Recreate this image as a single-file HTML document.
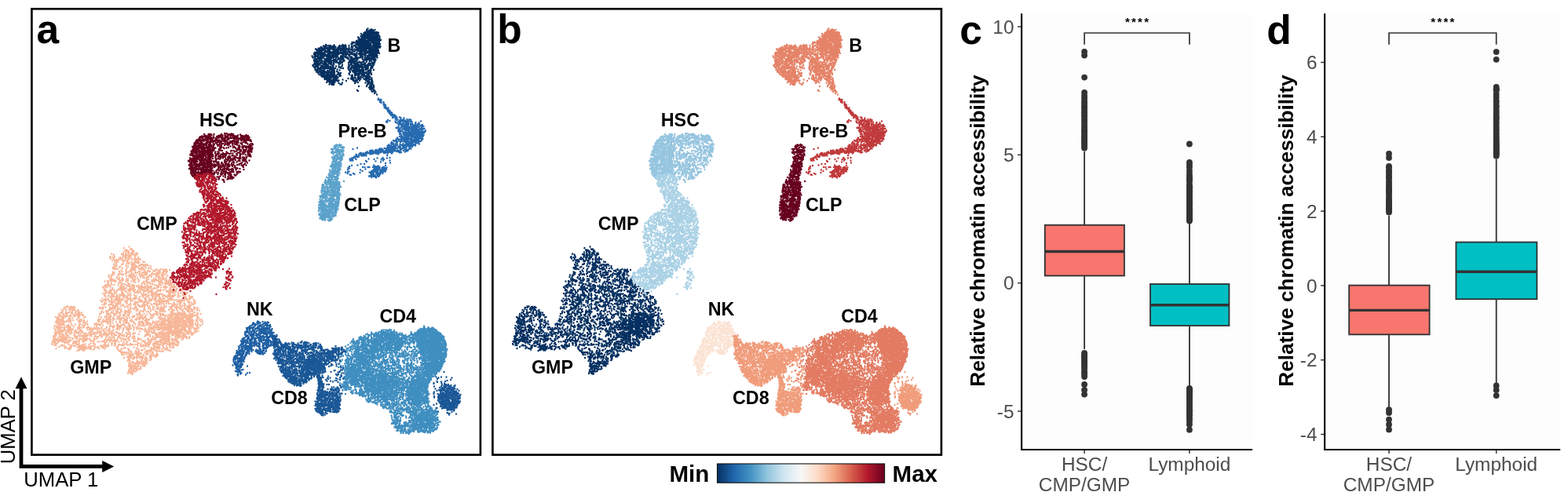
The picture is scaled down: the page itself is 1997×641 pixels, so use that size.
<!DOCTYPE html>
<html lang="en"><head><meta charset="utf-8"><title>Figure</title>
<style>html,body{margin:0;padding:0;background:#fff}figure{margin:0;width:1997px;height:641px;overflow:hidden}svg{display:block}text{font-family:"Liberation Sans",Arial,Helvetica,sans-serif}.lab{font-weight:700;font-size:23.3px;fill:#000}.pl{font-weight:700;font-size:51.5px;fill:#000}.tk{font-size:24.4px;fill:#4d4d4d}.um{font-size:25.7px;fill:#000}.yt{font-weight:700;font-size:26.2px;fill:#000}.mm{font-weight:700;font-size:29.5px;fill:#000}.st{font-size:15px;fill:#000;letter-spacing:2.2px;font-weight:700}</style></head>
<body>
<figure>
<svg width="1997" height="641" viewBox="0 0 1997 641">
<rect width="1997" height="641" fill="#fff"/>
<!-- panel a -->
<g transform="scale(.5)" fill="none" stroke-linecap="round" stroke-width="4.8">
<path stroke="#f7b799" d="M329 629h0m7 6h0m-4 0h0m-17-3h0m3 5h0m2 3h0m1-3h0m0 2h0m4-1h0m0 2h0m1 0h0m8-4h0m4 4h0m1-2h0m2 3h0m8 4h0m-3 1h0m-5-4h0m-3 4h0m-1-1h0m0 1h0m-2-2h0m-6-2h0m-1 4h0m-2-3h0m-5 3h0m0 1h0m-1-5h0m0 4h0m-6-3h0m-30 4h0m5 2h0m1 2h0m20-3h0m2 1h0m2-1h0m0 2h0m0 3h0m5-2h0m3 2h0m1-2h0m4-3h0m0 2h0m2 1h0m4-3h0m0 5h0m2-2h0m5-3h0m1 1h0m2 2h0m2 2h0m2-4h0m3-1h0m2 8h0m-7 3h0m-2-3h0m-11 0h0m-4-1h0m-1 4h0m-1-2h0m0 2h0m-5-2h0m-2-3h0m-1 3h0m-5-2h0m-3 4h0m-4-3h0m-14-1h0m-3 3h0m-2-2h0m-5 3h0m-1-5h0m-1 2h0m6 8h0m4-3h0m3 3h0m3-2h0m1 2h0m3 0h0m2-4h0m2 0h0m3 1h0m5 1h0m1 3h0m2 0h0m4-3h0m4 2h0m2 1h0m2-4h0m2-1h0m7 0h0m0 2h0m6-1h0m2 4h0m2 0h0m2-4h0m3-1h0m1 5h0m2-5h0m4 1h0m10 7h0m-4-1h0m-10 3h0m-1-3h0m-2 3h0m-2 0h0m-1-2h0m-2 0h0m-3-1h0m-1 4h0m-3 0h0m-4-3h0m-6 1h0m-5-1h0m-8-2h0m-3 0h0m-12 1h0m-2 0h0m-2 0h0m-5 2h0m-2 5h0m4 3h0m2-5h0m2 5h0m12-3h0m3-1h0m1-1h0m8 1h0m5-1h0m2 0h0m6 3h0m1-2h0m1 4h0m3-3h0m3-1h0m2 4h0m9 0h0m3-2h0m1 2h0m3-3h0m3 0h0m1 2h0m3 1h0m1-2h0m3-1h0m3 0h0m2 3h0m6 1h0m0 4h0m-12-4h0m0 5h0m-1-4h0m-6 2h0m-1 1h0m-3 0h0m-8 0h0m-4-4h0m-1 3h0m-1-2h0m-2 2h0m0 2h0m-2 0h0m-1-5h0m-3 4h0m-2-1h0m-1 1h0m-9-3h0m-5-1h0m-14 2h0m-3 1h0m-11 0h0m-1-3h0m-2 4h0m-3 0h0m1 2h0m1 1h0m4 1h0m3-1h0m4 1h0m9 3h0m3-5h0m9 4h0m2-4h0m9 5h0m2-4h0m1 2h0m3-2h0m1 4h0m1-2h0m1-3h0m2 3h0m2 2h0m9-4h0m3 0h0m3 0h0m1 3h0m4-2h0m2 1h0m11-3h0m7 1h0m10 4h0m4-3h0m1 2h0m6 1h0m1-1h0m4-2h0m5 3h0m1-2h0m3 1h0m4-1h0m8 1h0m-6 4h0m-3-2h0m0 5h0m-3-4h0m-4 2h0m-8 0h0m-1 2h0m-2 0h0m-1-4h0m-2 4h0m-1 0h0m-6-3h0m-3-2h0m-2 0h0m-8 2h0m-2-1h0m-4-1h0m-1 5h0m-2 0h0m-2-1h0m-2-3h0m-3 3h0m-4 1h0m-6-3h0m-2 0h0m-4 3h0m-6-1h0m-8 1h0m-2-3h0m-5 1h0m-3 0h0m-5-1h0m-10 0h0m-7 0h0m-13 3h0m-4-2h0m-9 8h0m9-3h0m1-1h0m2 2h0m11 1h0m3-2h0m1-2h0m1 0h0m3 4h0m4-2h0m1 2h0m6-2h0m2-2h0m8 4h0m3 0h0m2-2h0m5 1h0m1 1h0m5-4h0m9 3h0m1-2h0m5 2h0m0 2h0m1 0h0m5-5h0m2 5h0m1-2h0m1 1h0m3 0h0m8 1h0m4-2h0m2-3h0m4 2h0m3 1h0m3-2h0m1 2h0m0 2h0m3-1h0m2-1h0m3-3h0m5 3h0m2-3h0m1 3h0m2-2h0m0 4h0m6-1h0m13 7h0m-9-4h0m-11 4h0m-2-3h0m0 3h0m-3-5h0m-4 5h0m-2-3h0m-2 2h0m-4-3h0m-1 2h0m-1 1h0m-10-4h0m-2 4h0m-5-3h0m-2 3h0m-3 0h0m-10-4h0m-1 5h0m-5-3h0m-1 2h0m-1-4h0m-10 1h0m-3 2h0m-4-2h0m-2 0h0m0 2h0m-2 2h0m-2-4h0m-1 2h0m0 2h0m-4-2h0m-1-1h0m-6 0h0m-20-2h0m-4 4h0m-12-4h0m-2 0h0m-1 4h0m-6 0h0m3 5h0m3 2h0m1-3h0m3 2h0m10-4h0m4 3h0m3-3h0m1 5h0m6-5h0m0 4h0m2-1h0m1 2h0m8-2h0m4 0h0m10-2h0m1 1h0m2 2h0m4-4h0m0 1h0m2 4h0m5-4h0m3 4h0m13-5h0m3 0h0m4 5h0m1-5h0m4 4h0m14-2h0m3 3h0m3-1h0m6 1h0m1-2h0m4-2h0m4 4h0m1-1h0m3-3h0m2 3h0m4-4h0m1 5h0m9-2h0m0 2h0m2 2h0m0 3h0m-2 1h0m-2-4h0m-3 3h0m-4-3h0m0 4h0m-3-4h0m-8 4h0m-2 0h0m-1-5h0m0 3h0m-4 1h0m-2-4h0m-2 1h0m-3 0h0m-6 1h0m0 2h0m-3-3h0m-3-1h0m0 5h0m-12 0h0m-1-5h0m-1 3h0m-2 1h0m-5 0h0m-12-4h0m-1 4h0m-11-3h0m-1 2h0m-1-1h0m0 2h0m-5-1h0m-9-2h0m-3 1h0m-2 1h0m-10-1h0m-4-1h0m-2 1h0m-10-1h0m0 2h0m-3 1h0m-1-4h0m-2 1h0m-4 1h0m-4-1h0m-4 3h0m-3-2h0m-7 1h0m7 4h0m2 4h0m7-4h0m1 2h0m1 2h0m17-4h0m3 0h0m2 0h0m2 0h0m3 3h0m5 0h0m2 1h0m7-4h0m1 4h0m4-2h0m14-3h0m16 5h0m2-4h0m5 2h0m1 1h0m7-2h0m1-1h0m1-1h0m2 0h0m2 3h0m1 1h0m6 0h0m16-4h0m0 4h0m3-3h0m6 0h0m5 2h0m2-2h0m1 3h0m1-4h0m0 2h0m3 1h0m2 2h0m1-5h0m2 2h0m3 1h0m1-3h0m2 3h0m0 2h0m7 0h0m9 5h0m-6 1h0m-4-1h0m-2-1h0m-5-1h0m-5-1h0m-9 3h0m-3 1h0m-2-1h0m-6-4h0m-2 0h0m-5 2h0m-3 2h0m-3-3h0m-4-1h0m-8 4h0m-1 0h0m-6 0h0m-1 1h0m-3-1h0m-1-3h0m-5 3h0m-7-1h0m-4 1h0m-5-3h0m-1 4h0m-4-2h0m-6-1h0m-1 1h0m-2-3h0m-1 1h0m-1-1h0m-1 2h0m-5 1h0m0 1h0m-2-1h0m-2 0h0m-1-2h0m-3 1h0m-8 2h0m-1 1h0m-4-5h0m0 5h0m-3-2h0m-6-2h0m-10-1h0m-10 5h0m-1-4h0m-4 2h0m-4-3h0m-1 5h0m-1-5h0m-1 5h0m-1-1h0m-2-1h0m-4 3h0m3 3h0m7-2h0m14 1h0m16 3h0m3 0h0m1-5h0m2 3h0m2 2h0m3-4h0m0 3h0m3-1h0m1 2h0m1-2h0m4-1h0m8 1h0m3 0h0m0 1h0m4-4h0m0 4h0m2 0h0m2 0h0m1-4h0m12 4h0m1-4h0m3 3h0m2-2h0m0 4h0m2 0h0m1-5h0m3 0h0m2 3h0m2-2h0m4 2h0m3-2h0m0 3h0m1 1h0m4-5h0m1 2h0m1-2h0m0 3h0m5 2h0m3-3h0m3 1h0m5-1h0m4-2h0m6 1h0m7 0h0m2-1h0m2 5h0m2-5h0m2 0h0m8 1h0m0 1h0m1 2h0m4-4h0m2 0h0m2 5h0m2-4h0m6 3h0m7 0h0m8 3h0m-1 4h0m-7-3h0m-8-2h0m-1 5h0m-2-4h0m0 2h0m-1-2h0m0 4h0m-4-1h0m-1-3h0m-2 0h0m-3 3h0m-2 0h0m-1-4h0m-2 4h0m-2 1h0m-1 0h0m-2-2h0m-1 2h0m-8-3h0m-6 0h0m-1-1h0m-1 3h0m-1-2h0m-4 0h0m-1 2h0m-1-1h0m-13 2h0m-2-3h0m-1 3h0m-4-1h0m-4-1h0m-1-2h0m-1 2h0m-2-1h0m-3 2h0m-3-4h0m0 4h0m-2-2h0m-7 0h0m-2 3h0m-3 0h0m-2-3h0m-1 3h0m-6-4h0m-2 2h0m-1 2h0m-1-1h0m-5-3h0m-2 2h0m-2-2h0m-2-1h0m0 5h0m-3-4h0m-6 3h0m-2-2h0m-2-1h0m-4-1h0m-1 1h0m-1 4h0m-1-4h0m-3-1h0m-2 0h0m-6 2h0m0 2h0m-6 1h0m-2-4h0m-2-1h0m-4 2h0m0 1h0m-3-3h0m0 5h0m-2-2h0m-9-1h0m-3-2h0m-1 2h0m-4 8h0m5 0h0m2-3h0m0 3h0m4-3h0m4 2h0m1-3h0m1 3h0m2-2h0m0 2h0m2-1h0m3 2h0m6-3h0m3 1h0m15 1h0m1 2h0m2-4h0m1 3h0m8-4h0m4 4h0m6 0h0m12-2h0m4-1h0m3-1h0m1 3h0m7 0h0m7-2h0m11 2h0m5-3h0m3 2h0m1 1h0m1-2h0m1 3h0m2 1h0m3-3h0m0 2h0m3 1h0m2-5h0m1 5h0m6 0h0m4 0h0m4 0h0m16-5h0m1 2h0m2 3h0m2-3h0m4-2h0m1 3h0m2-1h0m2 0h0m11 0h0m6 1h0m9-1h0m5 0h0m4 0h0m4 8h0m-8-4h0m-2 0h0m-4 2h0m-3-1h0m-7 4h0m-4-3h0m-1-2h0m-7 1h0m0 1h0m-3 3h0m-1-2h0m-2 0h0m-4 2h0m-1-2h0m-2 0h0m-1 1h0m-1 0h0m-2-3h0m-1 2h0m-6 2h0m-1-1h0m-2 0h0m-1-2h0m-2 1h0m-2 2h0m-8-2h0m-3 1h0m0 1h0m-1-5h0m-2 2h0m-1-1h0m-2 2h0m-1 2h0m-5-3h0m0 3h0m-4-2h0m-1-1h0m-7 0h0m0 2h0m-3 1h0m-4-5h0m0 5h0m-2-3h0m-2-1h0m-2-1h0m-2 4h0m-2-3h0m0 3h0m-15 0h0m-5-2h0m-9 0h0m-1 3h0m-1-3h0m-5 0h0m-7 1h0m-3-1h0m0 2h0m-1-2h0m-3 2h0m-1-2h0m-2 0h0m-4-1h0m0 4h0m-6-1h0m-1-3h0m-7-1h0m-3 3h0m-4-1h0m-7 1h0m-2 2h0m-6 0h0m-3-3h0m0 2h0m-5 7h0m8 0h0m12-4h0m3 3h0m1-3h0m2-1h0m4 0h0m5 0h0m0 1h0m0 3h0m2-3h0m1 1h0m1 3h0m2-2h0m1 2h0m2-3h0m10 1h0m1-3h0m5 3h0m2-3h0m2 1h0m0 2h0m8 1h0m7 1h0m3-2h0m1-2h0m3 2h0m0 2h0m8 0h0m1-4h0m9 0h0m4 3h0m3 1h0m8-1h0m1 1h0m7-5h0m1 5h0m6-1h0m2-4h0m1 4h0m8-1h0m1-1h0m0 3h0m3 0h0m6-1h0m3 1h0m6-4h0m4 0h0m5 0h0m1 4h0m2-4h0m1 4h0m2-5h0m13 1h0m14 0h0m4 0h0m2 3h0m1-3h0m8 4h0m1-3h0m1 2h0m3-4h0m2 1h0m0 3h0m1-3h0m4 7h0m-11-1h0m-6 1h0m-1-2h0m-2 0h0m-2 1h0m-3 4h0m-4-2h0m-2-1h0m-2 2h0m-3 0h0m-1-2h0m-3 3h0m-5-3h0m-5 1h0m-5-1h0m-4 1h0m-4-3h0m-2 5h0m-1-4h0m-2 4h0m-3-1h0m-7 1h0m-1-3h0m-2 2h0m-2 0h0m-2 1h0m-4-2h0m-2 0h0m0 2h0m-6-2h0m-2-2h0m0 4h0m-2-3h0m-7-1h0m0 3h0m-1-1h0m-3 1h0m-3 0h0m-7-1h0m-3-2h0m-7 3h0m-3 1h0m-1-2h0m-3 1h0m-2-4h0m-10 1h0m-6 3h0m-4-2h0m-2-2h0m-3 0h0m-3 0h0m0 2h0m-2 3h0m-4-1h0m-6-4h0m-2 4h0m-1-2h0m-3-1h0m-3 2h0m-3 2h0m-2-4h0m-1 2h0m-2-3h0m0 3h0m-3 1h0m-2-3h0m-6-1h0m-1 4h0m-6 0h0m-2-3h0m-2-1h0m-4 4h0m-4-2h0m-2 2h0m-6 1h0m-1-1h0m3 3h0m6 4h0m2-2h0m2 2h0m8-5h0m5 2h0m0 1h0m2 2h0m1-5h0m0 3h0m3-2h0m4 3h0m5 1h0m2-1h0m1-2h0m2-1h0m0 2h0m3-3h0m1 3h0m12-1h0m5 0h0m9-2h0m10 4h0m1-2h0m4 0h0m1 2h0m2-2h0m5-1h0m4-1h0m4 3h0m4-1h0m2-2h0m2 1h0m2 2h0m4-1h0m19 3h0m3-4h0m6-1h0m0 3h0m2-2h0m0 3h0m4 0h0m1-1h0m1-3h0m1 0h0m1 3h0m4-3h0m4 1h0m5 2h0m13 1h0m2 0h0m8-4h0m1 1h0m2-1h0m2 2h0m3 2h0m2-2h0m1-2h0m6 5h0m9-5h0m3 3h0m1 1h0m1-3h0m5 3h0m6-3h0m3-1h0m0 5h0m-4 2h0m-1 1h0m-1-1h0m-4 3h0m-4-1h0m-11 1h0m-1-2h0m-1-2h0m-5 5h0m-6-4h0m0 2h0m-2-2h0m-6 0h0m0 4h0m-5-2h0m-1 1h0m-2-2h0m-4 1h0m-4-3h0m-5 0h0m-6 0h0m-6 1h0m0 4h0m-7-2h0m-5-3h0m0 1h0m-2 1h0m-2 0h0m-2-1h0m0 2h0m-1-1h0m-3-1h0m-1-1h0m-3 0h0m-5 3h0m-4-3h0m-6 0h0m-3 2h0m-4 2h0m-2-3h0m-3 1h0m-3 3h0m-9-2h0m-2 1h0m-6-3h0m-4 1h0m-8 0h0m-1-2h0m-4 3h0m-5-3h0m-8 4h0m-2 1h0m-1-2h0m-5-2h0m-5 0h0m-2-1h0m-2 4h0m-2 1h0m-1-3h0m-1 3h0m-6-1h0m-2-4h0m-1 3h0m-1-1h0m-3 0h0m-4 1h0m-7-3h0m-4 2h0m-5 0h0m-98 9h0m1-1h0m5-3h0m0 3h0m3-3h0m1 0h0m4 4h0m3-3h0m2 0h0m0 3h0m4-2h0m2-1h0m0 3h0m3-1h0m64-1h0m7 2h0m1-3h0m6 1h0m11 0h0m3 2h0m5-2h0m1-1h0m1-2h0m2 2h0m0 1h0m2 0h0m6-1h0m7-1h0m11 2h0m5-3h0m3 3h0m6-2h0m0 4h0m12-1h0m1-4h0m2 4h0m7-4h0m3 1h0m4 1h0m2-2h0m3 0h0m2 1h0m0 4h0m8-5h0m5 1h0m0 1h0m9 0h0m2 0h0m7-2h0m4 3h0m6 0h0m3 1h0m4 0h0m2 0h0m2-3h0m3 0h0m10 1h0m4 0h0m1 3h0m3-5h0m5 3h0m2 2h0m2-4h0m1 1h0m5 2h0m2-3h0m5 2h0m7-3h0m2 5h0m5-2h0m1-3h0m2 4h0m1-3h0m2-1h0m1 1h0m0 3h0m10-1h0m1 1h0m3 1h0m6-1h0m4 7h0m-5-4h0m-1 4h0m-7-4h0m-4 3h0m-2 0h0m-1-2h0m-3-1h0m-4 0h0m0 2h0m-4 1h0m0 1h0m-2-2h0m-1-2h0m-5 0h0m-4 3h0m-3-1h0m-2-1h0m-1-1h0m-8-1h0m-1 2h0m-6 3h0m-4-1h0m-2 1h0m-1-5h0m-3 1h0m-4 3h0m-12 1h0m-1-5h0m-2 0h0m0 4h0m-2-4h0m-2 2h0m-2-1h0m-1 4h0m-1-2h0m-4-2h0m-4-1h0m0 1h0m-8 2h0m-2-2h0m-6 0h0m-5-1h0m-9 4h0m-2-3h0m0 3h0m-16-1h0m-2 0h0m0 2h0m-1-5h0m-6 2h0m-3-2h0m-6 0h0m0 2h0m-4 3h0m-2-2h0m-8 2h0m-10-3h0m-1 2h0m-4-3h0m-1 1h0m-4-1h0m-6 0h0m-2 0h0m-5 0h0m-3 0h0m-2 2h0m-1-3h0m-2 4h0m-2 1h0m-13-4h0m-4-1h0m-5 0h0m-55 4h0m-9 0h0m-3-1h0m-2 2h0m-2-4h0m-4 1h0m-2 0h0m-1 0h0m-8 2h0m-5-2h0m-6 2h0m-2 7h0m3-1h0m2-3h0m8 2h0m4 2h0m4-1h0m3-4h0m5 3h0m8 2h0m1-4h0m0 4h0m5-5h0m1 2h0m0 3h0m2 0h0m2-1h0m5 1h0m50-2h0m1-2h0m5 3h0m6-3h0m2 1h0m2-1h0m0 3h0m1-2h0m9 1h0m0 2h0m3 0h0m2-5h0m7 1h0m1 3h0m2-4h0m2 4h0m4 1h0m3-2h0m2-1h0m8 1h0m1 2h0m2 0h0m1-3h0m2 0h0m3-2h0m0 3h0m0 2h0m4-3h0m2 1h0m14-3h0m8 3h0m3-3h0m5 1h0m2 1h0m8 1h0m5-1h0m6-2h0m12 1h0m4 2h0m1 2h0m6-4h0m0 4h0m4-5h0m3 2h0m6 0h0m15 1h0m4-2h0m1 2h0m0 2h0m12-5h0m4 4h0m9-3h0m4 2h0m9-2h0m1 1h0m2-2h0m2 3h0m0 2h0m4-4h0m4 0h0m5 3h0m15 4h0m-7-1h0m-1-1h0m0 3h0m-3 2h0m-8-4h0m-4 1h0m-2 1h0m-2 2h0m-3-1h0m-5 1h0m-3-3h0m-2-1h0m0 2h0m-1 2h0m-1-5h0m-1 2h0m-3 0h0m-1-2h0m-4 2h0m0 2h0m-1-4h0m-2 1h0m-1 3h0m-1 0h0m-2-2h0m-1-2h0m-1 2h0m0 3h0m-1-3h0m-1 2h0m-1 0h0m-1-1h0m-1-2h0m-1 3h0m-3-3h0m-2 3h0m-1-2h0m-2-1h0m0 4h0m-2-4h0m0 2h0m-6 1h0m-13-2h0m-2 3h0m-3-3h0m0 2h0m-3-2h0m0 3h0m-7-4h0m0 4h0m-1-1h0m-1-3h0m-1 1h0m-4 0h0m-1 1h0m-3 2h0m-1-1h0m-6-1h0m-2-3h0m-7 4h0m-7-2h0m-10-1h0m-1 2h0m-2-1h0m-1 1h0m-5-1h0m-18-1h0m-2 4h0m-3-1h0m-7-3h0m-1 3h0m-3 0h0m0 1h0m-7 0h0m-2-3h0m-8 1h0m-1-2h0m-4 2h0m0 2h0m-1-4h0m-1 2h0m-9-1h0m-5 0h0m0 2h0m-3-1h0m-1-3h0m-14 0h0m-4 2h0m-42 3h0m-3-1h0m-5 1h0m-1-5h0m-2 3h0m-1-3h0m-2 4h0m-1-2h0m-5 2h0m-7-2h0m-1-2h0m-3 0h0m-11 2h0m-3-1h0m-5 2h0m-2-1h0m-6 3h0m-4-3h0m-8 8h0m7-3h0m0 3h0m5-2h0m1-2h0m2 4h0m4 0h0m1-2h0m1-2h0m3 3h0m2-2h0m0 2h0m4-2h0m5 1h0m2-2h0m2 1h0m7-1h0m2 2h0m1-2h0m2 0h0m6 2h0m0 2h0m1-3h0m2 1h0m0 2h0m9-4h0m3 5h0m3-1h0m36-2h0m5 3h0m9-1h0m3-1h0m1-2h0m5 3h0m4-2h0m1-1h0m0 3h0m1 0h0m1-2h0m8-2h0m1 1h0m7 2h0m2 1h0m1-1h0m3-2h0m6 4h0m6-3h0m5 1h0m1 1h0m5-3h0m9 2h0m2 0h0m0 2h0m3-4h0m1 1h0m7-1h0m6 2h0m2 2h0m1-5h0m3 5h0m1-5h0m5 5h0m2-3h0m1 3h0m13-1h0m2-4h0m4 3h0m14 2h0m4-2h0m9-3h0m4 0h0m1 1h0m5 0h0m1 4h0m5-5h0m0 5h0m1-3h0m2-1h0m1 2h0m2-1h0m4 2h0m3 0h0m2-3h0m0 2h0m2-2h0m0 4h0m2-2h0m2-3h0m0 4h0m5-4h0m2 0h0m0 5h0m2-5h0m2 1h0m2 0h0m2 1h0m2 2h0m1-3h0m1 2h0m1 1h0m2-2h0m0 2h0m3 0h0m1 1h0m1-4h0m0 2h0m3 2h0m1-1h0m2 1h0m1-4h0m2 3h0m2-4h0m3 0h0m2 0h0m5 5h0m2-3h0m9 8h0m-6-3h0m-5 2h0m-11 2h0m-4-4h0m-2 1h0m-1 3h0m-1-1h0m-1-2h0m-3 0h0m0 2h0m-2-1h0m-2 1h0m-1-4h0m0 5h0m-6-5h0m-1 5h0m-1-5h0m-1 2h0m-1-1h0m0 3h0m-2 1h0m-1-4h0m-2 1h0m-2-2h0m0 2h0m-2-1h0m0 2h0m0 2h0m-3-1h0m-1-2h0m-1 0h0m-1 2h0m-3-4h0m-1 0h0m0 2h0m-2-2h0m0 2h0m-1 3h0m-4-1h0m-1-3h0m-2-1h0m-3 2h0m0 3h0m-1-3h0m-3 0h0m-5 3h0m-3-5h0m-1 2h0m-2 3h0m-2-2h0m-3-2h0m-1-1h0m-3 5h0m-1-3h0m-20-1h0m-3-1h0m-4 4h0m-1 1h0m-4-1h0m-3-1h0m0 2h0m-6-4h0m-2 3h0m-1-4h0m-2 0h0m-3 1h0m-3 1h0m-1 2h0m-1-3h0m-4 0h0m-1 4h0m-3-1h0m-11 1h0m-4-5h0m-6 2h0m-3 2h0m-4 1h0m-1-3h0m-4-2h0m-3 5h0m-2-4h0m-2 1h0m-2 1h0m-1-3h0m-4 3h0m-7 0h0m-3-3h0m0 4h0m-6 0h0m-3-1h0m-1-2h0m-3 3h0m-2 0h0m-2-4h0m0 4h0m-8 1h0m-8-1h0m-4-1h0m-44 1h0m-4 1h0m-3-5h0m-4 4h0m-11-4h0m-6 1h0m-3 0h0m-1 3h0m-13-2h0m-2-2h0m-2 3h0m-3 2h0m-4-1h0m-1-2h0m-2 0h0m-2-1h0m-2-1h0m-2 11h0m1-1h0m2-4h0m1 0h0m0 2h0m1-1h0m2 0h0m0 4h0m3 0h0m2-5h0m0 4h0m0 1h0m3-5h0m2 0h0m0 4h0m1-3h0m0 4h0m2-3h0m2 3h0m4-1h0m1-1h0m2-2h0m4 3h0m2-4h0m3 0h0m0 2h0m0 1h0m6-3h0m14 2h0m1 2h0m4-1h0m2-1h0m6-1h0m1-1h0m2 5h0m6-2h0m27-1h0m3-1h0m1 3h0m8-1h0m2 1h0m2 0h0m3-3h0m1 2h0m2-2h0m2 4h0m2-1h0m3-1h0m2-2h0m2 2h0m6-3h0m8 4h0m9-1h0m1-2h0m8 2h0m4-2h0m2 0h0m0 4h0m2-1h0m2-3h0m8 1h0m2 1h0m1-2h0m2-1h0m2 5h0m2 0h0m13-1h0m2 1h0m3 0h0m2-2h0m3 2h0m5-3h0m1-2h0m0 1h0m0 2h0m3-1h0m4-2h0m13 3h0m7 1h0m4 1h0m2-3h0m4 3h0m5 0h0m1-5h0m0 1h0m0 2h0m3 0h0m0 2h0m3-1h0m2-3h0m0 2h0m0 2h0m2-4h0m1 0h0m3 0h0m2 3h0m1-4h0m0 2h0m0 2h0m2-1h0m1-2h0m3 2h0m3 1h0m2 0h0m1 1h0m2-1h0m1-3h0m1 3h0m1-4h0m1 4h0m1-2h0m2-2h0m0 2h0m2-1h0m0 2h0m1-2h0m0 3h0m3-4h0m1 4h0m1-4h0m1 4h0m4-1h0m2-3h0m0 3h0m1 2h0m1-5h0m1 2h0m1-1h0m2 4h0m1-2h0m5-2h0m0 4h0m2-1h0m1-3h0m3 3h0m2 0h0m1-2h0m1-2h0m3 4h0m1-2h0m8-2h0m0 2h0m2-1h0m1 4h0m6-5h0m4 4h0m3-1h0m0 7h0m-12 0h0m-7-2h0m-6 0h0m-1-2h0m-2 0h0m0 2h0m-1 1h0m-1-3h0m0 2h0m-3-1h0m-1-1h0m0 4h0m-1-3h0m0 4h0m-6-3h0m-2 2h0m-2-3h0m-1 4h0m-1-5h0m-3 2h0m0 2h0m-2-2h0m-1-2h0m-4 0h0m0 5h0m-1-4h0m-2 0h0m0 2h0m0 2h0m-2-4h0m-1-1h0m-1 5h0m-1-5h0m0 2h0m-2-1h0m0 3h0m-1-4h0m-1 1h0m-2 4h0m-2-4h0m0 2h0m-5-2h0m0 4h0m-1-2h0m-1-3h0m-2 1h0m0 3h0m-2 1h0m-2-5h0m0 4h0m-2-4h0m0 3h0m-4 2h0m-3-1h0m-3-3h0m-1 1h0m-2 1h0m0 2h0m-4-2h0m-1 2h0m-2-2h0m-1 2h0m-7-4h0m-1 2h0m-2 2h0m-1-1h0m-3-3h0m-1-1h0m-3 1h0m-4 4h0m-3-2h0m-1-2h0m-1 1h0m-1 0h0m-2-2h0m-1 3h0m-3-3h0m-1 4h0m-6-2h0m-1 2h0m-2-1h0m-2-3h0m-4 5h0m-3-3h0m-1 1h0m-8 2h0m-2-3h0m-13 3h0m-2-3h0m-4-2h0m-2 2h0m-3-1h0m-5 2h0m-7-3h0m-2 0h0m-5 4h0m-13-3h0m-6 0h0m-5 2h0m-3-2h0m-14 0h0m-2 4h0m-5-1h0m-3 0h0m-4-2h0m-4 2h0m-18 1h0m-2-2h0m-4-1h0m-5-2h0m-7 4h0m-3-1h0m-10 2h0m-11-3h0m-18 3h0m-1 0h0m-2-4h0m-1 3h0m-1 0h0m-3-2h0m-3 2h0m-2-3h0m0 3h0m-3-4h0m-2 3h0m-6 5h0m4 3h0m4-3h0m0 2h0m4 1h0m2-4h0m3-1h0m2 0h0m5 1h0m6 4h0m2-3h0m2 0h0m1-2h0m2 2h0m0 3h0m2-1h0m5-3h0m5 3h0m14-2h0m8-1h0m4 1h0m0 3h0m2-5h0m25 0h0m5 0h0m0 4h0m7-3h0m9 0h0m10 4h0m8 0h0m1-5h0m1 2h0m4 2h0m4-2h0m1 3h0m6-4h0m2 4h0m2-4h0m1 3h0m3-1h0m2-1h0m1-1h0m3 0h0m5-1h0m3 4h0m8-2h0m2 2h0m2 1h0m1-2h0m6-2h0m1 2h0m12 2h0m3-3h0m1-2h0m6 2h0m4 0h0m3 0h0m6-2h0m2 0h0m6 0h0m0 3h0m5-3h0m5 3h0m4 0h0m3-3h0m3 3h0m1-3h0m1 3h0m1-3h0m5 3h0m1-2h0m1 2h0m0 2h0m2-4h0m3-1h0m3 5h0m1-4h0m4 4h0m2-4h0m1 3h0m1-4h0m0 1h0m2 2h0m1-2h0m0 3h0m2-2h0m0 2h0m1-3h0m1 0h0m2 2h0m1 2h0m3-3h0m1-1h0m2 4h0m1-5h0m1 4h0m1-2h0m1-2h0m0 4h0m2 0h0m2 0h0m3-3h0m0 4h0m2-4h0m2 1h0m0 2h0m2-2h0m1 2h0m1-4h0m0 5h0m1-2h0m1-1h0m1 0h0m2 1h0m1 2h0m3-2h0m1-2h0m0 4h0m2-5h0m2 4h0m4 0h0m2-2h0m1-2h0m2 0h0m1 2h0m3-2h0m0 3h0m8-3h0m3 3h0m1-2h0m6 0h0m2 1h0m-5 5h0m-2 2h0m-2-1h0m-3 1h0m-4 2h0m-1-3h0m-5-1h0m-4 1h0m-1 3h0m-1-4h0m-2 0h0m0 2h0m-9-2h0m-3 0h0m0 1h0m-2 0h0m0 2h0m-1-3h0m-1 4h0m-1-2h0m-2 1h0m-1 1h0m-5 0h0m-2-4h0m-1 3h0m-1-4h0m-1 4h0m-1 1h0m-1-3h0m-1-2h0m-2 4h0m-1-2h0m-2-1h0m-5-1h0m-1 5h0m-1-2h0m-2-2h0m0 2h0m-2-1h0m-2 0h0m-2 2h0m-1-3h0m-1 2h0m-2-3h0m0 4h0m-2-1h0m-1-3h0m-1 4h0m-2-1h0m-1-2h0m-2-1h0m0 2h0m0 2h0m-3 1h0m-2-5h0m-1 2h0m-1 2h0m-2 1h0m-1-5h0m0 3h0m-2-3h0m-4 1h0m-3 0h0m-4 0h0m-2 4h0m-1-4h0m0 2h0m-3 2h0m-1-1h0m-1-4h0m-1 4h0m-4-3h0m-1 4h0m-8-2h0m-8 1h0m-2 1h0m-3-3h0m-3 2h0m-5 1h0m-2-4h0m-6-1h0m0 2h0m-7 1h0m-5-2h0m-2 4h0m-3-2h0m-1-2h0m-1 0h0m0 2h0m-7-1h0m-1 3h0m-6-4h0m-4-1h0m0 5h0m-4 0h0m-1-3h0m-2 3h0m-9-4h0m-8 4h0m-2 0h0m-7-2h0m-5 2h0m-7-5h0m0 4h0m-6-1h0m0 2h0m-3-3h0m-5 1h0m-1 0h0m-3 1h0m-1-3h0m-2 4h0m-4 0h0m-1-3h0m-5 1h0m0 2h0m-2-5h0m-1 0h0m-3 0h0m-1 2h0m-10-1h0m-6-1h0m-2 2h0m-2-2h0m-2 5h0m-1-4h0m-12 4h0m-4 0h0m-2-3h0m-4-1h0m0 3h0m-1-2h0m-2-2h0m-9 0h0m0 3h0m-5-2h0m-3-1h0m-2 2h0m-2 3h0m-4-3h0m0 3h0m-3-3h0m-7 0h0m3 4h0m0 3h0m5 1h0m5-1h0m1-2h0m1 2h0m1-2h0m3 4h0m1-3h0m2 1h0m2-1h0m1-2h0m3 0h0m1 5h0m5-5h0m0 2h0m2 3h0m1-5h0m0 3h0m4-1h0m1-2h0m3 2h0m7 2h0m3-2h0m1 1h0m10-3h0m0 4h0m3-3h0m2 4h0m1 0h0m13-5h0m7 0h0m1 5h0m3-2h0m14-2h0m1 4h0m8-1h0m6-3h0m1 2h0m7 0h0m5-2h0m2 3h0m0 1h0m5 0h0m5-3h0m1-1h0m24 2h0m11-3h0m2 1h0m1 3h0m3-4h0m11 1h0m15 4h0m11-4h0m3-1h0m0 5h0m3 0h0m1-2h0m4 2h0m3-3h0m0 3h0m5 0h0m6-2h0m0 2h0m2-4h0m6-1h0m3 0h0m4 0h0m6 5h0m2-1h0m3-4h0m3 2h0m5-1h0m4 3h0m1-3h0m0 3h0m2 0h0m1-2h0m2 1h0m0 2h0m2-3h0m3 1h0m0 2h0m2-2h0m2-3h0m1 4h0m1 1h0m1-4h0m3 4h0m1-2h0m3 1h0m3-4h0m0 2h0m1-1h0m0 4h0m1 0h0m3-2h0m6-1h0m1 2h0m2-4h0m1 3h0m1-2h0m1 4h0m6-4h0m0 2h0m0 2h0m5-2h0m12-2h0m1 2h0m1-3h0m5 4h0m-5 2h0m-4 0h0m-3 3h0m-3 1h0m-2-2h0m-1 2h0m-4-4h0m-2 0h0m0 5h0m-2-1h0m-2-4h0m-1 4h0m-1-3h0m-5 3h0m-1 1h0m-2-1h0m-1-1h0m-1 2h0m-1-2h0m-1-3h0m-1 2h0m-3 2h0m-1-4h0m-3 2h0m-1 2h0m-1-4h0m-1 4h0m-1-3h0m-2 4h0m-1-4h0m-1 3h0m-1-3h0m-1 1h0m-2-2h0m0 4h0m-1-2h0m-1 3h0m-2-1h0m-1-4h0m0 2h0m-3-1h0m0 1h0m-2-2h0m0 4h0m-1-2h0m0 3h0m-4-4h0m0 3h0m-1-4h0m-1 3h0m0 2h0m-3-3h0m0 2h0m-3 0h0m-3-3h0m-1 2h0m-3 2h0m-2-5h0m0 2h0m0 2h0m-4-3h0m-1 2h0m-1 0h0m-1-1h0m-6 2h0m-3-2h0m-2-2h0m0 2h0m-3 1h0m-3-1h0m-9 3h0m-1-2h0m0 1h0m-2-2h0m0 3h0m-31-2h0m-4 0h0m-8 1h0m-3-4h0m-1 5h0m-4 0h0m-2-3h0m-11 1h0m-6 1h0m-4-1h0m-3-2h0m-3-1h0m-4 5h0m-4-3h0m0 1h0m-2-3h0m-1 2h0m-5 1h0m-1 2h0m-5-2h0m-4 2h0m-1-3h0m-2-2h0m-2 5h0m-6-5h0m-1 1h0m-1-1h0m-1 4h0m-1-1h0m-1-3h0m0 1h0m-5 0h0m-1 3h0m-1-1h0m-4-1h0m-2 3h0m-2-2h0m0 1h0m-1-3h0m-6 1h0m-1 3h0m-3-4h0m-8 2h0m-5 0h0m-5-2h0m-4 3h0m-4-4h0m-1 4h0m-3-2h0m-2 1h0m-1-3h0m-3 0h0m-2 5h0m-6-3h0m-1-1h0m-4 2h0m-2-3h0m-4 1h0m-4 1h0m-1 2h0m-7-4h0m-6 3h0m-1-2h0m-1 3h0m-1-2h0m-4 1h0m-4-1h0m0 3h0m-1-1h0m-1-2h0m-1 1h0m0 2h0m-4 6h0m4-1h0m1 1h0m1-4h0m1 2h0m8-2h0m1 3h0m5-4h0m1 5h0m2-5h0m1 2h0m2 1h0m6 1h0m1-3h0m1 2h0m1 1h0m1-1h0m6-3h0m10 1h0m0 2h0m2 1h0m2 1h0m7-1h0m2 0h0m4 0h0m1 1h0m4-3h0m0 3h0m2-3h0m1 2h0m3 1h0m1-4h0m2 4h0m1-1h0m3-4h0m0 3h0m1-2h0m5 2h0m1 1h0m2 1h0m1-5h0m9 3h0m11-1h0m2 1h0m3-2h0m4 0h0m2-1h0m2 0h0m2 2h0m3 0h0m1 2h0m2-1h0m2-3h0m6 0h0m2 0h0m0 3h0m6-2h0m1 2h0m4-1h0m5 3h0m3-3h0m4-1h0m3 3h0m3-1h0m2-1h0m0 3h0m6-1h0m1 0h0m3-4h0m6 3h0m7-3h0m3 5h0m11-5h0m16 5h0m1-2h0m2-3h0m1 2h0m3 0h0m0 1h0m5-3h0m1 1h0m0 2h0m8 2h0m6-4h0m1 1h0m2 0h0m0 2h0m1-4h0m1 3h0m0 1h0m4-3h0m0 4h0m2-5h0m2 0h0m1 5h0m1-3h0m4 0h0m1 1h0m0 1h0m1-4h0m1 3h0m1-2h0m2 0h0m0 2h0m1-1h0m1 3h0m3-1h0m1-3h0m1 1h0m2-2h0m0 2h0m1-1h0m7 2h0m1-2h0m3 0h0m5-1h0m0 4h0m2 1h0m2-2h0m1 1h0m1-2h0m1-1h0m1 3h0m2 0h0m1-2h0m1 2h0m2 0h0m5-2h0m3 2h0m3-2h0m15-2h0m2 1h0m3-1h0m-9 6h0m-1 4h0m-5 0h0m-2-4h0m-1 3h0m-2-3h0m-4 1h0m-1 2h0m-1-2h0m-4 1h0m-2-2h0m-4 3h0m-1-1h0m-1 1h0m-1-3h0m-4 5h0m-1-3h0m-1-2h0m-9 5h0m-6-5h0m-1 2h0m0 1h0m-2-3h0m0 3h0m-1 1h0m-1-4h0m-3 5h0m-1-1h0m-1-2h0m-1 0h0m-2-1h0m-1 2h0m-2-1h0m-3 0h0m0 3h0m-1-4h0m-2 0h0m-1 1h0m-1 0h0m-4-1h0m-3-1h0m0 1h0m-3-1h0m-1 3h0m-2 2h0m-1-2h0m-5-1h0m-7-2h0m-5 5h0m-25-1h0m-9-3h0m-4 2h0m-1-2h0m-1 2h0m-7-3h0m-2 2h0m0 3h0m-2-1h0m-4-4h0m-9 5h0m-3 0h0m-4-1h0m-1-3h0m-5 2h0m-9 0h0m-2-2h0m-4 2h0m-5-2h0m-2 2h0m-1 1h0m-6-3h0m-1 1h0m-10-2h0m-1 1h0m-8 0h0m-3-1h0m-1 3h0m-1 2h0m-4-5h0m-1 5h0m-13 0h0m-6-1h0m-5 1h0m-2-3h0m-3 0h0m-9 3h0m-6 0h0m-1-5h0m-2 3h0m-2 0h0m-1-1h0m-6 2h0m-6-1h0m-4-1h0m-5 3h0m-1-5h0m-2 3h0m-2-1h0m-2 2h0m-1-2h0m-1 2h0m-2-3h0m0 1h0m-1 2h0m-2-4h0m-1 2h0m0 3h0m-6-3h0m-8 3h0m-3-4h0m-2 4h0m1 4h0m1-1h0m1 2h0m1-4h0m2 4h0m2-1h0m1-3h0m3 5h0m1-3h0m3-1h0m0 4h0m1-4h0m3 3h0m3-2h0m2 2h0m1-2h0m2-1h0m3 0h0m4 1h0m5 2h0m2-1h0m2 1h0m5-4h0m6 5h0m6-1h0m5 0h0m3-4h0m2 0h0m3 3h0m2-2h0m2-1h0m2 3h0m3-3h0m0 4h0m2-2h0m2-2h0m6 1h0m2 3h0m2 1h0m5 0h0m1-5h0m2 2h0m25 1h0m3-2h0m4 2h0m2-1h0m3 1h0m2 2h0m2-3h0m1 1h0m1-3h0m2 4h0m3 1h0m1 0h0m2-4h0m2 3h0m3 1h0m1-2h0m1-2h0m10 4h0m5-4h0m3 0h0m2 2h0m2-3h0m6 0h0m3 3h0m11 0h0m2-3h0m8 2h0m3-2h0m1 1h0m4 0h0m4 4h0m6 0h0m7-4h0m3 2h0m3 0h0m3 1h0m1-4h0m3 2h0m4-1h0m3-1h0m12 2h0m3 1h0m1 2h0m1-4h0m2 2h0m1-3h0m2 1h0m2-1h0m1 3h0m0 2h0m3-4h0m3-1h0m0 5h0m2-2h0m1-3h0m1 1h0m0 3h0m1-2h0m6 1h0m4-2h0m4 2h0m1-3h0m4 3h0m1 2h0m11-3h0m3-2h0m-11 8h0m-1 2h0m-1-3h0m-1 2h0m-3-3h0m-5 3h0m0 1h0m-3-3h0m-1 2h0m0 2h0m-3-1h0m-5-1h0m-1-3h0m-2 1h0m-3 0h0m-4-1h0m0 4h0m-2 1h0m-1-5h0m0 2h0m0 2h0m-4 1h0m-1-1h0m-2-3h0m-1 2h0m-1-2h0m-1 2h0m-2-2h0m-4-1h0m0 5h0m-2 0h0m-2-5h0m-2 3h0m-1-2h0m-4 3h0m-7-2h0m-4 2h0m-2-4h0m-1 2h0m-3 3h0m-4-1h0m-2-1h0m-4-3h0m-2 0h0m-10 5h0m-2-2h0m-5-3h0m-5 0h0m-16 1h0m-2 0h0m-8 1h0m-12-1h0m-8 0h0m-3 0h0m0 4h0m-2-5h0m-4 5h0m-2-1h0m-5-4h0m-7 0h0m-3 3h0m-1 2h0m-2-3h0m-3-2h0m-2 0h0m-6 1h0m-6 0h0m-9 3h0m-6-4h0m-3 5h0m-17-5h0m-3 2h0m-9-1h0m-6 1h0m-1-1h0m-3 3h0m-4 0h0m-1-3h0m-11 1h0m-2-1h0m-3 4h0m-1-3h0m-2-2h0m-3 1h0m0 3h0m-2-2h0m-3-2h0m-3 0h0m-9 1h0m0 1h0m-2 3h0m-4-1h0m-2-2h0m-1 3h0m-3-3h0m-3-2h0m-1 6h0m1 2h0m6 2h0m2-3h0m2 3h0m12 1h0m3-2h0m2 2h0m4 0h0m11-3h0m7 2h0m1 1h0m3-5h0m3 5h0m6-5h0m0 2h0m4 0h0m1 2h0m1-4h0m3 5h0m4-1h0m2 0h0m2-1h0m2 1h0m2-3h0m11 1h0m0 2h0m11-4h0m4 2h0m14 3h0m3 0h0m6-3h0m0 3h0m4-1h0m2 0h0m5-3h0m9 2h0m7 2h0m1-5h0m1 1h0m0 3h0m8-2h0m3 0h0m4 2h0m3-3h0m0 2h0m2 2h0m1-2h0m2-2h0m5-1h0m1 3h0m3 0h0m5 0h0m1-3h0m2 3h0m2-1h0m3 0h0m6 0h0m5 0h0m1 3h0m7 0h0m1-5h0m1 3h0m1 2h0m5-2h0m3 2h0m2-5h0m1 1h0m1 4h0m5-3h0m1 3h0m3-4h0m8 0h0m0 1h0m1 3h0m1-3h0m3-1h0m2 0h0m5 2h0m3-1h0m2 1h0m2-1h0m5 2h0m2-1h0m1-2h0m6-1h0m3 1h0m3 1h0m2-2h0m0 3h0m1-3h0m2 0h0m0 4h0m3-4h0m3 2h0m1-2h0m4 0h0m0 3h0m4-1h0m1 2h0m3 0h0m1-4h0m-11 9h0m-2-2h0m-2 1h0m0 2h0m-6 0h0m-1-4h0m-6 5h0m-2-4h0m-8-1h0m0 3h0m0 1h0m-9-1h0m-2-1h0m-4 0h0m-2 1h0m-2-2h0m-3 0h0m-1 4h0m-1-2h0m-7 1h0m-7-3h0m-7 0h0m-7 0h0m-5 0h0m-11 4h0m-7-2h0m-22 1h0m-18-3h0m-2 1h0m-1 2h0m-22-4h0m-2 0h0m-3 1h0m-1 1h0m-5 0h0m-2 3h0m-1-4h0m-2 0h0m-1 2h0m-9-1h0m0 1h0m-3 0h0m-5-1h0m-4-2h0m-5 0h0m-2 2h0m0 3h0m-3-3h0m0 1h0m-3 1h0m-5-3h0m-1 2h0m-1-1h0m-1 2h0m-2-2h0m0 2h0m-2-4h0m0 3h0m-3 2h0m-1-2h0m-2-1h0m0 2h0m-2-1h0m-3 0h0m-1-1h0m-4 1h0m-6-3h0m-3 0h0m-7 4h0m-1-2h0m-1-2h0m0 3h0m-11 0h0m-2 0h0m-16-1h0m-7 4h0m22 0h0m7 0h0m4 1h0m1-1h0m1 3h0m1-3h0m21 4h0m1-1h0m1-3h0m1 4h0m2-3h0m3 1h0m1-1h0m2 4h0m1-4h0m1 3h0m2 1h0m1-4h0m2 0h0m5-1h0m6 1h0m3 1h0m6 1h0m3-3h0m11 1h0m15 0h0m32-1h0m0 1h0m2 2h0m2 2h0m6-4h0m0 4h0m6-5h0m11 1h0m1 2h0m1-1h0m21-2h0m4 3h0m7 2h0m1 0h0m2-1h0m5-3h0m12 4h0m4-4h0m1 3h0m1 1h0m3-4h0m2 1h0m1 1h0m4 1h0m3-4h0m3 0h0m4 0h0m6 2h0m7-2h0m2 1h0m0 2h0m4 0h0m4 1h0m1 0h0m4 2h0m-18 1h0m-3 1h0m-5-1h0m-3-1h0m-2 0h0m-4 3h0m-1-3h0m-9 3h0m0 2h0m-1 0h0m-5-4h0m0 2h0m-2-2h0m-4-1h0m-2 2h0m-1 2h0m-1-4h0m-1 1h0m-3 3h0m-15-3h0m-1-1h0m-1 4h0m-2 1h0m-3-5h0m-1 0h0m0 5h0m-1-1h0m-10 0h0m-1-3h0m-1 4h0m-4-5h0m-2 5h0m-5-1h0m-4 0h0m-2 0h0m-2 1h0m-2-1h0m-4 0h0m-2-3h0m-3-1h0m-106 0h0m113 8h0m2 2h0m5 0h0m6-2h0m6 1h0m1 2h0m1-1h0m1-2h0m0 3h0m5-1h0m1-1h0m3 0h0m5-2h0m2 0h0m1 2h0m0 2h0m3-1h0m1-4h0m0 4h0m3-2h0m2-2h0m2 2h0m6 2h0m6-1h0m3 0h0m4-2h0m6 2h0m5-3h0m1 5h0m8-3h0m3 2h0m-1 2h0m-2 1h0m-1 2h0m-2-3h0m-2 3h0m-5-3h0m-3 2h0m-1 3h0m-2-4h0m-1 0h0m0 2h0m0 2h0m-12-2h0m-6-1h0m-4 0h0m0 2h0m-4-1h0m-3-2h0m-2-1h0m0 1h0m0 4h0m-3-2h0m0 2h0m-5 0h0m-1-2h0m-6-2h0m-2 3h0m-3-1h0m-4 0h0m-3 0h0m-8 3h0m11 2h0m0 2h0m3-4h0m0 4h0m1-2h0m7 1h0m1-3h0m2 2h0m1-1h0m6 0h0m9 0h0m4 4h0m2-3h0m1-2h0m5 4h0m1-3h0m4 0h0m1 2h0m9 2h0m1-3h0m-3 4h0m-7 3h0m-3-3h0m-1 4h0m-2 1h0m-1-1h0m-2 1h0m-1-2h0m-2 2h0m-3-3h0m-3 3h0m-3-1h0m-3 0h0m-2-3h0m0 3h0m-11 0h0m-6-1h0m-2-1h0m-5 0h0m4 5h0m0 3h0m2 0h0m3 0h0m1-1h0m2-2h0m2 0h0m1-1h0m4 2h0m1 2h0m2-3h0m1 2h0m1-3h0m2 4h0m1-2h0m3 1h0m4-1h0m2 1h0m3-1h0m1 2h0m3 0h0m1-1h0m3 0h0m2 0h0m-5 3h0m0 3h0m-2-2h0m-2 1h0m-2 0h0m-6 2h0m-5-4h0m0 3h0m-3 2h0m-2-2h0m-2-2h0m-1 2h0m-3 1h0m0 1h0m-1-4h0m0 1h0m-4 1h0m-3-1h0m0 2h0m-1-4h0m-1 5h0m-2-4h0m-1 2h0m3 5h0m0 2h0m2-3h0m0 2h0m2 0h0m2-3h0m3 4h0m2 0h0m3-4h0m1 4h0m3 1h0m1-5h0m2 5h0m4 0h0m2-5h0m1 3h0m-10 3h0m-2 4h0m-3 0h0m-2 1h0m-2-4h0m-1 3h0m-4-3h0m-2 4h0m-3 0h0m-1-4h0m-1 0h0m-2 9h0m1-4h0m5 3h0m1-3h0m1 4h0m1-2h0m1-2h0m0 5h0m1-4h0m1 4h0"/>
<path stroke="#67001f" d="M572 340h0m5 0h0m13 1h0m42 5h0m-2 1h0m-3-3h0m-2 2h0m-1 1h0m-4 0h0m-2-1h0m-3 0h0m-2-1h0m-1-2h0m-6 2h0m-2 2h0m-4 0h0m-3-1h0m-2 0h0m-1-4h0m-1 5h0m-3-4h0m0 2h0m-3-1h0m0 3h0m-1-5h0m-1 1h0m-2 0h0m-2 4h0m-1-5h0m-2 5h0m-2 0h0m-3-5h0m0 3h0m-6 0h0m-3-3h0m-1 3h0m-2 0h0m-1 2h0m-2-1h0m-2 0h0m0 1h0m-11-5h0m-1 5h0m-5-3h0m-2-2h0m-1 5h0m-2-1h0m-1-4h0m0 5h0m-2-5h0m0 4h0m-2 1h0m-4-1h0m-4-2h0m-1-2h0m-5 5h0m-7 5h0m1-3h0m0 3h0m0 1h0m2-2h0m2-3h0m1 2h0m1 2h0m1-2h0m0 3h0m1-2h0m1-3h0m4 1h0m2 0h0m1 4h0m1-3h0m2-1h0m1 1h0m0 3h0m1-1h0m1-3h0m1 3h0m0 1h0m1-4h0m1 2h0m1-2h0m2 3h0m2-1h0m2 1h0m3-1h0m5 1h0m3-4h0m2 0h0m1 2h0m2 1h0m2-2h0m2 1h0m1 0h0m3-1h0m2-1h0m0 4h0m3 1h0m3-4h0m0 2h0m2 0h0m2 0h0m4-1h0m1 3h0m2 0h0m3-2h0m2 1h0m1 0h0m3-1h0m1-1h0m1 0h0m1 3h0m1-4h0m0 2h0m1 1h0m2 1h0m1-2h0m4-2h0m0 3h0m4 1h0m2 0h0m3-3h0m1-2h0m0 5h0m2-5h0m2 4h0m1 0h0m1-4h0m1 1h0m1-1h0m0 5h0m3-4h0m3 2h0m3 0h0m2-1h0m0 2h0m1-2h0m3 6h0m-1 3h0m-2-2h0m-1-2h0m-1 2h0m-2-2h0m0 2h0m-2-3h0m-1 3h0m-1-2h0m0 4h0m-2-3h0m-3-1h0m0 1h0m-2-2h0m0 3h0m-1-2h0m-2 0h0m-2 4h0m-2-3h0m-6 0h0m0 2h0m-5-3h0m-5 1h0m-3 2h0m-12-2h0m-2-1h0m-3 3h0m-2 0h0m-2-4h0m-1 3h0m-3 2h0m-1-5h0m-3 0h0m0 5h0m-5 0h0m-1-2h0m-3 1h0m-3-4h0m-1 4h0m-2-3h0m-1 0h0m-1 3h0m-4 1h0m-2-3h0m-1-2h0m0 4h0m-1 0h0m-1-3h0m-1-1h0m-2 3h0m-2-3h0m-4 1h0m0 3h0m-2-3h0m-2 2h0m-4 0h0m-1-2h0m-1 2h0m-1 2h0m-1-3h0m-3 1h0m-1 1h0m-2-1h0m-2 2h0m-1-4h0m0 4h0m-1-3h0m0 2h0m-2-3h0m-2 1h0m0 3h0m-2-2h0m-2 1h0m-5 7h0m2-1h0m1-2h0m1 3h0m1-2h0m1-1h0m0 3h0m1-5h0m0 3h0m2 1h0m1-2h0m6 1h0m0 2h0m2-4h0m0 4h0m1-2h0m1 2h0m4-5h0m6 4h0m1-3h0m1 1h0m1 3h0m1-5h0m1 2h0m4-1h0m0 3h0m2-2h0m0 1h0m1-2h0m2 0h0m2 0h0m2 1h0m2-2h0m3 0h0m2 4h0m2 0h0m2-4h0m2 2h0m4 1h0m3-3h0m0 4h0m8-4h0m2 5h0m1-4h0m4 4h0m1-4h0m2 3h0m2 1h0m2-3h0m1 0h0m0 3h0m1-5h0m0 4h0m2-2h0m2-2h0m1 4h0m1-3h0m3-1h0m1 1h0m1 1h0m3-2h0m1 4h0m2-4h0m1 3h0m1-2h0m1 3h0m6 1h0m3 0h0m4-3h0m4-2h0m1 1h0m0 3h0m3 0h0m12-4h0m4 8h0m-2-2h0m-3 2h0m0 2h0m-1-3h0m-2 2h0m-5-2h0m-14 1h0m-2-2h0m-5 5h0m-2 0h0m-4-2h0m-1-2h0m-4 1h0m-2-2h0m-4 5h0m-1-4h0m-9 0h0m0 2h0m-2 1h0m-2-1h0m-5-1h0m-2 2h0m-4-4h0m-2 0h0m-2 3h0m-3 1h0m-2-3h0m-3 3h0m-3-2h0m-7-1h0m-1 2h0m-1 2h0m-1-4h0m-4 4h0m-2-2h0m0 2h0m-1-5h0m0 2h0m-2-1h0m-1 2h0m-1-1h0m-1 3h0m-5-2h0m-1-3h0m-1 3h0m-1-3h0m-1 1h0m-1 3h0m-2-1h0m-2-3h0m-1 3h0m-3-1h0m-4 1h0m-1 1h0m-1-4h0m-2 3h0m-4-3h0m-1 5h0m-2-2h0m-2 1h0m-1-1h0m-1 2h0m-4 3h0m2 0h0m0 2h0m2-3h0m0 4h0m1-2h0m3 1h0m1-2h0m3 0h0m1-1h0m0 3h0m1-2h0m2-1h0m1 2h0m2 0h0m1-3h0m1 3h0m1-2h0m1 4h0m1-3h0m2 0h0m1 3h0m1-2h0m1-2h0m0 4h0m4-1h0m1 1h0m2-5h0m0 4h0m3 1h0m1-2h0m1-2h0m1 4h0m1-5h0m0 2h0m1 1h0m3-2h0m1 1h0m2 1h0m1 0h0m2 2h0m1-2h0m5 2h0m6-5h0m5 3h0m1-2h0m2 4h0m1-5h0m0 3h0m5 1h0m8 1h0m5-1h0m5-3h0m7 3h0m3-2h0m2 2h0m8 1h0m1-2h0m2 1h0m1-2h0m6-1h0m0 3h0m2-2h0m2 0h0m1-2h0m2 1h0m2 3h0m1-3h0m3 1h0m1 1h0m2-2h0m1 3h0m1-4h0m0 1h0m1 0h0m1 4h0m1-5h0m0 2h0m3-2h0m2 5h0m-1 4h0m-2-3h0m0 2h0m-2 1h0m-2-2h0m-1-1h0m-1 2h0m0 3h0m-6-4h0m-1 3h0m-3 0h0m-4 0h0m-1-4h0m-5 4h0m-4-2h0m0 2h0m-4-1h0m-2 1h0m-3-3h0m-30-1h0m-10 1h0m0 4h0m-3-3h0m-12-2h0m-1 3h0m0 2h0m-4-3h0m-1 3h0m-3-2h0m-1-2h0m0 3h0m-1 1h0m-1-4h0m-1 2h0m-2-2h0m0 4h0m-3-4h0m0 4h0m-6-5h0m0 2h0m0 3h0m-1-4h0m-1 3h0m-1-2h0m-1-1h0m0 2h0m-2-3h0m0 3h0m-1 1h0m-1-2h0m-1 2h0m-3-4h0m-2 0h0m-2 2h0m-3 0h0m-1 1h0m-2-2h0m-1 3h0m-1-4h0m0 5h0m-1-4h0m-3 3h0m-3-1h0m-1 2h0m-3 3h0m2-1h0m0 4h0m3-3h0m3-2h0m0 2h0m0 3h0m2-5h0m0 3h0m2-2h0m0 4h0m1-4h0m1 2h0m1 2h0m3-5h0m0 2h0m2 3h0m1-5h0m2 2h0m4-1h0m0 1h0m1-2h0m1 5h0m1-5h0m1 1h0m0 3h0m2-4h0m0 3h0m1-2h0m2-1h0m0 1h0m1 3h0m2-4h0m0 2h0m1 1h0m1-2h0m0 4h0m1-1h0m3-3h0m1 2h0m1-2h0m0 2h0m0 2h0m1-1h0m2-3h0m0 2h0m0 2h0m1 0h0m1-2h0m2-2h0m3-1h0m5 3h0m6 0h0m3-3h0m7 0h0m1 0h0m11 3h0m11-2h0m2-1h0m5 0h0m3 3h0m1-1h0m4-1h0m6 3h0m4-2h0m1-2h0m4 5h0m1-2h0m2-2h0m2 4h0m1-5h0m1 2h0m5 1h0m2-3h0m0 5h0m1-2h0m1 1h0m3-2h0m2-2h0m0 3h0m1-2h0m1 2h0m-4 6h0m0 2h0m-1-2h0m-3-1h0m-2 1h0m-6 1h0m-6-4h0m0 3h0m-5 0h0m-3-2h0m-6-1h0m-1 5h0m-2-2h0m-9-2h0m-5 0h0m-4 1h0m-4-2h0m-3 2h0m-1 3h0m-2-3h0m-2 1h0m-3-1h0m-1-2h0m-1 4h0m-2 0h0m-2-1h0m-5-3h0m-1 1h0m-1 2h0m-1-1h0m-3 1h0m-3 2h0m-1-5h0m-6 4h0m-2-4h0m-2 2h0m0 3h0m-3 0h0m-1-4h0m-1 4h0m-1-4h0m-1-1h0m-2 1h0m0 2h0m-3 1h0m-3-4h0m0 1h0m0 2h0m-2-3h0m0 2h0m-1-2h0m0 4h0m-1-1h0m-1 1h0m0 1h0m-1-2h0m-1-2h0m-1 3h0m-1-3h0m0 1h0m-1-2h0m0 4h0m-1 0h0m0 1h0m-2-1h0m-1-4h0m0 3h0m-1 2h0m-1-2h0m0 2h0m-2 0h0m-3-3h0m-1-1h0m-2 0h0m0 3h0m-1-4h0m-4 5h0m-3-4h0m0 3h0m-1-3h0m-1 2h0m-1-3h0m-1 4h0m-2-1h0m0 3h0m5 1h0m1 0h0m2 2h0m2 2h0m1-3h0m1 2h0m2-3h0m1 3h0m1-2h0m1 1h0m1 2h0m1-4h0m1 3h0m1-2h0m2 1h0m2-1h0m2 1h0m0 2h0m3-5h0m0 2h0m3 0h0m3-2h0m2 2h0m1 2h0m1-1h0m5-1h0m0 2h0m3 0h0m1-2h0m0 1h0m0 2h0m2-4h0m0 2h0m4 0h0m1-3h0m2 2h0m6 2h0m1-4h0m0 2h0m1-2h0m5 3h0m2-2h0m0 2h0m2 1h0m1-2h0m1-2h0m0 5h0m1-1h0m4 0h0m1-4h0m0 4h0m2-1h0m3-3h0m1 1h0m0 4h0m6 0h0m3-3h0m2 0h0m1 2h0m5-3h0m2-1h0m4 2h0m3 1h0m10 2h0m1-5h0m1 2h0m0 2h0m6 1h0m2 0h0m7-1h0m2-1h0m4-3h0m1 0h0m1 2h0m1-2h0m2 0h0m1 3h0m-11 3h0m-2 3h0m-2 1h0m-2-4h0m-2 2h0m-1 3h0m-6-3h0m-3 1h0m-4-2h0m-3-1h0m-4 5h0m-1-5h0m-2 3h0m-2-2h0m-1 2h0m-1 2h0m-2 0h0m-2-3h0m0 1h0m-4-2h0m-2-1h0m-1 4h0m-3 0h0m-3 0h0m-7-3h0m-6 1h0m-2 1h0m-2 0h0m-3-1h0m-4 3h0m-1-2h0m-1-3h0m-7 2h0m-5-1h0m-1-1h0m0 3h0m-1 2h0m-1-4h0m0 2h0m-1-3h0m0 2h0m-2-2h0m0 4h0m0 1h0m-1-3h0m-1-2h0m0 3h0m0 2h0m-5-4h0m0 3h0m-2-1h0m-1 2h0m-3-5h0m-1 3h0m-2-3h0m0 2h0m-2-2h0m0 3h0m-1-1h0m-1-2h0m-2 0h0m-2 4h0m-1-4h0m0 2h0m-1-1h0m-1 2h0m-2-2h0m-1 1h0m-2 1h0m-1-1h0m0 2h0m-2-3h0m-1 3h0m-1-3h0m-3 1h0m0 1h0m0 2h0m-2-3h0m0 2h0m-4-1h0m0 2h0m-1-4h0m-4 7h0m2 2h0m1-4h0m4 5h0m1-3h0m1-2h0m0 5h0m2-2h0m1 1h0m1-3h0m1 2h0m0 2h0m2-2h0m1-3h0m0 5h0m1-2h0m3-3h0m0 4h0m1-1h0m1 1h0m5-4h0m2 4h0m1-4h0m1 2h0m1-2h0m0 1h0m3 1h0m1-2h0m1 0h0m0 3h0m1 1h0m2 1h0m2-5h0m1 1h0m2-1h0m1 5h0m1-2h0m2 2h0m2-1h0m1-4h0m2 1h0m0 1h0m2 1h0m0 2h0m1-4h0m1 1h0m5 1h0m4 0h0m2-2h0m1 3h0m6 1h0m15-4h0m0 4h0m3-1h0m2 0h0m2-3h0m5 0h0m0 4h0m1-2h0m3-2h0m5 0h0m2 3h0m5-4h0m3 5h0m4-3h0m1-1h0m3 1h0m7-2h0m1 3h0m2-2h0m4 2h0m1-2h0m2 3h0m7-3h0m-5 6h0m-6 2h0m-2 2h0m-6-4h0m-1 2h0m-2-1h0m-4 2h0m-13-3h0m-5 0h0m-1 3h0m-8-1h0m-2 2h0m-2-1h0m-3-2h0m-1 2h0m-5 1h0m-2-1h0m-2-4h0m-1 3h0m-6 1h0m-2 0h0m-1-4h0m-1 3h0m-1 2h0m-1-5h0m-4 5h0m-3-5h0m-4 5h0m-2-1h0m-1-4h0m-1 1h0m-1 2h0m-1-3h0m0 2h0m-1 0h0m-1-1h0m0 3h0m-2-3h0m0 4h0m-2-2h0m-1-2h0m0 2h0m-1-1h0m-1 1h0m-2-1h0m-1-1h0m0 4h0m-1-2h0m-2 1h0m-1-3h0m0 1h0m-1 2h0m-1-2h0m-2 3h0m-1-4h0m0 2h0m-1-3h0m-1 5h0m-1 0h0m-2-4h0m-1 3h0m-5 0h0m-3 0h0m-1-1h0m-2 0h0m-3-1h0m-5 1h0m-2-1h0m0 2h0m-2-4h0m-1 5h0m-2 1h0m0 2h0m4 2h0m0 1h0m1-2h0m1-2h0m1 2h0m1-2h0m3 0h0m1-1h0m3 1h0m0 4h0m1-2h0m1-3h0m1 4h0m1 1h0m2-4h0m2 2h0m1 2h0m1-5h0m1 2h0m0 3h0m1-5h0m0 4h0m1-2h0m1-1h0m2-1h0m2 2h0m2 3h0m1-4h0m1 2h0m1-2h0m0 1h0m0 2h0m2-4h0m0 3h0m2 2h0m1-1h0m3-3h0m1 2h0m1 1h0m1-1h0m1 0h0m3 1h0m1-4h0m1 3h0m1-3h0m0 5h0m3-3h0m3-2h0m0 3h0m3-1h0m2 2h0m3-3h0m4 3h0m1-4h0m1 3h0m4-1h0m3 2h0m2-2h0m0 2h0m2-1h0m3 0h0m3 0h0m4 0h0m3-1h0m0 3h0m2-5h0m1 4h0m4-4h0m2 0h0m1 2h0m0 2h0m2-4h0m4 2h0m1 3h0m5-5h0m5 0h0m6 1h0m3 1h0m0 1h0m1 2h0m1-4h0m7 0h0m-7 5h0m-9 4h0m-6-1h0m-4-1h0m0 3h0m-4-4h0m-4 4h0m-2-1h0m-9 1h0m-3-3h0m-2 1h0m-4 1h0m-1-2h0m-3 1h0m-5-3h0m-2 5h0m-1-2h0m-1-2h0m-2 0h0m-2 1h0m0 3h0m-10-5h0m-5 2h0m-2 2h0m-3 0h0m-1-4h0m0 1h0m0 2h0m-2-3h0m-3 0h0m-1 4h0m-1-2h0m-1-1h0m-1 2h0m0 1h0m-2-3h0m0 4h0m-3-5h0m-2 3h0m-1 2h0m-1-3h0m0 2h0m-2-2h0m-1 2h0m-1-2h0m-2 1h0m-3 2h0m-2-2h0m-3 1h0m-3-2h0m0 3h0m-2-4h0m-3 2h0m-1-2h0m0 1h0m-3 0h0m0 2h0m0 1h0m-1-5h0m-1 2h0m-1-1h0m-1 2h0m-1 1h0m-2-2h0m0 2h0m-2 0h0m4 2h0m0 2h0m1 2h0m1-3h0m1-1h0m3 1h0m0 2h0m2 0h0m1 2h0m2-4h0m0 2h0m1 1h0m2-3h0m5 0h0m5-1h0m2 0h0m0 5h0m1-3h0m1 3h0m2-5h0m1 2h0m1 1h0m1-2h0m1 0h0m0 2h0m0 1h0m1-3h0m3 1h0m1 3h0m1-3h0m1 2h0m2-3h0m1-1h0m1 1h0m0 2h0m1 2h0m2-4h0m1-1h0m1 3h0m3-1h0m3 1h0m9 0h0m0 2h0m2-4h0m5 1h0m1 1h0m6-1h0m2-2h0m2 4h0m2 1h0m1-4h0m4 3h0m2-4h0m4 1h0m1 1h0m1-2h0m4 0h0m3 4h0m1-2h0m2-1h0m7 0h0m7 4h0m13-5h0m-9 6h0m-3 1h0m-4 3h0m-1-4h0m0 2h0m0 3h0m-1-4h0m-8-1h0m-3 0h0m-4 0h0m-1 3h0m-1-3h0m-2 4h0m-2-1h0m-1 2h0m-2-3h0m-2 0h0m-2 1h0m-2-2h0m-4 0h0m-2 3h0m-3-4h0m0 4h0m-2 1h0m-6-3h0m-5 0h0m-5-1h0m0 3h0m-5-1h0m-2 1h0m-1-3h0m-3 0h0m0 2h0m-2-3h0m-1 3h0m-1 1h0m-1-2h0m-2 0h0m-1-1h0m-1-1h0m-3 0h0m0 4h0m-1 1h0m-2-3h0m0 3h0m-3-3h0m-1-2h0m0 5h0m-1-3h0m0 2h0m-2-3h0m0 4h0m-2-3h0m0 2h0m-3-1h0m-2-3h0m0 2h0m0 3h0m-2-2h0m-1-2h0m-3 1h0m-2-1h0m0 4h0m-4-1h0m-1-1h0m-1-3h0m-2 2h0m-2-2h0m-1 1h0m-1 2h0m2 4h0m2 2h0m1 2h0m1-4h0m1 2h0m1-1h0m3 0h0m2 2h0m2-2h0m0 2h0m2-3h0m1 3h0m2-1h0m2-1h0m1 0h0m1 2h0m2 0h0m1-1h0m3 1h0m4-3h0m3-1h0m1 1h0m0 2h0m2 0h0m1-3h0m6 0h0m1 0h0m3 0h0m4 5h0m1-5h0m3 1h0m10-1h0m6 5h0m3-4h0m1-1h0m1 0h0m3 5h0m3-5h0m2 0h0m0 3h0m9-2h0m2 2h0m1 1h0m2-2h0m1-1h0m8 0h0m1 2h0m3-1h0m0 1h0m-6 6h0m-2-1h0m-1 1h0m0 2h0m-1-5h0m-1 5h0m-1-4h0m0 1h0m-2 0h0m0 3h0m-3-1h0m-3-4h0m0 3h0m-7-1h0m-16 2h0m0 1h0m-1-4h0m-4 0h0m-6 3h0m-2-3h0m-29 0h0m-8-1h0m-1 2h0m-3-2h0m-1 2h0m-1-1h0m-1 2h0m-2 2h0m-2-3h0m-1 2h0m-1-3h0m6 5h0m3 0h0m4 0h0m43 1h0m6 0h0m10 1h0m2 0h0m1 2h0m9-3h0m3-1h0m-11 8h0"/>
<path stroke="#b2182b" d="M530 442h0m-2 1h0m-8 0h0m-1 0h0m-18 4h0m2-2h0m0 3h0m2-4h0m3 4h0m2-1h0m4 0h0m2 0h0m5 1h0m2 1h0m1-4h0m8-1h0m1 2h0m3-2h0m0 3h0m1 1h0m2-2h0m1 3h0m7 3h0m0 3h0m-2-1h0m-3-2h0m0 2h0m-2-3h0m-1 4h0m-3-5h0m-2 4h0m-1-3h0m0 3h0m-1 1h0m-1-4h0m-7 0h0m-2 1h0m-3-2h0m0 5h0m-2 0h0m-1-5h0m-3 3h0m-1-3h0m-8 4h0m-1-2h0m-2-2h0m-2 1h0m0 1h0m0 3h0m-2-4h0m3 6h0m2 0h0m1 3h0m0 1h0m2-3h0m2-2h0m0 1h0m2 3h0m4 0h0m2-4h0m0 1h0m1 3h0m2-1h0m1-2h0m0 2h0m2-2h0m5-1h0m2 5h0m2-4h0m2 1h0m7-2h0m0 3h0m0 2h0m2-4h0m0 3h0m3-2h0m0 1h0m2 0h0m2 2h0m1-1h0m1 0h0m0 2h0m-2 5h0m-3-1h0m-5-3h0m-1 0h0m0 3h0m-2 0h0m-3-4h0m-1 2h0m-1-1h0m-2 1h0m0 3h0m-3-5h0m-1 2h0m0 3h0m-2-1h0m-3-3h0m-5 2h0m-1-2h0m0 4h0m-2-4h0m0 4h0m-3-5h0m-1 2h0m-5-1h0m-1 3h0m-1 0h0m-2 0h0m1 5h0m2 1h0m1-2h0m1-2h0m0 4h0m1 0h0m2-2h0m1-1h0m1-1h0m2 4h0m2-1h0m1 2h0m3-5h0m0 2h0m1-1h0m3 4h0m5-4h0m0 2h0m1 2h0m2-4h0m5 3h0m7-4h0m1 2h0m1-2h0m4 5h0m3-3h0m2 0h0m-2 9h0m-3-2h0m0 2h0m-5-4h0m-1 4h0m-4-3h0m-5 0h0m-2 1h0m-2 1h0m-6-1h0m0 1h0m-4-4h0m0 1h0m-5 4h0m-2-4h0m-3 0h0m-2 1h0m-2-2h0m-2 0h0m6 11h0m3-3h0m9-2h0m0 4h0m1-3h0m1 4h0m3-1h0m4-4h0m2 3h0m1-2h0m2-1h0m1 0h0m3 0h0m2 1h0m0 2h0m5 1h0m4-2h0m4 8h0m-1-1h0m-2-1h0m0 2h0m-4-4h0m-2 3h0m-1-2h0m-1 2h0m-2 0h0m-1 1h0m-1-2h0m-1-2h0m-1 3h0m-1-2h0m0 3h0m-6-2h0m-1 2h0m-1-1h0m-1-2h0m-4 4h0m-2-4h0m0 2h0m0 2h0m-3 0h0m-1-5h0m-1 1h0m0 1h0m0 3h0m-4-2h0m-3 0h0m6 5h0m1-2h0m1 5h0m2-4h0m1 4h0m1-3h0m1-2h0m0 3h0m4 1h0m1-1h0m1 2h0m1-5h0m2 3h0m1-3h0m2 1h0m4 3h0m3-3h0m0 1h0m2 1h0m1-3h0m2 5h0m3-2h0m1 1h0m3 0h0m3-4h0m0 3h0m4-1h0m7 9h0m-5-5h0m-5 2h0m-5 1h0m-2 1h0m-1-4h0m-2 5h0m-4 0h0m-2-3h0m-2 0h0m-1 3h0m-1-2h0m-1-2h0m-1 3h0m-2-2h0m-1-2h0m-2 4h0m-2-3h0m-2-1h0m-5 3h0m-3 0h0m0 3h0m1 2h0m6 0h0m2-1h0m1-1h0m0 3h0m2-2h0m3 1h0m2 0h0m2-1h0m0 3h0m2-1h0m3 2h0m3-4h0m1 4h0m3-5h0m0 4h0m2 1h0m9-5h0m0 2h0m2 3h0m1-2h0m1 2h0m1-4h0m4 2h0m8-2h0m4 9h0m-3 0h0m0 1h0m-1-3h0m-3 0h0m0 3h0m-1-3h0m-1 1h0m-2-1h0m-1 1h0m-3-2h0m-3 3h0m-1-1h0m-2-1h0m-2-2h0m0 2h0m0 2h0m-2-4h0m-1 3h0m-2-2h0m-1 3h0m0 1h0m-1-3h0m-6 0h0m-1-1h0m-1 2h0m-3-1h0m-1-2h0m-1 3h0m-1-2h0m-7-1h0m0 2h0m-2 0h0m-1 2h0m-2 1h0m-2-1h0m0 1h0m-2-5h0m4 7h0m7 3h0m3-3h0m1 2h0m1-3h0m0 2h0m0 3h0m1-1h0m1-3h0m4 1h0m2 3h0m2-2h0m2 1h0m2 1h0m2-4h0m2 1h0m3-1h0m3 1h0m3-1h0m1 0h0m0 2h0m4 1h0m5-2h0m1-1h0m1 3h0m1 1h0m2-2h0m2-1h0m8 4h0m-7 5h0m-1-1h0m-2 1h0m-1-2h0m-1-2h0m-1 4h0m-1-2h0m-1 1h0m-1-3h0m-2-1h0m0 3h0m-1-2h0m-2 2h0m-3-3h0m0 4h0m-2-4h0m-1 2h0m-1 3h0m-3 0h0m-1-3h0m0 1h0m-1 1h0m-3-1h0m-1 1h0m-1-2h0m0 3h0m-3-5h0m0 5h0m-2-3h0m0 2h0m-1-3h0m-2 2h0m-4-1h0m-1 2h0m-2-4h0m-4 2h0m0 3h0m-1-1h0m-1-3h0m-3 2h0m-6 0h0m-1-3h0m-1 2h0m0 3h0m-1-5h0m5 11h0m6-3h0m2 1h0m4-3h0m3 2h0m1-2h0m2 4h0m3 0h0m1-2h0m2-2h0m1 2h0m0 2h0m2 1h0m2-5h0m3 4h0m2 1h0m2-4h0m2 3h0m4 0h0m2-3h0m3-1h0m0 4h0m5-3h0m0 2h0m1 2h0m1-4h0m0 4h0m1-4h0m2 0h0m1 2h0m2-1h0m2 0h0m5 0h0m7 9h0m-3-4h0m-2 3h0m-1-1h0m0 1h0m-4-2h0m-1-2h0m-2 5h0m-1-4h0m-1 2h0m0 2h0m-3-2h0m0 2h0m-5-1h0m-1-2h0m-5-2h0m-4 2h0m-1 2h0m-1-1h0m-2-2h0m0 3h0m-6 0h0m-2-4h0m-1 3h0m-1-2h0m-2-1h0m0 5h0m-1-5h0m0 4h0m-1-1h0m-1-2h0m0 3h0m-1-4h0m-2 1h0m-1 1h0m0 3h0m-1-2h0m-1-2h0m-4 4h0m-1-4h0m-1 0h0m0 2h0m-1-3h0m-1 5h0m-1 0h0m-1-5h0m-1 1h0m-1 4h0m-2-2h0m-5-2h0m-3 0h0m-3-1h0m-3 1h0m0 3h0m-18 7h0m3 0h0m4-1h0m2-1h0m1-2h0m1 2h0m1 2h0m2-3h0m0 2h0m4-1h0m6 0h0m3-1h0m5 2h0m5-4h0m0 2h0m6-1h0m2 1h0m1 3h0m3-3h0m0 3h0m2-5h0m0 2h0m2 1h0m3-3h0m0 2h0m1 2h0m2 0h0m3 0h0m2 1h0m3-3h0m1-1h0m1 2h0m1-2h0m1 3h0m4-2h0m3-1h0m1 3h0m2-3h0m0 4h0m3 0h0m1-1h0m1-3h0m0 3h0m5 1h0m2-2h0m1-2h0m0 4h0m1-2h0m2-1h0m0 1h0m1-3h0m6 3h0m2 1h0m0 6h0m-2-4h0m0 2h0m-1 3h0m-1-5h0m0 3h0m-4-1h0m-2 2h0m-1-2h0m-2 2h0m-2-1h0m-3-1h0m-5-2h0m-3 3h0m-3-2h0m0 2h0m-1 0h0m-2 1h0m-1-1h0m-2 1h0m-3 1h0m-1-3h0m-1-2h0m-2 1h0m0 3h0m-2-2h0m0 3h0m-3-3h0m-2 0h0m-2 3h0m-2-4h0m-2-1h0m-1 2h0m-3 0h0m-2-1h0m-2 0h0m0 2h0m-1 1h0m-1-3h0m-2 0h0m0 4h0m-2 0h0m-2-2h0m-4 2h0m-1-5h0m-2 1h0m-2-1h0m-5 0h0m-2 2h0m-1 3h0m-5-3h0m-3 2h0m-2-1h0m-4-2h0m-3 2h0m-5 1h0m-8 6h0m3 1h0m1-5h0m6 3h0m2-2h0m6 2h0m1-2h0m2 0h0m2 2h0m0 1h0m1-3h0m3 1h0m2-2h0m1 5h0m4 0h0m3-5h0m2 0h0m4 2h0m0 3h0m8-3h0m1 0h0m2-1h0m1-1h0m2 2h0m1-2h0m1 0h0m0 4h0m2 1h0m3-4h0m2-1h0m3 1h0m0 4h0m1-2h0m1-1h0m1-1h0m0 2h0m2-2h0m0 2h0m2-3h0m2 4h0m2-1h0m1 1h0m1-3h0m1 2h0m0 1h0m3-4h0m2 0h0m0 4h0m2-2h0m2 1h0m1 1h0m2-3h0m3-1h0m1 3h0m1 2h0m4-4h0m1 3h0m1 0h0m1-1h0m1 2h0m1-4h0m1 3h0m1-3h0m2 1h0m5 2h0m3 2h0m-2 3h0m-1-3h0m-1 1h0m-2 2h0m-5-2h0m-2 1h0m-1 2h0m-2-3h0m-1 2h0m-2-3h0m0 3h0m0 2h0m-4-1h0m-2-3h0m0 2h0m-3 2h0m-2-4h0m-1 1h0m-5-2h0m-2 5h0m-2-3h0m-1 3h0m-2-4h0m-1 2h0m0 2h0m-3-4h0m0 2h0m-2 0h0m-2-3h0m-1 4h0m-3-1h0m0 2h0m-1-2h0m-1-3h0m-1 2h0m-3 2h0m-2-2h0m-4 1h0m-6 2h0m-1-1h0m-2-2h0m-5 3h0m-2-4h0m-1 4h0m-5-5h0m0 4h0m-6-1h0m0 2h0m-3-5h0m-1 1h0m0 2h0m-2-2h0m0 2h0m-2-2h0m0 4h0m-1-5h0m-2 1h0m-2-1h0m-2 2h0m-1 2h0m-4-3h0m-4 3h0m-3 1h0m-2-1h0m-5 4h0m0 2h0m5-1h0m0 2h0m8-4h0m3 2h0m3 1h0m1-2h0m1 2h0m3-1h0m0 2h0m7-5h0m0 5h0m3-2h0m0 2h0m3-1h0m4-3h0m1 3h0m1-2h0m1-2h0m1 5h0m2-3h0m0 2h0m3-3h0m0 2h0m3-3h0m2 4h0m1 1h0m1-4h0m2 2h0m1 2h0m3-1h0m4 1h0m3-3h0m1 2h0m4-3h0m2 0h0m1 4h0m2-3h0m3-2h0m0 3h0m3 1h0m3-3h0m2 1h0m1 3h0m1-5h0m2 5h0m3-1h0m4-4h0m1 1h0m1 4h0m2-2h0m2 1h0m2 0h0m2-1h0m3-3h0m4 1h0m1-1h0m0 4h0m1-4h0m1 5h0m1-4h0m6 4h0m1-5h0m1 2h0m-4 7h0m-8-1h0m-7 2h0m-7-4h0m0 3h0m-5 2h0m-2 0h0m-3 0h0m-6-2h0m-7-1h0m0 2h0m-2-2h0m0 3h0m-2-1h0m-1 1h0m-2-5h0m-1 3h0m-1 2h0m-7-1h0m0 1h0m-3-3h0m-3 0h0m-2 0h0m-4-1h0m-5 1h0m0 1h0m-2 2h0m-3-1h0m-3-3h0m-3 3h0m-2-2h0m-1-1h0m-1 3h0m-4-2h0m-5 1h0m-3 2h0m-6-2h0m-5 1h0m-3-1h0m-2 0h0m-1 1h0m-1-4h0m-8 0h0m-1 6h0m0 5h0m4 0h0m7-4h0m4 0h0m2 4h0m3-5h0m2 3h0m2 1h0m1-4h0m2 3h0m1-2h0m2 2h0m19-3h0m5 2h0m4 3h0m2-3h0m2 3h0m1-5h0m2 4h0m2-3h0m2 1h0m2 1h0m3-2h0m0 2h0m1 1h0m1-3h0m0 3h0m3-2h0m3 1h0m3 1h0m1-3h0m0 1h0m4 2h0m2-2h0m1 2h0m2-2h0m0 3h0m2-1h0m1-1h0m1-3h0m7 3h0m1-3h0m1 3h0m4 0h0m1-2h0m2 0h0m4-1h0m7 2h0m2-2h0m3 0h0m2 4h0m1-2h0m3 2h0m-2 3h0m0 4h0m-1-1h0m-4-4h0m-1 2h0m0 3h0m-4-5h0m0 3h0m-2-2h0m-2 4h0m-4-2h0m-1 1h0m-2-1h0m-2 2h0m-1-5h0m-2 4h0m-3 1h0m-3-4h0m-3 4h0m-3-4h0m0 4h0m-2 0h0m-1-5h0m-1 2h0m-2-2h0m-2 2h0m-1-2h0m-2 3h0m-2 1h0m-1 0h0m-3 1h0m-1-4h0m-1 0h0m-1 3h0m-6-4h0m-2 2h0m-1 2h0m-2 0h0m-2-3h0m-1 3h0m-3-3h0m0 3h0m-5-2h0m-4 0h0m-2 0h0m-1 3h0m-15 0h0m-5-3h0m-1 2h0m-1-3h0m-5 1h0m-3 1h0m-3 0h0m0 2h0m-3-5h0m-1 1h0m-3 0h0m-4 1h0m-1 3h0m-3-2h0m-4 6h0m6-3h0m3 4h0m1-2h0m5-1h0m5 2h0m1-2h0m1 3h0m2-1h0m3 2h0m3 0h0m6-1h0m7-1h0m11 2h0m2 0h0m2-1h0m3-2h0m1-2h0m2 4h0m4-1h0m0 2h0m1-4h0m2-1h0m2 0h0m0 4h0m0 1h0m1-2h0m1-3h0m0 5h0m1-3h0m1-2h0m2 1h0m0 2h0m3-3h0m0 2h0m3-1h0m2 2h0m3 2h0m2-4h0m0 4h0m4-5h0m2 0h0m0 4h0m2 0h0m1-2h0m2-1h0m1 0h0m0 2h0m5-1h0m5-2h0m1 5h0m2 0h0m1-5h0m0 2h0m1 2h0m1 1h0m4-1h0m6 0h0m1-3h0m4 1h0m0 3h0m1-2h0m2 2h0m4 3h0m-6-1h0m-2 2h0m-2-2h0m-5 0h0m-3 0h0m-3 4h0m-1-3h0m-2 2h0m-6-2h0m-4 0h0m-1-1h0m-1-1h0m-2 5h0m-3-5h0m-8 3h0m-2 2h0m-1-3h0m-1 1h0m-2 1h0m-2-1h0m0 2h0m-2-4h0m0 3h0m-6-4h0m-2 1h0m-2 2h0m-7-2h0m-2 1h0m-2 2h0m-7-4h0m-1 2h0m-5 0h0m-4 1h0m-1-3h0m-1 5h0m-2-2h0m0 2h0m-2 0h0m-1-3h0m-2 1h0m-1-1h0m-1 2h0m-2-2h0m-10 1h0m-2-3h0m-1 5h0m-4 0h0m-4-1h0m-3 0h0m-2 0h0m-1-4h0m0 3h0m-4 8h0m1-2h0m1-3h0m2 0h0m0 5h0m6-5h0m0 3h0m2-3h0m1 0h0m0 2h0m0 3h0m8-3h0m6 1h0m3-3h0m2 5h0m4-5h0m6 4h0m2-1h0m2-1h0m2 1h0m3-1h0m1-2h0m1 2h0m1 3h0m7-4h0m0 3h0m2-2h0m1-2h0m1 2h0m3 3h0m1-3h0m1 1h0m1 1h0m1 1h0m6-2h0m2-1h0m1 1h0m1 2h0m1-5h0m2 3h0m1 2h0m1-1h0m3 0h0m2-3h0m0 1h0m0 2h0m2-4h0m1 3h0m0 2h0m1-4h0m1-1h0m2 4h0m1-2h0m1-2h0m4 0h0m3 5h0m4-2h0m2 1h0m1-1h0m3-3h0m0 3h0m2-1h0m0 2h0m2 1h0m1-2h0m1-2h0m0 4h0m4 0h0m2-4h0m3 4h0m2-5h0m3 5h0m-1 3h0m-2 1h0m-4 0h0m-3-1h0m-4-1h0m-7 1h0m-3-1h0m-1 3h0m-3 1h0m-2-4h0m-2 2h0m-2 0h0m-2-2h0m0 3h0m-2-2h0m-1 1h0m-3 0h0m-2-1h0m-1 1h0m0 2h0m-2-5h0m-3 0h0m-1 3h0m-1 2h0m-3 0h0m-1-4h0m0 2h0m-2 0h0m-1-2h0m-2 0h0m-2 1h0m-1-1h0m0 4h0m-1-1h0m-3-4h0m0 4h0m-5-3h0m-1 4h0m-1-3h0m-1 2h0m-3-3h0m-3 2h0m-5 0h0m-1-2h0m-1 4h0m-1-3h0m-6 1h0m-2 0h0m-4 0h0m-2 1h0m-4 1h0m-6 0h0m-6-4h0m-1 3h0m-5-2h0m-2 3h0m-1-2h0m-2-1h0m-5 0h0m2 9h0m6-4h0m1 2h0m1-3h0m7 1h0m9 1h0m3-2h0m5 2h0m2-1h0m3 0h0m1-1h0m1 2h0m0 3h0m3 0h0m4 0h0m6 0h0m3-4h0m2 2h0m1 2h0m4 0h0m1-3h0m6-1h0m1 2h0m8-1h0m1 2h0m1-2h0m5 0h0m1-2h0m2 4h0m3 1h0m1-1h0m1-3h0m1 2h0m4-2h0m4 2h0m0 1h0m1-4h0m2 0h0m8 3h0m2 0h0m3-3h0m1 3h0m1-1h0m1 2h0m2-2h0m4 3h0m1-3h0m1-2h0m2 0h0m0 3h0m-1 7h0m-3-1h0m-3-1h0m0 3h0m-1-5h0m-3 3h0m-4-2h0m-8-1h0m0 4h0m-1-1h0m-2-2h0m-3 3h0m-2-4h0m0 2h0m-3 0h0m-2-2h0m-5 1h0m0 4h0m-2-3h0m-3 2h0m-2-1h0m-1-3h0m0 1h0m-4 3h0m-1 0h0m-1-4h0m-1 3h0m-1 2h0m-2-4h0m0 3h0m-3-2h0m-2 0h0m-8-2h0m-3 0h0m0 1h0m-3 3h0m-1-2h0m-1 2h0m-2-2h0m0 3h0m-7-4h0m0 2h0m-3-3h0m-5 1h0m0 3h0m-2-1h0m-5-2h0m-9-1h0m-1 3h0m-2-3h0m-7 5h0m-5 0h0m-3-4h0m-4-1h0m2 8h0m3 2h0m2 0h0m4-1h0m3-3h0m5 5h0m2-5h0m3 2h0m3-2h0m3 3h0m4 1h0m2 0h0m4-4h0m2 4h0m3-3h0m2 2h0m1 2h0m7-3h0m2 0h0m0 2h0m6 1h0m4-5h0m1 4h0m1-2h0m1 3h0m2-4h0m2-1h0m0 3h0m2-3h0m0 2h0m3-2h0m0 2h0m2 2h0m1 0h0m11-1h0m9 0h0m4-1h0m0 3h0m2-5h0m4 5h0m4-3h0m1-2h0m0 4h0m6-3h0m0 2h0m2 0h0m8 2h0m3-5h0m-7 6h0m0 3h0m-3 0h0m-3 0h0m-2-2h0m0 4h0m-4-2h0m-1 2h0m-3-5h0m-1 5h0m-2-3h0m-2 3h0m-1-3h0m-3 2h0m-6 1h0m-1-5h0m0 2h0m-4-2h0m-4 0h0m0 4h0m-4-1h0m-1 1h0m-1 1h0m-4-5h0m-2 2h0m-1-2h0m-4 5h0m-5-3h0m-2 3h0m-4 0h0m-2-1h0m-1-2h0m-2 1h0m-2-3h0m-4 3h0m-4 2h0m-1-5h0m-3 3h0m-2 1h0m-3 0h0m-4-4h0m-4 3h0m-12-3h0m0 3h0m-2 1h0m-1-3h0m-2 3h0m-9-2h0m4 5h0m5 2h0m2 2h0m1-2h0m2-1h0m2 1h0m0 1h0m1-3h0m2 4h0m4-2h0m6 1h0m5-2h0m10 3h0m5-3h0m2-1h0m0 1h0m2 2h0m2-4h0m8 1h0m1 2h0m1-3h0m5 1h0m1 2h0m4-1h0m3-2h0m5 2h0m1 2h0m2-1h0m2-2h0m1 1h0m3 1h0m0 2h0m2-1h0m6-1h0m1-2h0m0 4h0m2-5h0m2 3h0m0 2h0m3-3h0m2 3h0m6-3h0m3 2h0m1 0h0m4-4h0m-1 6h0m-1 4h0m-2-4h0m-1 2h0m-1 3h0m-3-4h0m0 4h0m-3 0h0m-7 0h0m-4-4h0m-1 3h0m-1-2h0m-1-2h0m-1 1h0m-2 0h0m-3 1h0m-4-1h0m-1 0h0m0 4h0m-4-2h0m-2-3h0m-3 4h0m-1-4h0m-3 4h0m-1-4h0m-7 0h0m-1 0h0m0 4h0m-10-3h0m0 2h0m-1-3h0m-4 0h0m-2 4h0m-2-2h0m-2 0h0m-1-2h0m-1 1h0m-3 0h0m-3 0h0m-1 4h0m-1-5h0m-3 4h0m-2-4h0m-7 5h0m-1 0h0m-1-3h0m-8 0h0m0 3h0m-2-4h0m-2-1h0m0 2h0m-2-2h0m-1 1h0m2 7h0m1 2h0m2 1h0m7 0h0m2-4h0m1-1h0m0 3h0m1 1h0m1-3h0m3 1h0m1 2h0m1-4h0m1 4h0m2-2h0m3-1h0m5 4h0m1-4h0m1 4h0m1-3h0m0 2h0m5-1h0m1-1h0m1-2h0m17 4h0m7-2h0m1 2h0m6-1h0m4-2h0m2 4h0m2-4h0m2 3h0m3-4h0m0 2h0m1 2h0m2 1h0m2-4h0m1 2h0m1-1h0m0 2h0m1-4h0m8 3h0m0 2h0m6-5h0m8 5h0m-10 5h0m-5 0h0m-2-4h0m0 4h0m-1-2h0m-1 0h0m0 1h0m0 2h0m-2-3h0m-1-2h0m0 5h0m-2-5h0m0 1h0m0 3h0m-2 1h0m-1-4h0m-1 2h0m-1 2h0m-1-5h0m0 3h0m-5-3h0m-13 1h0m0 4h0m-2-4h0m-2-1h0m-2 3h0m-3 0h0m-4-1h0m0 1h0m-1 2h0m-2 0h0m-5-3h0m-1 1h0m-9-2h0m-1 4h0m-2-2h0m-2-1h0m-3 2h0m-2 0h0m0 1h0m-4-2h0m-2 0h0m-3-3h0m-1 5h0m-1 0h0m-2-5h0m-2 3h0m-4-3h0m-3 5h0m-2 0h0m-3 1h0m3 5h0m3 0h0m1-2h0m6-1h0m2 0h0m14-1h0m1 2h0m11-2h0m0 3h0m3-1h0m2-3h0m3 3h0m2 1h0m1-2h0m2 1h0m3 0h0m1-2h0m1 1h0m0 3h0m2-1h0m4-4h0m3 1h0m2 0h0m2 4h0m3-1h0m3-3h0m3 2h0m5-2h0m2 0h0m4 2h0m4 0h0m1 2h0m1-5h0m-3 6h0m0 3h0m-1-1h0m-2-2h0m-4 1h0m-6-1h0m0 4h0m-2-1h0m-2 1h0m-3-2h0m-2-1h0m-4-1h0m0 2h0m0 3h0m-3 0h0m-4-1h0m-2 0h0m-4-2h0m-4 2h0m-5 0h0m-2-3h0m-4 2h0m-5-2h0m-3 4h0m-4-2h0m-3-2h0m-3 2h0m-4 0h0m-2-1h0m-1-2h0m-2 3h0m0 2h0m-8-3h0m-2 1h0m-1-2h0m-2 2h0m-6 7h0m2-2h0m4 1h0m2 1h0m7-3h0m1 1h0m1-1h0m2 3h0m1-4h0m2 0h0m1 5h0m2-2h0m2-3h0m1 5h0m3 0h0m1-3h0m2 2h0m2-4h0m3 4h0m2-1h0m3 1h0m2 1h0m1-3h0m0 2h0m2 1h0m2-2h0m2 0h0m1 1h0m3 1h0m4 0h0m1-5h0m1 4h0m1-3h0m3 3h0m1-4h0m3 3h0m2 2h0m4-4h0m2 3h0m5-4h0m0 5h0m1-2h0m2-2h0m6-1h0m0 2h0m2-2h0m-6 10h0m-1-2h0m-1-1h0m-4 4h0m-2-3h0m0 3h0m-1-5h0m-1 5h0m-1-5h0m0 2h0m-3 2h0m-1 1h0m-1-4h0m-3 1h0m-1-1h0m-2 0h0m-3-1h0m-3 2h0m-3-2h0m0 2h0m0 2h0m-2-4h0m-1 4h0m-2-3h0m-5-1h0m-2 2h0m-2 0h0m-3 2h0m-1-2h0m-1-2h0m0 1h0m-1 2h0m0 2h0m-2-3h0m-2-2h0m0 3h0m-4 0h0m-6-2h0m-2-1h0m0 3h0m-3 1h0m-1 1h0m-2-3h0m0 3h0m-2-4h0m0 4h0m-2 0h0m-9-3h0m-6 2h0m-8 1h0m-6 6h0m1 0h0m3-3h0m1-1h0m1 3h0m2 1h0m2-1h0m1-4h0m1 2h0m1 3h0m1-2h0m2-3h0m2 2h0m2-2h0m1 2h0m0 2h0m1-2h0m3-1h0m1-1h0m2 2h0m1-2h0m0 4h0m2 1h0m1-4h0m1-1h0m3 4h0m4-2h0m1-2h0m0 5h0m2-4h0m4 3h0m2 0h0m2-1h0m1-2h0m3 0h0m0 3h0m2-4h0m0 5h0m2-5h0m0 2h0m3 3h0m1-1h0m6-2h0m6-2h0m6 2h0m1 2h0m2-2h0m1 2h0m1-2h0m2 3h0m5-4h0m2 4h0m2-3h0m1 3h0m18-3h0m16-1h0m5 8h0m-2 2h0m-3-1h0m-2-2h0m-2-1h0m-2 1h0m0 1h0m-1 0h0m-38-2h0m-4 4h0m-4-3h0m0 2h0m-2-4h0m-3 5h0m-1-3h0m-1-2h0m-1 1h0m-1 3h0m-2 0h0m-3 0h0m-2 1h0m-3-3h0m-2-1h0m-2 2h0m-1-1h0m-4-2h0m-1 2h0m-1-1h0m-3 3h0m-2-3h0m-1 3h0m-2 0h0m-1-3h0m-1 1h0m-1-1h0m-1 1h0m-1 2h0m-1-3h0m-4 0h0m0 4h0m-3-2h0m-1 1h0m-4-3h0m-3 1h0m-2-2h0m-1 1h0m-3 1h0m-1 3h0m-2-4h0m-3 3h0m-2-4h0m-2 1h0m0 4h0m-1 0h0m-1-3h0m-2-1h0m-1 2h0m-1-2h0m0 3h0m-8 0h0m-3 2h0m0 3h0m2 0h0m4-3h0m7 1h0m6 2h0m1 2h0m2-1h0m1 1h0m4 0h0m1-4h0m1 2h0m2 0h0m3-3h0m0 2h0m1-1h0m0 2h0m0 2h0m9-4h0m0 2h0m3-3h0m1 4h0m1-3h0m2 2h0m5 0h0m0 2h0m5-5h0m0 3h0m2 0h0m1-3h0m3 0h0m1 5h0m1-4h0m2 3h0m2-4h0m3 0h0m2 2h0m2 0h0m1 2h0m3 1h0m2-5h0m7 2h0m2 3h0m1-4h0m1 4h0m3-2h0m1-2h0m38 0h0m5-1h0m4 1h0m0 2h0m2 1h0m4 5h0m-10-3h0m0 3h0m-2 2h0m-5 0h0m-26 0h0m-12 0h0m-3-1h0m-4-2h0m-1-2h0m-1 3h0m-2-3h0m0 4h0m-2 1h0m-2-2h0m-1-2h0m-3 1h0m-2 1h0m-1 1h0m-1-3h0m0 4h0m-2-5h0m0 4h0m-2 1h0m-2-5h0m-2 4h0m-1-3h0m-1 3h0m-2-2h0m-1 2h0m-2 1h0m-5-2h0m-2 0h0m-1-2h0m-3 3h0m-4-4h0m0 5h0m-2 0h0m-1-3h0m-4-2h0m0 3h0m-2 2h0m-1-4h0m-3 2h0m0 1h0m-2-3h0m-2-1h0m0 3h0m-3-2h0m-1 2h0m-2 0h0m-2 2h0m-4-1h0m-3-3h0m-1 3h0m-4 0h0m-4-2h0m-3-2h0m0 1h0m0 3h0m-3-3h0m-4 4h0m4 2h0m2 3h0m2 1h0m2-5h0m5 3h0m3-1h0m5 3h0m1-4h0m6 3h0m5-4h0m2 0h0m1 2h0m1-2h0m4 0h0m3 1h0m0 3h0m3 0h0m4 1h0m7 0h0m2 0h0m2-2h0m3 2h0m2-4h0m2 4h0m1-5h0m1 4h0m3-3h0m1 2h0m4 1h0m2-4h0m0 4h0m5-4h0m0 2h0m55 0h0m1-1h0m3 4h0m2 0h0m1-1h0m2 0h0m5-4h0m-3 7h0m-2 0h0m-10 4h0m-57-4h0m-5 0h0m-4 0h0m0 2h0m0 2h0m-2-3h0m-3-2h0m-3 0h0m0 2h0m-2 0h0m-3 0h0m-1-2h0m0 3h0m-3-3h0m0 2h0m-1 1h0m0 2h0m-2 0h0m-1-2h0m-2 1h0m-1-1h0m-1-3h0m-1 4h0m-1-2h0m-2-2h0m0 2h0m-1 2h0m-5-3h0m-1 1h0m-5-2h0m-2 0h0m-3 3h0m-7 1h0m-1 1h0m-1-1h0m-6-4h0m-4 5h0m-3-3h0m-1 3h0m7 1h0m3 5h0m1-3h0m1 2h0m1-1h0m2 2h0m1-2h0m1-3h0m4 1h0m0 3h0m3-3h0m5 0h0m0 3h0m2-4h0m0 5h0m5-3h0m0 3h0m2-1h0m1-2h0m2 0h0m2 1h0m3-2h0m3 3h0m2-3h0m1 4h0m1-5h0m2 5h0m1-4h0m1 2h0m3 0h0m1 1h0m1-3h0m1 4h0m5-2h0m1-3h0m3 3h0m1-3h0m58 5h0m2-1h0m2-3h0m4 0h0m5 2h0m-3 4h0m-3 4h0m-2-3h0m-2 2h0m-70-3h0m-7 2h0m-2 2h0m-6-1h0m-2-3h0m-1 1h0m-3 1h0m-1-1h0m-5 3h0m-3-5h0m-2 3h0m-3 0h0m-3-3h0m-2 3h0m0 2h0m-1-3h0m-4 1h0m-2 0h0m0 1h0m-2-3h0m0 3h0m10 5h0m2-2h0m1 1h0m0 3h0m5-3h0m2-2h0m0 3h0m1-1h0m1 2h0m1 1h0m2-3h0m2-2h0m1 0h0m1 1h0m1 1h0m2-1h0m1-1h0m2 1h0m1 2h0m4-2h0m73-1h0m5 1h0m2 4h0m1-1h0m9-2h0m-101 8h0m-9-4h0m-3 0h0m-13 0h0m-1 2h0m-17-1h0m27 7h0m82 4h0m-80 0h0m-4 10h0"/>
<path stroke="#5ba2cb" d="M869 370h0m-3 0h0m-1-2h0m-1 3h0m-4-1h0m-2 1h0m-1-2h0m-2 2h0m-2 0h0m-2 3h0m3 2h0m2-3h0m2 0h0m4 3h0m4-4h0m1 3h0m2 1h0m4-2h0m0 2h0m3 0h0m-1 7h0m-2-5h0m-2 5h0m-1-1h0m-4 0h0m-2 0h0m-4-3h0m0 4h0m-2 0h0m-1-3h0m-1 3h0m-1-5h0m0 2h0m-2-2h0m-3 2h0m-3 3h0m-1-3h0m-2 0h0m0 8h0m3-2h0m5 1h0m0 1h0m3 1h0m1-5h0m1 4h0m3-1h0m2-1h0m0 3h0m1-4h0m2 0h0m0 4h0m1-3h0m1-2h0m0 4h0m2-3h0m1 3h0m2-3h0m3 0h0m0 9h0m-1-3h0m-1 2h0m-3 2h0m-4-3h0m0 3h0m-2-2h0m-1-1h0m-3 3h0m-3-4h0m-8-1h0m0 3h0m-4-3h0m1 11h0m4-1h0m2-1h0m1-2h0m0 4h0m1-3h0m1 0h0m1-2h0m2 1h0m1 2h0m2 0h0m1 1h0m4 1h0m2-4h0m0 4h0m1-5h0m1 5h0m2-1h0m3-4h0m-3 9h0m-1 2h0m-1-3h0m-2 2h0m-1-4h0m-1 3h0m-3-3h0m0 4h0m-1-2h0m-1-1h0m-2-1h0m-1 3h0m-2 0h0m-1-1h0m-2-1h0m-1 1h0m-1-2h0m-1 4h0m-2-1h0m-1 7h0m2 0h0m1-3h0m2-1h0m1 3h0m0 1h0m2-1h0m2 0h0m1-3h0m4 5h0m3-1h0m2-2h0m1 0h0m0 1h0m1 6h0m-2 2h0m-1-5h0m0 4h0m-1 1h0m-1-5h0m-1 3h0m-2-2h0m0 1h0m-2 2h0m-1-2h0m-1-2h0m-2 2h0m-1-2h0m-2 4h0m-2 0h0m-3-4h0m-1 4h0m-4 5h0m1 2h0m2-3h0m1 3h0m3-5h0m0 2h0m1-1h0m1 4h0m1-3h0m1 1h0m0 2h0m1-4h0m1 2h0m1-2h0m0 4h0m1-4h0m1 3h0m1-3h0m1-1h0m0 3h0m1-1h0m2 2h0m1-3h0m4 0h0m1 3h0m-3 6h0m-1-4h0m-1 3h0m-2-2h0m-3 1h0m0 3h0m-3-4h0m-1-1h0m-1 5h0m-1-3h0m-1-1h0m-3 0h0m-1 3h0m-2 1h0m-6 2h0m1 4h0m4-1h0m2 0h0m1-3h0m0 3h0m1-4h0m2 5h0m1-2h0m1-3h0m1 1h0m0 3h0m3 0h0m3-4h0m1 4h0m1-4h0m0 2h0m1 0h0m1 1h0m3-3h0m18 9h0m-20 0h0m-2-3h0m-3 1h0m0 3h0m-4-3h0m0 1h0m-1 2h0m-1-3h0m-1 4h0m-1-3h0m-2 1h0m-1-3h0m0 5h0m-2-2h0m-3-2h0m-3 2h0m-2 1h0m-2 4h0m3-1h0m0 3h0m1-3h0m1 3h0m1 1h0m1-3h0m1 2h0m1-3h0m1 1h0m3-1h0m2-1h0m6 1h0m2 1h0m2 1h0m1-1h0m-2 9h0m-1-5h0m0 4h0m-2-4h0m0 4h0m-3-1h0m-1-3h0m0 3h0m-2-1h0m-2-2h0m-3 0h0m0 3h0m-1 1h0m-1-1h0m-1-3h0m0 5h0m-2-4h0m-2 0h0m-2 2h0m-1-1h0m-1 3h0m-4-3h0m-3 6h0m7 1h0m0 2h0m1-3h0m1-2h0m2 2h0m0 3h0m3-3h0m0 3h0m2-2h0m1-2h0m4 3h0m1-2h0m3-2h0m2 3h0m1-3h0m0 4h0m3-3h0m16 5h0m-11 3h0m-4-2h0m-2 2h0m-3-3h0m-1 1h0m0 4h0m-1-2h0m-1 2h0m-3-4h0m-1 1h0m0 3h0m-1-1h0m-2-2h0m0 1h0m0 2h0m-2-2h0m-2 0h0m-1 1h0m-2 1h0m-1-4h0m-1 3h0m-3-2h0m-2-1h0m-1-1h0m0 4h0m-2-2h0m-1-2h0m-1 3h0m-6 7h0m1-2h0m1 1h0m2 1h0m4-4h0m3 3h0m1-1h0m4-2h0m2 2h0m2-2h0m0 4h0m2-2h0m0 2h0m2-2h0m2 2h0m2-2h0m1-1h0m2 4h0m1-4h0m1 1h0m1-1h0m1 0h0m1-1h0m0 2h0m1 0h0m1 2h0m1-4h0m1 1h0m2 1h0m0 2h0m1-4h0m1 3h0m3 5h0m-3 2h0m-1-1h0m0 2h0m-1-5h0m-1 1h0m-2 3h0m-2 0h0m-1-4h0m-2 0h0m-1 5h0m-1-1h0m-1-4h0m-2 2h0m-1 1h0m-3 2h0m-1-3h0m0 3h0m-1-2h0m-1-1h0m0 2h0m-1-3h0m-2-1h0m0 5h0m-1-3h0m0 2h0m-2 0h0m-2 0h0m-1-1h0m-1-2h0m-1 0h0m-2 1h0m-3 3h0m-2-5h0m0 3h0m-2 2h0m-2-3h0m-2 9h0m1-5h0m1 1h0m0 1h0m0 3h0m3 0h0m4-4h0m0 2h0m5-3h0m0 4h0m1-3h0m2 2h0m4 2h0m2 0h0m2-2h0m0 2h0m1-4h0m1 2h0m1-3h0m1 3h0m0 2h0m1-5h0m0 1h0m4 3h0m1-2h0m1-1h0m2-1h0m2 2h0m3 1h0m1-2h0m1 2h0m0 3h0m-2 1h0m-1 2h0m-2-3h0m0 2h0m-2 3h0m-1-2h0m-2-3h0m0 3h0m-1 2h0m-1-4h0m-1 2h0m-1-3h0m0 5h0m-2-1h0m-1-4h0m-1 2h0m0 3h0m-1-3h0m0 2h0m-3 1h0m-4-5h0m0 3h0m-2 0h0m-1-2h0m-1 4h0m-1-5h0m0 3h0m-2-1h0m-3 0h0m0 2h0m-2-1h0m-1-2h0m-1 0h0m-3 0h0m-1 4h0m-1-3h0m0 2h0m1 7h0m3-2h0m1-1h0m2-1h0m0 3h0m1-2h0m1 2h0m2-3h0m1-1h0m0 3h0m1-1h0m2 1h0m4 2h0m1-5h0m1 4h0m4 0h0m3 0h0m1-1h0m1-3h0m0 1h0m1 3h0m1-4h0m0 4h0m1-2h0m1 1h0m2-1h0m2 0h0m4-1h0m0 4h0m1-5h0m2 4h0m1-4h0m2 5h0m-3 5h0m-2-2h0m-2 3h0m-1-4h0m-1 4h0m-1-4h0m-2-1h0m-2 0h0m0 2h0m-2 0h0m-3-1h0m0 4h0m-3-1h0m-1-3h0m0 1h0m-1-2h0m-4 1h0m-6 1h0m0 3h0m-2-3h0m-1-2h0m0 5h0m-4-3h0m0 3h0m-1-5h0m-1 2h0m0 1h0m-1-3h0m-2 3h0m-2-3h0m0 4h0m-1-2h0m-3 0h0m0 9h0m1-5h0m5 3h0m2-2h0m4 0h0m2 0h0m2-1h0m0 2h0m1 3h0m5-3h0m0 3h0m3-3h0m2-2h0m1 2h0m0 1h0m3 0h0m3-2h0m0 4h0m3-1h0m5 0h0m3-1h0m3 2h0m1-4h0m0 3h0m-1 2h0m0 4h0m-2-2h0m-1 3h0m-3-2h0m-2 0h0m-1 1h0m-3-4h0m0 3h0m-4-3h0m0 2h0m-1-2h0m0 4h0m-2 1h0m-1-3h0m-2-2h0m-1 4h0m-1-3h0m-2 0h0m-1 1h0m-2 0h0m-1-1h0m0 2h0m-2-2h0m0 4h0m-2-4h0m-1 1h0m-1-1h0m-1 2h0m-1 1h0m-1 1h0m-1-2h0m-2-1h0m-1-2h0m0 3h0m-1 2h0m-1-4h0m-1 2h0m0 2h0m-4 0h0m2 3h0m0 3h0m3-3h0m1 3h0m2-4h0m2-1h0m0 4h0m1-1h0m1-2h0m0 3h0m2 1h0m1-1h0m9-2h0m0 2h0m3-3h0m0 4h0m1-2h0m1 2h0m2-2h0m1-2h0m3 1h0m0 3h0m2-1h0m0 1h0m1 0h0m1-1h0m2-2h0m0 3h0m1-5h0m0 4h0m1-1h0m2-1h0m0 3h0m2-5h0m0 5h0m1-3h0m0 1h0m0 2h0m1-5h0m1 2h0m-1 7h0m-2 0h0m-3-1h0m0 2h0m-2-2h0m-1 3h0m-1-4h0m0 2h0m0 2h0m-2-2h0m-1-2h0m0 4h0m-1-3h0m0 2h0m-2-3h0m-1 3h0m-2-3h0m0 4h0m-2-2h0m-1-1h0m0 2h0m-2-3h0m0 2h0m-1-1h0m-1-2h0m-2 4h0m-3 1h0m-1-4h0m-3 0h0m0 4h0m-3-3h0m-3-2h0m0 3h0m0 2h0m-2-3h0m-3 3h0m-1-4h0m-2 0h0m-2 0h0m0 6h0m1 3h0m1-1h0m1-2h0m3 0h0m0 4h0m1-1h0m2-4h0m1 5h0m2-5h0m1 4h0m2 0h0m4-1h0m1 2h0m2-5h0m4 0h0m0 4h0m4-1h0m2-2h0m0 1h0m1 3h0m3-5h0m0 2h0m0 3h0m3-4h0m2 0h0m0 2h0m1 1h0m1-1h0m1-3h0m1 1h0m1 4h0m1-5h0m2 5h0m-3 2h0m-2 3h0m-1-3h0m0 2h0m-1 1h0m-2-1h0m-1-3h0m-4 5h0m-1-2h0m-2 1h0m-1-1h0m-3-1h0m-1 2h0m-1-2h0m-2-2h0m0 2h0m-1 2h0m-2-1h0m-4 1h0m-1-3h0m-1 1h0m-1 1h0m0 2h0m-1-5h0m-1 3h0m-1-2h0m-1 1h0m-1 3h0m-1-4h0m-1 4h0m-2-4h0m-5 1h0m0 2h0m1 7h0m4-4h0m1 2h0m1-1h0m4-2h0m1 5h0m3-3h0m2 3h0m1-1h0m2-3h0m3 0h0m0 3h0m2-4h0m0 3h0m3-2h0m0 4h0m1-5h0m2 1h0m1-1h0m0 3h0m3 0h0m2 0h0m3-1h0m3-1h0m1 1h0m1-2h0m-2 6h0m0 1h0m0 3h0m-4-2h0m-2-1h0m0 3h0m-2-2h0m0 3h0m-1-2h0m-5-2h0m-1 2h0m-2-3h0m0 5h0m-2-2h0m-2-3h0m-1 3h0m-1-2h0m0 3h0m-1-1h0m-1-3h0m0 5h0m-1-4h0m0 2h0m-3-3h0m-1 3h0m-1 2h0m-1-3h0m-1-2h0m-2 2h0m0 3h0m-2-1h0m-1-4h0m0 3h0m-3-2h0m-1 1h0m2 7h0m0 2h0m2-5h0m1 3h0m1 1h0m2-3h0m1 2h0m1-2h0m0 4h0m1-2h0m2 1h0m1-4h0m2 4h0m3-4h0m1 1h0m1 1h0m4-1h0m0 2h0m2-3h0m0 4h0m0 1h0m1-3h0m2-2h0m0 4h0m3 1h0m4-5h0m-5 7h0m-2 1h0m-1-2h0m0 4h0m-2-2h0m-2 3h0m-3-3h0m-7-1h0m0 2h0m-3-2h0m-1 1h0m-4 0h0"/>
<path stroke="#06305f" d="M934 76h0m3-3h0m6 3h0m3-1h0m2 1h0m2 1h0m5-1h0m6 6h0m-4 0h0m-3 1h0m-1-1h0m-2-4h0m-1 0h0m0 3h0m-2-3h0m-2 1h0m0 4h0m-1-2h0m-2 2h0m-1-3h0m-1-2h0m0 5h0m-1-2h0m-2 0h0m-1-2h0m0 3h0m-2 0h0m-1-3h0m0 4h0m-2 0h0m-2-1h0m-10 4h0m3 3h0m3 0h0m1-5h0m0 3h0m1 2h0m2-3h0m1-2h0m0 3h0m1 2h0m1 0h0m2-1h0m1-4h0m0 2h0m1-1h0m2-1h0m0 3h0m0 1h0m2-3h0m1 2h0m1-2h0m1 0h0m0 2h0m0 2h0m1-5h0m2 3h0m0 2h0m1-4h0m1 2h0m1 1h0m1-3h0m2 0h0m1 0h0m1 3h0m1 1h0m1-5h0m0 2h0m1 3h0m1-4h0m0 3h0m2-3h0m2 2h0m1-3h0m3 9h0m-2-3h0m-1 0h0m0 2h0m-1-2h0m-1 5h0m-1-4h0m-1 2h0m-1-3h0m-1 2h0m-2 2h0m-1-4h0m0 2h0m-1-1h0m0 3h0m-1-1h0m-1-2h0m0 3h0m-1-2h0m-3 0h0m0 1h0m-1 2h0m-1-5h0m0 1h0m0 2h0m-1 2h0m-1-2h0m-1 0h0m-2-3h0m0 2h0m-1 1h0m-1 2h0m-1-2h0m-2-1h0m0 3h0m-1-5h0m-1 3h0m0 2h0m-3-3h0m-2-2h0m-1 4h0m-2-3h0m-1 3h0m-2-4h0m-1 2h0m0 3h0m-3-3h0m-7 3h0m1 6h0m2-4h0m0 3h0m0 1h0m4-1h0m2-3h0m1 1h0m0 2h0m1 0h0m1-3h0m1 1h0m2 0h0m0 2h0m1-1h0m1-3h0m0 1h0m2 1h0m2-1h0m2 0h0m2 2h0m2 0h0m2-3h0m0 2h0m1 1h0m0 2h0m1-5h0m0 2h0m2 1h0m2 2h0m1-4h0m0 3h0m2-1h0m1-2h0m0 4h0m1-2h0m1-2h0m0 4h0m1-3h0m2 2h0m1-4h0m2 2h0m0 3h0m2-4h0m2 0h0m0 1h0m0 3h0m1-2h0m2 2h0m1-4h0m0 2h0m3 3h0m-3 2h0m-1 1h0m0 2h0m-3-4h0m-1 2h0m-1-2h0m-4 2h0m0 1h0m-3-2h0m0 2h0m-2-4h0m0 3h0m0 1h0m-2-4h0m0 5h0m-2-3h0m-2-1h0m0 3h0m-2-2h0m-3 1h0m-2-3h0m0 1h0m0 4h0m-3-4h0m-1 1h0m-1 3h0m-1-1h0m-1-3h0m-1 2h0m-1-3h0m-1 5h0m-1-1h0m-1-4h0m0 3h0m-1-1h0m0 1h0m0 2h0m-1-1h0m-1-4h0m0 2h0m-1 3h0m-1-5h0m-1 1h0m-1 2h0m-2-1h0m-1 3h0m-2-3h0m-1 2h0m-1-3h0m0 3h0m-2 0h0m-3-2h0m0 2h0m-13 6h0m2-4h0m0 4h0m2-4h0m0 2h0m4-2h0m3 1h0m2-1h0m1 4h0m3-4h0m0 3h0m1 2h0m1-5h0m0 2h0m1 1h0m0 1h0m1-3h0m2 0h0m1 4h0m1-4h0m0 2h0m2-1h0m2-1h0m0 2h0m1 2h0m1-2h0m1-2h0m1 1h0m0 2h0m2-2h0m1 2h0m1-4h0m1 2h0m1-1h0m2 0h0m0 2h0m1-1h0m3 1h0m1-1h0m1 2h0m2-2h0m3-2h0m2 1h0m3 0h0m0 2h0m1-3h0m0 4h0m2-3h0m0 3h0m1-3h0m0 4h0m1-1h0m2-4h0m0 2h0m1-1h0m0 4h0m1-2h0m2 0h0m1-1h0m2-1h0m1 4h0m1-1h0m1 6h0m-4-4h0m0 3h0m-1 1h0m-1-4h0m-2 0h0m0 4h0m-2-3h0m-1 2h0m-2-2h0m-1-1h0m0 2h0m-1 1h0m-1-1h0m-1 3h0m-1-5h0m-1 5h0m-1-2h0m0 2h0m-4-5h0m-1 2h0m0 2h0m0 1h0m-2-5h0m0 3h0m0 1h0m-1-4h0m-1 2h0m0 2h0m-3-4h0m0 3h0m-2 1h0m-1-4h0m-1 2h0m-1 3h0m-1-1h0m-1-4h0m0 2h0m-1 3h0m-1-5h0m0 2h0m-2-1h0m0 2h0m-1 2h0m-2-5h0m0 2h0m0 2h0m-1-2h0m-1-1h0m0 2h0m-2 2h0m-1-3h0m-1-2h0m0 3h0m-2-1h0m-1 0h0m-4-1h0m-2-1h0m-3 1h0m-2 1h0m-2 1h0m-5 0h0m-7-1h0m-8 1h0m-1-2h0m-1 2h0m-3-1h0m-1 1h0m0 2h0m-2-5h0m0 2h0m0 2h0m-3-1h0m-5-1h0m-1 2h0m-12-1h0m-1-2h0m-2 2h0m-1 1h0m-4 1h0m-2-3h0m-1 2h0m-4-2h0m-5 0h0m-2-2h0m0 2h0m-2 3h0m-2-1h0m-2-1h0m-20 8h0m8-2h0m2 2h0m2-2h0m1-2h0m1-1h0m0 2h0m1 3h0m1-4h0m1 3h0m4-1h0m1-3h0m1 2h0m2 1h0m1-2h0m1 3h0m3-3h0m1 3h0m1-3h0m1 2h0m2 2h0m1-5h0m0 1h0m2 0h0m0 2h0m1 1h0m1-3h0m1 2h0m1 2h0m1-4h0m1-1h0m1 1h0m2-1h0m0 4h0m4-4h0m0 5h0m3 0h0m3-4h0m0 3h0m3-1h0m2-1h0m1-2h0m0 4h0m2 1h0m3-3h0m1 1h0m1-3h0m2 1h0m1 1h0m1 3h0m3-5h0m0 5h0m2-1h0m3 1h0m3-4h0m1 4h0m5-4h0m3 0h0m5 4h0m3-5h0m2 0h0m1 2h0m1 2h0m1-3h0m0 4h0m3-4h0m0 1h0m0 2h0m2-3h0m0 3h0m2-1h0m1 2h0m1-4h0m1-1h0m0 2h0m2-2h0m0 1h0m0 4h0m1-2h0m1-1h0m1 3h0m1-3h0m2 2h0m1-2h0m2 1h0m1 2h0m1-3h0m1 1h0m0 1h0m1-4h0m1 3h0m1-3h0m1 3h0m0 2h0m3-4h0m0 2h0m1-1h0m0 2h0m1 1h0m1-3h0m1 1h0m1-2h0m0 3h0m1-2h0m2-2h0m1 5h0m3-2h0m1-2h0m0 3h0m3-4h0m0 5h0m1-2h0m1-2h0m1 0h0m1 4h0m3-4h0m3 0h0m-4 7h0m-2-1h0m0 4h0m-3-4h0m0 2h0m-3-3h0m0 2h0m0 2h0m-1-3h0m-1 1h0m-1 2h0m-1 1h0m-2-4h0m0 2h0m0 2h0m-1-5h0m-1 1h0m0 3h0m-1-4h0m-1 2h0m-1-2h0m-1 5h0m-1-2h0m-1-2h0m-2 1h0m0 3h0m-1-1h0m-5 0h0m-1-3h0m-1 3h0m-1-3h0m-1 3h0m-1-4h0m0 2h0m0 1h0m-1 2h0m-1-5h0m0 4h0m-2-1h0m-2-2h0m-1 3h0m-2-3h0m-1 2h0m-1-3h0m-1 2h0m0 2h0m-1 1h0m-3-1h0m-1-3h0m-1 2h0m-1-1h0m-2-2h0m-3 3h0m-2 2h0m-4-2h0m0 2h0m-1-5h0m-3 1h0m-1-1h0m-3 5h0m-3-3h0m0 2h0m-2-3h0m-2-1h0m-3 4h0m-2-3h0m-2 2h0m-2-3h0m-1 5h0m-1-4h0m0 2h0m-2-1h0m-2-1h0m-1 3h0m-2-3h0m-2-1h0m-3 2h0m0 3h0m-1-2h0m-2-1h0m-2-1h0m0 4h0m-2 0h0m-1-5h0m-3 3h0m0 2h0m-3-5h0m-7 1h0m0 2h0m-2 1h0m-2-1h0m-1-3h0m-1 4h0m-4 0h0m-2-1h0m-1-1h0m-1-1h0m-3 1h0m-2-1h0m-1 3h0m-3-2h0m-1 2h0m-3-2h0m0 3h0m-1 0h0m-2-4h0m-2-1h0m-1 3h0m-1-3h0m-5 8h0m2 0h0m0 3h0m2-3h0m0 2h0m2 0h0m2-3h0m1 3h0m1-3h0m2 1h0m1-1h0m1 4h0m1-2h0m2-1h0m1-2h0m0 4h0m1-4h0m1 4h0m4-2h0m0 2h0m0 1h0m1 0h0m1-4h0m1 4h0m1-5h0m4 1h0m1-1h0m2 0h0m0 5h0m2-2h0m1-3h0m1 3h0m0 2h0m1-5h0m0 4h0m2 0h0m1-3h0m1 2h0m2-2h0m1-1h0m0 3h0m1 0h0m2-1h0m1 2h0m1-2h0m1-1h0m1-1h0m0 3h0m1 2h0m1-3h0m0 2h0m2 0h0m1-3h0m3-1h0m0 4h0m1-1h0m4-3h0m0 3h0m0 1h0m1-2h0m2 1h0m1 2h0m3-3h0m0 2h0m2 1h0m1-5h0m3 3h0m3-2h0m2 4h0m2-5h0m2 1h0m1 1h0m1 2h0m3-3h0m3 4h0m2 0h0m3 0h0m6-3h0m0 2h0m5 1h0m3-3h0m2-1h0m1 2h0m1-2h0m1 1h0m5-1h0m1 4h0m1-4h0m1 1h0m2-2h0m0 4h0m3-1h0m3-3h0m1 0h0m0 3h0m2 2h0m1-4h0m1 1h0m1-1h0m2 1h0m0 2h0m1-3h0m2-1h0m0 1h0m1 2h0m1-3h0m1 0h0m0 2h0m1-1h0m0 4h0m2-5h0m1 2h0m3 0h0m0 2h0m1-4h0m1 3h0m1-1h0m2-2h0m2 4h0m-5 6h0m-1-4h0m-1 3h0m-1-1h0m-2-2h0m-1 2h0m0 2h0m-2-1h0m-1-2h0m-1 4h0m-1-2h0m-1-3h0m0 5h0m-1-5h0m-1 1h0m0 2h0m-1-3h0m-1 2h0m0 2h0m-3-3h0m-1 3h0m-2-1h0m0 2h0m-2 0h0m-2-1h0m-4-4h0m-1 3h0m0 2h0m-2-3h0m-2-2h0m-3 0h0m0 5h0m-2-2h0m0 2h0m-1-1h0m-1-4h0m-2 2h0m-2-2h0m-6 3h0m-2 1h0m-1-4h0m0 2h0m-1 1h0m-2 1h0m-3-3h0m-4-1h0m-5 1h0m0 4h0m-1-1h0m-2-2h0m-5-2h0m-1 2h0m-2-2h0m-1 5h0m-4-4h0m0 3h0m0 1h0m-2-2h0m-4 2h0m-1 0h0m-5-5h0m-3 0h0m0 3h0m-2-3h0m-1 2h0m0 3h0m-2-3h0m0 3h0m-3-1h0m-1-4h0m-2 2h0m0 3h0m-1-1h0m-3-4h0m0 4h0m-1 1h0m-2 0h0m-2-4h0m0 3h0m-1 0h0m-1-4h0m-1 4h0m-2 0h0m-1-3h0m-1 2h0m-1 2h0m-2-3h0m-3 0h0m0 3h0m-3-3h0m-4-2h0m0 3h0m0 2h0m-1-1h0m-3-3h0m-1 1h0m0 2h0m-4-3h0m-1 1h0m-3 2h0m-2 1h0m-1-4h0m-2 0h0m-1 2h0m-1-3h0m-5 5h0m2 4h0m4-2h0m2-1h0m0 5h0m4-5h0m3 0h0m0 4h0m0 1h0m2-2h0m2-1h0m0 3h0m2-5h0m0 2h0m2-2h0m0 3h0m2 2h0m2-4h0m2-1h0m1 5h0m7-4h0m3 1h0m1-2h0m0 5h0m1-1h0m1-2h0m1-2h0m0 3h0m0 2h0m2-1h0m2-4h0m2 0h0m0 3h0m2-2h0m1 2h0m3-2h0m1 0h0m3-1h0m1 2h0m0 2h0m3-4h0m2 2h0m1 3h0m5-2h0m4-2h0m2 0h0m0 2h0m1 1h0m5-2h0m2-2h0m1 2h0m3 3h0m1-3h0m6 0h0m2 3h0m2-4h0m0 4h0m3 0h0m3 0h0m3 0h0m1-3h0m2-1h0m0 3h0m1-1h0m2 0h0m3 0h0m2 0h0m2-3h0m1 2h0m4 2h0m1-4h0m5 3h0m3 1h0m2 0h0m1-2h0m1-1h0m2 3h0m0 1h0m1-3h0m1-2h0m1 4h0m2 1h0m1-2h0m2-2h0m1 3h0m1-4h0m2 2h0m0 1h0m2 1h0m2-2h0m0 1h0m1 2h0m1-5h0m2 0h0m1 1h0m2 2h0m-4 6h0m-1-1h0m-1 1h0m-1 2h0m-1-5h0m-1 4h0m-2-3h0m-2-1h0m-2 3h0m-1 2h0m-1-4h0m-1 2h0m-1-3h0m0 3h0m-3-2h0m-1 0h0m-1 1h0m-3-1h0m-1 3h0m-1-4h0m-1 3h0m-2-1h0m-3 1h0m-2-2h0m-13 0h0m-2 4h0m-1-5h0m0 2h0m-5 1h0m-1 1h0m-2-3h0m-1 1h0m0 2h0m-4-2h0m0 2h0m-3-1h0m-2 2h0m-2-5h0m-11 5h0m-2-4h0m-3 0h0m-2-1h0m0 2h0m-2 3h0m-3-4h0m0 2h0m-1-3h0m-3 1h0m-3 3h0m-3-2h0m-2 2h0m-2-3h0m0 3h0m-1-2h0m-2 2h0m-4 1h0m-1-4h0m-1 1h0m-1-2h0m0 5h0m-2-1h0m-1-4h0m-2 4h0m-1-1h0m-1-3h0m-2 3h0m-1-3h0m0 5h0m-1-4h0m-2 0h0m0 4h0m-7 0h0m-1 0h0m-3-3h0m-1-2h0m-2 1h0m-1 2h0m-2 2h0m-3 0h0m-1-2h0m-1-3h0m-2 5h0m-1-2h0m-2-2h0m-1 2h0m0 2h0m1 1h0m0 4h0m1 1h0m1-3h0m3-2h0m0 2h0m0 3h0m1-1h0m1 1h0m1-4h0m2 3h0m2-4h0m3 1h0m1 4h0m3-1h0m1 1h0m4-4h0m1-1h0m0 5h0m1-2h0m2 0h0m0 1h0m1-4h0m1 2h0m1-2h0m3 1h0m2 3h0m2-3h0m2 4h0m1-4h0m3 2h0m0 1h0m5-2h0m3-1h0m2-1h0m1 3h0m2-1h0m2 1h0m3 2h0m2-3h0m4 2h0m1-2h0m2 1h0m2-3h0m14 4h0m2-2h0m3 0h0m0 2h0m2-2h0m2-2h0m1 3h0m1-3h0m2 1h0m0 3h0m2-2h0m1 0h0m1-2h0m4 3h0m1 1h0m4-1h0m1-2h0m3 3h0m2-1h0m4-1h0m3-1h0m4 4h0m3-4h0m7 0h0m5 4h0m2-2h0m1 1h0m2 1h0m2-2h0m1-1h0m1 0h0m-2 5h0m-2 3h0m-1-2h0m-3 3h0m-2 0h0m-2-5h0m0 2h0m-2 2h0m-2-4h0m0 4h0m-1-3h0m-2 4h0m-1-1h0m-5-1h0m-1 2h0m-1-5h0m0 1h0m-1 2h0m-2-1h0m-3-1h0m-1 3h0m-2-1h0m-4 1h0m-2-2h0m-1 0h0m-2 0h0m0 2h0m-2 1h0m-1-5h0m0 1h0m-3 0h0m0 2h0m-1-1h0m-1-1h0m-5 4h0m-1-4h0m-2 0h0m-2 2h0m-4 0h0m-16 0h0m-6-3h0m-1 2h0m-2-1h0m-12 0h0m-1-1h0m-1 5h0m-2 0h0m-2-3h0m-2-2h0m0 2h0m-3-2h0m-3 1h0m-4 3h0m-1-3h0m-1 1h0m-1 1h0m-2 0h0m0 2h0m-1-3h0m-4-1h0m0 4h0m-5 0h0m-2-5h0m-3 3h0m0 1h0m-1-4h0m-2 2h0m0 2h0m-1-4h0m-2 3h0m-1-1h0m-2 3h0m-2-3h0m-1-1h0m-2 2h0m-2 1h0m0 2h0m3 3h0m2-1h0m0 3h0m3-2h0m1-2h0m2-1h0m2 1h0m0 2h0m5 2h0m1-1h0m2 0h0m2-4h0m2 4h0m3-2h0m1 2h0m4-4h0m0 2h0m2-2h0m1 2h0m3-2h0m0 3h0m3 1h0m2-3h0m1 3h0m1-1h0m1 2h0m3-3h0m2 1h0m0 2h0m7-4h0m7 0h0m1 3h0m4-1h0m3-2h0m16 2h0m2-1h0m0 2h0m1-4h0m5 3h0m1-2h0m2 1h0m1-2h0m0 5h0m1-4h0m1 3h0m1-4h0m1 5h0m2-1h0m1-4h0m1 3h0m0 2h0m3-4h0m1 2h0m1-3h0m2 4h0m1-4h0m1 0h0m0 4h0m2-3h0m1 2h0m2-3h0m1 3h0m0 2h0m1-4h0m2 2h0m4-1h0m1 3h0m1-5h0m1 2h0m2-2h0m1 2h0m0 2h0m0 1h0m3-5h0m0 5h0m7-2h0m2-1h0m0 2h0m2-2h0m0 2h0m1-4h0m2 10h0m-5-4h0m-3 1h0m0 3h0m-2 1h0m-4 0h0m-2-4h0m0 1h0m-2-2h0m-2 1h0m0 3h0m-5 0h0m-2-3h0m-1 4h0m-1-3h0m-3 2h0m-4 0h0m-1-3h0m-3 2h0m-1 1h0m-1-2h0m-1-1h0m0 3h0m-4 0h0m-1-3h0m-2-1h0m0 3h0m-5 2h0m-2-3h0m-2-1h0m-2 3h0m-2 0h0m-2-3h0m-13-1h0m-5 0h0m-4 5h0m-6-2h0m-5-3h0m-3 1h0m0 2h0m0 2h0m-1-5h0m-3 3h0m-2 2h0m-1-2h0m-2-1h0m-1-1h0m-2 0h0m0 4h0m-4-5h0m-3 0h0m-3 1h0m-3-1h0m-1 4h0m-1-4h0m-3 0h0m-2 3h0m-3-1h0m-1-1h0m0 4h0m-4-4h0m0 2h0m-2-2h0m-1 2h0m0 2h0m-2 0h0m-2-2h0m-1 1h0m3 5h0m1-1h0m3 3h0m1-2h0m2 0h0m3 2h0m1-3h0m1 1h0m2 1h0m1-4h0m2 3h0m1-2h0m1 2h0m1-2h0m2 1h0m0 2h0m4 0h0m2-4h0m0 5h0m1-2h0m2 0h0m1-1h0m0 2h0m1-1h0m1 1h0m4-4h0m0 2h0m0 3h0m4-5h0m0 4h0m1-2h0m2-1h0m1 1h0m0 3h0m6-3h0m3 2h0m29-4h0m2 2h0m0 2h0m6-4h0m1 3h0m1 0h0m2-3h0m2 0h0m0 4h0m2-2h0m0 2h0m1-3h0m1 1h0m2 1h0m4-2h0m0 2h0m2-1h0m1 1h0m2-3h0m0 4h0m2-3h0m2 0h0m1 3h0m2 1h0m1-2h0m5 1h0m4-1h0m2-2h0m1 3h0m3-2h0m1 2h0m1-3h0m1-1h0m1 7h0m0 3h0m-5-2h0m-2 0h0m0 2h0m-4-2h0m-4-2h0m-3 3h0m-2 1h0m-2-4h0m0 1h0m-2 2h0m-1-1h0m0 3h0m-2-5h0m-3 2h0m-1-1h0m0 4h0m-1-4h0m-1 2h0m0 2h0m-2 0h0m-1-3h0m-1 2h0m-2 1h0m-1-3h0m-1-1h0m0 1h0m-2-1h0m-6 4h0m-7-1h0m-1-3h0m-21-1h0m-2 4h0m-1-3h0m-1 4h0m-1-3h0m-2 0h0m-2 2h0m-7-1h0m-1-3h0m-2 3h0m-1 2h0m-3-5h0m0 1h0m-2 0h0m0 4h0m-1-5h0m-1 2h0m0 1h0m-1 2h0m-3 0h0m-1-3h0m-1-1h0m-1 2h0m-1-1h0m0 3h0m-1-4h0m-2-1h0m-3 1h0m-1-1h0m-1 3h0m0 2h0m-1-5h0m-1 2h0m-2 2h0m-2-3h0m0 3h0m-1-3h0m-1-1h0m0 5h0m-4-1h0m-2-3h0m8 7h0m2-2h0m0 4h0m1-2h0m1-1h0m1 2h0m2-2h0m0 4h0m1-5h0m2 0h0m0 3h0m1-2h0m0 3h0m1-4h0m1 2h0m1-1h0m2 2h0m1-2h0m3 2h0m2-2h0m0 3h0m1-3h0m1 4h0m2-5h0m0 5h0m2-1h0m1-2h0m2 1h0m1-3h0m2 3h0m1-2h0m1 3h0m1-2h0m0 3h0m2-2h0m3 2h0m4-3h0m3-1h0m27 0h0m3 1h0m0 2h0m6-4h0m0 5h0m2-5h0m6 4h0m1-3h0m2 2h0m5 0h0m4 2h0m1-5h0m1 1h0m3-1h0m0 1h0m0 2h0m4-1h0m2-2h0m0 5h0m1-4h0m1 3h0m1-2h0m2-1h0m1 4h0m2-1h0m4 3h0m0 4h0m-4-1h0m-3 0h0m-1-1h0m-1-2h0m-3 1h0m-1-2h0m-1 3h0m-1-2h0m-3 3h0m-2-1h0m-8 0h0m-1-3h0m-3 2h0m-3 0h0m0 2h0m-1-2h0m-5-1h0m-5 1h0m0 2h0m-2-3h0m-1 2h0m0 2h0m-1-5h0m-1 1h0m-1-1h0m-1 3h0m-7-1h0m-14 3h0m-14-2h0m-2-1h0m-1 0h0m-1 3h0m-2-2h0m0 2h0m-1-3h0m-2-1h0m0 4h0m-1-1h0m-6-2h0m-2-1h0m0 3h0m-1 1h0m-1-2h0m-1-3h0m0 2h0m-2-1h0m0 2h0m-1 2h0m-1-5h0m-1 2h0m-1 3h0m-1-3h0m0 2h0m-1-4h0m0 3h0m-3-2h0m0 3h0m7 3h0m0 2h0m2-3h0m1 4h0m2-3h0m0 3h0m1-2h0m2-1h0m0 3h0m2-2h0m0 3h0m1-4h0m2 2h0m1-3h0m2 2h0m1 2h0m1-4h0m1 5h0m2-4h0m4 1h0m2 1h0m2-2h0m19 1h0m18-1h0m2 2h0m2-1h0m3-2h0m0 2h0m0 3h0m3-4h0m6 0h0m16 0h0m2-1h0m2 3h0m0 2h0m3-5h0m0 4h0m2 0h0m5-1h0m2-2h0m1 4h0m0 3h0m0 3h0m-1-2h0m-3-1h0m-1 1h0m-3-1h0m-2-1h0m-1 2h0m0 1h0m-2 1h0m-5-4h0m-19-1h0m-8 2h0m-32-1h0m-2 4h0m-3 0h0m-4-3h0m-12 0h0m-2 3h0m-1-5h0m0 2h0m-1 3h0m-1-3h0m-2 2h0m-4-3h0m-1 4h0m-7-5h0m14 6h0m4 0h0m64 4h0m20 0h0m1-3h0m7 1h0m0 3h0m2 0h0m1-3h0m1-1h0m1-1h0m0 4h0m0 1h0m5-3h0m0 3h0m0 2h0m-2 1h0m0 3h0m-2 0h0m-1-3h0m0 2h0m-1-4h0m-2 1h0m0 2h0m0 2h0m-2-2h0m-2-2h0m-30 7h0m2 2h0m31-4h0m3 0h0m1 5h0m3 0h0m2-1h0m1-3h0m2 3h0m2 3h0m-3 3h0m6 3h0"/>
<path stroke="#276bb0" d="M964 251h0m-1 3h0m4 2h0m1-2h0m2 2h0m1-2h0m6 6h0m0 3h0m-6-4h0m0 3h0m-2-3h0m-1 1h0m9 7h0m1-1h0m2 0h0m0 3h0m2-1h0m7 7h0m-5-1h0m-2-3h0m0 2h0m-3-3h0m0 4h0m3 2h0m2 0h0m0 1h0m1 0h0m2 3h0m1-4h0m2 4h0m8 7h0m-3-1h0m-2-4h0m-1 3h0m0 2h0m-1 0h0m-1-5h0m0 3h0m-2-1h0m4 5h0m3 0h0m0 3h0m1-1h0m2-1h0m1 2h0m1-1h0m0 2h0m2 0h0m3 0h0m13 6h0m-7 0h0m-2 0h0m-1-3h0m-2-1h0m-1 1h0m0 2h0m-3-3h0m0 4h0m-1-1h0m-1-3h0m-2-1h0m-2 0h0m4 6h0m7 3h0m3-1h0m3 3h0m8-5h0m0 4h0m7 0h0m1-3h0m8 3h0m6 0h0m29 5h0m-22 2h0m-3-5h0m-1 4h0m-1 1h0m-3-4h0m-3 1h0m-1 3h0m-2-2h0m-4-2h0m0 3h0m-3-1h0m0 2h0m-1-3h0m-4-2h0m0 3h0m-1-3h0m-1 3h0m-1-1h0m-1 3h0m-2-4h0m0 3h0m-3 0h0m-4-4h0m-4 3h0m-14-1h0m-5-2h0m-1 5h0m-2-2h0m-1 2h0m24 1h0m3 1h0m4 1h0m3 1h0m1-2h0m1 2h0m1 2h0m3-1h0m2-2h0m3 3h0m4-2h0m1-2h0m2 4h0m1-3h0m3-2h0m0 2h0m5 2h0m2 0h0m3 0h0m8-1h0m0 2h0m1-5h0m4 5h0m2 0h0m2-4h0m1 3h0m11 6h0m-3-4h0m0 4h0m-2-1h0m-1-2h0m-3 2h0m-4 2h0m-1-4h0m-2 2h0m-2-1h0m-2 1h0m-2 2h0m-1-3h0m-2-1h0m0 3h0m-2-2h0m0 3h0m-1-5h0m-2 5h0m-2 0h0m-1-3h0m-6-2h0m0 2h0m-2 2h0m-1-3h0m-2 2h0m0 1h0m-2-3h0m-2 3h0m-2 0h0m-3 1h0m-1-3h0m-1 1h0m-2-3h0m0 2h0m-6-1h0m-1-1h0m0 5h0m-6 3h0m2-1h0m2 2h0m3 2h0m3-3h0m4-2h0m1 5h0m3 0h0m2-3h0m0 2h0m2 0h0m1-1h0m0 2h0m2-4h0m1 0h0m0 4h0m3-4h0m1 2h0m3-3h0m1 5h0m1-1h0m2-2h0m4 2h0m1-3h0m1 4h0m1-2h0m1-2h0m0 4h0m3-2h0m2 1h0m1-3h0m2 3h0m1-4h0m0 5h0m4-5h0m2 4h0m4-2h0m0 2h0m2-2h0m3 2h0m3 0h0m3 5h0m-2 2h0m-2 0h0m-4-5h0m-1 3h0m0 2h0m-1-4h0m-1 4h0m-4-5h0m0 4h0m-3-4h0m-2 2h0m0 3h0m-1-1h0m-1-2h0m-2 0h0m-1-2h0m-1 5h0m-2-3h0m-2 0h0m-2 1h0m-2-1h0m-2-2h0m0 2h0m-5 1h0m-2-3h0m-1 5h0m-1-4h0m-2-1h0m-1 2h0m-5 0h0m-6 3h0m-3-1h0m-3-4h0m0 3h0m-2 1h0m-3-1h0m2 3h0m3 2h0m0 2h0m2 1h0m6-2h0m0 2h0m1-4h0m1 2h0m0 2h0m1-2h0m3-3h0m1 2h0m1-1h0m1 3h0m2-1h0m0 1h0m1 1h0m2 0h0m1-5h0m0 4h0m1-2h0m2 1h0m0 2h0m2-5h0m0 2h0m0 2h0m2-4h0m0 4h0m2-3h0m0 2h0m2-1h0m2-1h0m0 2h0m1 2h0m2-2h0m3-2h0m1 1h0m0 2h0m2-3h0m1 2h0m0 2h0m1-1h0m1-4h0m1 1h0m1 2h0m1-3h0m0 5h0m1-3h0m1 2h0m2 0h0m1 0h0m1-4h0m0 3h0m1-1h0m3 1h0m2-3h0m-3 9h0m-2-3h0m-1 1h0m0 2h0m-1 1h0m-2-4h0m0 5h0m-1-2h0m-4-3h0m0 3h0m0 2h0m-2-3h0m0 2h0m-2-2h0m0 2h0m-3-3h0m0 2h0m-1-1h0m-1 1h0m-1-2h0m-4 0h0m0 1h0m-2 0h0m0 2h0m-1-2h0m-1-2h0m-1 0h0m0 4h0m-1-1h0m-2-1h0m0 2h0m-3-3h0m0 3h0m-2 1h0m-2-2h0m-2 1h0m-1-4h0m-1 2h0m0 2h0m-1-2h0m-2-1h0m-1-1h0m-1 4h0m-2-3h0m-4 4h0m-2-2h0m-4-3h0m-6 9h0m1 2h0m5-5h0m1 0h0m3 2h0m2-1h0m1 3h0m3-3h0m1 3h0m2 1h0m1-1h0m1-2h0m1 3h0m1-1h0m1-3h0m1-1h0m0 3h0m1 1h0m2 1h0m1-4h0m0 2h0m2 2h0m4-5h0m0 4h0m2 1h0m1-4h0m1-1h0m1 1h0m2 0h0m1 3h0m1-1h0m1-3h0m0 5h0m1-3h0m1-1h0m0 4h0m2-5h0m0 3h0m0 2h0m1-3h0m1 3h0m2-5h0m0 5h0m1 0h0m1-3h0m0 2h0m1-4h0m1 4h0m2-1h0m0 2h0m4-1h0m2-4h0m0 6h0m-3 0h0m0 4h0m-7-3h0m0 3h0m-2 1h0m-2-4h0m0 2h0m0 2h0m-1-1h0m-2-2h0m-2 0h0m0 2h0m-2-3h0m0 2h0m-1 0h0m-2 1h0m-2-2h0m-1 1h0m-1 1h0m-2-2h0m-1-2h0m0 2h0m0 3h0m-4-4h0m-3 1h0m-1-1h0m-1 1h0m-1 3h0m-1 0h0m-1-3h0m-1-1h0m0 4h0m-3-4h0m-1 4h0m-2 0h0m-1-5h0m-4 1h0m0 1h0m0 3h0m-2-3h0m-1-1h0m-2 2h0m-1-1h0m0 3h0m-5-2h0m-2-2h0m-2 4h0m-5-1h0m-6 7h0m2-3h0m0 2h0m4 1h0m3-5h0m4 0h0m1 2h0m1 3h0m1-3h0m8 0h0m4-2h0m7 2h0m1-1h0m2 0h0m0 2h0m1 2h0m2-4h0m0 4h0m2-5h0m3 1h0m0 3h0m1 0h0m2-2h0m2 3h0m1-5h0m1 1h0m1-1h0m1 5h0m1-3h0m2-2h0m2 2h0m1-2h0m1 3h0m1-2h0m1-1h0m0 1h0m0 3h0m3 1h0m2-2h0m0 1h0m3-3h0m1-1h0m2 0h0m-3 7h0m-10 1h0m0 3h0m-4-1h0m-1-3h0m-2 2h0m0 2h0m-1-5h0m0 2h0m-2-1h0m0 4h0m-1-2h0m-2-3h0m0 2h0m-1 3h0m-1-1h0m-2-4h0m-1 2h0m0 2h0m-1-4h0m0 1h0m0 2h0m-1-2h0m0 4h0m-1-2h0m-2 0h0m-1-2h0m0 2h0m-1-1h0m-1 2h0m-4 0h0m-1-4h0m-2 3h0m-3 1h0m-3-3h0m0 2h0m-7 0h0m-3 1h0m0 1h0m-1-4h0m-5 0h0m0 2h0m-2 0h0m-4-2h0m-1 4h0m-5-2h0m-2 1h0m-79 7h0m77-5h0m0 2h0m2 1h0m1 2h0m3-4h0m0 2h0m2-2h0m0 3h0m1-4h0m0 3h0m1-1h0m2 1h0m1 2h0m1-2h0m1-3h0m0 1h0m0 2h0m0 2h0m3-3h0m0 3h0m1-5h0m2 2h0m6 0h0m3-1h0m0 4h0m2-1h0m1-1h0m6-3h0m0 5h0m3-4h0m0 2h0m1-1h0m2 1h0m2 0h0m1 2h0m2-5h0m3 0h0m2 2h0m1-1h0m0 4h0m1-2h0m4-2h0m2 1h0m-3 5h0m-3-1h0m-2 2h0m-4 2h0m-4-1h0m-3 0h0m-2-3h0m-6 1h0m0 2h0m-3-1h0m0 1h0m-8-2h0m-4-1h0m-3 1h0m0 3h0m-3-2h0m0 2h0m-2 1h0m-1-3h0m-1-2h0m-1 0h0m0 3h0m-1-1h0m-1 2h0m-2-4h0m0 4h0m-1-2h0m0 2h0m-1-3h0m0 4h0m-2-3h0m-1-2h0m0 4h0m-2-4h0m0 3h0m0 2h0m-1-3h0m-1 2h0m-3-4h0m-2 0h0m-4 4h0m-2-2h0m-1-1h0m0 2h0m-2 2h0m-2-4h0m0 3h0m-2-2h0m0 2h0m-4 1h0m-2 0h0m-2-1h0m-2 1h0m-7 0h0m-50-3h0m33 9h0m2-1h0m2-1h0m5 2h0m1-5h0m1 4h0m1-1h0m1-3h0m0 5h0m2-5h0m1 3h0m2-1h0m0 2h0m2 0h0m1-1h0m1 2h0m3-2h0m1-2h0m2 0h0m0 2h0m0 1h0m2-2h0m1-1h0m2 2h0m0 2h0m3-3h0m1 2h0m2-4h0m0 3h0m0 1h0m3-3h0m2 2h0m2-2h0m0 2h0m2-1h0m1-1h0m2 1h0m2-1h0m0 3h0m2-2h0m1-1h0m0 3h0m1-4h0m2 3h0m2-2h0m1 3h0m1-4h0m0 3h0m1 1h0m2-3h0m2 0h0m0 3h0m2-4h0m3 1h0m3-1h0m3 2h0m1-2h0m1 2h0m2-2h0m2 4h0m1-4h0m1 1h0m0 4h0m3-1h0m6-4h0m4 3h0m2-2h0m2 0h0m3-1h0m-41 7h0m-10 0h0m-6-1h0m-4 0h0m-13 1h0m-2-1h0m0 3h0m-3-2h0m-3 0h0m-5-1h0m-1 1h0m-2-1h0m-1 2h0m-3 0h0m-2 1h0m-1-2h0m-5-1h0m0 1h0m-2-1h0m-3 4h0m-2 1h0m-1-3h0m-2-1h0m0 4h0m-2-4h0m-1 3h0m-1-1h0m0 2h0m-3-5h0m-1 4h0m-1-4h0m0 3h0m-1 1h0m-2-2h0m0 2h0m-7 0h0m-1 0h0m-4 5h0m0 2h0m3-3h0m2 0h0m1 0h0m1 2h0m2 0h0m1-3h0m1 2h0m6-3h0m2 1h0m3-1h0m1 1h0m3-1h0m4 1h0m53-1h0m7 6h0m-7 1h0m-8 3h0m-3-4h0m-1 2h0m-3 3h0m-10-4h0m-8 3h0m-14-1h0m-32 1h0m-2-3h0m-5-1h0m-2 1h0m0 2h0m-2-2h0m-1 2h0m-3 1h0m-1-1h0m1 4h0m3 0h0m2-1h0m2 1h0m33 1h0m2 2h0m23-1h0m13 2h0m6-4h0m17 0h0m1 6h0m-12 1h0m-54 2h0m-9 0h0m-29 6h0m6-2h0m15-1h0m41 0h0m3 3h0m2 1h0m4-1h0m3-1h0m18-1h0m3 5h0m-2 2h0m-2 1h0m-1-2h0m-2-2h0m0 3h0m-2-3h0m-1 4h0m-2-2h0m-6-2h0m0 3h0m0 2h0m-4-4h0m0 3h0m-3-2h0m-1 2h0m-1-4h0m-1 2h0m0 3h0m-1-3h0m-2 1h0m-1-3h0m-3 0h0m-9 0h0m-4 0h0m-6 5h0m-2-5h0m-5 0h0m-34 3h0m-3-1h0m-1 4h0m3 5h0m29-4h0m5 3h0m24 0h0m2-1h0m3-3h0m0 2h0m3 0h0m1 2h0m2-2h0m2 3h0m1-5h0m0 3h0m2-1h0m5-1h0m0 4h0m1-2h0m1-1h0m1-1h0m0 3h0m1-1h0m1-3h0m0 5h0m2-4h0m1 4h0m2-4h0m0 2h0m0 2h0m2-5h0m0 2h0m2 3h0m2-5h0m-9 10h0m-1-4h0m0 3h0m-3-2h0m-3 2h0m-4 1h0m-1-3h0m-2 2h0m-3 2h0m-1-5h0m-2 0h0m-4 1h0m0 2h0m-2-1h0m-1 3h0m-1-4h0m-1-1h0m-2 3h0m-1-2h0m-2 0h0m-24 1h0m-17 2h0m-14-4h0m-1 4h0m-5-3h0m11 6h0m3 1h0m9-2h0m37 5h0m2 0h0m3-3h0m1 2h0m2-1h0m1 2h0m3-4h0m0 4h0m1-1h0m0 1h0m2-2h0m6-3h0m0 4h0m2-2h0m3-1h0m0 3h0m3-4h0m-5 6h0m-6 0h0m0 3h0m-3-3h0m-3 0h0m-6 2h0"/>
<path stroke="#3f8ec0" d="M1080 831h0m25 6h0m-3-1h0m-1-1h0m-1 3h0m-1-1h0m0 2h0m-2-1h0m-4 0h0m-1-2h0m-1-2h0m0 3h0m-2 1h0m0 1h0m-3 0h0m-4-3h0m0 2h0m-2-3h0m-1 4h0m-1-2h0m-2 2h0m-3-1h0m-2 0h0m-99 4h0m4 3h0m1-4h0m5 0h0m4 1h0m1 2h0m3-2h0m2-2h0m2 5h0m2-4h0m8 1h0m59 3h0m2-1h0m1-3h0m1 1h0m0 1h0m1-1h0m1 2h0m2-2h0m2-1h0m1 2h0m3-2h0m0 2h0m2 2h0m1-2h0m2-2h0m1 2h0m1-3h0m0 4h0m1-2h0m2-2h0m0 2h0m1 0h0m0 2h0m2-2h0m0 3h0m2-5h0m0 2h0m0 2h0m2-3h0m0 2h0m1-3h0m0 5h0m2-3h0m1 1h0m1-1h0m0 3h0m1-3h0m1-2h0m1 2h0m0 2h0m1-4h0m0 1h0m2-1h0m0 3h0m2-3h0m2 0h0m1 2h0m2 0h0m0 2h0m10 6h0m-3-2h0m-2 2h0m-2-4h0m0 4h0m-2-2h0m-1 2h0m-1-4h0m0 5h0m-3-4h0m0 2h0m-1 1h0m-1-4h0m-1 5h0m-1-4h0m0 3h0m-1-4h0m-1 3h0m0 2h0m-2-4h0m-2 4h0m-1-4h0m-1 1h0m0 3h0m-2-4h0m-1 2h0m0 1h0m-1-4h0m-4 0h0m0 5h0m-2-5h0m0 3h0m-2-2h0m0 4h0m-1-5h0m0 3h0m-1 1h0m-1-4h0m-2 3h0m-1-2h0m-1 2h0m-2-2h0m0 2h0m-2-2h0m-1-1h0m0 1h0m-2-1h0m0 3h0m0 2h0m-1-4h0m-2-1h0m0 2h0m0 3h0m-2 0h0m-1 0h0m-1-4h0m0 2h0m-2 2h0m-1-2h0m0 2h0m-3-3h0m-9 1h0m-1-3h0m-23 4h0m-5-1h0m-8 0h0m-1-2h0m0 2h0m-2-2h0m-4 0h0m0 3h0m-1-2h0m-1 2h0m-1-4h0m-1 2h0m-1 2h0m-1-4h0m-1 2h0m-1-2h0m0 5h0m-1-4h0m-2 4h0m-3-1h0m-1-4h0m0 3h0m0 2h0m-2-5h0m-2 3h0m0 2h0m-1-4h0m-1 4h0m-2-5h0m-1 1h0m0 2h0m-2 1h0m-2-3h0m0 3h0m-3-4h0m0 3h0m-2 1h0m-1-2h0m-1-2h0m-4 0h0m-1 3h0m0 2h0m-2 0h0m-3-3h0m0 3h0m-2-3h0m-2 3h0m-7-1h0m-2-3h0m-10 4h0m-9 5h0m5-3h0m6 3h0m1-2h0m3 0h0m2 0h0m1 1h0m1-3h0m5 0h0m1 4h0m1-3h0m1-1h0m0 4h0m3-4h0m0 4h0m1-3h0m1 2h0m3-2h0m1 2h0m0 1h0m2-4h0m0 2h0m3 1h0m1-2h0m1 4h0m1-2h0m1 2h0m1-5h0m0 2h0m1 0h0m2 0h0m2-2h0m1 1h0m1 4h0m1-4h0m1 2h0m0 2h0m1-5h0m0 1h0m1 4h0m2-4h0m1 2h0m0 2h0m1-5h0m2 1h0m1 1h0m0 2h0m3-4h0m1 2h0m0 2h0m2 0h0m1-2h0m1 2h0m3-2h0m0 1h0m1 0h0m1-2h0m0 3h0m2-3h0m0 1h0m1 2h0m2-2h0m0 1h0m2-3h0m0 4h0m1-4h0m0 3h0m2-2h0m0 4h0m2-5h0m0 2h0m2-2h0m3 2h0m2 0h0m4 0h0m2 2h0m4-2h0m0 2h0m8 0h0m4-2h0m1-2h0m3 1h0m2 2h0m1-3h0m1 5h0m2-4h0m1 1h0m1-2h0m1 3h0m2-3h0m0 4h0m1-2h0m0 3h0m1-1h0m1-3h0m2 3h0m1-1h0m2 0h0m1 2h0m1-2h0m1-2h0m1 3h0m1-4h0m0 2h0m2 0h0m0 2h0m1 1h0m1-4h0m1-1h0m1 3h0m1-3h0m0 5h0m1-3h0m1-2h0m2 1h0m0 2h0m2-2h0m0 2h0m0 2h0m2-1h0m1-2h0m1-2h0m0 4h0m1-1h0m0 2h0m1-5h0m1 1h0m0 2h0m2-2h0m0 4h0m1-1h0m2-4h0m1 4h0m2-3h0m0 4h0m2-2h0m1-2h0m1 4h0m1-3h0m1 3h0m2-5h0m0 2h0m1 3h0m1-4h0m0 2h0m1-3h0m1 1h0m1 3h0m1-4h0m1 2h0m3-2h0m0 2h0m1 2h0m2-3h0m1 4h0m1-4h0m4 3h0m3 3h0m-2 3h0m-1-2h0m-2-2h0m0 2h0m0 2h0m-3-2h0m0 2h0m-2-3h0m-2 3h0m-2-3h0m-2 1h0m-1-1h0m-1 1h0m-1-2h0m-1 3h0m0 2h0m-1-4h0m-2-1h0m0 3h0m-1-1h0m-1 1h0m0 1h0m-2-3h0m0 2h0m0 2h0m-2-5h0m0 4h0m-1-1h0m0 2h0m-1-1h0m-1-2h0m0 3h0m-2-4h0m0 3h0m-2-3h0m0 3h0m-3-4h0m0 5h0m-1-3h0m-1-2h0m-1 1h0m-3 1h0m0 2h0m-1-4h0m0 5h0m-1-4h0m-1-1h0m-1 2h0m-1-1h0m0 2h0m-1 2h0m-1-4h0m0 2h0m-1-3h0m-1 3h0m-2-2h0m0 1h0m0 2h0m-1-1h0m-2 0h0m-2 1h0m-1-3h0m-1 3h0m-1-4h0m-4 2h0m-1 1h0m-1 1h0m-1-4h0m-4 2h0m-3 2h0m-1 1h0m-2-1h0m-1-2h0m-2 0h0m-1 2h0m-3-3h0m-3 0h0m-4-1h0m0 4h0m0 1h0m-4-3h0m-1 3h0m-1-1h0m-1-1h0m0 2h0m-3-5h0m0 2h0m-3 0h0m-1 2h0m-3 1h0m-2-3h0m-2-1h0m0 4h0m-2-2h0m-2 0h0m-1 2h0m-2-2h0m0 1h0m-1-4h0m0 4h0m-3-3h0m0 2h0m0 2h0m-2-5h0m0 2h0m-1-1h0m0 4h0m-2-1h0m-1-2h0m-4 1h0m-1-3h0m-2 2h0m-1 1h0m-1-2h0m-2 0h0m0 4h0m-1-3h0m-1-2h0m0 4h0m-2-1h0m-2-1h0m-1 0h0m-4 0h0m-2-2h0m-1 3h0m0 1h0m-3 0h0m-1-2h0m0 3h0m-1-1h0m-2-4h0m0 4h0m-1 1h0m-1-5h0m0 3h0m-2-3h0m-3 2h0m-6 0h0m-5 2h0m-2-3h0m0 4h0m-7-5h0m-1 5h0m-2-2h0m-1 2h0m-2-1h0m-2-3h0m0 3h0m-1-2h0m-1-2h0m-1 1h0m-2 4h0m-2-2h0m-3 0h0m-1-1h0m-1-2h0m-3 5h0m-1-3h0m0 3h0m-17 6h0m2-5h0m0 5h0m9 0h0m2-1h0m2 1h0m1-1h0m1-2h0m0 1h0m3-3h0m2 2h0m2-1h0m0 4h0m1-2h0m1-3h0m2 0h0m1 4h0m1-2h0m3 1h0m1-3h0m4 1h0m0 4h0m2-3h0m0 2h0m2 1h0m2-2h0m1 1h0m1-2h0m2-1h0m1 3h0m4 0h0m1-4h0m1 5h0m1-3h0m1 0h0m1-2h0m0 2h0m0 3h0m1-1h0m2-4h0m1 4h0m3-4h0m2 4h0m2-3h0m1 3h0m2 1h0m2-3h0m1-1h0m2 0h0m0 2h0m1-2h0m0 2h0m0 2h0m2-3h0m1-2h0m1 2h0m0 2h0m3-2h0m0 2h0m2-2h0m2-1h0m0 2h0m4-2h0m1 2h0m1-3h0m0 3h0m0 2h0m3-5h0m0 5h0m1-3h0m2-1h0m0 3h0m1-4h0m1 3h0m1-2h0m1 1h0m0 2h0m2-2h0m2-1h0m3 1h0m0 2h0m2-3h0m1 4h0m1-3h0m2-1h0m0 4h0m3 0h0m1-2h0m1 2h0m2-4h0m2 0h0m0 3h0m7-2h0m1 2h0m1-2h0m2 0h0m5 0h0m1-1h0m3-1h0m0 4h0m5-2h0m3-1h0m2 1h0m0 3h0m1-5h0m2 0h0m2 4h0m1-3h0m1 4h0m2-5h0m1 3h0m1-3h0m0 1h0m1 3h0m2-2h0m3-1h0m0 1h0m0 2h0m2 0h0m1 1h0m1-4h0m0 1h0m2 2h0m3-3h0m1 3h0m1-4h0m0 1h0m1 2h0m1 1h0m1-2h0m1 0h0m1-1h0m0 4h0m2-4h0m1 2h0m3 2h0m1-2h0m1-3h0m0 3h0m2-2h0m1 2h0m0 2h0m1-4h0m2 3h0m1-2h0m1 1h0m1-2h0m0 4h0m1 0h0m1-4h0m0 2h0m1 2h0m2-4h0m0 2h0m1-3h0m0 5h0m1-2h0m2-2h0m0 2h0m2-1h0m0 3h0m2-1h0m1-4h0m0 2h0m1 2h0m1-4h0m1 3h0m1-2h0m1 3h0m1-4h0m1 5h0m1-3h0m1 3h0m3-4h0m0 4h0m1-2h0m3 7h0m-1-4h0m0 2h0m-2 2h0m-3-4h0m0 3h0m-1 2h0m-5-4h0m-1 2h0m-1-3h0m-1 3h0m-2 0h0m-1-2h0m0 3h0m-2-2h0m-1-1h0m0 3h0m-2-2h0m-1 2h0m-1-2h0m-1 3h0m-1-1h0m-1 1h0m-1-2h0m-3-3h0m0 4h0m-1-2h0m-1 0h0m-2 1h0m-2-1h0m0 1h0m-1 2h0m-1-4h0m-1 4h0m-1-3h0m-1 2h0m-1-4h0m0 4h0m-2-2h0m0 3h0m-2-2h0m-1-2h0m0 2h0m-3-1h0m0 2h0m-3-4h0m0 2h0m-2-2h0m0 5h0m-1-1h0m-1-2h0m0 3h0m-1-1h0m-1-2h0m-1-2h0m-1 1h0m-1 0h0m0 4h0m-1-1h0m-1-3h0m-1-1h0m0 3h0m-2-3h0m-1 3h0m-3-1h0m-6 0h0m-4 1h0m-1-3h0m-3 1h0m-2-1h0m-1 1h0m0 4h0m-3 0h0m-2-1h0m-2-3h0m-3 3h0m-3-2h0m0 2h0m-2-4h0m-1 3h0m-3-3h0m-1 5h0m-1-4h0m0 3h0m-3 0h0m-1 1h0m-3-3h0m0 3h0m-2-1h0m0 1h0m-2 0h0m-1-3h0m0 1h0m-2-1h0m-1 1h0m-3-2h0m0 3h0m-1-4h0m0 5h0m-1-5h0m0 2h0m-3-1h0m-2 3h0m-1-4h0m0 2h0m-1 1h0m-1-1h0m-3 0h0m-1 1h0m-1-3h0m0 2h0m0 3h0m-3-2h0m-1 2h0m-1-3h0m-3 1h0m-1 2h0m-3 0h0m-2-3h0m0 2h0m-2-3h0m-1-1h0m-2 4h0m-1-1h0m-1 2h0m-2-5h0m-3 0h0m0 5h0m-1-3h0m-2-2h0m0 2h0m-1 2h0m-2-4h0m0 4h0m0 1h0m-1-5h0m-1 3h0m-2 0h0m0 2h0m-2-3h0m0 3h0m-2-5h0m0 2h0m0 3h0m-1-2h0m-1-1h0m-3 2h0m-1-4h0m-4 3h0m-2 1h0m-2-3h0m-2 0h0m-4 3h0m0 1h0m-1 0h0m-1-4h0m-1 1h0m-1-1h0m-2-1h0m0 3h0m-2-2h0m-1 3h0m-1-1h0m-5 0h0m-1 1h0m-3-3h0m0 2h0m-1-2h0m-1 3h0m-3-1h0m-4-3h0m-1 4h0m-1-2h0m-2 0h0m0 2h0m-3-4h0m-3 4h0m-6 5h0m10 1h0m4-4h0m2 5h0m1-5h0m2 1h0m1-1h0m2 1h0m2 3h0m3-3h0m6 3h0m1-2h0m1-1h0m0 4h0m2-1h0m1-4h0m0 2h0m1 1h0m2-2h0m0 2h0m0 1h0m2-3h0m0 3h0m0 1h0m1-1h0m1-3h0m0 4h0m2-3h0m0 2h0m3-3h0m1-1h0m0 5h0m2-2h0m3 1h0m4 0h0m1-4h0m2 5h0m2-4h0m0 2h0m2-1h0m1 3h0m1-4h0m1 2h0m2 1h0m1-3h0m3 0h0m0 3h0m1-2h0m2 1h0m1-3h0m0 3h0m3-1h0m0 2h0m5 0h0m1 1h0m1-3h0m2 1h0m2 1h0m1-4h0m1 4h0m1 1h0m2-3h0m1 3h0m1-3h0m1 2h0m1-4h0m1 1h0m0 3h0m1-2h0m0 3h0m1-5h0m2 0h0m0 5h0m3-1h0m2-4h0m0 4h0m3-2h0m2 1h0m2-3h0m1 5h0m1-5h0m0 3h0m2-1h0m2 3h0m3-4h0m2 4h0m1-1h0m2-1h0m2 0h0m3-3h0m1 5h0m5-4h0m7 0h0m3 1h0m1-2h0m0 5h0m11-5h0m8 4h0m1-4h0m1 5h0m1-4h0m1 3h0m1-1h0m1-2h0m1 3h0m1-4h0m1 5h0m2-3h0m1-2h0m0 5h0m3-2h0m4-3h0m0 2h0m1 1h0m3-1h0m1-2h0m1 5h0m1-5h0m0 3h0m1-1h0m2 1h0m0 1h0m1-4h0m1 2h0m2-2h0m0 2h0m2-1h0m0 3h0m1-2h0m1 1h0m1-3h0m0 2h0m1 1h0m0 2h0m3-4h0m0 2h0m1-3h0m0 2h0m1 2h0m1-4h0m0 2h0m1 2h0m1-4h0m1 4h0m1-3h0m3 1h0m1 1h0m1 0h0m2-2h0m0 3h0m0 1h0m1-3h0m2-2h0m0 3h0m0 1h0m2-4h0m0 4h0m1-1h0m0 1h0m2-4h0m2 5h0m1-2h0m1-3h0m3 3h0m1 0h0m2-2h0m0 4h0m-1 2h0m0 4h0m-1-1h0m-1-4h0m0 2h0m-2 1h0m-1-1h0m-2 3h0m-2-3h0m-1-2h0m-1 0h0m0 3h0m0 2h0m-1-3h0m-1 2h0m-1-3h0m-2 2h0m-1-2h0m0 3h0m-3-2h0m-1 3h0m-1-5h0m0 4h0m-2-4h0m0 4h0m-2-3h0m-2 4h0m-1-3h0m-1 3h0m-1-5h0m-1 4h0m-1-4h0m0 1h0m0 2h0m-1 1h0m-2-2h0m-1 2h0m0 1h0m-2-5h0m0 3h0m-1-2h0m0 4h0m-1-2h0m-3-1h0m0 1h0m-1 0h0m-1-3h0m0 2h0m-1-2h0m0 4h0m-2-3h0m0 2h0m-1 2h0m-1-5h0m-1 1h0m0 2h0m0 2h0m-2-2h0m-2 1h0m-1-4h0m0 2h0m-2 3h0m-1-3h0m-1 3h0m-2-3h0m-2-2h0m0 4h0m-2-4h0m0 2h0m0 2h0m-1 1h0m-3-3h0m-2 0h0m-5 0h0m0 3h0m-3-4h0m-6 3h0m-4-1h0m-5-1h0m-1 2h0m-1-1h0m-5-1h0m-9-1h0m-1 0h0m-1 3h0m-3 0h0m-2-1h0m0 2h0m-1-5h0m-1 1h0m0 4h0m-3-2h0m-1-2h0m-1 4h0m-1-4h0m-1 4h0m-1-5h0m-3 4h0m-2 1h0m-3-2h0m0 2h0m-1-4h0m0 3h0m-2-1h0m0 2h0m-1-1h0m-1-3h0m-2 2h0m0 2h0m-1-2h0m-1-1h0m-1 3h0m-3-3h0m0 3h0m-1-2h0m-1 1h0m-2 1h0m-2-1h0m-1-3h0m-1 2h0m-2 0h0m0 2h0m-1-3h0m-1-1h0m0 3h0m-2-3h0m0 2h0m-2-1h0m-1-2h0m0 5h0m-1-1h0m-4-4h0m-1 2h0m-1 2h0m-2-2h0m0 1h0m0 2h0m-1-5h0m-2 3h0m-1 1h0m-2-3h0m0 4h0m-2-3h0m-2-2h0m-1 3h0m-1-2h0m0 4h0m-1-3h0m-2-1h0m-1 0h0m-2-1h0m-1 1h0m-6-1h0m0 3h0m-1 1h0m-1-2h0m-3-1h0m-2 2h0m-2 1h0m-1-3h0m0 2h0m-3-1h0m-2 2h0m-1-2h0m-4-1h0m0 2h0m-1 1h0m-2-1h0m-1-2h0m0 4h0m-1-2h0m-2-2h0m-3 0h0m-3-1h0m-1 5h0m-4-3h0m-3 0h0m-2 1h0m-11-2h0m3 5h0m0 4h0m4-4h0m2 5h0m4-2h0m1-2h0m4 2h0m6-2h0m1-1h0m1 1h0m1 2h0m1-1h0m1 3h0m1-2h0m0 2h0m2-4h0m0 3h0m2-1h0m0 2h0m1-4h0m1 1h0m0 1h0m2 1h0m1 0h0m2 0h0m2-3h0m0 2h0m1 2h0m2-5h0m0 4h0m2-4h0m1 2h0m2-2h0m0 3h0m1 2h0m1-1h0m1-3h0m1 0h0m1 2h0m1-2h0m1 2h0m5-3h0m0 3h0m0 2h0m3-2h0m3-2h0m2-1h0m0 3h0m1-1h0m1 0h0m0 3h0m1-2h0m2 0h0m0 2h0m1-4h0m3 2h0m1-2h0m1 0h0m2 3h0m2-4h0m0 2h0m2 3h0m3-3h0m0 2h0m2-3h0m1 4h0m2-4h0m0 2h0m2 1h0m3 1h0m1-3h0m1-2h0m0 4h0m2 0h0m3-3h0m2 3h0m2-2h0m2-1h0m2 3h0m1-2h0m4 3h0m4-4h0m1 3h0m3-3h0m0 3h0m2-1h0m1-3h0m1 3h0m1-2h0m1 2h0m1 2h0m1-3h0m0 3h0m3-4h0m4 4h0m7 0h0m5-4h0m2 2h0m13 2h0m4-2h0m2-1h0m4 3h0m6-4h0m2 1h0m1-2h0m2 2h0m0 1h0m1-3h0m0 4h0m2-2h0m0 3h0m1-1h0m1-4h0m0 2h0m1 1h0m1-3h0m1 4h0m1-4h0m1 1h0m0 3h0m0 1h0m1-3h0m0 2h0m1 1h0m1-3h0m1-2h0m1 3h0m1-3h0m0 4h0m1-1h0m1-3h0m0 2h0m1 1h0m0 2h0m1-2h0m1-3h0m0 5h0m2-4h0m0 2h0m2 0h0m1-2h0m2 1h0m2-2h0m0 2h0m0 2h0m0 1h0m4-4h0m0 2h0m1 2h0m1-4h0m0 4h0m1-1h0m1-3h0m1 2h0m2-2h0m2 2h0m1-3h0m0 2h0m2-1h0m1 3h0m0 1h0m2-5h0m1 4h0m3-3h0m0 3h0m2-3h0m0 2h0m0 1h0m2-2h0m2-2h0m0 2h0m1-1h0m1 0h0m2 0h0m0 4h0m1-1h0m2-1h0m1-1h0m-2 5h0m-1 3h0m-1-3h0m0 3h0m-3 1h0m-1-5h0m-5 0h0m-1 2h0m0 3h0m-1-5h0m-1 4h0m-1-4h0m0 2h0m-1 3h0m-1-5h0m0 5h0m-1-1h0m-1 1h0m-1-5h0m0 4h0m-2 0h0m-2-4h0m-2 0h0m0 5h0m-1-3h0m-1 3h0m-1-4h0m0 2h0m-2-2h0m-1 0h0m-1 3h0m-1-2h0m-1 2h0m-1-2h0m-1 2h0m0 1h0m-2-5h0m0 5h0m-2-5h0m0 1h0m0 3h0m-2-3h0m0 4h0m-4-4h0m0 2h0m-1 2h0m-3-2h0m-1-1h0m-1 1h0m-2-1h0m0 2h0m-2-3h0m0 4h0m-1-2h0m-1-3h0m0 5h0m-1-3h0m-1 1h0m0 2h0m-1-5h0m-1 3h0m-3-3h0m0 5h0m-1-5h0m-2 2h0m-1 3h0m-1-1h0m-3-4h0m-2 1h0m-3 2h0m-5 0h0m-2 0h0m-3-1h0m-5 0h0m-9 1h0m-3-2h0m-3 2h0m-1 2h0m-1 0h0m-2 0h0m-12 0h0m-1-4h0m-1 4h0m-3-1h0m-2-1h0m-1-3h0m0 4h0m-1-2h0m-5-2h0m0 4h0m-4 1h0m-1-5h0m-1 4h0m-6-4h0m0 5h0m-1 0h0m-1-4h0m0 1h0m-5 2h0m-2 1h0m-1-1h0m-2-4h0m0 2h0m0 3h0m-2-5h0m-2 2h0m-6-1h0m-1 3h0m-1-3h0m0 1h0m-2 1h0m-2-3h0m-2 2h0m0 2h0m-1-2h0m-1 1h0m0 2h0m-2 0h0m-1-3h0m-1-2h0m0 4h0m-2-4h0m-2 2h0m-1-2h0m0 2h0m-2 2h0m-2-4h0m-1 3h0m-1-2h0m-1 2h0m-1-2h0m-2-1h0m-1 3h0m0 2h0m-1-3h0m0 1h0m-2-1h0m-2 2h0m-2-3h0m-1 1h0m-1-2h0m0 3h0m-3 2h0m-1-1h0m-6 1h0m-1-4h0m0 2h0m-3 0h0m-1 1h0m-2-1h0m-1 2h0m-1-2h0m-1-3h0m0 3h0m-2-1h0m0 3h0m-7-2h0m-4-3h0m-8 1h0m-2 3h0m-1-3h0m-1 3h0m-13 2h0m13 3h0m7-2h0m9 2h0m5-1h0m2 0h0m0 3h0m1-1h0m3-4h0m1 2h0m2 3h0m1-5h0m0 4h0m0 1h0m3-3h0m1 3h0m2-2h0m0 2h0m1-3h0m2-2h0m0 5h0m1-2h0m2-1h0m1-2h0m0 4h0m0 1h0m2-1h0m2 1h0m2-5h0m1 0h0m2 4h0m1-2h0m4-1h0m1 2h0m1-3h0m1 3h0m3-2h0m2-1h0m0 3h0m1-1h0m1 3h0m1-5h0m0 2h0m3 2h0m2-3h0m0 4h0m7-4h0m0 4h0m2-5h0m0 3h0m5 0h0m2-3h0m0 4h0m6 0h0m3 0h0m3-2h0m1 1h0m0 2h0m1-4h0m4-1h0m6 1h0m4 2h0m0 2h0m1-5h0m8 3h0m2 2h0m1-4h0m7-1h0m1 3h0m3-1h0m3 2h0m0 1h0m2 0h0m2-4h0m0 1h0m5-2h0m0 2h0m0 2h0m5-3h0m0 2h0m2-2h0m2 3h0m6-1h0m2-1h0m5 0h0m0 3h0m2-4h0m1 4h0m2-2h0m2-1h0m0 3h0m2-5h0m8 1h0m0 3h0m2-4h0m2 1h0m1 2h0m0 2h0m1-4h0m1 2h0m2-1h0m1 2h0m2-1h0m2 1h0m1-3h0m0 1h0m2-1h0m2 1h0m1-2h0m0 3h0m1-2h0m0 4h0m3-5h0m1 2h0m0 1h0m2-2h0m1 4h0m1-2h0m1-2h0m0 4h0m4-3h0m0 2h0m1-2h0m1 2h0m3-1h0m1-1h0m1 0h0m0 3h0m1-1h0m2-3h0m0 4h0m2-1h0m1-3h0m0 1h0m0 3h0m3-1h0m2-2h0m0 2h0m1 1h0m1-4h0m1-1h0m0 5h0m2-2h0m1-3h0m1 4h0m1-3h0m1 4h0m1-5h0m0 3h0m0 1h0m2-2h0m0 3h0m1-2h0m-1 6h0m-2-2h0m-2 0h0m0 2h0m0 1h0m-2-4h0m0 2h0m-1 3h0m-2-4h0m0 3h0m-2 0h0m-1-2h0m-1 2h0m-1 0h0m-1-3h0m-3 2h0m-3 2h0m-2-3h0m-1 3h0m-1-2h0m-2-3h0m-1 1h0m0 2h0m0 1h0m-3-1h0m-1-3h0m-1 5h0m-1-4h0m-1 3h0m-2-3h0m0 3h0m-2 0h0m-1-3h0m-1 2h0m0 1h0m-2-1h0m-1-1h0m-1 1h0m0 2h0m-1-4h0m-1 1h0m0 2h0m-1 1h0m-1 0h0m-1-3h0m-2-2h0m-1 2h0m-1-1h0m-2 1h0m0 2h0m-2-2h0m-1-2h0m-1 1h0m-3 4h0m-1-1h0m-11-2h0m-3-1h0m-3 4h0m-1-3h0m-5 0h0m-4-1h0m-7-1h0m-3 2h0m-4 0h0m0 3h0m-3-5h0m-1 1h0m-1 3h0m-1-3h0m-2 0h0m-3 2h0m-1 1h0m-1-2h0m-3-2h0m-1 4h0m-1-2h0m-1 3h0m-5-3h0m-6-2h0m0 3h0m0 2h0m-4 0h0m-4-5h0m-1 4h0m-8-1h0m-2 1h0m-4-4h0m-1 0h0m-1 4h0m-2-4h0m-1 1h0m-3 1h0m-2 3h0m-1-2h0m-2-3h0m-1 2h0m0 2h0m-4 1h0m-2 0h0m-1-4h0m-1 3h0m-2 1h0m-2-2h0m0 2h0m-1-4h0m-3 1h0m0 1h0m-2-2h0m0 1h0m-1 2h0m-2-1h0m-1-1h0m0 3h0m-4-5h0m0 3h0m-2-1h0m0 3h0m-2-2h0m-1 1h0m-1-3h0m-1 1h0m-1-2h0m0 5h0m-2-5h0m-3 3h0m-1 2h0m-2-5h0m-1 4h0m-1-3h0m0 4h0m-3-4h0m0 2h0m-2-2h0m0 4h0m-1-3h0m-2 0h0m0 3h0m-1-1h0m-4-4h0m0 3h0m-2 0h0m0 1h0m-2-3h0m-1 3h0m-3 0h0m-1-4h0m-4 4h0m-3-2h0m-3-2h0m-2 0h0m-3 1h0m-9 0h0m-3 0h0m-3 2h0m4 8h0m11 0h0m1-2h0m0 1h0m1-4h0m2 5h0m1-3h0m3 1h0m2-2h0m2 4h0m1-5h0m1 4h0m2-4h0m4 5h0m5-5h0m0 2h0m1 3h0m1-5h0m0 4h0m1-3h0m2 2h0m1-2h0m1 3h0m3-4h0m0 3h0m4-2h0m0 4h0m3-1h0m2-3h0m0 2h0m3-3h0m0 3h0m0 2h0m1 0h0m3-5h0m1 1h0m0 2h0m5 1h0m1-4h0m2 4h0m1-4h0m2 2h0m3-1h0m1 2h0m2 2h0m3-4h0m2 2h0m5-1h0m2-1h0m1 2h0m1 2h0m5-5h0m4 5h0m1-1h0m1-4h0m1 3h0m8 2h0m3-2h0m6-2h0m2 2h0m2-1h0m1 3h0m1-1h0m1 1h0m9-4h0m1 3h0m3 0h0m16-3h0m1 4h0m4-2h0m3-1h0m0 3h0m1-5h0m5 1h0m5 0h0m3 4h0m1-2h0m1-3h0m6 2h0m6-2h0m2 4h0m1-4h0m2 1h0m3 0h0m1 2h0m1-1h0m2-2h0m1 5h0m1-5h0m0 3h0m1 1h0m2-2h0m0 2h0m2-4h0m4 2h0m1-2h0m1 2h0m0 3h0m1-1h0m3-4h0m1 4h0m2-4h0m0 1h0m1 1h0m0 2h0m1-4h0m1 4h0m2 0h0m3-4h0m1 4h0m1-3h0m2 0h0m2 1h0m0 3h0m4-4h0m0 3h0m4-3h0m0 3h0m1 0h0m2-4h0m0 2h0m0 3h0m2-5h0m0 2h0m1 3h0m1-5h0m2 4h0m1-4h0m1 1h0m0 3h0m1-4h0m0 9h0m-1 1h0m-1-4h0m0 2h0m-1 0h0m0 1h0m-1-2h0m0 4h0m-3-4h0m0 3h0m-1-4h0m-1 1h0m-1 2h0m-1-1h0m-2 2h0m-3-1h0m-2-3h0m0 1h0m0 2h0m-1 2h0m-1-3h0m-3-2h0m0 3h0m0 2h0m-4-4h0m0 4h0m-3-1h0m-2-4h0m0 5h0m-2-3h0m-1 3h0m-1-5h0m-4 0h0m0 4h0m-2-3h0m-4-1h0m0 1h0m-1-1h0m-1 3h0m-1-2h0m-1 4h0m-1-4h0m-2 1h0m-4-1h0m0 1h0m-1-2h0m-12 1h0m0 2h0m-7-2h0m-8 0h0m-2-1h0m-9 2h0m-7 1h0m-2 2h0m-1-4h0m-1 1h0m-9-2h0m0 5h0m-4-2h0m-1 0h0m-2 0h0m-5-1h0m-2-1h0m0 3h0m-1-1h0m-2-1h0m-3 3h0m-3-4h0m-7 2h0m-1 1h0m-3-3h0m0 4h0m-1-5h0m0 3h0m-1 1h0m-2-3h0m-1 3h0m-1-2h0m-2 1h0m0 2h0m-4-1h0m-6 0h0m-8 0h0m-3-2h0m-4 0h0m-1 2h0m-1-4h0m-1 4h0m-3 1h0m-2-4h0m-4 1h0m-1 3h0m-1-1h0m-1-4h0m-1 2h0m-1 3h0m-1-3h0m0 2h0m-2 0h0m-1-3h0m-1 3h0m0 1h0m-1-3h0m0 3h0m-3-5h0m0 2h0m-2-1h0m-1 3h0m-1-4h0m-1 2h0m-1-1h0m-1 0h0m-1 3h0m-2-3h0m-2-1h0m-2 5h0m-2 0h0m-1-4h0m-1 0h0m-2 2h0m-2-1h0m0 2h0m-6-1h0m-2-2h0m0 4h0m-1-5h0m-4 5h0m-1-3h0m-3 3h0m-2-3h0m-1 1h0m-2-3h0m0 2h0m-11 1h0m-4 4h0m13 2h0m4-2h0m2 2h0m1 2h0m1-5h0m0 2h0m1-1h0m0 2h0m0 2h0m1-3h0m1 1h0m2 2h0m3-3h0m2 1h0m0 2h0m3 0h0m1-1h0m0 1h0m1-3h0m1 3h0m5-2h0m1 0h0m2-3h0m2 5h0m2-5h0m0 4h0m1-2h0m2 1h0m1-2h0m2-1h0m1 5h0m1-5h0m1 3h0m0 2h0m2-5h0m1 2h0m1-2h0m0 5h0m1 0h0m2-2h0m4-1h0m2-2h0m0 3h0m0 2h0m1-2h0m2-3h0m1 2h0m0 2h0m2-3h0m1 3h0m1 1h0m3-5h0m4 2h0m5-1h0m2 4h0m1-5h0m2 3h0m4 1h0m4-2h0m1 3h0m1-5h0m2 2h0m1 2h0m6-1h0m1-2h0m1 3h0m2-2h0m5-2h0m0 5h0m6-5h0m5 1h0m3 1h0m0 1h0m1-3h0m1 5h0m1-4h0m2 0h0m2 4h0m4-2h0m1 0h0m12-3h0m3 2h0m5 2h0m2-2h0m2 3h0m1-4h0m6 2h0m2-3h0m1 0h0m0 3h0m5 1h0m9-4h0m9 0h0m2 5h0m2-4h0m1 1h0m0 3h0m1-1h0m3-3h0m2 3h0m0 1h0m1 0h0m1-3h0m1-2h0m1 2h0m1-1h0m0 4h0m1-2h0m2-2h0m2 1h0m0 3h0m1-2h0m2-1h0m3 1h0m0 2h0m2-4h0m0 3h0m2-1h0m1-2h0m2 4h0m1-2h0m1-2h0m1 1h0m3 1h0m0 2h0m1-4h0m3 2h0m0 2h0m2-5h0m1 4h0m1 1h0m1-3h0m0 2h0m1-4h0m0 4h0m2-3h0m1-1h0m0 2h0m0 2h0m2-3h0m1-1h0m0 3h0m0 1h0m-2 5h0m-1-2h0m0 1h0m-1-2h0m-1 2h0m0 2h0m-1-4h0m-1 3h0m-1 1h0m-1-3h0m-2 2h0m-2 0h0m-1-3h0m0 2h0m-1 3h0m-2-2h0m0 2h0m-1-5h0m-1 4h0m-1-3h0m-1-1h0m-1 5h0m-1-4h0m0 2h0m-1-3h0m-1 1h0m0 4h0m-1 0h0m-1-5h0m-1 2h0m0 3h0m-2-4h0m-1 2h0m-1-3h0m0 2h0m-1 3h0m-1-2h0m-1-1h0m0 2h0m-1-3h0m-1 1h0m-1 0h0m-1 2h0m-2-2h0m-1 3h0m-1-5h0m0 3h0m-2 1h0m-2 0h0m-2-4h0m-4 1h0m-1 2h0m-2-2h0m-7 4h0m-4 0h0m-2-3h0m-8 2h0m-2-4h0m0 2h0m-2 0h0m0 3h0m-3-5h0m0 3h0m-3-2h0m-2 4h0m-2-3h0m0 3h0m-1-5h0m-1 4h0m-6-1h0m-9 1h0m-1-3h0m-3 1h0m-1-2h0m-1 5h0m-3 0h0m-2-4h0m-3-1h0m-2 2h0m-4-2h0m-3 3h0m0 2h0m-4-3h0m-2 2h0m-3-3h0m0 2h0m-5-2h0m0 2h0m-8 1h0m-4-1h0m-3-3h0m-1 2h0m-2-1h0m-2 1h0m-1-2h0m-1 0h0m0 4h0m-5-1h0m-1-3h0m-1 5h0m-2-4h0m0 2h0m-4 2h0m-1-1h0m-2-2h0m-2-2h0m-2 4h0m-1-2h0m-1-2h0m0 5h0m-2-3h0m-5-1h0m0 2h0m-1 2h0m-1-1h0m-1-3h0m-1 2h0m-2 1h0m-1-4h0m0 5h0m-1 0h0m-6-1h0m-1-3h0m0 2h0m-2-1h0m-1-2h0m-1 1h0m-1 4h0m-3-4h0m0 1h0m-1-2h0m-2 0h0m0 3h0m-4-2h0m0 4h0m-1-3h0m-1 1h0m-2 1h0m-2-1h0m-4-3h0m-4 1h0m0 2h0m-1 0h0m-4 1h0m-2 0h0m-1-2h0m-6 1h0m-5 2h0m-1-3h0m-6 4h0m13 4h0m4-3h0m2 2h0m1-2h0m0 4h0m1-2h0m0 2h0m1-4h0m1 2h0m4-2h0m0 2h0m2-3h0m0 4h0m2-3h0m0 3h0m1-4h0m0 5h0m1-3h0m0 1h0m2-3h0m0 5h0m2-5h0m0 3h0m1 1h0m2-4h0m0 2h0m3-1h0m1-1h0m2 3h0m3 0h0m0 2h0m2 0h0m2-1h0m1-4h0m0 2h0m1 1h0m1-2h0m1 1h0m1 2h0m2-1h0m1-3h0m0 2h0m4 0h0m1-2h0m0 5h0m1-2h0m4 2h0m1-4h0m1 2h0m1 2h0m1-5h0m0 5h0m1-2h0m1 2h0m2-3h0m2 2h0m1-1h0m2 1h0m1-4h0m1 1h0m0 4h0m3 0h0m2-1h0m6 1h0m3 0h0m2-4h0m3 0h0m3 0h0m2 2h0m1 1h0m1-4h0m4 2h0m2-2h0m2 2h0m3 2h0m2-1h0m2 0h0m1-3h0m0 3h0m3 1h0m3-1h0m4-1h0m2 1h0m2 1h0m2-2h0m5 0h0m4-2h0m0 2h0m3 0h0m1 2h0m3-2h0m1 1h0m2 2h0m4-4h0m6 2h0m0 2h0m2-4h0m3 4h0m5-2h0m1-2h0m2 4h0m3-4h0m3 0h0m1 4h0m1 0h0m1-3h0m3 0h0m2-1h0m0 2h0m3 2h0m2 0h0m2-5h0m2 2h0m4-1h0m3 0h0m1 1h0m0 3h0m2-5h0m2 1h0m0 2h0m1-2h0m0 4h0m1-2h0m1-2h0m1 1h0m0 3h0m3-2h0m1 2h0m1-5h0m0 3h0m2-1h0m0 3h0m1-3h0m1-2h0m1 1h0m0 3h0m2-3h0m2 2h0m1 1h0m1 0h0m1-3h0m0 2h0m3-3h0m0 3h0m1 2h0m1-2h0m1-1h0m1 1h0m1-2h0m2 2h0m0 2h0m1-4h0m1 2h0m1-2h0m0 3h0m1-2h0m2-2h0m0 4h0m2-4h0m0 2h0m1 2h0m1-4h0m-4 8h0m-2 3h0m-1-5h0m-1 4h0m-1-4h0m-1 2h0m-2 2h0m-1-2h0m-1-2h0m0 3h0m-2 0h0m0 2h0m-2-5h0m0 3h0m-1 0h0m-1-3h0m0 5h0m-1-4h0m0 1h0m-2-1h0m0 4h0m-1-3h0m0 3h0m-1-2h0m-2-1h0m0 2h0m-1-3h0m-1 3h0m-2 1h0m-1-4h0m0 3h0m-1 1h0m-2-4h0m0 2h0m-1-3h0m-1 3h0m-2-3h0m0 1h0m0 4h0m-2-1h0m-2 0h0m-3-3h0m-1-1h0m-2 3h0m-2-2h0m-2-1h0m-4 3h0m0 2h0m-3-1h0m-2-3h0m-2-1h0m-2 0h0m-4 2h0m-1-2h0m-5 3h0m-5-1h0m-2 2h0m-3-4h0m0 3h0m-3-2h0m-6-1h0m-1 1h0m-1 3h0m-6-1h0m-1-3h0m-2 3h0m-2-1h0m-3 1h0m-3 2h0m-3 0h0m-1-4h0m-5 4h0m-1-5h0m0 2h0m-6 1h0m-2-1h0m-4-1h0m-4 4h0m-2-4h0m-2 2h0m-2 2h0m-2-4h0m-2 4h0m-3-2h0m-1-3h0m-1 4h0m-2-2h0m-3 2h0m-4-1h0m-1 2h0m-1-2h0m-2-3h0m-3 3h0m-1 0h0m-1-2h0m0 3h0m-2-4h0m-1 5h0m-3-1h0m-2-1h0m0 1h0m-1-3h0m-2 3h0m0 1h0m-2-2h0m-2-1h0m-2-2h0m0 3h0m-3 2h0m-8-3h0m-2 1h0m-1-1h0m0 2h0m-1-4h0m-1 4h0m-1-4h0m-2 1h0m0 4h0m-1-4h0m0 3h0m-1-1h0m-3-1h0m0 2h0m-1-4h0m0 5h0m-2-2h0m-1 2h0m-2-5h0m0 4h0m-1-1h0m-2 1h0m-1-3h0m-1-1h0m0 4h0m-1-2h0m-1 3h0m-1-1h0m-1-1h0m-1-2h0m-2 4h0m-1-5h0m0 2h0m-2 1h0m-1-3h0m-1 4h0m-2-3h0m0 3h0m-5-3h0m-1 4h0m-1-3h0m-27 1h0m31 6h0m1-3h0m0 4h0m2-3h0m0 2h0m1 2h0m2-2h0m1-3h0m0 4h0m1-2h0m2 3h0m1-3h0m1-2h0m0 2h0m1 2h0m1-3h0m1 2h0m0 2h0m2-5h0m0 1h0m3 0h0m1 2h0m3-2h0m0 2h0m2-3h0m1 4h0m1 1h0m1-2h0m1-2h0m1 1h0m1 3h0m3-2h0m2-3h0m0 2h0m2 2h0m1-4h0m3 2h0m0 2h0m0 1h0m1-5h0m1 1h0m0 2h0m2-3h0m0 2h0m1-2h0m2 0h0m0 2h0m2 3h0m1-4h0m1 1h0m1-1h0m0 4h0m2-4h0m1 3h0m3-2h0m0 3h0m2-1h0m2 0h0m1-3h0m2 1h0m2 0h0m5-2h0m1 3h0m1 1h0m6 0h0m1-3h0m1 4h0m1-3h0m0 2h0m1-4h0m2 4h0m2-2h0m1 2h0m5-2h0m1 0h0m2 1h0m4 2h0m1-1h0m2 0h0m1-2h0m4 1h0m2 2h0m2-3h0m2-2h0m0 5h0m3-3h0m1 2h0m3-1h0m1-1h0m2 0h0m0 3h0m3-4h0m2 4h0m1-4h0m6 0h0m1 4h0m2-1h0m4 0h0m1-1h0m4-1h0m4-1h0m5 1h0m4-2h0m2 3h0m3-3h0m1 2h0m6-1h0m1 4h0m1-4h0m2 0h0m0 1h0m0 3h0m4 0h0m2-3h0m0 2h0m2-3h0m4 1h0m1-2h0m2 2h0m1-1h0m0 4h0m2-2h0m2-1h0m2-2h0m0 3h0m0 1h0m2-4h0m0 2h0m1 2h0m1-2h0m1-1h0m0 4h0m1-2h0m2-2h0m1 0h0m0 2h0m2-2h0m0 3h0m2-4h0m0 3h0m1-3h0m0 4h0m2-3h0m0 1h0m0 2h0m2-1h0m0 1h0m3-1h0m0 2h0m1 0h0m1-3h0m0 3h0m1-2h0m2-3h0m0 5h0m1-4h0m0 3h0m-4 5h0m-3 2h0m-4-2h0m-2 1h0m-1-2h0m0 1h0m-1-3h0m-1 3h0m-1-2h0m-1 4h0m-1-5h0m0 4h0m-2-3h0m-1 2h0m-1-1h0m0 3h0m-2-5h0m0 3h0m-2 1h0m-1-2h0m-2-2h0m0 4h0m-2 1h0m-1-2h0m-1 0h0m-3 2h0m-1-5h0m-2 2h0m-2 1h0m-2 0h0m-4-2h0m0 3h0m-4 0h0m-2 0h0m-2-1h0m-7 1h0m-3-1h0m-2-3h0m-8 5h0m-2-5h0m-8 0h0m-1 3h0m0 2h0m-1-4h0m-1 0h0m-2 2h0m-1 1h0m-4-2h0m-6-1h0m-2-1h0m-2 0h0m-2 0h0m0 3h0m-2 2h0m-2-4h0m0 2h0m-4 2h0m-4-1h0m-3 1h0m-1-4h0m-2 1h0m-1-1h0m-2 1h0m0 2h0m-1 1h0m-3-5h0m-1 2h0m-1-2h0m-2 2h0m0 3h0m-1 0h0m-1-4h0m-1-1h0m-1 2h0m-1-2h0m-1 1h0m0 2h0m-2 1h0m-1-3h0m-1-1h0m0 3h0m-1 1h0m-1-4h0m0 3h0m-2 1h0m-1 1h0m-1-2h0m-2-3h0m0 2h0m-1 1h0m-2 0h0m0 2h0m-2 0h0m-1-3h0m-1 2h0m-1-3h0m-2 0h0m-2 4h0m-1-4h0m-3 1h0m-2-2h0m0 4h0m-4-2h0m-2 2h0m-1-4h0m0 2h0m-2-2h0m0 4h0m-1-1h0m-1-2h0m-1 1h0m0 3h0m-1-4h0m-1 2h0m-2-3h0m0 5h0m-1-1h0m-3 0h0m0 1h0m-3-3h0m-2 2h0m-2 1h0m-2-4h0m0 2h0m-2-2h0m-1 2h0m-3-3h0m0 2h0m-2 3h0m-1-5h0m0 3h0m-2-3h0m0 4h0m-2-2h0m-2 0h0m-1-2h0m-3 1h0m0 3h0m-2-4h0m-1 4h0m-2-2h0m-1-1h0m0 4h0m-1-5h0m-1 4h0m-1-2h0m-2-2h0m-11 4h0m-9-3h0m7 6h0m9 4h0m1-5h0m1 0h0m0 3h0m2 1h0m1-4h0m0 1h0m1-1h0m0 3h0m4-2h0m1-1h0m0 5h0m3-4h0m0 3h0m3-4h0m1 1h0m1 2h0m0 2h0m1-5h0m3 2h0m0 1h0m0 2h0m1-5h0m2 2h0m0 2h0m1-3h0m1 2h0m1-2h0m1 2h0m1 1h0m1-4h0m1 2h0m7-1h0m0 4h0m2-3h0m2 2h0m2-4h0m2 1h0m0 2h0m2-2h0m1 1h0m0 2h0m2-4h0m0 5h0m1-4h0m2 4h0m3-5h0m0 1h0m0 3h0m0 1h0m4-1h0m1-4h0m0 2h0m1 2h0m1 1h0m1-1h0m2 0h0m1-2h0m1-1h0m0 2h0m1 2h0m2-2h0m1 2h0m1-3h0m0 3h0m1-4h0m0 3h0m2-3h0m1 4h0m1-5h0m1 0h0m0 3h0m4 2h0m1-5h0m1 0h0m0 2h0m1 0h0m1 3h0m1-5h0m0 2h0m1-2h0m1 2h0m1 2h0m1-4h0m0 3h0m2-2h0m0 2h0m0 2h0m2-3h0m2 1h0m0 2h0m1-4h0m0 3h0m1-4h0m1 2h0m0 2h0m2-3h0m0 3h0m1-2h0m0 2h0m2-3h0m3 4h0m3-5h0m2 5h0m1 0h0m1-3h0m2 1h0m0 2h0m2-3h0m1 3h0m1-2h0m3-3h0m1 4h0m2-3h0m1-1h0m1 3h0m1 2h0m2-5h0m2 5h0m1-3h0m1 3h0m2 0h0m3 0h0m2 0h0m5-2h0m0 2h0m3-3h0m10 3h0m1-3h0m1 3h0m6-3h0m1 3h0m2-1h0m1-3h0m2-1h0m1 2h0m4-2h0m2 4h0m1-4h0m1 2h0m2 2h0m1-4h0m3 1h0m1 4h0m3-3h0m0 3h0m1-4h0m2 2h0m0 1h0m2-3h0m0 3h0m2-4h0m0 2h0m0 3h0m6-4h0m2 1h0m1 2h0m1-4h0m2 3h0m0 2h0m2-1h0m1-1h0m1-3h0m1 3h0m0 2h0m4-5h0m-4 8h0m-2-2h0m-2 4h0m0 1h0m-2-4h0m0 2h0m-1 0h0m-3-2h0m0 4h0m-2-2h0m-2-3h0m0 2h0m-2 3h0m-1-4h0m0 3h0m-1-2h0m-1-2h0m-1 4h0m-2-4h0m0 5h0m-3-4h0m0 2h0m-2 0h0m-2-3h0m0 1h0m0 4h0m-1-3h0m-1-2h0m0 2h0m-3-2h0m0 2h0m0 3h0m-1-5h0m-2 2h0m0 1h0m-3-1h0m-1 0h0m0 3h0m-2-1h0m-2-2h0m-4-2h0m0 5h0m-1-2h0m-8 1h0m-2-2h0m0 2h0m-1-1h0m-5 0h0m-2-2h0m-1 1h0m-2-1h0m-1 4h0m-1-1h0m-1-4h0m-1 1h0m-5 1h0m-1-1h0m0 3h0m-1-1h0m-1-2h0m0 3h0m-2 0h0m-4 0h0m-1-4h0m-1 5h0m-2-1h0m-3-2h0m-1 2h0m-1-1h0m-2-3h0m0 4h0m-2-2h0m-2-2h0m-1 2h0m0 2h0m-2-4h0m0 5h0m-4-1h0m-2-3h0m-2 1h0m0 2h0m-2 0h0m-1 0h0m-1-2h0m-2 3h0m-1-5h0m0 3h0m-4 0h0m0 1h0m-1-2h0m-2 3h0m-2-1h0m-1-2h0m-4 0h0m-5-2h0m-1 2h0m-1 2h0m-1-4h0m-1 4h0m-1-2h0m-3 2h0m-1-2h0m-2 0h0m0 3h0m-1-5h0m0 3h0m0 2h0m-1-2h0m-1-2h0m-1 3h0m-1-3h0m-3-1h0m0 1h0m0 2h0m-2-3h0m-1 1h0m-2 0h0m0 3h0m-1-1h0m-2 0h0m-2-3h0m-2 1h0m-2 2h0m-1 0h0m0 2h0m-2-5h0m-1 2h0m-1-1h0m0 3h0m-1 1h0m-1-4h0m-2 2h0m-1-3h0m-1 5h0m-2-5h0m0 3h0m0 2h0m-2-3h0m0 2h0m-1-4h0m-2 0h0m-1 4h0m-1-4h0m-2 4h0m-1-3h0m0 2h0m-1 2h0m-1-5h0m-1 5h0m-1-3h0m-1-2h0m-1 4h0m-1-2h0m-1 1h0m-2 0h0m-5-3h0m-1 3h0m-2-1h0m-3-1h0m-6-1h0m-14 0h0m-7 4h0m13 7h0m10-3h0m0 2h0m3-3h0m0 3h0m1-4h0m1 3h0m1-1h0m0 3h0m3-3h0m0 3h0m2-1h0m2-1h0m1-3h0m3 2h0m1 2h0m1-4h0m1 2h0m1 2h0m2-2h0m0 2h0m2-2h0m2 0h0m0 2h0m3-2h0m2 3h0m1-3h0m1 2h0m2 0h0m1-1h0m8-1h0m1-1h0m0 4h0m1-1h0m2-4h0m1 3h0m1-1h0m0 3h0m1-2h0m3-2h0m1 4h0m1-4h0m0 1h0m2 0h0m0 2h0m1-4h0m0 2h0m1 3h0m3-2h0m2-3h0m0 4h0m1-4h0m0 1h0m2 0h0m1 2h0m1-2h0m2 4h0m2-5h0m0 3h0m0 2h0m1-4h0m2-1h0m0 3h0m0 2h0m2-4h0m1 1h0m1-2h0m2 2h0m1 0h0m1-2h0m1 2h0m1-2h0m1 4h0m0 1h0m1-4h0m0 1h0m0 2h0m2-3h0m0 4h0m2-2h0m2 0h0m1 0h0m0 2h0m1-5h0m0 5h0m3-1h0m1-2h0m1-2h0m1 2h0m0 2h0m2-3h0m0 4h0m1-3h0m1 1h0m0 2h0m2-5h0m1 2h0m0 2h0m2-3h0m0 2h0m2-2h0m0 2h0m2-3h0m2 0h0m0 2h0m2 2h0m1-4h0m1 3h0m1 1h0m2-3h0m1 2h0m0 2h0m1 0h0m2 0h0m1-5h0m0 2h0m1 2h0m1-4h0m0 5h0m2-3h0m1-2h0m1 1h0m1 3h0m3-1h0m2-3h0m0 5h0m1-4h0m1 4h0m3-3h0m1 2h0m4-1h0m1 1h0m2-1h0m2-3h0m0 5h0m3-3h0m0 3h0m2-3h0m3-2h0m0 2h0m2 1h0m1 2h0m1-4h0m1 0h0m3 0h0m0 3h0m3-4h0m1 2h0m0 3h0m2-1h0m4-2h0m0 2h0m1-4h0m2 1h0m0 2h0m0 1h0m3-4h0m0 5h0m2-5h0m0 3h0m0 2h0m1-4h0m1 4h0m1-3h0m1-2h0m2 0h0m1 2h0m0 1h0m1 2h0m1-3h0m1 1h0m2-2h0m0 2h0m4 2h0m1-2h0m1-3h0m0 2h0m1 2h0m1-2h0m3 0h0m3 0h0m-3 4h0m-2 2h0m-1-2h0m-1 4h0m-1-2h0m-1 1h0m-1 1h0m-2-2h0m0 3h0m-1-5h0m0 4h0m-1-2h0m-1-2h0m-2 1h0m0 2h0m-4-3h0m0 2h0m-1 0h0m-1 0h0m0 2h0m-1 0h0m-2-2h0m-3-2h0m0 4h0m-2 1h0m-1-5h0m-3 3h0m-1-2h0m-3 2h0m0 2h0m-2-2h0m-1-3h0m-2 0h0m0 2h0m0 3h0m-2 0h0m-1-4h0m-1 4h0m-2-3h0m0 2h0m-5-3h0m-1 2h0m-3-2h0m0 2h0m-5-2h0m-4 1h0m-1 2h0m-4-1h0m-4 1h0m-2-2h0m-3 2h0m-1-4h0m-1 1h0m0 3h0m-3-3h0m-1 3h0m-3-3h0m0 4h0m-1-2h0m-1-1h0m0 3h0m-2-2h0m-3 1h0m-2-2h0m0 3h0m-2-5h0m-1 4h0m-2 0h0m-1-4h0m-1 2h0m-1 2h0m-1-4h0m0 1h0m0 3h0m-1-1h0m-1-3h0m-1 4h0m-1-3h0m-1 3h0m-2-4h0m-2 5h0m-1-3h0m-2 1h0m-3-3h0m0 5h0m-2-4h0m0 2h0m-1 2h0m-1-2h0m-2 0h0m-1-1h0m-1-2h0m0 1h0m-1 4h0m-1-2h0m-2-3h0m0 2h0m-2-1h0m-1 2h0m-1 2h0m-2-4h0m0 2h0m-1 0h0m-1-2h0m-3 2h0m0 2h0m-2-5h0m-1 4h0m-1-4h0m-1 5h0m-1-2h0m-1-2h0m-2-1h0m0 5h0m-1-3h0m-1 3h0m-1-4h0m-1 2h0m-2-2h0m0 4h0m-1-5h0m-1 4h0m-1-4h0m-4 5h0m-3-2h0m-2 1h0m-4-4h0m0 5h0m-2-4h0m-3 1h0m-1-2h0m-2 0h0m0 2h0m-2-1h0m-1 2h0m-2-3h0m0 3h0m-4 0h0m-1-3h0m-2 0h0m-1 4h0m-2-4h0m-7 3h0m-3-1h0m-1 0h0m-1 3h0m-2-1h0m-1 1h0m-1-2h0m-4 0h0m-2-2h0m-14 9h0m15-3h0m2 1h0m2-1h0m0 3h0m1-2h0m3 0h0m2 0h0m3 0h0m1-2h0m0 5h0m1 0h0m3-2h0m4 1h0m10-2h0m1-1h0m4 0h0m4 0h0m2 0h0m2 2h0m2-1h0m2-2h0m8 1h0m0 3h0m1-1h0m1-2h0m0 4h0m4-4h0m0 4h0m1-2h0m2-2h0m2-1h0m3 0h0m0 3h0m2-1h0m1-2h0m2 3h0m2-1h0m1-2h0m1 3h0m0 2h0m1-4h0m0 4h0m2-5h0m1 4h0m1 1h0m2-3h0m0 3h0m5-5h0m0 3h0m2-2h0m0 2h0m0 2h0m2-4h0m1 1h0m1 1h0m2-2h0m0 2h0m4 0h0m3-1h0m0 2h0m2-4h0m1 5h0m1-3h0m0 1h0m2 0h0m1 1h0m2-4h0m2 0h0m1 3h0m1-1h0m4-2h0m0 5h0m3-5h0m0 4h0m1-1h0m2-2h0m0 3h0m1-1h0m1 2h0m1-2h0m3 1h0m2-3h0m1 3h0m1-3h0m2-1h0m2 1h0m0 2h0m4 1h0m2-1h0m3 0h0m0 2h0m4-5h0m0 3h0m0 2h0m2-2h0m0 1h0m2-3h0m2 3h0m1-2h0m0 3h0m3-3h0m0 2h0m2-1h0m2-3h0m2 2h0m1 3h0m3-4h0m0 2h0m2 0h0m1 0h0m4 1h0m2-4h0m0 3h0m0 2h0m2 0h0m2-2h0m0 1h0m1-1h0m1 1h0m1-1h0m2-1h0m0 2h0m1-4h0m1 3h0m3-1h0m1-2h0m1 1h0m0 2h0m1-3h0m1 2h0m0 2h0m2-2h0m1-2h0m2 1h0m0 2h0m1-1h0m2-1h0m1 1h0m1 0h0m1 3h0m2 0h0m1-5h0m-3 7h0m0 3h0m-2-3h0m-1 2h0m-1-2h0m-1 2h0m-2-1h0m0 3h0m-2-3h0m-2 3h0m-1-3h0m-1-1h0m0 2h0m-3-2h0m0 4h0m-2-4h0m0 3h0m-1-4h0m-1 3h0m-1-3h0m0 5h0m-2 0h0m-2-4h0m-2 2h0m-2-1h0m-1 2h0m-1-2h0m-1-2h0m0 4h0m-1-3h0m-1-1h0m0 2h0m-1 2h0m-2-3h0m0 3h0m-1-2h0m-2 0h0m-1 3h0m-2-5h0m-2 0h0m0 2h0m0 1h0m-2 0h0m-2 0h0m-1 2h0m-7-4h0m0 3h0m-3 1h0m-2-4h0m0 3h0m-1-4h0m-1 1h0m-1 1h0m-2 0h0m0 2h0m-3-2h0m0 3h0m-1-5h0m-2 3h0m-2 1h0m-2-4h0m0 5h0m-1-1h0m-1 0h0m-3 1h0m-4-5h0m-1 1h0m0 4h0m-2 0h0m-1-3h0m-1 3h0m-1-5h0m-2 3h0m-2-3h0m-1 0h0m-1 5h0m-1-4h0m-4 1h0m0 1h0m0 2h0m-2-4h0m-2 2h0m-1 2h0m-1-5h0m-1 3h0m-2 0h0m0 2h0m-2-4h0m0 3h0m-1-3h0m0 3h0m-2-2h0m0 2h0m-1-2h0m-1-2h0m0 3h0m-1 2h0m-2-4h0m-2 4h0m-1-5h0m0 2h0m-1-1h0m0 3h0m0 1h0m-2-3h0m-3 0h0m0 3h0m-1-2h0m-3 2h0m-1-5h0m-1 3h0m-3 2h0m-1-5h0m-1 4h0m-2-4h0m0 2h0m-2-2h0m-1 2h0m0 2h0m-1-4h0m-1 3h0m-1-2h0m-2 1h0m-2-1h0m0 1h0m0 2h0m-2 1h0m-2-4h0m-1-1h0m-6 3h0m-2 2h0m-1-5h0m-2 4h0m-1 0h0m-10-1h0m-1-2h0m0 2h0m-5 2h0m-7-3h0m-4 1h0m-6 1h0m-1-4h0m-2 1h0m-1 1h0m0 2h0m-6-1h0m0 2h0m21 5h0m1-3h0m2 1h0m2 3h0m8-5h0m1 3h0m6 2h0m2-2h0m1-2h0m0 3h0m2 1h0m1-3h0m2-2h0m1 4h0m2-3h0m1 4h0m3-2h0m4-2h0m1 3h0m2-4h0m0 3h0m2-1h0m1 2h0m2-1h0m3-3h0m2 3h0m1-3h0m1 1h0m0 4h0m2-5h0m2 5h0m1-2h0m1-1h0m1 3h0m1-2h0m1 2h0m1-5h0m0 2h0m0 1h0m2-1h0m0 2h0m0 1h0m2-3h0m1 2h0m2-3h0m0 1h0m1 2h0m1-2h0m1 0h0m1 2h0m1 1h0m1-4h0m1-1h0m5 0h0m0 3h0m3 0h0m0 2h0m2-5h0m0 4h0m1-3h0m2 4h0m1-2h0m3-1h0m3 1h0m2-1h0m0 3h0m3-1h0m3-3h0m0 4h0m2-3h0m3 2h0m1-4h0m0 2h0m1 2h0m0 1h0m1-4h0m3 2h0m1 1h0m4-1h0m1 1h0m4 1h0m2-4h0m0 3h0m5-4h0m6 2h0m2 0h0m1 0h0m0 2h0m2-1h0m1-2h0m2 3h0m1 0h0m1-2h0m2 1h0m1-3h0m0 2h0m0 3h0m1-3h0m0 2h0m1-4h0m1 2h0m1 3h0m1-5h0m0 5h0m1-2h0m1-3h0m1 0h0m2 4h0m1-2h0m0 3h0m1-4h0m0 4h0m1-5h0m0 2h0m2 1h0m1-3h0m1 4h0m1-4h0m0 2h0m2 3h0m1-5h0m0 1h0m3 4h0m2-5h0m0 4h0m1-2h0m4-2h0m0 3h0m0 2h0m2-3h0m1 1h0m1 2h0m1-3h0m1-1h0m0 3h0m2-1h0m1-3h0m0 1h0m2 3h0m1-3h0m3 7h0m-2 2h0m-1-4h0m-1 1h0m0 4h0m-1-3h0m-1-1h0m0 3h0m-1 0h0m0 1h0m-2-5h0m-5 3h0m-2 2h0m-2 0h0m-1-3h0m-2 2h0m-1-1h0m-1-2h0m-1-1h0m-1 3h0m0 2h0m-2-4h0m0 1h0m-2 1h0m-1-3h0m-1 1h0m-1-1h0m0 5h0m-3-2h0m-1-2h0m-2-1h0m0 2h0m-1 2h0m-1-4h0m-1 3h0m-1 2h0m-1-3h0m-1-1h0m-1-1h0m0 4h0m-2-2h0m-2 2h0m-1-4h0m-1 3h0m-1-2h0m0 3h0m-2-4h0m-1 3h0m-2 2h0m-1 0h0m-1-3h0m-5 0h0m-2-2h0m-1 5h0m-2-5h0m0 4h0m-5 0h0m-5-3h0m-1 1h0m-2-2h0m0 5h0m-1 0h0m-1-4h0m-2 2h0m-1 2h0m-1-5h0m-3 1h0m0 2h0m-4 0h0m-1-3h0m-1 0h0m0 4h0m-2 1h0m-1-2h0m-2 0h0m-2-1h0m0 2h0m-1-4h0m0 3h0m-2-3h0m0 2h0m-1 2h0m-3-4h0m-2 2h0m-2 1h0m-3-2h0m-1 0h0m-2 1h0m-1 2h0m-1-1h0m-4-2h0m-1-1h0m-1 4h0m-3-3h0m0 1h0m-2-1h0m-2 0h0m-1 2h0m-1-2h0m0 3h0m-3-4h0m-1 2h0m-1 0h0m-1-1h0m-2 3h0m-1-2h0m-1 1h0m-6-1h0m-2 1h0m-1-3h0m-3 5h0m-4-5h0m-3 4h0m-1-2h0m-2 1h0m-2-1h0m-1 3h0m-1-2h0m-1-1h0m-3 0h0m-4-1h0m-3-1h0m-3 0h0m-7 1h0m-1 0h0m-17 1h0m36 4h0m6 0h0m2 2h0m2 0h0m3-1h0m2 2h0m7-2h0m0 4h0m2-5h0m6 1h0m4 1h0m1 0h0m0 2h0m3-4h0m3 2h0m0 3h0m2-1h0m2 1h0m1-4h0m1-1h0m1 3h0m1-1h0m1 3h0m2-3h0m0 2h0m2-2h0m1-1h0m1 0h0m2 3h0m2-4h0m0 2h0m0 3h0m2-5h0m2 0h0m0 3h0m3-1h0m0 2h0m2-4h0m2 2h0m1 0h0m1-1h0m1 2h0m1-1h0m4 2h0m3-2h0m1 3h0m2-3h0m3 0h0m3-2h0m0 2h0m0 2h0m4-1h0m1-3h0m6 3h0m0 2h0m2-1h0m2-1h0m2 2h0m3-2h0m1-3h0m6 1h0m5-1h0m0 1h0m1 2h0m1-1h0m2-1h0m0 2h0m1-3h0m3 0h0m0 4h0m1 1h0m1-3h0m0 3h0m3-5h0m1 0h0m1 5h0m1-5h0m2 4h0m1-4h0m1 3h0m1-2h0m0 3h0m2-1h0m2-3h0m0 5h0m1-2h0m1-2h0m1 3h0m1-3h0m1 3h0m1-3h0m1-1h0m1 3h0m2 1h0m1-4h0m1 1h0m1 1h0m0 3h0m4 0h0m1-3h0m1 2h0m1-3h0m1 3h0m1-3h0m0 2h0m2-2h0m1-1h0m0 5h0m2 3h0m-1-1h0m0 2h0m-1-1h0m0 3h0m-2-1h0m-1-1h0m-1-3h0m-1 4h0m-2 0h0m-2-4h0m-1 1h0m0 3h0m0 1h0m-1-1h0m-3-4h0m0 5h0m-1-3h0m-1 3h0m-1-3h0m0 2h0m-1 1h0m-3-5h0m-1 4h0m-2-4h0m0 2h0m0 3h0m-2-4h0m-1 2h0m0 2h0m-1-5h0m0 1h0m-3-1h0m0 2h0m0 2h0m-2-1h0m-1-2h0m-1 3h0m-1-4h0m0 3h0m-1 1h0m-1-3h0m-1 2h0m0 1h0m-2-1h0m-1-2h0m-1 3h0m-1-4h0m-1 3h0m0 2h0m-2-1h0m-2-4h0m0 3h0m0 1h0m-3-3h0m0 4h0m-2-4h0m-9 1h0m0 2h0m-6 0h0m-2-2h0m-2-1h0m-4 1h0m-1 3h0m-1-1h0m-1-1h0m-4 0h0m-3-3h0m-1 0h0m0 2h0m-2 3h0m-1-2h0m-3 0h0m0 2h0m-2-5h0m-1 4h0m-4-2h0m-1 3h0m-1-5h0m-2 3h0m-1-2h0m-1 3h0m-2-4h0m-1 2h0m0 1h0m0 2h0m-2-4h0m-1 4h0m-1-4h0m-2-1h0m-1 1h0m0 3h0m-1-1h0m-7-2h0m-1-1h0m0 5h0m-1-2h0m-6-2h0m-2-1h0m-2 1h0m-2-1h0m-2 2h0m-3-2h0m-2 0h0m0 4h0m-3-2h0m-2 1h0m-5 0h0m1 4h0m3 0h0m1 4h0m3-1h0m1-3h0m2-1h0m0 2h0m4 3h0m4-1h0m3-4h0m1 5h0m3-5h0m4 5h0m2-3h0m1-2h0m1 0h0m2 1h0m0 3h0m5 1h0m3-4h0m1 1h0m1 2h0m3-3h0m0 2h0m2-3h0m3 2h0m0 3h0m2 0h0m9-4h0m1 3h0m2-4h0m3 1h0m0 1h0m1 3h0m5-1h0m1 0h0m4 1h0m1-4h0m7 4h0m5-1h0m2-3h0m1-1h0m2 2h0m0 3h0m2-5h0m4 1h0m2 3h0m1-4h0m1 5h0m6-5h0m0 5h0m1-2h0m2-1h0m0 2h0m1-4h0m2 3h0m3-3h0m0 4h0m2-4h0m0 2h0m1 2h0m1-1h0m2-3h0m0 2h0m3-1h0m1 4h0m1-4h0m2 2h0m2 2h0m1-2h0m1-1h0m0 1h0m1-2h0m3 1h0m1 3h0m1-5h0m0 2h0m0 2h0m2-1h0m1-3h0m3 4h0m1-2h0m2 1h0m0 1h0m3-1h0m-2 3h0m-1 4h0m-1-4h0m-3 0h0m-2 0h0m-1 1h0m0 3h0m-2-2h0m-4 0h0m-2 3h0m-4-5h0m0 3h0m0 2h0m-2-3h0m0 3h0m-1-1h0m-2-1h0m-1-2h0m-2 0h0m-1 0h0m-1 3h0m-1-1h0m-1-3h0m0 4h0m-2-4h0m-2 2h0m-1-2h0m0 5h0m-3-4h0m0 3h0m-1-2h0m-2 3h0m-1-2h0m-1 2h0m-1-4h0m0 4h0m-2-2h0m-1-2h0m-2 1h0m-6 2h0m-2 0h0m-2-3h0m-3 0h0m-2 2h0m-1-3h0m-2 2h0m-6 1h0m-4 1h0m-1 0h0m-1-4h0m-1 3h0m-3 1h0m-2 0h0m-1-1h0m-4-2h0m0 2h0m-1 1h0m-5 0h0m-1-4h0m-2 3h0m0 2h0m-2 0h0m-1-2h0m0 1h0m-2-4h0m-1 5h0m-1-4h0m-2 3h0m-5 1h0m-4 0h0m-1-3h0m-1 3h0m-9 0h0m-1-5h0m-1 2h0m-3 0h0m-5-2h0m20 8h0m4 2h0m4 0h0m1 1h0m1-5h0m0 4h0m5-3h0m3-1h0m4 4h0m1-3h0m2 3h0m4 0h0m1-4h0m1 0h0m2 0h0m0 3h0m4-1h0m3-2h0m4 3h0m4-3h0m2 2h0m7-1h0m2 2h0m5-3h0m1 1h0m3 3h0m3 1h0m6-3h0m5 2h0m1-1h0m3-3h0m4 1h0m1-1h0m0 3h0m2-2h0m0 2h0m0 2h0m1-4h0m2 4h0m4-2h0m1-3h0m7 5h0m5-2h0m2 2h0m3-1h0m0 1h0m1-3h0m2-1h0m0 3h0m4 1h0m4 4h0m-3-3h0m-1 3h0m-1 2h0m-1-2h0m-7 2h0m-1-2h0m-1 2h0m-8 0h0m-3-2h0m-1-1h0m0 3h0m-3-4h0m-2 0h0m-2 0h0m-1 3h0m-4 1h0m-2-5h0m-2 2h0m-1 1h0m-2-1h0m-2 1h0m-3-2h0m-4 2h0m-1 2h0m-3-5h0m-2 3h0m-3-2h0m-1 4h0m-1-2h0m-3 2h0m-4 0h0m-1 0h0m-1-4h0m-2 4h0m-1-4h0m-3 1h0m-3 1h0m-4-3h0m-1 4h0m-2-2h0m-7-1h0m-2 2h0m-1-1h0m-4 2h0m-2-3h0m-3 0h0m-1 3h0m-4-1h0m-2-3h0m-4 1h0m-2 1h0m-1-1h0m17 10h0m1-2h0m3 0h0m6-3h0m2 2h0m2 0h0m2 1h0m2-1h0m3 3h0m1-4h0m1 3h0m3 1h0m1-5h0m5 3h0m4 0h0m5-3h0m1 0h0m1 3h0m1-2h0m2-1h0m3 0h0m1 4h0m1-1h0m1-3h0m1 4h0m0 1h0m4-1h0m2-4h0m0 3h0m3-2h0m3 4h0m1-3h0m1-2h0m1 4h0m1-1h0m1-3h0m1 0h0m3 0h0m0 5h0m1-4h0m4-1h0m1 4h0m2 0h0m2-1h0m1 1h0m1-3h0m0 2h0m4-3h0m4 2h0m1 3h0m1-2h0m2-2h0m0 4h0m1-3h0m1 2h0m3 0h0m2-4h0m0 3h0m3-2h0m4 2h0m4-2h0m1 4h0m1-2h0m4 2h0m-3 1h0m0 5h0m-1-1h0m-3-4h0m-2 1h0m0 1h0m0 3h0m-2-3h0m-2-2h0m0 4h0m-2-1h0m-3-3h0m-2 3h0m-2 1h0m-1 1h0m-1-4h0m0 2h0m-1 1h0m-1-1h0m-1-2h0m0 2h0m-1 2h0m-1-5h0m-1 5h0m-1-2h0m-1-3h0m-2 3h0m0 2h0m-1-5h0m-1 4h0m-2-1h0m0 2h0m-2-5h0m0 2h0m0 1h0m-1-2h0m-1-1h0m-1 2h0m-1 3h0m-3 0h0m-1-1h0m-5-2h0m-2-1h0m0 4h0m-1-2h0m-1 1h0m-2-1h0m0 1h0m-2-3h0m0 2h0m-2-1h0m-1 0h0m-3-1h0m-2 4h0m-2-5h0m-1 2h0m-2 0h0m-2-1h0m-1-1h0m-2 0h0m-13 2h0m-3 2h0m-2 0h0m-3 0h0m-4-1h0m-3-2h0m-1 0h0m-1 1h0m-2 3h0m-1-4h0m-1 1h0m-4-1h0m-3 0h0m2 8h0m7 2h0m1-4h0m1 2h0m2-1h0m2-1h0m1-1h0m5 5h0m5-3h0m3-1h0m0 3h0m4-1h0m6 2h0m11 0h0m1-4h0m1 1h0m4-2h0m0 4h0m3-4h0m2 0h0m0 2h0m2 0h0m1-2h0m1 3h0m0 2h0m1-3h0m1 1h0m2-1h0m2 1h0m1 1h0m1-2h0m1 2h0m1 1h0m3-3h0m1-2h0m1 2h0m1 2h0m2 0h0m1-2h0m3 3h0m1-1h0m1 1h0m1-2h0m1-2h0m0 4h0m3-3h0m0 2h0m2-1h0m1 2h0m2-3h0m1-2h0m0 4h0m2-3h0m0 2h0m1-1h0m3 0h0m4 2h0m5-1h0m4-3h0m1 8h0m-2 0h0m-1 3h0m-4-2h0m0 2h0m-1-5h0m0 3h0m-1-1h0m-3 2h0m-2-4h0m0 4h0m-1-1h0m-2 1h0m-2-4h0m0 4h0m-2 0h0m-3 0h0m-2-3h0m0 2h0m-3 0h0m0 1h0m-1-4h0m-2 1h0m0 3h0m-1 0h0m-1-2h0m-1 1h0m0 2h0m-1-1h0m-3-4h0m0 2h0m0 3h0m-1-2h0m-2-2h0m-1 2h0m-2-1h0m0 1h0m0 2h0m-1-4h0m-1-1h0m-1 2h0m0 3h0m-1-5h0m-1 4h0m-1-4h0m0 2h0m-2-2h0m0 5h0m-1-2h0m-2-2h0m-1 4h0m-1-1h0m-1-2h0m-1-1h0m-5 2h0m-2 1h0m-2-2h0m-2-2h0m-2 3h0m-7 0h0m-15 0h0m-5-3h0m-1 5h0m-3-4h0m0 2h0m-1 1h0m-2-4h0m0 4h0m-4-2h0m-6 0h0m1 5h0m1 2h0m4 0h0m4-2h0m1 1h0m3 1h0m1 2h0m1-1h0m2 0h0m4-2h0m0 3h0m22-1h0m4 1h0m2-2h0m1 0h0m1-3h0m2 5h0m1-4h0m0 2h0m2 1h0m0 1h0m1-5h0m0 4h0m4-4h0m0 4h0m2-4h0m1 5h0m2-2h0m1-1h0m1 0h0m0 2h0m1-3h0m2 0h0m0 2h0m3 1h0m1-4h0m1 3h0m1-2h0m1 2h0m4-2h0m1 3h0m1-3h0m1 3h0m1-2h0m2-1h0m0 2h0m0 2h0m1-4h0m1 3h0m1 1h0m2-3h0m2-2h0m0 1h0m0 3h0m1-2h0m3 0h0m2-2h0m1 2h0m0 2h0m3-4h0m1 4h0m2-4h0m1 4h0m1-1h0m4 1h0m1-4h0m2 2h0m5 5h0m-2 0h0m-3 2h0m-5 1h0m-1-4h0m0 5h0m-6-2h0m0 2h0m-4-3h0m-2 1h0m-1-3h0m0 1h0m-3 0h0m0 3h0m-2-4h0m0 3h0m-4-1h0m0 1h0m-3 1h0m-5-3h0m-2 4h0m-2-4h0m0 3h0m-2-2h0m-2-2h0m-1 3h0m-2-1h0m0 2h0m-3-4h0m-2 1h0m-1 0h0m-2 4h0m-1-5h0m0 2h0m-1 3h0m-4-2h0m-1-1h0m-2 1h0m-1 0h0m-5-1h0m-1 1h0m-1-2h0m-2 1h0m-1 2h0m-3 1h0m-2 0h0m-2-3h0m-2 0h0m-3 2h0m-10 1h0m-1-5h0m-3 0h0m-3 2h0m0 3h0m-3-4h0m-1 4h0m-2 0h0m-1-5h0m-1 2h0m0 2h0m-2-2h0m-3 2h0m-1 2h0m5 0h0m4 1h0m1 2h0m1-2h0m6 3h0m2-4h0m1 1h0m0 3h0m2 1h0m4-1h0m3 1h0m3-5h0m0 5h0m1-2h0m3-2h0m0 1h0m0 3h0m3-1h0m2-4h0m0 2h0m4 2h0m4-1h0m2-2h0m2 2h0m1 2h0m1-1h0m1-3h0m1 2h0m2 1h0m0 1h0m1-4h0m0 2h0m2-1h0m0 2h0m2-3h0m0 2h0m0 2h0m1-5h0m1 3h0m1 1h0m1 0h0m1-2h0m3 0h0m1-1h0m3-1h0m0 3h0m0 2h0m2-3h0m0 3h0m2-2h0m1-1h0m0 1h0m0 2h0m2-5h0m0 3h0m0 1h0m1-3h0m1 0h0m0 4h0m1-3h0m1 0h0m0 3h0m1-5h0m1 0h0m0 5h0m2-4h0m0 3h0m1-1h0m1-1h0m0 2h0m1-4h0m1 2h0m0 2h0m1 1h0m1-3h0m2-2h0m1 1h0m0 4h0m1-4h0m1-1h0m2 0h0m2 4h0m2-3h0m2 3h0m5 1h0m1-5h0m3 3h0m-3 7h0m-1 0h0m-5 1h0m-2-5h0m-1 2h0m-1-2h0m-1 5h0m-1-5h0m0 3h0m-2-3h0m-2 4h0m-1-2h0m-1-2h0m0 5h0m-2-4h0m0 2h0m-2 2h0m-3-4h0m0 3h0m-1-2h0m-2 1h0m-2-1h0m-1-1h0m0 3h0m-2-4h0m-1 2h0m0 2h0m-1-2h0m-1-1h0m-2 0h0m-1 4h0m-1 0h0m-1-3h0m-1 2h0m-1-4h0m-1 5h0m-2-3h0m0 1h0m-1-2h0m0 4h0m-3-1h0m-4-4h0m0 3h0m-3-2h0m-2 3h0m-1-3h0m0 2h0m-1-3h0m-1 1h0m0 2h0m-4-2h0m-1 1h0m-2 1h0m-2 1h0m-4-4h0m0 1h0m-4-1h0m-3 1h0m-2 2h0m-1-3h0m-3 2h0m-3 1h0m-1-3h0m-1 5h0m-2-3h0m0 3h0m-3-3h0m-1 1h0m-1 2h0m-1-3h0m-2-1h0m-2 3h0m-1-4h0m0 3h0m-3-1h0m0 1h0m7 4h0m1 2h0m1 2h0m3-5h0m4 5h0m2-2h0m1-3h0m0 5h0m1-1h0m2-1h0m1 1h0m2-1h0m1-3h0m1 0h0m0 2h0m1 2h0m6-1h0m1 2h0m2-1h0m2 1h0m1-4h0m0 2h0m5-2h0m0 2h0m0 2h0m2-3h0m3-2h0m1 4h0m1-3h0m1-1h0m0 2h0m1-2h0m3 1h0m1 3h0m3-3h0m2-1h0m3 2h0m1-2h0m0 4h0m2-3h0m0 4h0m2 0h0m3 0h0m1-2h0m1 0h0m4-3h0m1 0h0m0 2h0m7-1h0m2 2h0m0 2h0m1-4h0m2 4h0m1-5h0m3 1h0m1 4h0m3-1h0m1-1h0m3-1h0m2 0h0m-8 5h0m-2 0h0m-5 0h0m-1 4h0m-3-2h0m-2-2h0m-2 4h0m-1-5h0m-3 0h0m-2 2h0m-1-2h0m0 4h0m-1-2h0m-2 1h0m-1-2h0m-2 0h0m0 1h0m-2-1h0m-4 0h0m-2-1h0m0 3h0m-3 0h0m-1-3h0m-10 0h0m0 2h0m-2-2h0m-1 0h0m-3 1h0m-2 2h0m-2 0h0m-1-2h0m-1 2h0m0 2h0m-2-2h0m-2 2h0m-2-2h0m0 2h0m-1-3h0m-3-2h0m-1 1h0m-1-1h0m-3 4h0m-2-2h0m-2-1h0m-2 1h0m-2-2h0m-8 0h0m10 6h0m6 0h0m7 0h0m8 2h0"/>
<path stroke="#1e5fa3" d="M656 819h0m3 1h0m10 0h0m6 1h0m6 0h0m3 1h0m-3 4h0m-2-2h0m-4-1h0m-1 1h0m-1 0h0m-3 2h0m-7-3h0m-4 1h0m-3 1h0m-1-3h0m-1 5h0m-4-1h0m-2 1h0m-2-4h0m-2 1h0m0 3h0m-9 6h0m2-2h0m4-2h0m5 4h0m4-5h0m0 2h0m8 1h0m3-2h0m1 3h0m1 0h0m2-4h0m2 2h0m5 1h0m4-3h0m0 1h0m4-1h0m0 4h0m4-2h0m3-1h0m0 3h0m1-4h0m1 4h0m4 6h0m-6-3h0m-1 3h0m-2 0h0m-1-2h0m-1 3h0m-3-2h0m0 2h0m-2-3h0m-2 2h0m-2-3h0m0 2h0m-2 2h0m-1-3h0m-2-1h0m-1 0h0m-1 3h0m-2 1h0m-4-2h0m-2-2h0m0 3h0m-2-4h0m-1 3h0m-1 0h0m-2 0h0m-1 1h0m-1 1h0m-3-5h0m-1 1h0m-1-1h0m-1 5h0m-2-4h0m-3 2h0m-1-2h0m-1-1h0m-1 4h0m-3-3h0m-2 1h0m0 1h0m-3-1h0m-1 9h0m1-1h0m1-4h0m1 3h0m1-3h0m0 3h0m5-2h0m0 4h0m1 0h0m5-1h0m2 0h0m2-3h0m1 1h0m1 1h0m1-2h0m5 3h0m1-1h0m5 0h0m1-2h0m1-1h0m2 4h0m1 1h0m2-4h0m0 4h0m4-4h0m1 2h0m0 2h0m1-3h0m3-2h0m1 4h0m3-4h0m3 4h0m2 1h0m2-5h0m2 4h0m2-3h0m1 2h0m5 5h0m-3 0h0m-2 2h0m-2-2h0m-1 0h0m0 3h0m-2-1h0m-2-2h0m-1-2h0m-2 5h0m-2-4h0m-2 4h0m-2-4h0m-1 4h0m-3-4h0m-1 1h0m-2-2h0m0 3h0m-3 0h0m-2-2h0m0 4h0m-4-3h0m-7 2h0m-3-3h0m-2 2h0m-1-2h0m0 4h0m-4 0h0m-3-3h0m-5 3h0m-1-2h0m-1-1h0m-3-2h0m-3 2h0m-3-1h0m0 5h0m0 1h0m3 1h0m2 2h0m2-1h0m6-1h0m2-2h0m0 2h0m1 3h0m1-3h0m3 3h0m1-5h0m0 3h0m1-1h0m1 1h0m5 0h0m1-2h0m3 0h0m2-1h0m0 2h0m2-1h0m2 3h0m4 1h0m4-1h0m3-4h0m5 5h0m1-4h0m1 0h0m0 3h0m8-1h0m0 2h0m2-4h0m3-1h0m0 4h0m1-2h0m2 3h0m1 1h0m-1 5h0m-1-4h0m-1 2h0m0 2h0m-3-4h0m-4-1h0m-2 0h0m0 3h0m-1 1h0m-2-2h0m-2 2h0m-1-3h0m-4 0h0m-2 1h0m-2-2h0m-2 1h0m-1-1h0m-1 2h0m-2 2h0m-1-2h0m-2 1h0m-2 0h0m-1-1h0m0 3h0m-3-2h0m-1-3h0m-3 5h0m-2-1h0m-2-1h0m-3 0h0m-2 2h0m-1-4h0m-1 1h0m-7-1h0m0 2h0m-3-1h0m0 2h0m-5-4h0m-3 3h0m-4 1h0m-5 7h0m3-4h0m4 0h0m0 1h0m0 2h0m2-1h0m4 0h0m3-3h0m1 5h0m3-5h0m2 5h0m1-3h0m3-2h0m0 3h0m2-1h0m6 0h0m1 2h0m1-4h0m1 5h0m8-2h0m3-1h0m3 0h0m2 1h0m4-3h0m0 4h0m1-4h0m0 1h0m3 1h0m1 1h0m1 2h0m1-3h0m3-1h0m0 2h0m1 1h0m2-4h0m1 3h0m3 1h0m7-3h0m3 0h0m-2 5h0m-3 2h0m-2 0h0m0 3h0m-1-5h0m-1 3h0m-5-3h0m0 4h0m-3-2h0m-1-1h0m0 2h0m-3 2h0m-2-2h0m0 2h0m-4 0h0m-4-3h0m-2-2h0m-3 0h0m-1 1h0m-2 3h0m-4 1h0m-2-5h0m-1 5h0m-3-4h0m0 2h0m-1 2h0m-1-4h0m-2 4h0m-3-3h0m-2-1h0m0 3h0m-2-1h0m-1 2h0m-4-1h0m-3-2h0m-1-1h0m0 3h0m-4-1h0m-1-2h0m-2 0h0m-2 1h0m-2-1h0m0 3h0m-1-4h0m0 5h0m-1-3h0m-4 8h0m2 1h0m1-5h0m0 3h0m3-2h0m1 1h0m1-2h0m5 3h0m2-1h0m9 0h0m0 2h0m1-2h0m1 2h0m3-2h0m5 3h0m1-3h0m2 2h0m0 1h0m3-4h0m2 2h0m6-1h0m0 3h0m2-4h0m8-1h0m0 4h0m1-2h0m1 0h0m0 2h0m1-4h0m4 2h0m1-1h0m0 4h0m1-5h0m2 4h0m1-2h0m3 1h0m3 1h0m2-2h0m0 1h0m0 2h0m2-2h0m-7 4h0m-4 2h0m-1-3h0m0 5h0m-1-3h0m-1 2h0m-4 0h0m-3-1h0m-2-3h0m0 2h0m-7-1h0m-2 2h0m-3-3h0m-2 0h0m-13 0h0m-1 4h0m-1-2h0m-2 3h0m-1-2h0m-4-1h0m-1-2h0m0 4h0m-2-4h0m-1 3h0m-3-3h0m0 3h0m-2 2h0m-1-1h0m-1-4h0m-2 0h0m-2 2h0m-1 3h0m-1-3h0m-1 1h0m-5 1h0m-2-3h0m0 6h0m1 4h0m5-2h0m2 0h0m2 1h0m1-3h0m5 2h0m3-1h0m1-2h0m2 1h0m0 2h0m1-3h0m2 1h0m1 3h0m2-4h0m0 3h0m4 1h0m1-2h0m4 2h0m8-1h0m2 2h0m6-5h0m0 3h0m2 0h0m1-1h0m6-1h0m3 0h0m4 0h0m1 5h0m-1 2h0m-5-2h0m-3 0h0m0 5h0m-3-2h0m-1-2h0m-1 4h0m-1-5h0m0 1h0m-2 2h0m-2 2h0m-1-5h0m-2 2h0m-2-2h0m0 3h0m-3-2h0m-10 1h0m-6 0h0m-1-2h0m-1 4h0m-1-4h0m-2 1h0m-2 3h0m-1 1h0m-4-5h0m-1 2h0m-1 3h0m-1-4h0m-1 2h0m-1-3h0m0 4h0m-4-2h0m-1-1h0m-1 2h0m0 2h0m-1-5h0m-1 2h0m-1 3h0m-2-1h0m-2-2h0m-1 2h0m-1-4h0m-1 6h0m3 3h0m3-1h0m1 3h0m1-1h0m2-2h0m0 1h0m1 2h0m2-1h0m1-2h0m2 1h0m0 2h0m2-3h0m5 3h0m1-2h0m3-1h0m1-2h0m5 2h0m21-2h0m3 1h0m2-1h0m1 2h0m3-2h0m0 2h0m5-2h0m0 3h0m4-3h0m-47 6h0m-3 3h0m-1 2h0m-1-1h0m-2 1h0m-1-2h0m-4-3h0m-1 2h0m-1 3h0m-8-5h0m-1 3h0m-3-1h0m-1-2h0m-3 3h0m-2 6h0m1-3h0m0 5h0m2-1h0m1-4h0m1 5h0m2-4h0m2 1h0m2-1h0m2 0h0m1 3h0m2 1h0m1-5h0m0 5h0m3-4h0m1-1h0m0 5h0m2-1h0m3 1h0m2-3h0m-2 8h0m-3-2h0m-2 1h0m-2-2h0m0 3h0m-2-4h0m0 2h0m-1 0h0m0 2h0m-2-4h0m-1 5h0m-1-2h0m-1-2h0m0 3h0m-5 0h0m-5 1h0m-1-5h0m0 3h0m2 5h0m1 2h0m1-3h0m1 4h0m1-5h0m1 3h0m2 1h0m2-2h0m0 2h0m1-2h0m5 3h0m1-2h0m2-3h0m0 4h0m2 1h0m1-1h0m12 5h0m-14-2h0m-1 2h0m-1-3h0m-1 2h0m-2 1h0m-1-2h0m-1 4h0m-1-2h0m-4-1h0m-1-1h0m-2 1h0m-8-1h0m8 7h0m1-2h0m1 1h0m1 3h0m0 1h0m1-5h0m2 5h0m4-3h0m3-2h0m5 6h0m-4 1h0m-4 4h0m-1-4h0m-2 3h0m-1-3h0m-2 0h0m-2 4h0m-3-1h0m7 3h0m5-1h0m0 5h0m3-2h0m15 0h0m6-1h0m-10 5h0m-20-1h0m0 2h0m0 1h0m-1-2h0"/>
<path stroke="#1a5796" d="M694 857h0m2 0h0m3-2h0m6-1h0m0 3h0m-3 1h0m0 3h0m-3-2h0m-3 0h0m0 6h0m2 4h0m1-5h0m1 5h0m2-4h0m0 3h0m3-4h0m1 2h0m1-1h0m4 0h0m1 4h0m99 6h0m-6-1h0m-3 1h0m-15 0h0m-4-2h0m-3 0h0m-2-1h0m0 3h0m-2-3h0m-1 1h0m-1 1h0m-5-4h0m-1 3h0m-3 0h0m-6 2h0m-11-1h0m-5-1h0m-8 2h0m-8-1h0m-12-1h0m-1-2h0m-1 2h0m-2-3h0m-1 4h0m-1-2h0m-1 3h0m-3-5h0m0 2h0m-2-1h0m-1 2h0m0 2h0m-2 0h0m-1-1h0m-1-3h0m-2 2h0m0 4h0m0 4h0m1-2h0m3-1h0m0 2h0m2-3h0m0 2h0m2-1h0m0 3h0m1-5h0m2 1h0m2 4h0m6-4h0m1 3h0m1-3h0m1 4h0m1-3h0m2 2h0m1 0h0m2 0h0m1-2h0m1 3h0m1-2h0m1-3h0m2 0h0m1 4h0m1 0h0m1-2h0m5-1h0m6 0h0m2-1h0m1 4h0m2-2h0m2 0h0m4 1h0m4 1h0m2-1h0m1 2h0m2-1h0m3 0h0m1 1h0m1 0h0m4-4h0m2 2h0m4-2h0m0 2h0m0 2h0m1-1h0m1-4h0m2 5h0m2 0h0m5-1h0m2-2h0m5 3h0m1-5h0m2 0h0m2 1h0m0 2h0m1-3h0m1 2h0m0 1h0m0 2h0m2-5h0m0 4h0m7 1h0m3-3h0m55 7h0m-2 2h0m-5 0h0m-3 0h0m-5 0h0m-1-5h0m-35 5h0m-1-3h0m-1-2h0m-2 2h0m-1 1h0m0 2h0m-4-3h0m-6 1h0m-2 1h0m-4-4h0m0 4h0m-2 0h0m-1-2h0m-2 0h0m-2 0h0m-5-2h0m-1 4h0m-2-4h0m-1 2h0m-2 1h0m-4-2h0m-1 3h0m-2-4h0m0 4h0m-3-1h0m-1 1h0m-3 0h0m-1-3h0m-1 2h0m-2 1h0m-3 1h0m-1-2h0m-2 0h0m0 2h0m-2-4h0m-2 1h0m-3 0h0m-4 1h0m-1-2h0m-1-1h0m-4 3h0m-1 0h0m-2-1h0m-2-1h0m-1 4h0m-2-1h0m-3-3h0m-1 3h0m-2-2h0m-4-2h0m0 1h0m0 1h0m-2 2h0m-1-4h0m-1 4h0m-1-3h0m-1 3h0m-1 1h0m-3-2h0m-2 2h0m-1-4h0m-1 1h0m-2-2h0m-1 1h0m-4 2h0m-2 0h0m-1-3h0m0 5h0m2 5h0m2 0h0m2-2h0m1 1h0m1 1h0m1-2h0m1-2h0m0 4h0m2-3h0m1 1h0m1-1h0m1 3h0m1-2h0m1 3h0m1-1h0m1-3h0m2 2h0m4-3h0m1 5h0m4-3h0m4-2h0m2 2h0m1-2h0m1 2h0m1 1h0m1 1h0m1-4h0m3 4h0m1-2h0m3-1h0m2 0h0m0 2h0m2-2h0m1-1h0m6 5h0m1-3h0m8-2h0m3 3h0m2 1h0m2 1h0m1-1h0m4-4h0m0 2h0m2 1h0m2 2h0m2-2h0m3-1h0m1-2h0m1 2h0m2-1h0m3-1h0m1 4h0m3-3h0m2 2h0m1 1h0m9-4h0m7 0h0m1 4h0m0 1h0m1-5h0m1 2h0m1 3h0m2-1h0m2 0h0m3 1h0m3-2h0m3 0h0m2 2h0m10-5h0m2 0h0m1 3h0m1 2h0m1-4h0m2-1h0m0 5h0m3-4h0m0 2h0m2-1h0m3 2h0m0 1h0m2-5h0m1 3h0m5 0h0m1 2h0m1-2h0m1-3h0m1 3h0m4 1h0m2 4h0m-4 0h0m-3 2h0m-8-2h0m-2 1h0m-5-2h0m-1 3h0m-1-3h0m-1 2h0m-1-1h0m0 3h0m-1-5h0m-1 2h0m-1 2h0m-2-2h0m0 3h0m-1-5h0m-1 5h0m-1-4h0m-1 4h0m-1-3h0m-2 0h0m0 2h0m-3-4h0m-1 3h0m-2-2h0m-2 3h0m-6-3h0m-1 4h0m-1-2h0m-1-3h0m0 5h0m-2 0h0m-2 0h0m-5-4h0m-6 2h0m-3-3h0m0 5h0m-5-4h0m0 2h0m-2-3h0m-4 4h0m0 1h0m-4-1h0m-1 1h0m-7 0h0m-2-4h0m0 2h0m-3-2h0m0 3h0m-2-2h0m-5 0h0m-1-1h0m-2 0h0m-6 3h0m-6-1h0m-3-3h0m-1 2h0m0 1h0m-2-2h0m-2 3h0m-2-4h0m0 5h0m-2-2h0m-1-1h0m-1 1h0m0 2h0m-2-5h0m-1 3h0m-4 1h0m-1-3h0m-1 3h0m-5-3h0m-1 3h0m-2-4h0m0 2h0m-2-1h0m-1 0h0m0 2h0m-2-1h0m-6 1h0m0 2h0m-2-3h0m-1-2h0m-1 0h0m0 3h0m-2-2h0m-3 4h0m-3-4h0m-2 4h0m-1-4h0m-3 6h0m1 2h0m2-2h0m0 3h0m1-4h0m2 1h0m0 2h0m2-1h0m0 3h0m1-1h0m1-4h0m1 5h0m1 0h0m1-5h0m2 3h0m5-2h0m0 4h0m2-3h0m3 1h0m0 2h0m1-5h0m1 2h0m5-1h0m2 4h0m4-3h0m1 2h0m1-1h0m1-1h0m2 2h0m1-4h0m2 5h0m4-4h0m1 3h0m5-2h0m1-1h0m3 1h0m1 1h0m2 1h0m1 1h0m2-4h0m1 2h0m1-3h0m1 1h0m1-1h0m2 1h0m1 4h0m1-3h0m0 2h0m2-4h0m0 4h0m6-4h0m4 4h0m4-4h0m1 4h0m5-4h0m3 5h0m2-1h0m1-3h0m2 3h0m4-2h0m4-2h0m2 1h0m1 3h0m1-4h0m0 3h0m3-1h0m1-2h0m2 4h0m2-3h0m1 1h0m3 0h0m1-1h0m2 0h0m2-1h0m0 4h0m4-2h0m2-1h0m0 4h0m2-5h0m0 4h0m2-2h0m0 3h0m1-5h0m2 5h0m1-5h0m2 5h0m1-4h0m3 2h0m8-3h0m1 3h0m3 2h0m1-4h0m1 3h0m1-2h0m4 1h0m1-3h0m2 2h0m-8 6h0m-1 1h0m-1-1h0m-6 0h0m-1 1h0m0 1h0m-2 0h0m-2-3h0m-1 4h0m-2-2h0m-3 1h0m-4-2h0m-3-1h0m0 3h0m-4-1h0m0 2h0m-1-2h0m-2-2h0m-3 3h0m-2-3h0m-4 1h0m0 3h0m-2-4h0m-1 1h0m-2-2h0m0 5h0m-4-3h0m-1 1h0m-3-3h0m0 3h0m-2-2h0m-3-1h0m-2 3h0m-1-3h0m-1 4h0m-1-4h0m-1 1h0m-1 3h0m-1-1h0m-2 0h0m-1-3h0m0 4h0m-1-2h0m-2 0h0m0 3h0m-3-2h0m-3 1h0m-7 1h0m-1-4h0m-2-1h0m-2 2h0m-2 2h0m-4-2h0m-1-2h0m-2 4h0m-5-3h0m-1 3h0m-3-4h0m-3 2h0m-2 2h0m-2-4h0m-2 5h0m-2-1h0m-2-4h0m0 3h0m-1-2h0m0 4h0m-2-1h0m-1-2h0m-3 0h0m-4 0h0m-3-2h0m-2 5h0m-1-5h0m-4 5h0m-1-3h0m-1 0h0m-4-2h0m0 5h0m-3 0h0m-1 0h0m-4-2h0m-2 2h0m-2-5h0m0 4h0m-3 4h0m5 0h0m2-2h0m2 1h0m1 3h0m1-1h0m1 1h0m2-2h0m0 1h0m1 1h0m1-1h0m4 1h0m3 0h0m8-3h0m3 0h0m0 2h0m1 1h0m2-3h0m1 3h0m2-4h0m0 3h0m2 0h0m1-3h0m0 2h0m0 3h0m2-3h0m2-1h0m0 1h0m4 3h0m3-3h0m3 2h0m2-1h0m1 1h0m1 1h0m2-5h0m0 3h0m1-1h0m1-1h0m2-1h0m1 5h0m1-2h0m3-2h0m1 3h0m1-4h0m3 3h0m1 1h0m4 1h0m2-1h0m3-1h0m1-3h0m1 2h0m2 2h0m2 0h0m3 1h0m1-5h0m0 2h0m1 1h0m1-2h0m2 1h0m0 3h0m1 0h0m1-5h0m2 0h0m0 3h0m3-1h0m1 3h0m1-3h0m1-2h0m4 4h0m1-4h0m0 4h0m2 0h0m1-2h0m1 3h0m1-2h0m1 2h0m3-4h0m0 2h0m2 1h0m1-2h0m1 1h0m5 2h0m1-4h0m1 1h0m1 3h0m3-4h0m2 1h0m0 2h0m2-3h0m2 3h0m1-2h0m1 0h0m3 0h0m5-2h0m1 3h0m1 1h0m5-2h0m2-2h0m3 6h0m0 2h0m-7-2h0m-4 0h0m0 5h0m-2-5h0m-2 1h0m-3-1h0m-1 1h0m-1-1h0m-2 2h0m-4 3h0m-2-2h0m-2-2h0m-2 1h0m-3 2h0m-1-3h0m-1 3h0m-1-2h0m-4-2h0m0 2h0m-5 0h0m0 3h0m-1-1h0m-1-2h0m-1-2h0m-1 1h0m-1 3h0m-1-1h0m-2-2h0m-1 3h0m-2-4h0m0 3h0m-1-2h0m-1 2h0m-1-3h0m0 5h0m-1-1h0m-2-4h0m0 2h0m0 2h0m-1-1h0m-2-1h0m-1-2h0m0 5h0m-2-3h0m-1-2h0m-2 1h0m0 2h0m-1 1h0m-1-3h0m0 2h0m-2-2h0m0 3h0m-2-3h0m-1 1h0m-1 3h0m-1 0h0m-1-5h0m-2 1h0m-1 4h0m-1-3h0m-2-2h0m-2 5h0m-1-2h0m-1 1h0m-1 1h0m-1-1h0m-2-3h0m0 1h0m-1 3h0m-2 0h0m-2 0h0m-1-2h0m-1-2h0m0 3h0m-2 1h0m-1-4h0m0 3h0m-3-2h0m-2 2h0m-4 1h0m-2-4h0m0 3h0m-1-4h0m-1 3h0m-3-1h0m-2 0h0m-3 1h0m-3-1h0m-1 3h0m-1-1h0m-3-4h0m-1 1h0m-1 3h0m-1-1h0m-2-2h0m-2 2h0m-1-3h0m0 2h0m-1 3h0m-1-3h0m-1 3h0m-2-2h0m-1-2h0m-2 0h0m-1 2h0m-3-2h0m0 1h0m0 2h0m-2-1h0m-5-3h0m4 7h0m0 1h0m3 0h0m0 1h0m2-3h0m2 0h0m0 2h0m3 0h0m1 2h0m1 1h0m3-2h0m1 2h0m3-2h0m0 2h0m2-3h0m0 1h0m2 1h0m1-4h0m1 0h0m0 2h0m4 3h0m2-5h0m1 1h0m2-1h0m0 2h0m2 0h0m0 2h0m1-3h0m2 1h0m0 3h0m1-4h0m2 4h0m3-4h0m3-1h0m0 2h0m3-2h0m3 3h0m0 2h0m5 0h0m3-3h0m5 1h0m1-1h0m1-2h0m1 3h0m0 2h0m1-4h0m1 0h0m1 2h0m1-1h0m1 3h0m1-4h0m1 3h0m0 1h0m1-3h0m2-1h0m0 3h0m2 1h0m1-3h0m1-1h0m2 1h0m1-1h0m0 2h0m1 2h0m1-5h0m0 3h0m1-1h0m0 3h0m1-3h0m1-1h0m0 4h0m1-5h0m1 4h0m1 1h0m2-5h0m2 0h0m1 2h0m0 3h0m2-3h0m1-2h0m1 5h0m1-5h0m1 3h0m2-3h0m0 4h0m1 1h0m1-1h0m2 1h0m1-4h0m0 1h0m1 1h0m2 2h0m2 0h0m1-3h0m1 2h0m1-3h0m1 1h0m2 1h0m3 1h0m2-1h0m2-3h0m6 4h0m13 0h0m6 0h0m4 7h0m-10-2h0m-10-3h0m-4 2h0m-5 2h0m-7-4h0m-5 3h0m-1-2h0m-2 1h0m0 2h0m-1-4h0m0 5h0m-1-2h0m-1-3h0m0 2h0m-2-2h0m-1 4h0m0 1h0m-1-3h0m0 1h0m-3-3h0m-1 3h0m-1 1h0m-1-3h0m0 1h0m-2 2h0m-1 1h0m-2-2h0m0 2h0m-1-5h0m-1 2h0m-2 2h0m-2-1h0m-1-3h0m-1 3h0m0 2h0m-4-5h0m0 5h0m-2-3h0m-1 3h0m-2-4h0m0 3h0m-1-2h0m-1-2h0m0 4h0m-1-1h0m0 2h0m-1 0h0m-1-2h0m-1-2h0m-1 3h0m-1 0h0m0 1h0m-2-2h0m-1-2h0m0 2h0m0 2h0m-2-3h0m-3-1h0m-2 3h0m-2 0h0m-1-1h0m0 2h0m-3-4h0m-1 4h0m-1-1h0m-3 0h0m-4 0h0m-3-3h0m-3 2h0m-3-1h0m0 3h0m-1-1h0m-1-3h0m-1-1h0m0 5h0m-1-3h0m-4 3h0m-6 0h0m-5-4h0m0 2h0m-3-3h0m-2 1h0m0 1h0m-2-2h0m0 5h0m-2-1h0m-1 0h0m-2 0h0m0 1h0m-5-1h0m3 7h0m1-4h0m3 1h0m1-1h0m1 4h0m3-4h0m3 2h0m3-2h0m0 4h0m2 0h0m3 0h0m2-4h0m2 0h0m2 3h0m2-4h0m3 4h0m7-3h0m4 3h0m7-2h0m7-2h0m0 2h0m1 3h0m1-2h0m1-1h0m1 3h0m1-4h0m1 2h0m2 1h0m1-3h0m2 3h0m2-1h0m1-2h0m3 4h0m1-2h0m1-2h0m1 3h0m2-4h0m0 2h0m0 2h0m1 1h0m1-4h0m1 3h0m2-3h0m0 2h0m4 0h0m1 2h0m1-3h0m1-1h0m0 3h0m1 1h0m3 0h0m1-2h0m2-2h0m0 4h0m1-1h0m1-2h0m2-2h0m0 4h0m2-2h0m1 1h0m2-1h0m0 3h0m1-5h0m1 3h0m0 1h0m1-2h0m2-2h0m1 3h0m2-1h0m1 0h0m41-1h0m5 1h0m-2 5h0m-4 0h0m-2 4h0m-13-3h0m-24 3h0m-1-5h0m0 4h0m-3 1h0m-2-4h0m0 4h0m-1-1h0m-3-4h0m-2 4h0m-1-4h0m-2 3h0m-2 0h0m-1 1h0m-1 1h0m-1-4h0m0 2h0m-2 1h0m-2-3h0m-1 3h0m-1 0h0m-2-3h0m-1 2h0m-2-3h0m0 3h0m-3-2h0m-1-1h0m-2 1h0m-3 3h0m-2 1h0m-1-2h0m-1-1h0m0 3h0m-2-4h0m0 3h0m-1-4h0m-1 4h0m-1-3h0m-1 0h0m-2-1h0m-2 1h0m0 1h0m-1 2h0m-1 0h0m-2-3h0m0 3h0m-3-1h0m-1-3h0m-1 5h0m-4-3h0m0 2h0m-5-2h0m-2 0h0m-2-2h0m-2 3h0m0 2h0m-2-5h0m-1 2h0m0 2h0m-1-1h0m0 2h0m-3-2h0m-4 1h0m-2-4h0m0 3h0m-1-2h0m-2 2h0m0 2h0m-1-5h0m-2 2h0m0 2h0m-1-4h0m-1 5h0m-1-3h0m0 1h0m-2 0h0m-3-1h0m-1-2h0m0 1h0m-2 2h0m-2-1h0m-2 0h0m-2 1h0m2 4h0m2-1h0m3 0h0m0 3h0m2 0h0m0 2h0m1-2h0m2-3h0m0 4h0m1-3h0m3 2h0m4 0h0m1-2h0m1 4h0m1-5h0m2 1h0m0 1h0m0 3h0m3 0h0m2-3h0m2 1h0m0 2h0m2-2h0m2 0h0m2-2h0m2 3h0m2-3h0m1 3h0m5-2h0m2-2h0m0 4h0m3-1h0m1 2h0m1-4h0m0 2h0m2-1h0m0 3h0m2 0h0m3-2h0m2-3h0m1 4h0m1-2h0m1 3h0m1-5h0m0 2h0m1-1h0m2 0h0m1 0h0m0 4h0m1-1h0m2-4h0m2 1h0m0 3h0m3-2h0m2 3h0m1-3h0m3 0h0m0 3h0m1-5h0m1 4h0m1-4h0m0 2h0m2 3h0m1-2h0m2-2h0m3 0h0m3 1h0m1 1h0m1-3h0m4 3h0m4-2h0m18-1h0m18 1h0m3-1h0m7 3h0m5 0h0m255-3h0m-261 11h0m-1-3h0m-7-2h0m-3 3h0m-3-3h0m-20 5h0m-15-2h0m-7 0h0m0 2h0m-2-5h0m-1 5h0m-1-2h0m-2-2h0m0 1h0m0 2h0m-5-3h0m-2 0h0m-1-1h0m0 4h0m-3-4h0m-1 0h0m-1 2h0m-1 1h0m-1-3h0m0 4h0m-2-3h0m-4 1h0m-2 1h0m-1-3h0m-1 4h0m-2-1h0m-1-2h0m0 2h0m-3-2h0m0 3h0m-3-4h0m0 2h0m-1 2h0m-3 0h0m-3 0h0m-2-3h0m-2 3h0m-2 0h0m-3-1h0m-4-3h0m-1 3h0m-1 2h0m-1-2h0m-2 2h0m-4 0h0m-2-4h0m-4 3h0m-2 0h0m-2-3h0m0 4h0m-2 0h0m-1-5h0m0 3h0m-2-2h0m0 3h0m-2-2h0m-1-1h0m-1 4h0m-1-1h0m-2-1h0m-2 1h0m5 3h0m3 0h0m0 3h0m1-2h0m1 1h0m0 2h0m1-4h0m4-1h0m2 3h0m3-1h0m1-2h0m0 3h0m2 0h0m0 2h0m2-5h0m1 5h0m1-3h0m2 1h0m0 2h0m1-3h0m2 1h0m0 2h0m2 0h0m1-3h0m0 1h0m5 0h0m5-3h0m1 1h0m0 3h0m3-4h0m0 5h0m5-4h0m2 2h0m2-2h0m0 1h0m0 3h0m2-2h0m2-2h0m0 1h0m0 2h0m2-3h0m1 2h0m3 2h0m4-4h0m0 2h0m0 2h0m1-3h0m6-2h0m7 1h0m3-1h0m0 3h0m0 2h0m1-4h0m1 1h0m0 3h0m1-2h0m3-1h0m2 1h0m3-2h0m2 1h0m11 2h0m2 1h0m5-2h0m15 1h0m10-1h0m9 1h0m236-3h0m6 2h0m7-2h0m13 0h0m14 2h0m-3 5h0m-9 2h0m-25-4h0m-248 2h0m-9 2h0m-15 1h0m-6-5h0m-3 5h0m-3-3h0m-12-2h0m-1 1h0m0 3h0m-2-4h0m-1 1h0m-2 2h0m-1-2h0m-1 0h0m-22 0h0m-1 2h0m-2-3h0m-5 0h0m0 2h0m-1 3h0m-1-4h0m-1 3h0m-1-3h0m-3 1h0m-2-1h0m0 4h0m-2-3h0m0 3h0m-4-2h0m-1-2h0m-1 4h0m-1-2h0m-1-2h0m0 4h0m-2-1h0m-3-4h0m-2 1h0m0 3h0m-2-1h0m-2 0h0m0 1h0m-1 1h0m-1-4h0m-1 2h0m-2-1h0m-1-1h0m0 2h0m-1 2h0m-2-2h0m-1-2h0m-1 3h0m-1-2h0m-3-1h0m-1 4h0m2 2h0m3-1h0m1 3h0m4 2h0m1-4h0m0 3h0m1-4h0m1 2h0m0 3h0m1-4h0m1 2h0m1-1h0m1-2h0m1 3h0m0 2h0m1-4h0m1 3h0m2-4h0m0 3h0m1-1h0m0 3h0m1-5h0m4 3h0m2 1h0m1 1h0m1-3h0m1-2h0m5 2h0m1 2h0m1-1h0m1-3h0m2 2h0m1-2h0m2 3h0m2-3h0m29 0h0m1 2h0m1-2h0m0 5h0m1-3h0m0 3h0m2-5h0m0 5h0m2-1h0m1-3h0m1-1h0m0 3h0m28-2h0m13 1h0m244 2h0m8-4h0m1 2h0m10-1h0m1 4h0m7 0h0m2-5h0m25 10h0m-10 0h0m-7-2h0m0 3h0m-4 0h0m-1-3h0m-2 2h0m-2-3h0m-1 3h0m-1 1h0m-5-2h0m-21-3h0m-239 4h0m-28-2h0m-5 0h0m-8-1h0m-1 1h0m-1-1h0m-1-1h0m0 4h0m-3-3h0m0 2h0m0 1h0m-3-2h0m-1-1h0m0 2h0m-2-2h0m0 3h0m0 1h0m-1-3h0m-1-2h0m-38 0h0m-6 0h0m0 5h0m-2-4h0m-2 0h0m-1-1h0m-1 2h0m0 2h0m-2-3h0m0 2h0m-1-2h0m-2 0h0m0 4h0m-1-5h0m0 2h0m-5-2h0m0 2h0m0 2h0m-2-4h0m-3 0h0m20 6h0m46 4h0m1-3h0m1 4h0m1-2h0m1-2h0m2 2h0m3-1h0m1-1h0m1 3h0m1-1h0m1-2h0m0 3h0m21-1h0m5 0h0m10 0h0m8-2h0m1 3h0m237-3h0m14 3h0m4-3h0m4 3h0m3-1h0m2 2h0m1-3h0m3 0h0m6 0h0m0 3h0m1-2h0m1-3h0m0 1h0m1 3h0m1-3h0m1 1h0m0 2h0m1 1h0m3-1h0m4-3h0m2 0h0m7 7h0m-6-1h0m-3-1h0m-1 2h0m0 2h0m-2-1h0m-2 2h0m-1-2h0m-1-1h0m-2-1h0m-2 2h0m-1-1h0m-2 2h0m-1-4h0m0 2h0m0 3h0m-2-4h0m0 3h0m-1-4h0m-4 4h0m-1-1h0m0 2h0m-2 0h0m-2-4h0m-1 3h0m-1-3h0m-2-1h0m0 4h0m-3-1h0m-1 2h0m-3-1h0m-9-3h0m-245 4h0m-1-5h0m0 3h0m-3-2h0m-3 2h0m-1 2h0m-1-3h0m-1-1h0m0 4h0m-2-1h0m-1 0h0m-1 1h0m-2-2h0m0 2h0m-1-3h0m-2 0h0m-1 1h0m0 2h0m-2-3h0m-7 0h0m-13 2h0m-1-2h0m-1 3h0m-2-2h0m-1 2h0m-1-2h0m-1 2h0m-1-4h0m0 2h0m-2-2h0m-1 2h0m0 1h0m-2 1h0m2 1h0m0 2h0m1 1h0m4 2h0m1-4h0m1 1h0m0 1h0m0 2h0m1-5h0m2 5h0m1-5h0m1 2h0m0 3h0m1 0h0m1-3h0m3 3h0m1-4h0m2 2h0m3 0h0m0 2h0m2 0h0m4-3h0m6 2h0m1 1h0m2 0h0m2-5h0m2 5h0m5-2h0m2 0h0m1-2h0m1 1h0m1 2h0m242 1h0m1-2h0m7-3h0m9 1h0m0 2h0m1 2h0m2-5h0m3 4h0m6-2h0m1 2h0m1 1h0m1-5h0m2 5h0m1-3h0m0 3h0m1-4h0m1-1h0m1 3h0m1 1h0m2-1h0m1 2h0m1-4h0m2 4h0m3-4h0m0 4h0m3-5h0m1 2h0m2 3h0m1-3h0m2-1h0m3 4h0m4-5h0m4 10h0m-5-3h0m-2 1h0m-2 2h0m-1-4h0m0 2h0m-1 2h0m-2-2h0m0 1h0m0 2h0m-3-1h0m-2-4h0m0 5h0m-1-3h0m0 1h0m-2-3h0m0 3h0m-1 2h0m-3-1h0m-2-3h0m0 1h0m-2 0h0m0 2h0m-2-4h0m-3 3h0m-1 2h0m-1-3h0m-1-1h0m0 4h0m-1-1h0m-2-1h0m0 2h0m-2-2h0m0 2h0m-1-5h0m-2 5h0m-1-2h0m-1-1h0m-1-1h0m0 2h0m-4 0h0m0 2h0m-2-1h0m-4-2h0m-10 0h0m-234-1h0m-2 0h0m-4 1h0m0 2h0m-6-2h0m-3-2h0m0 2h0m0 3h0m-2-1h0m-4 0h0m-3-3h0m0 2h0m-2-1h0m0 2h0m-2-2h0m-1-2h0m-2 3h0m-1-3h0m-4 1h0m-1 3h0m-2-4h0m0 4h0m-2-2h0m0 2h0m-1-4h0m-3 4h0m-2 0h0m-2-3h0m-1 0h0m0 3h0m-3-2h0m0 3h0m-1-1h0m-2-3h0m-2 2h0m0 2h0m-2-1h0m-3-4h0m0 3h0m0 8h0m1-5h0m1 5h0m2-3h0m3 1h0m0 2h0m2-4h0m1 0h0m0 3h0m2-2h0m2 3h0m1-2h0m0 2h0m2-5h0m2 4h0m1-4h0m0 4h0m1-3h0m0 3h0m3-4h0m4 5h0m1-5h0m2 1h0m0 3h0m1-4h0m4 3h0m1-1h0m2-1h0m0 1h0m2 1h0m0 2h0m4-3h0m3 3h0m2-5h0m0 2h0m0 2h0m2-3h0m3 3h0m4-3h0m239 1h0m0 3h0m10-2h0m0 2h0m2-5h0m0 3h0m2-3h0m0 5h0m2-3h0m2 2h0m2-4h0m0 3h0m1-2h0m0 2h0m1 1h0m1-3h0m2 1h0m0 2h0m3-3h0m0 2h0m3 1h0m1-2h0m1 2h0m2-4h0m1 5h0m1-5h0m1 3h0m0 2h0m3 0h0m1-5h0m1 3h0m1-1h0m2 2h0m1-2h0m2-1h0m0 2h0m1 1h0m4-2h0m0 2h0m1-3h0m3 0h0m1 3h0m2-2h0m2 1h0m1-3h0m0 5h0m1-3h0m1 5h0m-3 1h0m-1 1h0m-1-2h0m0 3h0m-2-1h0m-3-1h0m-2 0h0m0 3h0m-3-2h0m-2 0h0m-1-1h0m-1 2h0m-2 1h0m-1-2h0m-2-1h0m-1-1h0m-2-1h0m-2 2h0m0 3h0m-3-4h0m-1 4h0m-1-3h0m-2-2h0m0 1h0m0 3h0m-3-4h0m-2 5h0m-2-3h0m-1 0h0m-1 3h0m-1-4h0m-2-1h0m0 4h0m-1 1h0m-3-3h0m-2 0h0m0 2h0m-2 1h0m-248 0h0m-2-5h0m-3 0h0m0 5h0m-1-2h0m-2 1h0m-1-4h0m-4 3h0m-4 1h0m-2-4h0m-1 4h0m-3-2h0m-1 1h0m0 1h0m-3 0h0m-1-4h0m-1 4h0m-4-2h0m-2-1h0m0 4h0m-1-3h0m-4-2h0m0 4h0m-1-2h0m-1 3h0m-6-1h0m-1-1h0m-2 1h0m-1 1h0m-2-4h0m-1-1h0m-1 3h0m-2 0h0m-1 1h0m-2-2h0m-4 7h0m4 1h0m1-1h0m2 0h0m3-2h0m4 0h0m1 3h0m1-4h0m1 3h0m0 1h0m1-4h0m2 0h0m0 2h0m2 0h0m0 1h0m2 2h0m1-5h0m2 0h0m0 4h0m4-3h0m4 3h0m1-3h0m1 2h0m1-3h0m0 4h0m4 1h0m3-3h0m4-1h0m0 4h0m1-3h0m2-2h0m1 1h0m2 1h0m1-2h0m1 3h0m0 2h0m2-4h0m2 0h0m1 4h0m1-2h0m1-2h0m249 0h0m2-1h0m1 2h0m1 2h0m3 0h0m2-2h0m3-1h0m1 1h0m0 2h0m1-2h0m1 1h0m2-3h0m0 3h0m1-3h0m0 2h0m2-1h0m0 2h0m3-2h0m1 0h0m0 3h0m3 0h0m1-3h0m1 1h0m7-2h0m0 2h0m3 2h0m1-4h0m0 3h0m1-1h0m0 3h0m1-5h0m2 1h0m0 2h0m2 2h0m1-3h0m1 2h0m2-4h0m2 0h0m0 2h0m2 3h0m2-2h0m-2 4h0m-2 0h0m-1 1h0m-1-2h0m-1 0h0m0 5h0m-2-4h0m0 2h0m0 2h0m-2-5h0m0 5h0m-1-2h0m0 2h0m-1-5h0m-3 2h0m0 3h0m-1-5h0m-2 1h0m0 4h0m-2-5h0m0 4h0m-1-1h0m-2-3h0m-1 4h0m-1-2h0m-2-1h0m-1 3h0m-1-2h0m-2 3h0m-1-3h0m-2 2h0m-2-4h0m0 2h0m-2 2h0m-1-3h0m-1 3h0m-1-3h0m-1 2h0m-2 2h0m-1-4h0m-3 4h0m-1-3h0m-3-2h0m-7 3h0m-247 1h0m-1-3h0m0 4h0m-3-2h0m-1-1h0m0 2h0m-1 1h0m-2 0h0m-1-5h0m0 2h0m0 3h0m-1-5h0m-1 4h0m-2-3h0m-1 3h0m-2-1h0m0 1h0m-2-4h0m-1 5h0m-1-1h0m-2-1h0m-3 2h0m-1-3h0m-2 1h0m-1-2h0m0 4h0m-1-5h0m0 2h0m0 3h0m-4 0h0m-1-3h0m0 3h0m-2-1h0m-3-4h0m-1 3h0m-3 2h0m-1-4h0m0 1h0m-1 2h0m-1-4h0m0 2h0m-2 3h0m-1-1h0m-1-2h0m-1 2h0m-2-3h0m0 3h0m-2 0h0m-1 1h0m-1-2h0m-3 0h0m-1 5h0m1-1h0m3 0h0m1 2h0m1-2h0m1 2h0m2-2h0m0 3h0m2-2h0m3 3h0m1-3h0m2-1h0m0 3h0m2-3h0m2 1h0m2-2h0m0 4h0m1-2h0m2-2h0m0 1h0m0 2h0m4-1h0m4-1h0m0 3h0m1-1h0m2 1h0m1-2h0m2-2h0m1 4h0m2 0h0m2-1h0m2 1h0m3-1h0m1 0h0m0 2h0m1-4h0m2 3h0m1-3h0m1 2h0m2-3h0m2 3h0m1-2h0m2-1h0m239 0h0m17 4h0m3-4h0m0 1h0m1-1h0m1 5h0m3-2h0m2-1h0m2 1h0m0 2h0m1-4h0m1 2h0m2-2h0m0 2h0m1 1h0m4-3h0m1 2h0m0 2h0m1-4h0m1 2h0m2-2h0m0 2h0m1 2h0m1-3h0m1 1h0m1 2h0m1-5h0m1 4h0m1-2h0m3 0h0m1-1h0m0 4h0m1-5h0m4 3h0m1-2h0m-2 6h0m-1-1h0m-3 1h0m-1 2h0m-2 0h0m-1-3h0m-1 2h0m-1-1h0m-2 1h0m0 2h0m-1-4h0m0 5h0m-2-4h0m0 3h0m-1-4h0m0 3h0m-1-2h0m-2 2h0m-1-1h0m-1-1h0m-1 2h0m-1-1h0m-1 1h0m-2-1h0m-1-2h0m-3 1h0m0 1h0m-3 0h0m-4 1h0m-13-1h0m-2 0h0m-245 2h0m-2-3h0m-2-1h0m0 4h0m-4-2h0m-1-2h0m-1 4h0m-1-2h0m-3 2h0m-1 1h0m-1-3h0m-1-2h0m-1 3h0m-3-3h0m-3 1h0m0 1h0m-1 1h0m0 2h0m-2-5h0m0 1h0m-1 4h0m-1-4h0m0 2h0m-2-2h0m0 4h0m-3-1h0m-1-1h0m-1 1h0m-2 0h0m-2-1h0m-2-2h0m0 3h0m-6 0h0m-1-3h0m-1 2h0m0 2h0m-1 0h0m-1-1h0m-2-4h0m-1 0h0m0 3h0m-2 1h0m-2-3h0m-1 3h0m-3 0h0m2 5h0m1-2h0m2 4h0m3-4h0m1 3h0m3-2h0m1 2h0m0 1h0m2-1h0m2-2h0m0 2h0m1-4h0m1 1h0m0 4h0m3-5h0m3 2h0m2 0h0m0 3h0m3-1h0m3-1h0m3-1h0m1-2h0m0 5h0m2-3h0m1 3h0m4-5h0m3 1h0m1 0h0m3 2h0m1-2h0m0 4h0m2-5h0m0 2h0m2 0h0m0 2h0m1-1h0m2 2h0m1-2h0m276-2h0m2 0h0m4-1h0m3 0h0m1 1h0m4-1h0m3 3h0m1-1h0m5 9h0m-11-5h0m-6 4h0m-4-1h0m-2-1h0m-23-2h0m-258 1h0m-3-1h0m-2 0h0m-2 0h0m-3 0h0m-15 4h0m-4-2h0m-5 1h0m-3-2h0m-1-1h0m0 5h0m-1-4h0m-3 3h0m-1-2h0m-4-1h0m8 5h0m0 2h0m4-1h0m0 2h0m5-2h0m316 0h0"/>
</g>
<rect x="40.4" y="11.3" width="571.5" height="568.3" fill="none" stroke="#000" stroke-width="2.65"/>
<text class="pl" x="46.5" y="54.5">a</text>
<text class="lab" x="254" y="161.2">HSC</text>
<text class="lab" x="174" y="293.1">CMP</text>
<text class="lab" x="89.2" y="475.8">GMP</text>
<text class="lab" x="493.4" y="65.6">B</text>
<text class="lab" x="430.5" y="174.8">Pre-B</text>
<text class="lab" x="438.2" y="268.7">CLP</text>
<text class="lab" x="314" y="402.2">NK</text>
<text class="lab" x="483.4" y="411.4">CD4</text>
<text class="lab" x="345.2" y="515.3">CD8</text>
<!-- panel b -->
<g transform="scale(.5)" fill="none" stroke-linecap="round" stroke-width="4.8">
<path stroke="#053061" d="M1503 629h0m7 6h0m-4 0h0m-17-3h0m3 5h0m2 3h0m1-3h0m0 2h0m4-1h0m0 2h0m1 0h0m8-4h0m4 4h0m1-2h0m2 3h0m8 4h0m-3 1h0m-5-4h0m-3 4h0m-1-1h0m0 1h0m-2-2h0m-6-2h0m-1 4h0m-2-3h0m-5 3h0m0 1h0m-1-5h0m0 4h0m-6-3h0m-30 4h0m5 2h0m1 2h0m20-3h0m2 1h0m2-1h0m0 2h0m0 3h0m5-2h0m3 2h0m1-2h0m4-3h0m0 2h0m2 1h0m4-3h0m0 5h0m2-2h0m5-3h0m1 1h0m2 2h0m2 2h0m2-4h0m3-1h0m2 8h0m-7 3h0m-2-3h0m-11 0h0m-4-1h0m-1 4h0m-1-2h0m0 2h0m-5-2h0m-2-3h0m-1 3h0m-5-2h0m-3 4h0m-4-3h0m-14-1h0m-3 3h0m-2-2h0m-5 3h0m-1-5h0m-1 2h0m6 8h0m4-3h0m3 3h0m3-2h0m1 2h0m3 0h0m2-4h0m2 0h0m3 1h0m5 1h0m1 3h0m2 0h0m4-3h0m4 2h0m2 1h0m2-4h0m2-1h0m7 0h0m0 2h0m6-1h0m2 4h0m2 0h0m2-4h0m3-1h0m1 5h0m2-5h0m4 1h0m10 7h0m-4-1h0m-10 3h0m-1-3h0m-2 3h0m-2 0h0m-1-2h0m-2 0h0m-3-1h0m-1 4h0m-3 0h0m-4-3h0m-6 1h0m-5-1h0m-8-2h0m-3 0h0m-12 1h0m-2 0h0m-2 0h0m-5 2h0m-2 5h0m4 3h0m2-5h0m2 5h0m12-3h0m3-1h0m1-1h0m8 1h0m5-1h0m2 0h0m6 3h0m1-2h0m1 4h0m3-3h0m3-1h0m2 4h0m9 0h0m3-2h0m1 2h0m3-3h0m3 0h0m1 2h0m3 1h0m1-2h0m3-1h0m3 0h0m2 3h0m6 1h0m0 4h0m-12-4h0m0 5h0m-1-4h0m-6 2h0m-1 1h0m-3 0h0m-8 0h0m-4-4h0m-1 3h0m-1-2h0m-2 2h0m0 2h0m-2 0h0m-1-5h0m-3 4h0m-2-1h0m-1 1h0m-9-3h0m-5-1h0m-14 2h0m-3 1h0m-11 0h0m-1-3h0m-2 4h0m-3 0h0m1 2h0m1 1h0m4 1h0m3-1h0m4 1h0m9 3h0m3-5h0m9 4h0m2-4h0m9 5h0m2-4h0m1 2h0m3-2h0m1 4h0m1-2h0m1-3h0m2 3h0m2 2h0m9-4h0m3 0h0m3 0h0m1 3h0m4-2h0m2 1h0m11-3h0m7 1h0m10 4h0m4-3h0m1 2h0m6 1h0m1-1h0m4-2h0m5 3h0m1-2h0m3 1h0m4-1h0m8 1h0m-6 4h0m-3-2h0m0 5h0m-3-4h0m-4 2h0m-8 0h0m-1 2h0m-2 0h0m-1-4h0m-2 4h0m-1 0h0m-6-3h0m-3-2h0m-2 0h0m-8 2h0m-2-1h0m-4-1h0m-1 5h0m-2 0h0m-2-1h0m-2-3h0m-3 3h0m-4 1h0m-6-3h0m-2 0h0m-4 3h0m-6-1h0m-8 1h0m-2-3h0m-5 1h0m-3 0h0m-5-1h0m-10 0h0m-7 0h0m-13 3h0m-4-2h0m-9 8h0m9-3h0m1-1h0m2 2h0m11 1h0m3-2h0m1-2h0m1 0h0m3 4h0m4-2h0m1 2h0m6-2h0m2-2h0m8 4h0m3 0h0m2-2h0m5 1h0m1 1h0m5-4h0m9 3h0m1-2h0m5 2h0m0 2h0m1 0h0m5-5h0m2 5h0m1-2h0m1 1h0m3 0h0m8 1h0m4-2h0m2-3h0m4 2h0m3 1h0m3-2h0m1 2h0m0 2h0m3-1h0m2-1h0m3-3h0m5 3h0m2-3h0m1 3h0m2-2h0m0 4h0m6-1h0m13 7h0m-9-4h0m-11 4h0m-2-3h0m0 3h0m-3-5h0m-4 5h0m-2-3h0m-2 2h0m-4-3h0m-1 2h0m-1 1h0m-10-4h0m-2 4h0m-5-3h0m-2 3h0m-3 0h0m-10-4h0m-1 5h0m-5-3h0m-1 2h0m-1-4h0m-10 1h0m-3 2h0m-4-2h0m-2 0h0m0 2h0m-2 2h0m-2-4h0m-1 2h0m0 2h0m-4-2h0m-1-1h0m-6 0h0m-20-2h0m-4 4h0m-12-4h0m-2 0h0m-1 4h0m-6 0h0m3 5h0m3 2h0m1-3h0m3 2h0m10-4h0m4 3h0m3-3h0m1 5h0m6-5h0m0 4h0m2-1h0m1 2h0m8-2h0m4 0h0m10-2h0m1 1h0m2 2h0m4-4h0m0 1h0m2 4h0m5-4h0m3 4h0m13-5h0m3 0h0m4 5h0m1-5h0m4 4h0m14-2h0m3 3h0m3-1h0m6 1h0m1-2h0m4-2h0m4 4h0m1-1h0m3-3h0m2 3h0m4-4h0m1 5h0m9-2h0m0 2h0m2 2h0m0 3h0m-2 1h0m-2-4h0m-3 3h0m-4-3h0m0 4h0m-3-4h0m-8 4h0m-2 0h0m-1-5h0m0 3h0m-4 1h0m-2-4h0m-2 1h0m-3 0h0m-6 1h0m0 2h0m-3-3h0m-3-1h0m0 5h0m-12 0h0m-1-5h0m-1 3h0m-2 1h0m-5 0h0m-12-4h0m-1 4h0m-11-3h0m-1 2h0m-1-1h0m0 2h0m-5-1h0m-9-2h0m-3 1h0m-2 1h0m-10-1h0m-4-1h0m-2 1h0m-10-1h0m0 2h0m-3 1h0m-1-4h0m-2 1h0m-4 1h0m-4-1h0m-4 3h0m-3-2h0m-7 1h0m7 4h0m2 4h0m7-4h0m1 2h0m1 2h0m17-4h0m3 0h0m2 0h0m2 0h0m3 3h0m5 0h0m2 1h0m7-4h0m1 4h0m4-2h0m14-3h0m16 5h0m2-4h0m5 2h0m1 1h0m7-2h0m1-1h0m1-1h0m2 0h0m2 3h0m1 1h0m6 0h0m16-4h0m0 4h0m3-3h0m6 0h0m5 2h0m2-2h0m1 3h0m1-4h0m0 2h0m3 1h0m2 2h0m1-5h0m2 2h0m3 1h0m1-3h0m2 3h0m0 2h0m7 0h0m9 5h0m-6 1h0m-4-1h0m-2-1h0m-5-1h0m-5-1h0m-9 3h0m-3 1h0m-2-1h0m-6-4h0m-2 0h0m-5 2h0m-3 2h0m-3-3h0m-4-1h0m-8 4h0m-1 0h0m-6 0h0m-1 1h0m-3-1h0m-1-3h0m-5 3h0m-7-1h0m-4 1h0m-5-3h0m-1 4h0m-4-2h0m-6-1h0m-1 1h0m-2-3h0m-1 1h0m-1-1h0m-1 2h0m-5 1h0m0 1h0m-2-1h0m-2 0h0m-1-2h0m-3 1h0m-8 2h0m-1 1h0m-4-5h0m0 5h0m-3-2h0m-6-2h0m-10-1h0m-10 5h0m-1-4h0m-4 2h0m-4-3h0m-1 5h0m-1-5h0m-1 5h0m-1-1h0m-2-1h0m-4 3h0m3 3h0m7-2h0m14 1h0m16 3h0m3 0h0m1-5h0m2 3h0m2 2h0m3-4h0m0 3h0m3-1h0m1 2h0m1-2h0m4-1h0m8 1h0m3 0h0m0 1h0m4-4h0m0 4h0m2 0h0m2 0h0m1-4h0m12 4h0m1-4h0m3 3h0m2-2h0m0 4h0m2 0h0m1-5h0m3 0h0m2 3h0m2-2h0m4 2h0m3-2h0m0 3h0m1 1h0m4-5h0m1 2h0m1-2h0m0 3h0m5 2h0m3-3h0m3 1h0m5-1h0m4-2h0m6 1h0m7 0h0m2-1h0m2 5h0m2-5h0m2 0h0m8 1h0m0 1h0m1 2h0m4-4h0m2 0h0m2 5h0m2-4h0m6 3h0m7 0h0m8 3h0m-1 4h0m-7-3h0m-8-2h0m-1 5h0m-2-4h0m0 2h0m-1-2h0m0 4h0m-4-1h0m-1-3h0m-2 0h0m-3 3h0m-2 0h0m-1-4h0m-2 4h0m-2 1h0m-1 0h0m-2-2h0m-1 2h0m-8-3h0m-6 0h0m-1-1h0m-1 3h0m-1-2h0m-4 0h0m-1 2h0m-1-1h0m-13 2h0m-2-3h0m-1 3h0m-4-1h0m-4-1h0m-1-2h0m-1 2h0m-2-1h0m-3 2h0m-3-4h0m0 4h0m-2-2h0m-7 0h0m-2 3h0m-3 0h0m-2-3h0m-1 3h0m-6-4h0m-2 2h0m-1 2h0m-1-1h0m-5-3h0m-2 2h0m-2-2h0m-2-1h0m0 5h0m-3-4h0m-6 3h0m-2-2h0m-2-1h0m-4-1h0m-1 1h0m-1 4h0m-1-4h0m-3-1h0m-2 0h0m-6 2h0m0 2h0m-6 1h0m-2-4h0m-2-1h0m-4 2h0m0 1h0m-3-3h0m0 5h0m-2-2h0m-9-1h0m-3-2h0m-1 2h0m-4 8h0m5 0h0m2-3h0m0 3h0m4-3h0m4 2h0m1-3h0m1 3h0m2-2h0m0 2h0m2-1h0m3 2h0m6-3h0m3 1h0m15 1h0m1 2h0m2-4h0m1 3h0m8-4h0m4 4h0m6 0h0m12-2h0m4-1h0m3-1h0m1 3h0m7 0h0m7-2h0m11 2h0m5-3h0m3 2h0m1 1h0m1-2h0m1 3h0m2 1h0m3-3h0m0 2h0m3 1h0m2-5h0m1 5h0m6 0h0m4 0h0m4 0h0m16-5h0m1 2h0m2 3h0m2-3h0m4-2h0m1 3h0m2-1h0m2 0h0m11 0h0m6 1h0m9-1h0m5 0h0m4 0h0m4 8h0m-8-4h0m-2 0h0m-4 2h0m-3-1h0m-7 4h0m-4-3h0m-1-2h0m-7 1h0m0 1h0m-3 3h0m-1-2h0m-2 0h0m-4 2h0m-1-2h0m-2 0h0m-1 1h0m-1 0h0m-2-3h0m-1 2h0m-6 2h0m-1-1h0m-2 0h0m-1-2h0m-2 1h0m-2 2h0m-8-2h0m-3 1h0m0 1h0m-1-5h0m-2 2h0m-1-1h0m-2 2h0m-1 2h0m-5-3h0m0 3h0m-4-2h0m-1-1h0m-7 0h0m0 2h0m-3 1h0m-4-5h0m0 5h0m-2-3h0m-2-1h0m-2-1h0m-2 4h0m-2-3h0m0 3h0m-15 0h0m-5-2h0m-9 0h0m-1 3h0m-1-3h0m-5 0h0m-7 1h0m-3-1h0m0 2h0m-1-2h0m-3 2h0m-1-2h0m-2 0h0m-4-1h0m0 4h0m-6-1h0m-1-3h0m-7-1h0m-3 3h0m-4-1h0m-7 1h0m-2 2h0m-6 0h0m-3-3h0m0 2h0m-5 7h0m8 0h0m12-4h0m3 3h0m1-3h0m2-1h0m4 0h0m5 0h0m0 1h0m0 3h0m2-3h0m1 1h0m1 3h0m2-2h0m1 2h0m2-3h0m10 1h0m1-3h0m5 3h0m2-3h0m2 1h0m0 2h0m8 1h0m7 1h0m3-2h0m1-2h0m3 2h0m0 2h0m8 0h0m1-4h0m9 0h0m4 3h0m3 1h0m8-1h0m1 1h0m7-5h0m1 5h0m6-1h0m2-4h0m1 4h0m8-1h0m1-1h0m0 3h0m3 0h0m6-1h0m3 1h0m6-4h0m4 0h0m5 0h0m1 4h0m2-4h0m1 4h0m2-5h0m13 1h0m14 0h0m4 0h0m2 3h0m1-3h0m8 4h0m1-3h0m1 2h0m3-4h0m2 1h0m0 3h0m1-3h0m4 7h0m-11-1h0m-6 1h0m-1-2h0m-2 0h0m-2 1h0m-3 4h0m-4-2h0m-2-1h0m-2 2h0m-3 0h0m-1-2h0m-3 3h0m-5-3h0m-5 1h0m-5-1h0m-4 1h0m-4-3h0m-2 5h0m-1-4h0m-2 4h0m-3-1h0m-7 1h0m-1-3h0m-2 2h0m-2 0h0m-2 1h0m-4-2h0m-2 0h0m0 2h0m-6-2h0m-2-2h0m0 4h0m-2-3h0m-7-1h0m0 3h0m-1-1h0m-3 1h0m-3 0h0m-7-1h0m-3-2h0m-7 3h0m-3 1h0m-1-2h0m-3 1h0m-2-4h0m-10 1h0m-6 3h0m-4-2h0m-2-2h0m-3 0h0m-3 0h0m0 2h0m-2 3h0m-4-1h0m-6-4h0m-2 4h0m-1-2h0m-3-1h0m-3 2h0m-3 2h0m-2-4h0m-1 2h0m-2-3h0m0 3h0m-3 1h0m-2-3h0m-6-1h0m-1 4h0m-6 0h0m-2-3h0m-2-1h0m-4 4h0m-4-2h0m-2 2h0m-6 1h0m-1-1h0m3 3h0m6 4h0m2-2h0m2 2h0m8-5h0m5 2h0m0 1h0m2 2h0m1-5h0m0 3h0m3-2h0m4 3h0m5 1h0m2-1h0m1-2h0m2-1h0m0 2h0m3-3h0m1 3h0m12-1h0m5 0h0m9-2h0m10 4h0m1-2h0m4 0h0m1 2h0m2-2h0m5-1h0m4-1h0m4 3h0m4-1h0m2-2h0m2 1h0m2 2h0m4-1h0m19 3h0m3-4h0m6-1h0m0 3h0m2-2h0m0 3h0m4 0h0m1-1h0m1-3h0m1 0h0m1 3h0m4-3h0m4 1h0m5 2h0m13 1h0m2 0h0m8-4h0m1 1h0m2-1h0m2 2h0m3 2h0m2-2h0m1-2h0m6 5h0m9-5h0m3 3h0m1 1h0m1-3h0m5 3h0m6-3h0m3-1h0m0 5h0m-4 2h0m-1 1h0m-1-1h0m-4 3h0m-4-1h0m-11 1h0m-1-2h0m-1-2h0m-5 5h0m-6-4h0m0 2h0m-2-2h0m-6 0h0m0 4h0m-5-2h0m-1 1h0m-2-2h0m-4 1h0m-4-3h0m-5 0h0m-6 0h0m-6 1h0m0 4h0m-7-2h0m-5-3h0m0 1h0m-2 1h0m-2 0h0m-2-1h0m0 2h0m-1-1h0m-3-1h0m-1-1h0m-3 0h0m-5 3h0m-4-3h0m-6 0h0m-3 2h0m-4 2h0m-2-3h0m-3 1h0m-3 3h0m-9-2h0m-2 1h0m-6-3h0m-4 1h0m-8 0h0m-1-2h0m-4 3h0m-5-3h0m-8 4h0m-2 1h0m-1-2h0m-5-2h0m-5 0h0m-2-1h0m-2 4h0m-2 1h0m-1-3h0m-1 3h0m-6-1h0m-2-4h0m-1 3h0m-1-1h0m-3 0h0m-4 1h0m-7-3h0m-4 2h0m-5 0h0m-98 9h0m1-1h0m5-3h0m0 3h0m3-3h0m1 0h0m4 4h0m3-3h0m2 0h0m0 3h0m4-2h0m2-1h0m0 3h0m3-1h0m64-1h0m7 2h0m1-3h0m6 1h0m11 0h0m3 2h0m5-2h0m1-1h0m1-2h0m2 2h0m0 1h0m2 0h0m6-1h0m7-1h0m11 2h0m5-3h0m3 3h0m6-2h0m0 4h0m12-1h0m1-4h0m2 4h0m7-4h0m3 1h0m4 1h0m2-2h0m3 0h0m2 1h0m0 4h0m8-5h0m5 1h0m0 1h0m9 0h0m2 0h0m7-2h0m4 3h0m6 0h0m3 1h0m4 0h0m2 0h0m2-3h0m3 0h0m10 1h0m4 0h0m1 3h0m3-5h0m5 3h0m2 2h0m2-4h0m1 1h0m5 2h0m2-3h0m5 2h0m7-3h0m2 5h0m5-2h0m1-3h0m2 4h0m1-3h0m2-1h0m1 1h0m0 3h0m10-1h0m1 1h0m3 1h0m6-1h0m4 7h0m-5-4h0m-1 4h0m-7-4h0m-4 3h0m-2 0h0m-1-2h0m-3-1h0m-4 0h0m0 2h0m-4 1h0m0 1h0m-2-2h0m-1-2h0m-5 0h0m-4 3h0m-3-1h0m-2-1h0m-1-1h0m-8-1h0m-1 2h0m-6 3h0m-4-1h0m-2 1h0m-1-5h0m-3 1h0m-4 3h0m-12 1h0m-1-5h0m-2 0h0m0 4h0m-2-4h0m-2 2h0m-2-1h0m-1 4h0m-1-2h0m-4-2h0m-4-1h0m0 1h0m-8 2h0m-2-2h0m-6 0h0m-5-1h0m-9 4h0m-2-3h0m0 3h0m-16-1h0m-2 0h0m0 2h0m-1-5h0m-6 2h0m-3-2h0m-6 0h0m0 2h0m-4 3h0m-2-2h0m-8 2h0m-10-3h0m-1 2h0m-4-3h0m-1 1h0m-4-1h0m-6 0h0m-2 0h0m-5 0h0m-3 0h0m-2 2h0m-1-3h0m-2 4h0m-2 1h0m-13-4h0m-4-1h0m-5 0h0m-55 4h0m-9 0h0m-3-1h0m-2 2h0m-2-4h0m-4 1h0m-2 0h0m-1 0h0m-8 2h0m-5-2h0m-6 2h0m-2 7h0m3-1h0m2-3h0m8 2h0m4 2h0m4-1h0m3-4h0m5 3h0m8 2h0m1-4h0m0 4h0m5-5h0m1 2h0m0 3h0m2 0h0m2-1h0m5 1h0m50-2h0m1-2h0m5 3h0m6-3h0m2 1h0m2-1h0m0 3h0m1-2h0m9 1h0m0 2h0m3 0h0m2-5h0m7 1h0m1 3h0m2-4h0m2 4h0m4 1h0m3-2h0m2-1h0m8 1h0m1 2h0m2 0h0m1-3h0m2 0h0m3-2h0m0 3h0m0 2h0m4-3h0m2 1h0m14-3h0m8 3h0m3-3h0m5 1h0m2 1h0m8 1h0m5-1h0m6-2h0m12 1h0m4 2h0m1 2h0m6-4h0m0 4h0m4-5h0m3 2h0m6 0h0m15 1h0m4-2h0m1 2h0m0 2h0m12-5h0m4 4h0m9-3h0m4 2h0m9-2h0m1 1h0m2-2h0m2 3h0m0 2h0m4-4h0m4 0h0m5 3h0m15 4h0m-7-1h0m-1-1h0m0 3h0m-3 2h0m-8-4h0m-4 1h0m-2 1h0m-2 2h0m-3-1h0m-5 1h0m-3-3h0m-2-1h0m0 2h0m-1 2h0m-1-5h0m-1 2h0m-3 0h0m-1-2h0m-4 2h0m0 2h0m-1-4h0m-2 1h0m-1 3h0m-1 0h0m-2-2h0m-1-2h0m-1 2h0m0 3h0m-1-3h0m-1 2h0m-1 0h0m-1-1h0m-1-2h0m-1 3h0m-3-3h0m-2 3h0m-1-2h0m-2-1h0m0 4h0m-2-4h0m0 2h0m-6 1h0m-13-2h0m-2 3h0m-3-3h0m0 2h0m-3-2h0m0 3h0m-7-4h0m0 4h0m-1-1h0m-1-3h0m-1 1h0m-4 0h0m-1 1h0m-3 2h0m-1-1h0m-6-1h0m-2-3h0m-7 4h0m-7-2h0m-10-1h0m-1 2h0m-2-1h0m-1 1h0m-5-1h0m-18-1h0m-2 4h0m-3-1h0m-7-3h0m-1 3h0m-3 0h0m0 1h0m-7 0h0m-2-3h0m-8 1h0m-1-2h0m-4 2h0m0 2h0m-1-4h0m-1 2h0m-9-1h0m-5 0h0m0 2h0m-3-1h0m-1-3h0m-14 0h0m-4 2h0m-42 3h0m-3-1h0m-5 1h0m-1-5h0m-2 3h0m-1-3h0m-2 4h0m-1-2h0m-5 2h0m-7-2h0m-1-2h0m-3 0h0m-11 2h0m-3-1h0m-5 2h0m-2-1h0m-6 3h0m-4-3h0m-8 8h0m7-3h0m0 3h0m5-2h0m1-2h0m2 4h0m4 0h0m1-2h0m1-2h0m3 3h0m2-2h0m0 2h0m4-2h0m5 1h0m2-2h0m2 1h0m7-1h0m2 2h0m1-2h0m2 0h0m6 2h0m0 2h0m1-3h0m2 1h0m0 2h0m9-4h0m3 5h0m3-1h0m36-2h0m5 3h0m9-1h0m3-1h0m1-2h0m5 3h0m4-2h0m1-1h0m0 3h0m1 0h0m1-2h0m8-2h0m1 1h0m7 2h0m2 1h0m1-1h0m3-2h0m6 4h0m6-3h0m5 1h0m1 1h0m5-3h0m9 2h0m2 0h0m0 2h0m3-4h0m1 1h0m7-1h0m6 2h0m2 2h0m1-5h0m3 5h0m1-5h0m5 5h0m2-3h0m1 3h0m13-1h0m2-4h0m4 3h0m14 2h0m4-2h0m9-3h0m4 0h0m1 1h0m5 0h0m1 4h0m5-5h0m0 5h0m1-3h0m2-1h0m1 2h0m2-1h0m4 2h0m3 0h0m2-3h0m0 2h0m2-2h0m0 4h0m2-2h0m2-3h0m0 4h0m5-4h0m2 0h0m0 5h0m2-5h0m2 1h0m2 0h0m2 1h0m2 2h0m1-3h0m1 2h0m1 1h0m2-2h0m0 2h0m3 0h0m1 1h0m1-4h0m0 2h0m3 2h0m1-1h0m2 1h0m1-4h0m2 3h0m2-4h0m3 0h0m2 0h0m5 5h0m2-3h0m9 8h0m-6-3h0m-5 2h0m-11 2h0m-4-4h0m-2 1h0m-1 3h0m-1-1h0m-1-2h0m-3 0h0m0 2h0m-2-1h0m-2 1h0m-1-4h0m0 5h0m-6-5h0m-1 5h0m-1-5h0m-1 2h0m-1-1h0m0 3h0m-2 1h0m-1-4h0m-2 1h0m-2-2h0m0 2h0m-2-1h0m0 2h0m0 2h0m-3-1h0m-1-2h0m-1 0h0m-1 2h0m-3-4h0m-1 0h0m0 2h0m-2-2h0m0 2h0m-1 3h0m-4-1h0m-1-3h0m-2-1h0m-3 2h0m0 3h0m-1-3h0m-3 0h0m-5 3h0m-3-5h0m-1 2h0m-2 3h0m-2-2h0m-3-2h0m-1-1h0m-3 5h0m-1-3h0m-20-1h0m-3-1h0m-4 4h0m-1 1h0m-4-1h0m-3-1h0m0 2h0m-6-4h0m-2 3h0m-1-4h0m-2 0h0m-3 1h0m-3 1h0m-1 2h0m-1-3h0m-4 0h0m-1 4h0m-3-1h0m-11 1h0m-4-5h0m-6 2h0m-3 2h0m-4 1h0m-1-3h0m-4-2h0m-3 5h0m-2-4h0m-2 1h0m-2 1h0m-1-3h0m-4 3h0m-7 0h0m-3-3h0m0 4h0m-6 0h0m-3-1h0m-1-2h0m-3 3h0m-2 0h0m-2-4h0m0 4h0m-8 1h0m-8-1h0m-4-1h0m-44 1h0m-4 1h0m-3-5h0m-4 4h0m-11-4h0m-6 1h0m-3 0h0m-1 3h0m-13-2h0m-2-2h0m-2 3h0m-3 2h0m-4-1h0m-1-2h0m-2 0h0m-2-1h0m-2-1h0m-2 11h0m1-1h0m2-4h0m1 0h0m0 2h0m1-1h0m2 0h0m0 4h0m3 0h0m2-5h0m0 4h0m0 1h0m3-5h0m2 0h0m0 4h0m1-3h0m0 4h0m2-3h0m2 3h0m4-1h0m1-1h0m2-2h0m4 3h0m2-4h0m3 0h0m0 2h0m0 1h0m6-3h0m14 2h0m1 2h0m4-1h0m2-1h0m6-1h0m1-1h0m2 5h0m6-2h0m27-1h0m3-1h0m1 3h0m8-1h0m2 1h0m2 0h0m3-3h0m1 2h0m2-2h0m2 4h0m2-1h0m3-1h0m2-2h0m2 2h0m6-3h0m8 4h0m9-1h0m1-2h0m8 2h0m4-2h0m2 0h0m0 4h0m2-1h0m2-3h0m8 1h0m2 1h0m1-2h0m2-1h0m2 5h0m2 0h0m13-1h0m2 1h0m3 0h0m2-2h0m3 2h0m5-3h0m1-2h0m0 1h0m0 2h0m3-1h0m4-2h0m13 3h0m7 1h0m4 1h0m2-3h0m4 3h0m5 0h0m1-5h0m0 1h0m0 2h0m3 0h0m0 2h0m3-1h0m2-3h0m0 2h0m0 2h0m2-4h0m1 0h0m3 0h0m2 3h0m1-4h0m0 2h0m0 2h0m2-1h0m1-2h0m3 2h0m3 1h0m2 0h0m1 1h0m2-1h0m1-3h0m1 3h0m1-4h0m1 4h0m1-2h0m2-2h0m0 2h0m2-1h0m0 2h0m1-2h0m0 3h0m3-4h0m1 4h0m1-4h0m1 4h0m4-1h0m2-3h0m0 3h0m1 2h0m1-5h0m1 2h0m1-1h0m2 4h0m1-2h0m5-2h0m0 4h0m2-1h0m1-3h0m3 3h0m2 0h0m1-2h0m1-2h0m3 4h0m1-2h0m8-2h0m0 2h0m2-1h0m1 4h0m6-5h0m4 4h0m3-1h0m0 7h0m-12 0h0m-7-2h0m-6 0h0m-1-2h0m-2 0h0m0 2h0m-1 1h0m-1-3h0m0 2h0m-3-1h0m-1-1h0m0 4h0m-1-3h0m0 4h0m-6-3h0m-2 2h0m-2-3h0m-1 4h0m-1-5h0m-3 2h0m0 2h0m-2-2h0m-1-2h0m-4 0h0m0 5h0m-1-4h0m-2 0h0m0 2h0m0 2h0m-2-4h0m-1-1h0m-1 5h0m-1-5h0m0 2h0m-2-1h0m0 3h0m-1-4h0m-1 1h0m-2 4h0m-2-4h0m0 2h0m-5-2h0m0 4h0m-1-2h0m-1-3h0m-2 1h0m0 3h0m-2 1h0m-2-5h0m0 4h0m-2-4h0m0 3h0m-4 2h0m-3-1h0m-3-3h0m-1 1h0m-2 1h0m0 2h0m-4-2h0m-1 2h0m-2-2h0m-1 2h0m-7-4h0m-1 2h0m-2 2h0m-1-1h0m-3-3h0m-1-1h0m-3 1h0m-4 4h0m-3-2h0m-1-2h0m-1 1h0m-1 0h0m-2-2h0m-1 3h0m-3-3h0m-1 4h0m-6-2h0m-1 2h0m-2-1h0m-2-3h0m-4 5h0m-3-3h0m-1 1h0m-8 2h0m-2-3h0m-13 3h0m-2-3h0m-4-2h0m-2 2h0m-3-1h0m-5 2h0m-7-3h0m-2 0h0m-5 4h0m-13-3h0m-6 0h0m-5 2h0m-3-2h0m-14 0h0m-2 4h0m-5-1h0m-3 0h0m-4-2h0m-4 2h0m-18 1h0m-2-2h0m-4-1h0m-5-2h0m-7 4h0m-3-1h0m-10 2h0m-11-3h0m-18 3h0m-1 0h0m-2-4h0m-1 3h0m-1 0h0m-3-2h0m-3 2h0m-2-3h0m0 3h0m-3-4h0m-2 3h0m-6 5h0m4 3h0m4-3h0m0 2h0m4 1h0m2-4h0m3-1h0m2 0h0m5 1h0m6 4h0m2-3h0m2 0h0m1-2h0m2 2h0m0 3h0m2-1h0m5-3h0m5 3h0m14-2h0m8-1h0m4 1h0m0 3h0m2-5h0m25 0h0m5 0h0m0 4h0m7-3h0m9 0h0m10 4h0m8 0h0m1-5h0m1 2h0m4 2h0m4-2h0m1 3h0m6-4h0m2 4h0m2-4h0m1 3h0m3-1h0m2-1h0m1-1h0m3 0h0m5-1h0m3 4h0m8-2h0m2 2h0m2 1h0m1-2h0m6-2h0m1 2h0m12 2h0m3-3h0m1-2h0m6 2h0m4 0h0m3 0h0m6-2h0m2 0h0m6 0h0m0 3h0m5-3h0m5 3h0m4 0h0m3-3h0m3 3h0m1-3h0m1 3h0m1-3h0m5 3h0m1-2h0m1 2h0m0 2h0m2-4h0m3-1h0m3 5h0m1-4h0m4 4h0m2-4h0m1 3h0m1-4h0m0 1h0m2 2h0m1-2h0m0 3h0m2-2h0m0 2h0m1-3h0m1 0h0m2 2h0m1 2h0m3-3h0m1-1h0m2 4h0m1-5h0m1 4h0m1-2h0m1-2h0m0 4h0m2 0h0m2 0h0m3-3h0m0 4h0m2-4h0m2 1h0m0 2h0m2-2h0m1 2h0m1-4h0m0 5h0m1-2h0m1-1h0m1 0h0m2 1h0m1 2h0m3-2h0m1-2h0m0 4h0m2-5h0m2 4h0m4 0h0m2-2h0m1-2h0m2 0h0m1 2h0m3-2h0m0 3h0m8-3h0m3 3h0m1-2h0m6 0h0m2 1h0m-5 5h0m-2 2h0m-2-1h0m-3 1h0m-4 2h0m-1-3h0m-5-1h0m-4 1h0m-1 3h0m-1-4h0m-2 0h0m0 2h0m-9-2h0m-3 0h0m0 1h0m-2 0h0m0 2h0m-1-3h0m-1 4h0m-1-2h0m-2 1h0m-1 1h0m-5 0h0m-2-4h0m-1 3h0m-1-4h0m-1 4h0m-1 1h0m-1-3h0m-1-2h0m-2 4h0m-1-2h0m-2-1h0m-5-1h0m-1 5h0m-1-2h0m-2-2h0m0 2h0m-2-1h0m-2 0h0m-2 2h0m-1-3h0m-1 2h0m-2-3h0m0 4h0m-2-1h0m-1-3h0m-1 4h0m-2-1h0m-1-2h0m-2-1h0m0 2h0m0 2h0m-3 1h0m-2-5h0m-1 2h0m-1 2h0m-2 1h0m-1-5h0m0 3h0m-2-3h0m-4 1h0m-3 0h0m-4 0h0m-2 4h0m-1-4h0m0 2h0m-3 2h0m-1-1h0m-1-4h0m-1 4h0m-4-3h0m-1 4h0m-8-2h0m-8 1h0m-2 1h0m-3-3h0m-3 2h0m-5 1h0m-2-4h0m-6-1h0m0 2h0m-7 1h0m-5-2h0m-2 4h0m-3-2h0m-1-2h0m-1 0h0m0 2h0m-7-1h0m-1 3h0m-6-4h0m-4-1h0m0 5h0m-4 0h0m-1-3h0m-2 3h0m-9-4h0m-8 4h0m-2 0h0m-7-2h0m-5 2h0m-7-5h0m0 4h0m-6-1h0m0 2h0m-3-3h0m-5 1h0m-1 0h0m-3 1h0m-1-3h0m-2 4h0m-4 0h0m-1-3h0m-5 1h0m0 2h0m-2-5h0m-1 0h0m-3 0h0m-1 2h0m-10-1h0m-6-1h0m-2 2h0m-2-2h0m-2 5h0m-1-4h0m-12 4h0m-4 0h0m-2-3h0m-4-1h0m0 3h0m-1-2h0m-2-2h0m-9 0h0m0 3h0m-5-2h0m-3-1h0m-2 2h0m-2 3h0m-4-3h0m0 3h0m-3-3h0m-7 0h0m3 4h0m0 3h0m5 1h0m5-1h0m1-2h0m1 2h0m1-2h0m3 4h0m1-3h0m2 1h0m2-1h0m1-2h0m3 0h0m1 5h0m5-5h0m0 2h0m2 3h0m1-5h0m0 3h0m4-1h0m1-2h0m3 2h0m7 2h0m3-2h0m1 1h0m10-3h0m0 4h0m3-3h0m2 4h0m1 0h0m13-5h0m7 0h0m1 5h0m3-2h0m14-2h0m1 4h0m8-1h0m6-3h0m1 2h0m7 0h0m5-2h0m2 3h0m0 1h0m5 0h0m5-3h0m1-1h0m24 2h0m11-3h0m2 1h0m1 3h0m3-4h0m11 1h0m15 4h0m11-4h0m3-1h0m0 5h0m3 0h0m1-2h0m4 2h0m3-3h0m0 3h0m5 0h0m6-2h0m0 2h0m2-4h0m6-1h0m3 0h0m4 0h0m6 5h0m2-1h0m3-4h0m3 2h0m5-1h0m4 3h0m1-3h0m0 3h0m2 0h0m1-2h0m2 1h0m0 2h0m2-3h0m3 1h0m0 2h0m2-2h0m2-3h0m1 4h0m1 1h0m1-4h0m3 4h0m1-2h0m3 1h0m3-4h0m0 2h0m1-1h0m0 4h0m1 0h0m3-2h0m6-1h0m1 2h0m2-4h0m1 3h0m1-2h0m1 4h0m6-4h0m0 2h0m0 2h0m5-2h0m12-2h0m1 2h0m1-3h0m5 4h0m-5 2h0m-4 0h0m-3 3h0m-3 1h0m-2-2h0m-1 2h0m-4-4h0m-2 0h0m0 5h0m-2-1h0m-2-4h0m-1 4h0m-1-3h0m-5 3h0m-1 1h0m-2-1h0m-1-1h0m-1 2h0m-1-2h0m-1-3h0m-1 2h0m-3 2h0m-1-4h0m-3 2h0m-1 2h0m-1-4h0m-1 4h0m-1-3h0m-2 4h0m-1-4h0m-1 3h0m-1-3h0m-1 1h0m-2-2h0m0 4h0m-1-2h0m-1 3h0m-2-1h0m-1-4h0m0 2h0m-3-1h0m0 1h0m-2-2h0m0 4h0m-1-2h0m0 3h0m-4-4h0m0 3h0m-1-4h0m-1 3h0m0 2h0m-3-3h0m0 2h0m-3 0h0m-3-3h0m-1 2h0m-3 2h0m-2-5h0m0 2h0m0 2h0m-4-3h0m-1 2h0m-1 0h0m-1-1h0m-6 2h0m-3-2h0m-2-2h0m0 2h0m-3 1h0m-3-1h0m-9 3h0m-1-2h0m0 1h0m-2-2h0m0 3h0m-31-2h0m-4 0h0m-8 1h0m-3-4h0m-1 5h0m-4 0h0m-2-3h0m-11 1h0m-6 1h0m-4-1h0m-3-2h0m-3-1h0m-4 5h0m-4-3h0m0 1h0m-2-3h0m-1 2h0m-5 1h0m-1 2h0m-5-2h0m-4 2h0m-1-3h0m-2-2h0m-2 5h0m-6-5h0m-1 1h0m-1-1h0m-1 4h0m-1-1h0m-1-3h0m0 1h0m-5 0h0m-1 3h0m-1-1h0m-4-1h0m-2 3h0m-2-2h0m0 1h0m-1-3h0m-6 1h0m-1 3h0m-3-4h0m-8 2h0m-5 0h0m-5-2h0m-4 3h0m-4-4h0m-1 4h0m-3-2h0m-2 1h0m-1-3h0m-3 0h0m-2 5h0m-6-3h0m-1-1h0m-4 2h0m-2-3h0m-4 1h0m-4 1h0m-1 2h0m-7-4h0m-6 3h0m-1-2h0m-1 3h0m-1-2h0m-4 1h0m-4-1h0m0 3h0m-1-1h0m-1-2h0m-1 1h0m0 2h0m-4 6h0m4-1h0m1 1h0m1-4h0m1 2h0m8-2h0m1 3h0m5-4h0m1 5h0m2-5h0m1 2h0m2 1h0m6 1h0m1-3h0m1 2h0m1 1h0m1-1h0m6-3h0m10 1h0m0 2h0m2 1h0m2 1h0m7-1h0m2 0h0m4 0h0m1 1h0m4-3h0m0 3h0m2-3h0m1 2h0m3 1h0m1-4h0m2 4h0m1-1h0m3-4h0m0 3h0m1-2h0m5 2h0m1 1h0m2 1h0m1-5h0m9 3h0m11-1h0m2 1h0m3-2h0m4 0h0m2-1h0m2 0h0m2 2h0m3 0h0m1 2h0m2-1h0m2-3h0m6 0h0m2 0h0m0 3h0m6-2h0m1 2h0m4-1h0m5 3h0m3-3h0m4-1h0m3 3h0m3-1h0m2-1h0m0 3h0m6-1h0m1 0h0m3-4h0m6 3h0m7-3h0m3 5h0m11-5h0m16 5h0m1-2h0m2-3h0m1 2h0m3 0h0m0 1h0m5-3h0m1 1h0m0 2h0m8 2h0m6-4h0m1 1h0m2 0h0m0 2h0m1-4h0m1 3h0m0 1h0m4-3h0m0 4h0m2-5h0m2 0h0m1 5h0m1-3h0m4 0h0m1 1h0m0 1h0m1-4h0m1 3h0m1-2h0m2 0h0m0 2h0m1-1h0m1 3h0m3-1h0m1-3h0m1 1h0m2-2h0m0 2h0m1-1h0m7 2h0m1-2h0m3 0h0m5-1h0m0 4h0m2 1h0m2-2h0m1 1h0m1-2h0m1-1h0m1 3h0m2 0h0m1-2h0m1 2h0m2 0h0m5-2h0m3 2h0m3-2h0m15-2h0m2 1h0m3-1h0m-9 6h0m-1 4h0m-5 0h0m-2-4h0m-1 3h0m-2-3h0m-4 1h0m-1 2h0m-1-2h0m-4 1h0m-2-2h0m-4 3h0m-1-1h0m-1 1h0m-1-3h0m-4 5h0m-1-3h0m-1-2h0m-9 5h0m-6-5h0m-1 2h0m0 1h0m-2-3h0m0 3h0m-1 1h0m-1-4h0m-3 5h0m-1-1h0m-1-2h0m-1 0h0m-2-1h0m-1 2h0m-2-1h0m-3 0h0m0 3h0m-1-4h0m-2 0h0m-1 1h0m-1 0h0m-4-1h0m-3-1h0m0 1h0m-3-1h0m-1 3h0m-2 2h0m-1-2h0m-5-1h0m-7-2h0m-5 5h0m-25-1h0m-9-3h0m-4 2h0m-1-2h0m-1 2h0m-7-3h0m-2 2h0m0 3h0m-2-1h0m-4-4h0m-9 5h0m-3 0h0m-4-1h0m-1-3h0m-5 2h0m-9 0h0m-2-2h0m-4 2h0m-5-2h0m-2 2h0m-1 1h0m-6-3h0m-1 1h0m-10-2h0m-1 1h0m-8 0h0m-3-1h0m-1 3h0m-1 2h0m-4-5h0m-1 5h0m-13 0h0m-6-1h0m-5 1h0m-2-3h0m-3 0h0m-9 3h0m-6 0h0m-1-5h0m-2 3h0m-2 0h0m-1-1h0m-6 2h0m-6-1h0m-4-1h0m-5 3h0m-1-5h0m-2 3h0m-2-1h0m-2 2h0m-1-2h0m-1 2h0m-2-3h0m0 1h0m-1 2h0m-2-4h0m-1 2h0m0 3h0m-6-3h0m-8 3h0m-3-4h0m-2 4h0m1 4h0m1-1h0m1 2h0m1-4h0m2 4h0m2-1h0m1-3h0m3 5h0m1-3h0m3-1h0m0 4h0m1-4h0m3 3h0m3-2h0m2 2h0m1-2h0m2-1h0m3 0h0m4 1h0m5 2h0m2-1h0m2 1h0m5-4h0m6 5h0m6-1h0m5 0h0m3-4h0m2 0h0m3 3h0m2-2h0m2-1h0m2 3h0m3-3h0m0 4h0m2-2h0m2-2h0m6 1h0m2 3h0m2 1h0m5 0h0m1-5h0m2 2h0m25 1h0m3-2h0m4 2h0m2-1h0m3 1h0m2 2h0m2-3h0m1 1h0m1-3h0m2 4h0m3 1h0m1 0h0m2-4h0m2 3h0m3 1h0m1-2h0m1-2h0m10 4h0m5-4h0m3 0h0m2 2h0m2-3h0m6 0h0m3 3h0m11 0h0m2-3h0m8 2h0m3-2h0m1 1h0m4 0h0m4 4h0m6 0h0m7-4h0m3 2h0m3 0h0m3 1h0m1-4h0m3 2h0m4-1h0m3-1h0m12 2h0m3 1h0m1 2h0m1-4h0m2 2h0m1-3h0m2 1h0m2-1h0m1 3h0m0 2h0m3-4h0m3-1h0m0 5h0m2-2h0m1-3h0m1 1h0m0 3h0m1-2h0m6 1h0m4-2h0m4 2h0m1-3h0m4 3h0m1 2h0m11-3h0m3-2h0m-11 8h0m-1 2h0m-1-3h0m-1 2h0m-3-3h0m-5 3h0m0 1h0m-3-3h0m-1 2h0m0 2h0m-3-1h0m-5-1h0m-1-3h0m-2 1h0m-3 0h0m-4-1h0m0 4h0m-2 1h0m-1-5h0m0 2h0m0 2h0m-4 1h0m-1-1h0m-2-3h0m-1 2h0m-1-2h0m-1 2h0m-2-2h0m-4-1h0m0 5h0m-2 0h0m-2-5h0m-2 3h0m-1-2h0m-4 3h0m-7-2h0m-4 2h0m-2-4h0m-1 2h0m-3 3h0m-4-1h0m-2-1h0m-4-3h0m-2 0h0m-10 5h0m-2-2h0m-5-3h0m-5 0h0m-16 1h0m-2 0h0m-8 1h0m-12-1h0m-8 0h0m-3 0h0m0 4h0m-2-5h0m-4 5h0m-2-1h0m-5-4h0m-7 0h0m-3 3h0m-1 2h0m-2-3h0m-3-2h0m-2 0h0m-6 1h0m-6 0h0m-9 3h0m-6-4h0m-3 5h0m-17-5h0m-3 2h0m-9-1h0m-6 1h0m-1-1h0m-3 3h0m-4 0h0m-1-3h0m-11 1h0m-2-1h0m-3 4h0m-1-3h0m-2-2h0m-3 1h0m0 3h0m-2-2h0m-3-2h0m-3 0h0m-9 1h0m0 1h0m-2 3h0m-4-1h0m-2-2h0m-1 3h0m-3-3h0m-3-2h0m-1 6h0m1 2h0m6 2h0m2-3h0m2 3h0m12 1h0m3-2h0m2 2h0m4 0h0m11-3h0m7 2h0m1 1h0m3-5h0m3 5h0m6-5h0m0 2h0m4 0h0m1 2h0m1-4h0m3 5h0m4-1h0m2 0h0m2-1h0m2 1h0m2-3h0m11 1h0m0 2h0m11-4h0m4 2h0m14 3h0m3 0h0m6-3h0m0 3h0m4-1h0m2 0h0m5-3h0m9 2h0m7 2h0m1-5h0m1 1h0m0 3h0m8-2h0m3 0h0m4 2h0m3-3h0m0 2h0m2 2h0m1-2h0m2-2h0m5-1h0m1 3h0m3 0h0m5 0h0m1-3h0m2 3h0m2-1h0m3 0h0m6 0h0m5 0h0m1 3h0m7 0h0m1-5h0m1 3h0m1 2h0m5-2h0m3 2h0m2-5h0m1 1h0m1 4h0m5-3h0m1 3h0m3-4h0m8 0h0m0 1h0m1 3h0m1-3h0m3-1h0m2 0h0m5 2h0m3-1h0m2 1h0m2-1h0m5 2h0m2-1h0m1-2h0m6-1h0m3 1h0m3 1h0m2-2h0m0 3h0m1-3h0m2 0h0m0 4h0m3-4h0m3 2h0m1-2h0m4 0h0m0 3h0m4-1h0m1 2h0m3 0h0m1-4h0m-11 9h0m-2-2h0m-2 1h0m0 2h0m-6 0h0m-1-4h0m-6 5h0m-2-4h0m-8-1h0m0 3h0m0 1h0m-9-1h0m-2-1h0m-4 0h0m-2 1h0m-2-2h0m-3 0h0m-1 4h0m-1-2h0m-7 1h0m-7-3h0m-7 0h0m-7 0h0m-5 0h0m-11 4h0m-7-2h0m-22 1h0m-18-3h0m-2 1h0m-1 2h0m-22-4h0m-2 0h0m-3 1h0m-1 1h0m-5 0h0m-2 3h0m-1-4h0m-2 0h0m-1 2h0m-9-1h0m0 1h0m-3 0h0m-5-1h0m-4-2h0m-5 0h0m-2 2h0m0 3h0m-3-3h0m0 1h0m-3 1h0m-5-3h0m-1 2h0m-1-1h0m-1 2h0m-2-2h0m0 2h0m-2-4h0m0 3h0m-3 2h0m-1-2h0m-2-1h0m0 2h0m-2-1h0m-3 0h0m-1-1h0m-4 1h0m-6-3h0m-3 0h0m-7 4h0m-1-2h0m-1-2h0m0 3h0m-11 0h0m-2 0h0m-16-1h0m-7 4h0m22 0h0m7 0h0m4 1h0m1-1h0m1 3h0m1-3h0m21 4h0m1-1h0m1-3h0m1 4h0m2-3h0m3 1h0m1-1h0m2 4h0m1-4h0m1 3h0m2 1h0m1-4h0m2 0h0m5-1h0m6 1h0m3 1h0m6 1h0m3-3h0m11 1h0m15 0h0m32-1h0m0 1h0m2 2h0m2 2h0m6-4h0m0 4h0m6-5h0m11 1h0m1 2h0m1-1h0m21-2h0m4 3h0m7 2h0m1 0h0m2-1h0m5-3h0m12 4h0m4-4h0m1 3h0m1 1h0m3-4h0m2 1h0m1 1h0m4 1h0m3-4h0m3 0h0m4 0h0m6 2h0m7-2h0m2 1h0m0 2h0m4 0h0m4 1h0m1 0h0m4 2h0m-18 1h0m-3 1h0m-5-1h0m-3-1h0m-2 0h0m-4 3h0m-1-3h0m-9 3h0m0 2h0m-1 0h0m-5-4h0m0 2h0m-2-2h0m-4-1h0m-2 2h0m-1 2h0m-1-4h0m-1 1h0m-3 3h0m-15-3h0m-1-1h0m-1 4h0m-2 1h0m-3-5h0m-1 0h0m0 5h0m-1-1h0m-10 0h0m-1-3h0m-1 4h0m-4-5h0m-2 5h0m-5-1h0m-4 0h0m-2 0h0m-2 1h0m-2-1h0m-4 0h0m-2-3h0m-3-1h0m-106 0h0m113 8h0m2 2h0m5 0h0m6-2h0m6 1h0m1 2h0m1-1h0m1-2h0m0 3h0m5-1h0m1-1h0m3 0h0m5-2h0m2 0h0m1 2h0m0 2h0m3-1h0m1-4h0m0 4h0m3-2h0m2-2h0m2 2h0m6 2h0m6-1h0m3 0h0m4-2h0m6 2h0m5-3h0m1 5h0m8-3h0m3 2h0m-1 2h0m-2 1h0m-1 2h0m-2-3h0m-2 3h0m-5-3h0m-3 2h0m-1 3h0m-2-4h0m-1 0h0m0 2h0m0 2h0m-12-2h0m-6-1h0m-4 0h0m0 2h0m-4-1h0m-3-2h0m-2-1h0m0 1h0m0 4h0m-3-2h0m0 2h0m-5 0h0m-1-2h0m-6-2h0m-2 3h0m-3-1h0m-4 0h0m-3 0h0m-8 3h0m11 2h0m0 2h0m3-4h0m0 4h0m1-2h0m7 1h0m1-3h0m2 2h0m1-1h0m6 0h0m9 0h0m4 4h0m2-3h0m1-2h0m5 4h0m1-3h0m4 0h0m1 2h0m9 2h0m1-3h0m-3 4h0m-7 3h0m-3-3h0m-1 4h0m-2 1h0m-1-1h0m-2 1h0m-1-2h0m-2 2h0m-3-3h0m-3 3h0m-3-1h0m-3 0h0m-2-3h0m0 3h0m-11 0h0m-6-1h0m-2-1h0m-5 0h0m4 5h0m0 3h0m2 0h0m3 0h0m1-1h0m2-2h0m2 0h0m1-1h0m4 2h0m1 2h0m2-3h0m1 2h0m1-3h0m2 4h0m1-2h0m3 1h0m4-1h0m2 1h0m3-1h0m1 2h0m3 0h0m1-1h0m3 0h0m2 0h0m-5 3h0m0 3h0m-2-2h0m-2 1h0m-2 0h0m-6 2h0m-5-4h0m0 3h0m-3 2h0m-2-2h0m-2-2h0m-1 2h0m-3 1h0m0 1h0m-1-4h0m0 1h0m-4 1h0m-3-1h0m0 2h0m-1-4h0m-1 5h0m-2-4h0m-1 2h0m3 5h0m0 2h0m2-3h0m0 2h0m2 0h0m2-3h0m3 4h0m2 0h0m3-4h0m1 4h0m3 1h0m1-5h0m2 5h0m4 0h0m2-5h0m1 3h0m-10 3h0m-2 4h0m-3 0h0m-2 1h0m-2-4h0m-1 3h0m-4-3h0m-2 4h0m-3 0h0m-1-4h0m-1 0h0m-2 9h0m1-4h0m5 3h0m1-3h0m1 4h0m1-2h0m1-2h0m0 5h0m1-4h0m1 4h0"/>
<path stroke="#96c5df" d="M1746 340h0m5 0h0m13 1h0m42 5h0m-2 1h0m-3-3h0m-2 2h0m-1 1h0m-4 0h0m-2-1h0m-3 0h0m-2-1h0m-1-2h0m-6 2h0m-2 2h0m-4 0h0m-3-1h0m-2 0h0m-1-4h0m-1 5h0m-3-4h0m0 2h0m-3-1h0m0 3h0m-1-5h0m-1 1h0m-2 0h0m-2 4h0m-1-5h0m-2 5h0m-2 0h0m-3-5h0m0 3h0m-6 0h0m-3-3h0m-1 3h0m-2 0h0m-1 2h0m-2-1h0m-2 0h0m0 1h0m-11-5h0m-1 5h0m-5-3h0m-2-2h0m-1 5h0m-2-1h0m-1-4h0m0 5h0m-2-5h0m0 4h0m-2 1h0m-4-1h0m-4-2h0m-1-2h0m-5 5h0m-7 5h0m1-3h0m0 3h0m0 1h0m2-2h0m2-3h0m1 2h0m1 2h0m1-2h0m0 3h0m1-2h0m1-3h0m4 1h0m2 0h0m1 4h0m1-3h0m2-1h0m1 1h0m0 3h0m1-1h0m1-3h0m1 3h0m0 1h0m1-4h0m1 2h0m1-2h0m2 3h0m2-1h0m2 1h0m3-1h0m5 1h0m3-4h0m2 0h0m1 2h0m2 1h0m2-2h0m2 1h0m1 0h0m3-1h0m2-1h0m0 4h0m3 1h0m3-4h0m0 2h0m2 0h0m2 0h0m4-1h0m1 3h0m2 0h0m3-2h0m2 1h0m1 0h0m3-1h0m1-1h0m1 0h0m1 3h0m1-4h0m0 2h0m1 1h0m2 1h0m1-2h0m4-2h0m0 3h0m4 1h0m2 0h0m3-3h0m1-2h0m0 5h0m2-5h0m2 4h0m1 0h0m1-4h0m1 1h0m1-1h0m0 5h0m3-4h0m3 2h0m3 0h0m2-1h0m0 2h0m1-2h0m3 6h0m-1 3h0m-2-2h0m-1-2h0m-1 2h0m-2-2h0m0 2h0m-2-3h0m-1 3h0m-1-2h0m0 4h0m-2-3h0m-3-1h0m0 1h0m-2-2h0m0 3h0m-1-2h0m-2 0h0m-2 4h0m-2-3h0m-6 0h0m0 2h0m-5-3h0m-5 1h0m-3 2h0m-12-2h0m-2-1h0m-3 3h0m-2 0h0m-2-4h0m-1 3h0m-3 2h0m-1-5h0m-3 0h0m0 5h0m-5 0h0m-1-2h0m-3 1h0m-3-4h0m-1 4h0m-2-3h0m-1 0h0m-1 3h0m-4 1h0m-2-3h0m-1-2h0m0 4h0m-1 0h0m-1-3h0m-1-1h0m-2 3h0m-2-3h0m-4 1h0m0 3h0m-2-3h0m-2 2h0m-4 0h0m-1-2h0m-1 2h0m-1 2h0m-1-3h0m-3 1h0m-1 1h0m-2-1h0m-2 2h0m-1-4h0m0 4h0m-1-3h0m0 2h0m-2-3h0m-2 1h0m0 3h0m-2-2h0m-2 1h0m-5 7h0m2-1h0m1-2h0m1 3h0m1-2h0m1-1h0m0 3h0m1-5h0m0 3h0m2 1h0m1-2h0m6 1h0m0 2h0m2-4h0m0 4h0m1-2h0m1 2h0m4-5h0m6 4h0m1-3h0m1 1h0m1 3h0m1-5h0m1 2h0m4-1h0m0 3h0m2-2h0m0 1h0m1-2h0m2 0h0m2 0h0m2 1h0m2-2h0m3 0h0m2 4h0m2 0h0m2-4h0m2 2h0m4 1h0m3-3h0m0 4h0m8-4h0m2 5h0m1-4h0m4 4h0m1-4h0m2 3h0m2 1h0m2-3h0m1 0h0m0 3h0m1-5h0m0 4h0m2-2h0m2-2h0m1 4h0m1-3h0m3-1h0m1 1h0m1 1h0m3-2h0m1 4h0m2-4h0m1 3h0m1-2h0m1 3h0m6 1h0m3 0h0m4-3h0m4-2h0m1 1h0m0 3h0m3 0h0m12-4h0m4 8h0m-2-2h0m-3 2h0m0 2h0m-1-3h0m-2 2h0m-5-2h0m-14 1h0m-2-2h0m-5 5h0m-2 0h0m-4-2h0m-1-2h0m-4 1h0m-2-2h0m-4 5h0m-1-4h0m-9 0h0m0 2h0m-2 1h0m-2-1h0m-5-1h0m-2 2h0m-4-4h0m-2 0h0m-2 3h0m-3 1h0m-2-3h0m-3 3h0m-3-2h0m-7-1h0m-1 2h0m-1 2h0m-1-4h0m-4 4h0m-2-2h0m0 2h0m-1-5h0m0 2h0m-2-1h0m-1 2h0m-1-1h0m-1 3h0m-5-2h0m-1-3h0m-1 3h0m-1-3h0m-1 1h0m-1 3h0m-2-1h0m-2-3h0m-1 3h0m-3-1h0m-4 1h0m-1 1h0m-1-4h0m-2 3h0m-4-3h0m-1 5h0m-2-2h0m-2 1h0m-1-1h0m-1 2h0m-4 3h0m2 0h0m0 2h0m2-3h0m0 4h0m1-2h0m3 1h0m1-2h0m3 0h0m1-1h0m0 3h0m1-2h0m2-1h0m1 2h0m2 0h0m1-3h0m1 3h0m1-2h0m1 4h0m1-3h0m2 0h0m1 3h0m1-2h0m1-2h0m0 4h0m4-1h0m1 1h0m2-5h0m0 4h0m3 1h0m1-2h0m1-2h0m1 4h0m1-5h0m0 2h0m1 1h0m3-2h0m1 1h0m2 1h0m1 0h0m2 2h0m1-2h0m5 2h0m6-5h0m5 3h0m1-2h0m2 4h0m1-5h0m0 3h0m5 1h0m8 1h0m5-1h0m5-3h0m7 3h0m3-2h0m2 2h0m8 1h0m1-2h0m2 1h0m1-2h0m6-1h0m0 3h0m2-2h0m2 0h0m1-2h0m2 1h0m2 3h0m1-3h0m3 1h0m1 1h0m2-2h0m1 3h0m1-4h0m0 1h0m1 0h0m1 4h0m1-5h0m0 2h0m3-2h0m2 5h0m-1 4h0m-2-3h0m0 2h0m-2 1h0m-2-2h0m-1-1h0m-1 2h0m0 3h0m-6-4h0m-1 3h0m-3 0h0m-4 0h0m-1-4h0m-5 4h0m-4-2h0m0 2h0m-4-1h0m-2 1h0m-3-3h0m-30-1h0m-10 1h0m0 4h0m-3-3h0m-12-2h0m-1 3h0m0 2h0m-4-3h0m-1 3h0m-3-2h0m-1-2h0m0 3h0m-1 1h0m-1-4h0m-1 2h0m-2-2h0m0 4h0m-3-4h0m0 4h0m-6-5h0m0 2h0m0 3h0m-1-4h0m-1 3h0m-1-2h0m-1-1h0m0 2h0m-2-3h0m0 3h0m-1 1h0m-1-2h0m-1 2h0m-3-4h0m-2 0h0m-2 2h0m-3 0h0m-1 1h0m-2-2h0m-1 3h0m-1-4h0m0 5h0m-1-4h0m-3 3h0m-3-1h0m-1 2h0m-3 3h0m2-1h0m0 4h0m3-3h0m3-2h0m0 2h0m0 3h0m2-5h0m0 3h0m2-2h0m0 4h0m1-4h0m1 2h0m1 2h0m3-5h0m0 2h0m2 3h0m1-5h0m2 2h0m4-1h0m0 1h0m1-2h0m1 5h0m1-5h0m1 1h0m0 3h0m2-4h0m0 3h0m1-2h0m2-1h0m0 1h0m1 3h0m2-4h0m0 2h0m1 1h0m1-2h0m0 4h0m1-1h0m3-3h0m1 2h0m1-2h0m0 2h0m0 2h0m1-1h0m2-3h0m0 2h0m0 2h0m1 0h0m1-2h0m2-2h0m3-1h0m5 3h0m6 0h0m3-3h0m7 0h0m1 0h0m11 3h0m11-2h0m2-1h0m5 0h0m3 3h0m1-1h0m4-1h0m6 3h0m4-2h0m1-2h0m4 5h0m1-2h0m2-2h0m2 4h0m1-5h0m1 2h0m5 1h0m2-3h0m0 5h0m1-2h0m1 1h0m3-2h0m2-2h0m0 3h0m1-2h0m1 2h0m-4 6h0m0 2h0m-1-2h0m-3-1h0m-2 1h0m-6 1h0m-6-4h0m0 3h0m-5 0h0m-3-2h0m-6-1h0m-1 5h0m-2-2h0m-9-2h0m-5 0h0m-4 1h0m-4-2h0m-3 2h0m-1 3h0m-2-3h0m-2 1h0m-3-1h0m-1-2h0m-1 4h0m-2 0h0m-2-1h0m-5-3h0m-1 1h0m-1 2h0m-1-1h0m-3 1h0m-3 2h0m-1-5h0m-6 4h0m-2-4h0m-2 2h0m0 3h0m-3 0h0m-1-4h0m-1 4h0m-1-4h0m-1-1h0m-2 1h0m0 2h0m-3 1h0m-3-4h0m0 1h0m0 2h0m-2-3h0m0 2h0m-1-2h0m0 4h0m-1-1h0m-1 1h0m0 1h0m-1-2h0m-1-2h0m-1 3h0m-1-3h0m0 1h0m-1-2h0m0 4h0m-1 0h0m0 1h0m-2-1h0m-1-4h0m0 3h0m-1 2h0m-1-2h0m0 2h0m-2 0h0m-3-3h0m-1-1h0m-2 0h0m0 3h0m-1-4h0m-4 5h0m-3-4h0m0 3h0m-1-3h0m-1 2h0m-1-3h0m-1 4h0m-2-1h0m0 3h0m5 1h0m1 0h0m2 2h0m2 2h0m1-3h0m1 2h0m2-3h0m1 3h0m1-2h0m1 1h0m1 2h0m1-4h0m1 3h0m1-2h0m2 1h0m2-1h0m2 1h0m0 2h0m3-5h0m0 2h0m3 0h0m3-2h0m2 2h0m1 2h0m1-1h0m5-1h0m0 2h0m3 0h0m1-2h0m0 1h0m0 2h0m2-4h0m0 2h0m4 0h0m1-3h0m2 2h0m6 2h0m1-4h0m0 2h0m1-2h0m5 3h0m2-2h0m0 2h0m2 1h0m1-2h0m1-2h0m0 5h0m1-1h0m4 0h0m1-4h0m0 4h0m2-1h0m3-3h0m1 1h0m0 4h0m6 0h0m3-3h0m2 0h0m1 2h0m5-3h0m2-1h0m4 2h0m3 1h0m10 2h0m1-5h0m1 2h0m0 2h0m6 1h0m2 0h0m7-1h0m2-1h0m4-3h0m1 0h0m1 2h0m1-2h0m2 0h0m1 3h0m-11 3h0m-2 3h0m-2 1h0m-2-4h0m-2 2h0m-1 3h0m-6-3h0m-3 1h0m-4-2h0m-3-1h0m-4 5h0m-1-5h0m-2 3h0m-2-2h0m-1 2h0m-1 2h0m-2 0h0m-2-3h0m0 1h0m-4-2h0m-2-1h0m-1 4h0m-3 0h0m-3 0h0m-7-3h0m-6 1h0m-2 1h0m-2 0h0m-3-1h0m-4 3h0m-1-2h0m-1-3h0m-7 2h0m-5-1h0m-1-1h0m0 3h0m-1 2h0m-1-4h0m0 2h0m-1-3h0m0 2h0m-2-2h0m0 4h0m0 1h0m-1-3h0m-1-2h0m0 3h0m0 2h0m-5-4h0m0 3h0m-2-1h0m-1 2h0m-3-5h0m-1 3h0m-2-3h0m0 2h0m-2-2h0m0 3h0m-1-1h0m-1-2h0m-2 0h0m-2 4h0m-1-4h0m0 2h0m-1-1h0m-1 2h0m-2-2h0m-1 1h0m-2 1h0m-1-1h0m0 2h0m-2-3h0m-1 3h0m-1-3h0m-3 1h0m0 1h0m0 2h0m-2-3h0m0 2h0m-4-1h0m0 2h0m-1-4h0m-4 7h0m2 2h0m1-4h0m4 5h0m1-3h0m1-2h0m0 5h0m2-2h0m1 1h0m1-3h0m1 2h0m0 2h0m2-2h0m1-3h0m0 5h0m1-2h0m3-3h0m0 4h0m1-1h0m1 1h0m5-4h0m2 4h0m1-4h0m1 2h0m1-2h0m0 1h0m3 1h0m1-2h0m1 0h0m0 3h0m1 1h0m2 1h0m2-5h0m1 1h0m2-1h0m1 5h0m1-2h0m2 2h0m2-1h0m1-4h0m2 1h0m0 1h0m2 1h0m0 2h0m1-4h0m1 1h0m5 1h0m4 0h0m2-2h0m1 3h0m6 1h0m15-4h0m0 4h0m3-1h0m2 0h0m2-3h0m5 0h0m0 4h0m1-2h0m3-2h0m5 0h0m2 3h0m5-4h0m3 5h0m4-3h0m1-1h0m3 1h0m7-2h0m1 3h0m2-2h0m4 2h0m1-2h0m2 3h0m7-3h0m-5 6h0m-6 2h0m-2 2h0m-6-4h0m-1 2h0m-2-1h0m-4 2h0m-13-3h0m-5 0h0m-1 3h0m-8-1h0m-2 2h0m-2-1h0m-3-2h0m-1 2h0m-5 1h0m-2-1h0m-2-4h0m-1 3h0m-6 1h0m-2 0h0m-1-4h0m-1 3h0m-1 2h0m-1-5h0m-4 5h0m-3-5h0m-4 5h0m-2-1h0m-1-4h0m-1 1h0m-1 2h0m-1-3h0m0 2h0m-1 0h0m-1-1h0m0 3h0m-2-3h0m0 4h0m-2-2h0m-1-2h0m0 2h0m-1-1h0m-1 1h0m-2-1h0m-1-1h0m0 4h0m-1-2h0m-2 1h0m-1-3h0m0 1h0m-1 2h0m-1-2h0m-2 3h0m-1-4h0m0 2h0m-1-3h0m-1 5h0m-1 0h0m-2-4h0m-1 3h0m-5 0h0m-3 0h0m-1-1h0m-2 0h0m-3-1h0m-5 1h0m-2-1h0m0 2h0m-2-4h0m-1 5h0m-2 1h0m0 2h0m4 2h0m0 1h0m1-2h0m1-2h0m1 2h0m1-2h0m3 0h0m1-1h0m3 1h0m0 4h0m1-2h0m1-3h0m1 4h0m1 1h0m2-4h0m2 2h0m1 2h0m1-5h0m1 2h0m0 3h0m1-5h0m0 4h0m1-2h0m1-1h0m2-1h0m2 2h0m2 3h0m1-4h0m1 2h0m1-2h0m0 1h0m0 2h0m2-4h0m0 3h0m2 2h0m1-1h0m3-3h0m1 2h0m1 1h0m1-1h0m1 0h0m3 1h0m1-4h0m1 3h0m1-3h0m0 5h0m3-3h0m3-2h0m0 3h0m3-1h0m2 2h0m3-3h0m4 3h0m1-4h0m1 3h0m4-1h0m3 2h0m2-2h0m0 2h0m2-1h0m3 0h0m3 0h0m4 0h0m3-1h0m0 3h0m2-5h0m1 4h0m4-4h0m2 0h0m1 2h0m0 2h0m2-4h0m4 2h0m1 3h0m5-5h0m5 0h0m6 1h0m3 1h0m0 1h0m1 2h0m1-4h0m7 0h0m-7 5h0m-9 4h0m-6-1h0m-4-1h0m0 3h0m-4-4h0m-4 4h0m-2-1h0m-9 1h0m-3-3h0m-2 1h0m-4 1h0m-1-2h0m-3 1h0m-5-3h0m-2 5h0m-1-2h0m-1-2h0m-2 0h0m-2 1h0m0 3h0m-10-5h0m-5 2h0m-2 2h0m-3 0h0m-1-4h0m0 1h0m0 2h0m-2-3h0m-3 0h0m-1 4h0m-1-2h0m-1-1h0m-1 2h0m0 1h0m-2-3h0m0 4h0m-3-5h0m-2 3h0m-1 2h0m-1-3h0m0 2h0m-2-2h0m-1 2h0m-1-2h0m-2 1h0m-3 2h0m-2-2h0m-3 1h0m-3-2h0m0 3h0m-2-4h0m-3 2h0m-1-2h0m0 1h0m-3 0h0m0 2h0m0 1h0m-1-5h0m-1 2h0m-1-1h0m-1 2h0m-1 1h0m-2-2h0m0 2h0m-2 0h0m4 2h0m0 2h0m1 2h0m1-3h0m1-1h0m3 1h0m0 2h0m2 0h0m1 2h0m2-4h0m0 2h0m1 1h0m2-3h0m5 0h0m5-1h0m2 0h0m0 5h0m1-3h0m1 3h0m2-5h0m1 2h0m1 1h0m1-2h0m1 0h0m0 2h0m0 1h0m1-3h0m3 1h0m1 3h0m1-3h0m1 2h0m2-3h0m1-1h0m1 1h0m0 2h0m1 2h0m2-4h0m1-1h0m1 3h0m3-1h0m3 1h0m9 0h0m0 2h0m2-4h0m5 1h0m1 1h0m6-1h0m2-2h0m2 4h0m2 1h0m1-4h0m4 3h0m2-4h0m4 1h0m1 1h0m1-2h0m4 0h0m3 4h0m1-2h0m2-1h0m7 0h0m7 4h0m13-5h0m-9 6h0m-3 1h0m-4 3h0m-1-4h0m0 2h0m0 3h0m-1-4h0m-8-1h0m-3 0h0m-4 0h0m-1 3h0m-1-3h0m-2 4h0m-2-1h0m-1 2h0m-2-3h0m-2 0h0m-2 1h0m-2-2h0m-4 0h0m-2 3h0m-3-4h0m0 4h0m-2 1h0m-6-3h0m-5 0h0m-5-1h0m0 3h0m-5-1h0m-2 1h0m-1-3h0m-3 0h0m0 2h0m-2-3h0m-1 3h0m-1 1h0m-1-2h0m-2 0h0m-1-1h0m-1-1h0m-3 0h0m0 4h0m-1 1h0m-2-3h0m0 3h0m-3-3h0m-1-2h0m0 5h0m-1-3h0m0 2h0m-2-3h0m0 4h0m-2-3h0m0 2h0m-3-1h0m-2-3h0m0 2h0m0 3h0m-2-2h0m-1-2h0m-3 1h0m-2-1h0m0 4h0m-4-1h0m-1-1h0m-1-3h0m-2 2h0m-2-2h0m-1 1h0m-1 2h0m2 4h0m2 2h0m1 2h0m1-4h0m1 2h0m1-1h0m3 0h0m2 2h0m2-2h0m0 2h0m2-3h0m1 3h0m2-1h0m2-1h0m1 0h0m1 2h0m2 0h0m1-1h0m3 1h0m4-3h0m3-1h0m1 1h0m0 2h0m2 0h0m1-3h0m6 0h0m1 0h0m3 0h0m4 5h0m1-5h0m3 1h0m10-1h0m6 5h0m3-4h0m1-1h0m1 0h0m3 5h0m3-5h0m2 0h0m0 3h0m9-2h0m2 2h0m1 1h0m2-2h0m1-1h0m8 0h0m1 2h0m3-1h0m0 1h0m-6 6h0m-2-1h0m-1 1h0m0 2h0m-1-5h0m-1 5h0m-1-4h0m0 1h0m-2 0h0m0 3h0m-3-1h0m-3-4h0m0 3h0m-7-1h0m-16 2h0m0 1h0m-1-4h0m-4 0h0m-6 3h0m-2-3h0m-29 0h0m-8-1h0m-1 2h0m-3-2h0m-1 2h0m-1-1h0m-1 2h0m-2 2h0m-2-3h0m-1 2h0m-1-3h0m6 5h0m3 0h0m4 0h0m43 1h0m6 0h0m10 1h0m2 0h0m1 2h0m9-3h0m3-1h0m-11 8h0"/>
<path stroke="#aad1e5" d="M1704 442h0m-2 1h0m-8 0h0m-1 0h0m-18 4h0m2-2h0m0 3h0m2-4h0m3 4h0m2-1h0m4 0h0m2 0h0m5 1h0m2 1h0m1-4h0m8-1h0m1 2h0m3-2h0m0 3h0m1 1h0m2-2h0m1 3h0m7 3h0m0 3h0m-2-1h0m-3-2h0m0 2h0m-2-3h0m-1 4h0m-3-5h0m-2 4h0m-1-3h0m0 3h0m-1 1h0m-1-4h0m-7 0h0m-2 1h0m-3-2h0m0 5h0m-2 0h0m-1-5h0m-3 3h0m-1-3h0m-8 4h0m-1-2h0m-2-2h0m-2 1h0m0 1h0m0 3h0m-2-4h0m3 6h0m2 0h0m1 3h0m0 1h0m2-3h0m2-2h0m0 1h0m2 3h0m4 0h0m2-4h0m0 1h0m1 3h0m2-1h0m1-2h0m0 2h0m2-2h0m5-1h0m2 5h0m2-4h0m2 1h0m7-2h0m0 3h0m0 2h0m2-4h0m0 3h0m3-2h0m0 1h0m2 0h0m2 2h0m1-1h0m1 0h0m0 2h0m-2 5h0m-3-1h0m-5-3h0m-1 0h0m0 3h0m-2 0h0m-3-4h0m-1 2h0m-1-1h0m-2 1h0m0 3h0m-3-5h0m-1 2h0m0 3h0m-2-1h0m-3-3h0m-5 2h0m-1-2h0m0 4h0m-2-4h0m0 4h0m-3-5h0m-1 2h0m-5-1h0m-1 3h0m-1 0h0m-2 0h0m1 5h0m2 1h0m1-2h0m1-2h0m0 4h0m1 0h0m2-2h0m1-1h0m1-1h0m2 4h0m2-1h0m1 2h0m3-5h0m0 2h0m1-1h0m3 4h0m5-4h0m0 2h0m1 2h0m2-4h0m5 3h0m7-4h0m1 2h0m1-2h0m4 5h0m3-3h0m2 0h0m-2 9h0m-3-2h0m0 2h0m-5-4h0m-1 4h0m-4-3h0m-5 0h0m-2 1h0m-2 1h0m-6-1h0m0 1h0m-4-4h0m0 1h0m-5 4h0m-2-4h0m-3 0h0m-2 1h0m-2-2h0m-2 0h0m6 11h0m3-3h0m9-2h0m0 4h0m1-3h0m1 4h0m3-1h0m4-4h0m2 3h0m1-2h0m2-1h0m1 0h0m3 0h0m2 1h0m0 2h0m5 1h0m4-2h0m4 8h0m-1-1h0m-2-1h0m0 2h0m-4-4h0m-2 3h0m-1-2h0m-1 2h0m-2 0h0m-1 1h0m-1-2h0m-1-2h0m-1 3h0m-1-2h0m0 3h0m-6-2h0m-1 2h0m-1-1h0m-1-2h0m-4 4h0m-2-4h0m0 2h0m0 2h0m-3 0h0m-1-5h0m-1 1h0m0 1h0m0 3h0m-4-2h0m-3 0h0m6 5h0m1-2h0m1 5h0m2-4h0m1 4h0m1-3h0m1-2h0m0 3h0m4 1h0m1-1h0m1 2h0m1-5h0m2 3h0m1-3h0m2 1h0m4 3h0m3-3h0m0 1h0m2 1h0m1-3h0m2 5h0m3-2h0m1 1h0m3 0h0m3-4h0m0 3h0m4-1h0m7 9h0m-5-5h0m-5 2h0m-5 1h0m-2 1h0m-1-4h0m-2 5h0m-4 0h0m-2-3h0m-2 0h0m-1 3h0m-1-2h0m-1-2h0m-1 3h0m-2-2h0m-1-2h0m-2 4h0m-2-3h0m-2-1h0m-5 3h0m-3 0h0m0 3h0m1 2h0m6 0h0m2-1h0m1-1h0m0 3h0m2-2h0m3 1h0m2 0h0m2-1h0m0 3h0m2-1h0m3 2h0m3-4h0m1 4h0m3-5h0m0 4h0m2 1h0m9-5h0m0 2h0m2 3h0m1-2h0m1 2h0m1-4h0m4 2h0m8-2h0m4 9h0m-3 0h0m0 1h0m-1-3h0m-3 0h0m0 3h0m-1-3h0m-1 1h0m-2-1h0m-1 1h0m-3-2h0m-3 3h0m-1-1h0m-2-1h0m-2-2h0m0 2h0m0 2h0m-2-4h0m-1 3h0m-2-2h0m-1 3h0m0 1h0m-1-3h0m-6 0h0m-1-1h0m-1 2h0m-3-1h0m-1-2h0m-1 3h0m-1-2h0m-7-1h0m0 2h0m-2 0h0m-1 2h0m-2 1h0m-2-1h0m0 1h0m-2-5h0m4 7h0m7 3h0m3-3h0m1 2h0m1-3h0m0 2h0m0 3h0m1-1h0m1-3h0m4 1h0m2 3h0m2-2h0m2 1h0m2 1h0m2-4h0m2 1h0m3-1h0m3 1h0m3-1h0m1 0h0m0 2h0m4 1h0m5-2h0m1-1h0m1 3h0m1 1h0m2-2h0m2-1h0m8 4h0m-7 5h0m-1-1h0m-2 1h0m-1-2h0m-1-2h0m-1 4h0m-1-2h0m-1 1h0m-1-3h0m-2-1h0m0 3h0m-1-2h0m-2 2h0m-3-3h0m0 4h0m-2-4h0m-1 2h0m-1 3h0m-3 0h0m-1-3h0m0 1h0m-1 1h0m-3-1h0m-1 1h0m-1-2h0m0 3h0m-3-5h0m0 5h0m-2-3h0m0 2h0m-1-3h0m-2 2h0m-4-1h0m-1 2h0m-2-4h0m-4 2h0m0 3h0m-1-1h0m-1-3h0m-3 2h0m-6 0h0m-1-3h0m-1 2h0m0 3h0m-1-5h0m5 11h0m6-3h0m2 1h0m4-3h0m3 2h0m1-2h0m2 4h0m3 0h0m1-2h0m2-2h0m1 2h0m0 2h0m2 1h0m2-5h0m3 4h0m2 1h0m2-4h0m2 3h0m4 0h0m2-3h0m3-1h0m0 4h0m5-3h0m0 2h0m1 2h0m1-4h0m0 4h0m1-4h0m2 0h0m1 2h0m2-1h0m2 0h0m5 0h0m7 9h0m-3-4h0m-2 3h0m-1-1h0m0 1h0m-4-2h0m-1-2h0m-2 5h0m-1-4h0m-1 2h0m0 2h0m-3-2h0m0 2h0m-5-1h0m-1-2h0m-5-2h0m-4 2h0m-1 2h0m-1-1h0m-2-2h0m0 3h0m-6 0h0m-2-4h0m-1 3h0m-1-2h0m-2-1h0m0 5h0m-1-5h0m0 4h0m-1-1h0m-1-2h0m0 3h0m-1-4h0m-2 1h0m-1 1h0m0 3h0m-1-2h0m-1-2h0m-4 4h0m-1-4h0m-1 0h0m0 2h0m-1-3h0m-1 5h0m-1 0h0m-1-5h0m-1 1h0m-1 4h0m-2-2h0m-5-2h0m-3 0h0m-3-1h0m-3 1h0m0 3h0m-18 7h0m3 0h0m4-1h0m2-1h0m1-2h0m1 2h0m1 2h0m2-3h0m0 2h0m4-1h0m6 0h0m3-1h0m5 2h0m5-4h0m0 2h0m6-1h0m2 1h0m1 3h0m3-3h0m0 3h0m2-5h0m0 2h0m2 1h0m3-3h0m0 2h0m1 2h0m2 0h0m3 0h0m2 1h0m3-3h0m1-1h0m1 2h0m1-2h0m1 3h0m4-2h0m3-1h0m1 3h0m2-3h0m0 4h0m3 0h0m1-1h0m1-3h0m0 3h0m5 1h0m2-2h0m1-2h0m0 4h0m1-2h0m2-1h0m0 1h0m1-3h0m6 3h0m2 1h0m0 6h0m-2-4h0m0 2h0m-1 3h0m-1-5h0m0 3h0m-4-1h0m-2 2h0m-1-2h0m-2 2h0m-2-1h0m-3-1h0m-5-2h0m-3 3h0m-3-2h0m0 2h0m-1 0h0m-2 1h0m-1-1h0m-2 1h0m-3 1h0m-1-3h0m-1-2h0m-2 1h0m0 3h0m-2-2h0m0 3h0m-3-3h0m-2 0h0m-2 3h0m-2-4h0m-2-1h0m-1 2h0m-3 0h0m-2-1h0m-2 0h0m0 2h0m-1 1h0m-1-3h0m-2 0h0m0 4h0m-2 0h0m-2-2h0m-4 2h0m-1-5h0m-2 1h0m-2-1h0m-5 0h0m-2 2h0m-1 3h0m-5-3h0m-3 2h0m-2-1h0m-4-2h0m-3 2h0m-5 1h0m-8 6h0m3 1h0m1-5h0m6 3h0m2-2h0m6 2h0m1-2h0m2 0h0m2 2h0m0 1h0m1-3h0m3 1h0m2-2h0m1 5h0m4 0h0m3-5h0m2 0h0m4 2h0m0 3h0m8-3h0m1 0h0m2-1h0m1-1h0m2 2h0m1-2h0m1 0h0m0 4h0m2 1h0m3-4h0m2-1h0m3 1h0m0 4h0m1-2h0m1-1h0m1-1h0m0 2h0m2-2h0m0 2h0m2-3h0m2 4h0m2-1h0m1 1h0m1-3h0m1 2h0m0 1h0m3-4h0m2 0h0m0 4h0m2-2h0m2 1h0m1 1h0m2-3h0m3-1h0m1 3h0m1 2h0m4-4h0m1 3h0m1 0h0m1-1h0m1 2h0m1-4h0m1 3h0m1-3h0m2 1h0m5 2h0m3 2h0m-2 3h0m-1-3h0m-1 1h0m-2 2h0m-5-2h0m-2 1h0m-1 2h0m-2-3h0m-1 2h0m-2-3h0m0 3h0m0 2h0m-4-1h0m-2-3h0m0 2h0m-3 2h0m-2-4h0m-1 1h0m-5-2h0m-2 5h0m-2-3h0m-1 3h0m-2-4h0m-1 2h0m0 2h0m-3-4h0m0 2h0m-2 0h0m-2-3h0m-1 4h0m-3-1h0m0 2h0m-1-2h0m-1-3h0m-1 2h0m-3 2h0m-2-2h0m-4 1h0m-6 2h0m-1-1h0m-2-2h0m-5 3h0m-2-4h0m-1 4h0m-5-5h0m0 4h0m-6-1h0m0 2h0m-3-5h0m-1 1h0m0 2h0m-2-2h0m0 2h0m-2-2h0m0 4h0m-1-5h0m-2 1h0m-2-1h0m-2 2h0m-1 2h0m-4-3h0m-4 3h0m-3 1h0m-2-1h0m-5 4h0m0 2h0m5-1h0m0 2h0m8-4h0m3 2h0m3 1h0m1-2h0m1 2h0m3-1h0m0 2h0m7-5h0m0 5h0m3-2h0m0 2h0m3-1h0m4-3h0m1 3h0m1-2h0m1-2h0m1 5h0m2-3h0m0 2h0m3-3h0m0 2h0m3-3h0m2 4h0m1 1h0m1-4h0m2 2h0m1 2h0m3-1h0m4 1h0m3-3h0m1 2h0m4-3h0m2 0h0m1 4h0m2-3h0m3-2h0m0 3h0m3 1h0m3-3h0m2 1h0m1 3h0m1-5h0m2 5h0m3-1h0m4-4h0m1 1h0m1 4h0m2-2h0m2 1h0m2 0h0m2-1h0m3-3h0m4 1h0m1-1h0m0 4h0m1-4h0m1 5h0m1-4h0m6 4h0m1-5h0m1 2h0m-4 7h0m-8-1h0m-7 2h0m-7-4h0m0 3h0m-5 2h0m-2 0h0m-3 0h0m-6-2h0m-7-1h0m0 2h0m-2-2h0m0 3h0m-2-1h0m-1 1h0m-2-5h0m-1 3h0m-1 2h0m-7-1h0m0 1h0m-3-3h0m-3 0h0m-2 0h0m-4-1h0m-5 1h0m0 1h0m-2 2h0m-3-1h0m-3-3h0m-3 3h0m-2-2h0m-1-1h0m-1 3h0m-4-2h0m-5 1h0m-3 2h0m-6-2h0m-5 1h0m-3-1h0m-2 0h0m-1 1h0m-1-4h0m-8 0h0m-1 6h0m0 5h0m4 0h0m7-4h0m4 0h0m2 4h0m3-5h0m2 3h0m2 1h0m1-4h0m2 3h0m1-2h0m2 2h0m19-3h0m5 2h0m4 3h0m2-3h0m2 3h0m1-5h0m2 4h0m2-3h0m2 1h0m2 1h0m3-2h0m0 2h0m1 1h0m1-3h0m0 3h0m3-2h0m3 1h0m3 1h0m1-3h0m0 1h0m4 2h0m2-2h0m1 2h0m2-2h0m0 3h0m2-1h0m1-1h0m1-3h0m7 3h0m1-3h0m1 3h0m4 0h0m1-2h0m2 0h0m4-1h0m7 2h0m2-2h0m3 0h0m2 4h0m1-2h0m3 2h0m-2 3h0m0 4h0m-1-1h0m-4-4h0m-1 2h0m0 3h0m-4-5h0m0 3h0m-2-2h0m-2 4h0m-4-2h0m-1 1h0m-2-1h0m-2 2h0m-1-5h0m-2 4h0m-3 1h0m-3-4h0m-3 4h0m-3-4h0m0 4h0m-2 0h0m-1-5h0m-1 2h0m-2-2h0m-2 2h0m-1-2h0m-2 3h0m-2 1h0m-1 0h0m-3 1h0m-1-4h0m-1 0h0m-1 3h0m-6-4h0m-2 2h0m-1 2h0m-2 0h0m-2-3h0m-1 3h0m-3-3h0m0 3h0m-5-2h0m-4 0h0m-2 0h0m-1 3h0m-15 0h0m-5-3h0m-1 2h0m-1-3h0m-5 1h0m-3 1h0m-3 0h0m0 2h0m-3-5h0m-1 1h0m-3 0h0m-4 1h0m-1 3h0m-3-2h0m-4 6h0m6-3h0m3 4h0m1-2h0m5-1h0m5 2h0m1-2h0m1 3h0m2-1h0m3 2h0m3 0h0m6-1h0m7-1h0m11 2h0m2 0h0m2-1h0m3-2h0m1-2h0m2 4h0m4-1h0m0 2h0m1-4h0m2-1h0m2 0h0m0 4h0m0 1h0m1-2h0m1-3h0m0 5h0m1-3h0m1-2h0m2 1h0m0 2h0m3-3h0m0 2h0m3-1h0m2 2h0m3 2h0m2-4h0m0 4h0m4-5h0m2 0h0m0 4h0m2 0h0m1-2h0m2-1h0m1 0h0m0 2h0m5-1h0m5-2h0m1 5h0m2 0h0m1-5h0m0 2h0m1 2h0m1 1h0m4-1h0m6 0h0m1-3h0m4 1h0m0 3h0m1-2h0m2 2h0m4 3h0m-6-1h0m-2 2h0m-2-2h0m-5 0h0m-3 0h0m-3 4h0m-1-3h0m-2 2h0m-6-2h0m-4 0h0m-1-1h0m-1-1h0m-2 5h0m-3-5h0m-8 3h0m-2 2h0m-1-3h0m-1 1h0m-2 1h0m-2-1h0m0 2h0m-2-4h0m0 3h0m-6-4h0m-2 1h0m-2 2h0m-7-2h0m-2 1h0m-2 2h0m-7-4h0m-1 2h0m-5 0h0m-4 1h0m-1-3h0m-1 5h0m-2-2h0m0 2h0m-2 0h0m-1-3h0m-2 1h0m-1-1h0m-1 2h0m-2-2h0m-10 1h0m-2-3h0m-1 5h0m-4 0h0m-4-1h0m-3 0h0m-2 0h0m-1-4h0m0 3h0m-4 8h0m1-2h0m1-3h0m2 0h0m0 5h0m6-5h0m0 3h0m2-3h0m1 0h0m0 2h0m0 3h0m8-3h0m6 1h0m3-3h0m2 5h0m4-5h0m6 4h0m2-1h0m2-1h0m2 1h0m3-1h0m1-2h0m1 2h0m1 3h0m7-4h0m0 3h0m2-2h0m1-2h0m1 2h0m3 3h0m1-3h0m1 1h0m1 1h0m1 1h0m6-2h0m2-1h0m1 1h0m1 2h0m1-5h0m2 3h0m1 2h0m1-1h0m3 0h0m2-3h0m0 1h0m0 2h0m2-4h0m1 3h0m0 2h0m1-4h0m1-1h0m2 4h0m1-2h0m1-2h0m4 0h0m3 5h0m4-2h0m2 1h0m1-1h0m3-3h0m0 3h0m2-1h0m0 2h0m2 1h0m1-2h0m1-2h0m0 4h0m4 0h0m2-4h0m3 4h0m2-5h0m3 5h0m-1 3h0m-2 1h0m-4 0h0m-3-1h0m-4-1h0m-7 1h0m-3-1h0m-1 3h0m-3 1h0m-2-4h0m-2 2h0m-2 0h0m-2-2h0m0 3h0m-2-2h0m-1 1h0m-3 0h0m-2-1h0m-1 1h0m0 2h0m-2-5h0m-3 0h0m-1 3h0m-1 2h0m-3 0h0m-1-4h0m0 2h0m-2 0h0m-1-2h0m-2 0h0m-2 1h0m-1-1h0m0 4h0m-1-1h0m-3-4h0m0 4h0m-5-3h0m-1 4h0m-1-3h0m-1 2h0m-3-3h0m-3 2h0m-5 0h0m-1-2h0m-1 4h0m-1-3h0m-6 1h0m-2 0h0m-4 0h0m-2 1h0m-4 1h0m-6 0h0m-6-4h0m-1 3h0m-5-2h0m-2 3h0m-1-2h0m-2-1h0m-5 0h0m2 9h0m6-4h0m1 2h0m1-3h0m7 1h0m9 1h0m3-2h0m5 2h0m2-1h0m3 0h0m1-1h0m1 2h0m0 3h0m3 0h0m4 0h0m6 0h0m3-4h0m2 2h0m1 2h0m4 0h0m1-3h0m6-1h0m1 2h0m8-1h0m1 2h0m1-2h0m5 0h0m1-2h0m2 4h0m3 1h0m1-1h0m1-3h0m1 2h0m4-2h0m4 2h0m0 1h0m1-4h0m2 0h0m8 3h0m2 0h0m3-3h0m1 3h0m1-1h0m1 2h0m2-2h0m4 3h0m1-3h0m1-2h0m2 0h0m0 3h0m-1 7h0m-3-1h0m-3-1h0m0 3h0m-1-5h0m-3 3h0m-4-2h0m-8-1h0m0 4h0m-1-1h0m-2-2h0m-3 3h0m-2-4h0m0 2h0m-3 0h0m-2-2h0m-5 1h0m0 4h0m-2-3h0m-3 2h0m-2-1h0m-1-3h0m0 1h0m-4 3h0m-1 0h0m-1-4h0m-1 3h0m-1 2h0m-2-4h0m0 3h0m-3-2h0m-2 0h0m-8-2h0m-3 0h0m0 1h0m-3 3h0m-1-2h0m-1 2h0m-2-2h0m0 3h0m-7-4h0m0 2h0m-3-3h0m-5 1h0m0 3h0m-2-1h0m-5-2h0m-9-1h0m-1 3h0m-2-3h0m-7 5h0m-5 0h0m-3-4h0m-4-1h0m2 8h0m3 2h0m2 0h0m4-1h0m3-3h0m5 5h0m2-5h0m3 2h0m3-2h0m3 3h0m4 1h0m2 0h0m4-4h0m2 4h0m3-3h0m2 2h0m1 2h0m7-3h0m2 0h0m0 2h0m6 1h0m4-5h0m1 4h0m1-2h0m1 3h0m2-4h0m2-1h0m0 3h0m2-3h0m0 2h0m3-2h0m0 2h0m2 2h0m1 0h0m11-1h0m9 0h0m4-1h0m0 3h0m2-5h0m4 5h0m4-3h0m1-2h0m0 4h0m6-3h0m0 2h0m2 0h0m8 2h0m3-5h0m-7 6h0m0 3h0m-3 0h0m-3 0h0m-2-2h0m0 4h0m-4-2h0m-1 2h0m-3-5h0m-1 5h0m-2-3h0m-2 3h0m-1-3h0m-3 2h0m-6 1h0m-1-5h0m0 2h0m-4-2h0m-4 0h0m0 4h0m-4-1h0m-1 1h0m-1 1h0m-4-5h0m-2 2h0m-1-2h0m-4 5h0m-5-3h0m-2 3h0m-4 0h0m-2-1h0m-1-2h0m-2 1h0m-2-3h0m-4 3h0m-4 2h0m-1-5h0m-3 3h0m-2 1h0m-3 0h0m-4-4h0m-4 3h0m-12-3h0m0 3h0m-2 1h0m-1-3h0m-2 3h0m-9-2h0m4 5h0m5 2h0m2 2h0m1-2h0m2-1h0m2 1h0m0 1h0m1-3h0m2 4h0m4-2h0m6 1h0m5-2h0m10 3h0m5-3h0m2-1h0m0 1h0m2 2h0m2-4h0m8 1h0m1 2h0m1-3h0m5 1h0m1 2h0m4-1h0m3-2h0m5 2h0m1 2h0m2-1h0m2-2h0m1 1h0m3 1h0m0 2h0m2-1h0m6-1h0m1-2h0m0 4h0m2-5h0m2 3h0m0 2h0m3-3h0m2 3h0m6-3h0m3 2h0m1 0h0m4-4h0m-1 6h0m-1 4h0m-2-4h0m-1 2h0m-1 3h0m-3-4h0m0 4h0m-3 0h0m-7 0h0m-4-4h0m-1 3h0m-1-2h0m-1-2h0m-1 1h0m-2 0h0m-3 1h0m-4-1h0m-1 0h0m0 4h0m-4-2h0m-2-3h0m-3 4h0m-1-4h0m-3 4h0m-1-4h0m-7 0h0m-1 0h0m0 4h0m-10-3h0m0 2h0m-1-3h0m-4 0h0m-2 4h0m-2-2h0m-2 0h0m-1-2h0m-1 1h0m-3 0h0m-3 0h0m-1 4h0m-1-5h0m-3 4h0m-2-4h0m-7 5h0m-1 0h0m-1-3h0m-8 0h0m0 3h0m-2-4h0m-2-1h0m0 2h0m-2-2h0m-1 1h0m2 7h0m1 2h0m2 1h0m7 0h0m2-4h0m1-1h0m0 3h0m1 1h0m1-3h0m3 1h0m1 2h0m1-4h0m1 4h0m2-2h0m3-1h0m5 4h0m1-4h0m1 4h0m1-3h0m0 2h0m5-1h0m1-1h0m1-2h0m17 4h0m7-2h0m1 2h0m6-1h0m4-2h0m2 4h0m2-4h0m2 3h0m3-4h0m0 2h0m1 2h0m2 1h0m2-4h0m1 2h0m1-1h0m0 2h0m1-4h0m8 3h0m0 2h0m6-5h0m8 5h0m-10 5h0m-5 0h0m-2-4h0m0 4h0m-1-2h0m-1 0h0m0 1h0m0 2h0m-2-3h0m-1-2h0m0 5h0m-2-5h0m0 1h0m0 3h0m-2 1h0m-1-4h0m-1 2h0m-1 2h0m-1-5h0m0 3h0m-5-3h0m-13 1h0m0 4h0m-2-4h0m-2-1h0m-2 3h0m-3 0h0m-4-1h0m0 1h0m-1 2h0m-2 0h0m-5-3h0m-1 1h0m-9-2h0m-1 4h0m-2-2h0m-2-1h0m-3 2h0m-2 0h0m0 1h0m-4-2h0m-2 0h0m-3-3h0m-1 5h0m-1 0h0m-2-5h0m-2 3h0m-4-3h0m-3 5h0m-2 0h0m-3 1h0m3 5h0m3 0h0m1-2h0m6-1h0m2 0h0m14-1h0m1 2h0m11-2h0m0 3h0m3-1h0m2-3h0m3 3h0m2 1h0m1-2h0m2 1h0m3 0h0m1-2h0m1 1h0m0 3h0m2-1h0m4-4h0m3 1h0m2 0h0m2 4h0m3-1h0m3-3h0m3 2h0m5-2h0m2 0h0m4 2h0m4 0h0m1 2h0m1-5h0m-3 6h0m0 3h0m-1-1h0m-2-2h0m-4 1h0m-6-1h0m0 4h0m-2-1h0m-2 1h0m-3-2h0m-2-1h0m-4-1h0m0 2h0m0 3h0m-3 0h0m-4-1h0m-2 0h0m-4-2h0m-4 2h0m-5 0h0m-2-3h0m-4 2h0m-5-2h0m-3 4h0m-4-2h0m-3-2h0m-3 2h0m-4 0h0m-2-1h0m-1-2h0m-2 3h0m0 2h0m-8-3h0m-2 1h0m-1-2h0m-2 2h0m-6 7h0m2-2h0m4 1h0m2 1h0m7-3h0m1 1h0m1-1h0m2 3h0m1-4h0m2 0h0m1 5h0m2-2h0m2-3h0m1 5h0m3 0h0m1-3h0m2 2h0m2-4h0m3 4h0m2-1h0m3 1h0m2 1h0m1-3h0m0 2h0m2 1h0m2-2h0m2 0h0m1 1h0m3 1h0m4 0h0m1-5h0m1 4h0m1-3h0m3 3h0m1-4h0m3 3h0m2 2h0m4-4h0m2 3h0m5-4h0m0 5h0m1-2h0m2-2h0m6-1h0m0 2h0m2-2h0m-6 10h0m-1-2h0m-1-1h0m-4 4h0m-2-3h0m0 3h0m-1-5h0m-1 5h0m-1-5h0m0 2h0m-3 2h0m-1 1h0m-1-4h0m-3 1h0m-1-1h0m-2 0h0m-3-1h0m-3 2h0m-3-2h0m0 2h0m0 2h0m-2-4h0m-1 4h0m-2-3h0m-5-1h0m-2 2h0m-2 0h0m-3 2h0m-1-2h0m-1-2h0m0 1h0m-1 2h0m0 2h0m-2-3h0m-2-2h0m0 3h0m-4 0h0m-6-2h0m-2-1h0m0 3h0m-3 1h0m-1 1h0m-2-3h0m0 3h0m-2-4h0m0 4h0m-2 0h0m-9-3h0m-6 2h0m-8 1h0m-6 6h0m1 0h0m3-3h0m1-1h0m1 3h0m2 1h0m2-1h0m1-4h0m1 2h0m1 3h0m1-2h0m2-3h0m2 2h0m2-2h0m1 2h0m0 2h0m1-2h0m3-1h0m1-1h0m2 2h0m1-2h0m0 4h0m2 1h0m1-4h0m1-1h0m3 4h0m4-2h0m1-2h0m0 5h0m2-4h0m4 3h0m2 0h0m2-1h0m1-2h0m3 0h0m0 3h0m2-4h0m0 5h0m2-5h0m0 2h0m3 3h0m1-1h0m6-2h0m6-2h0m6 2h0m1 2h0m2-2h0m1 2h0m1-2h0m2 3h0m5-4h0m2 4h0m2-3h0m1 3h0m18-3h0m16-1h0m5 8h0m-2 2h0m-3-1h0m-2-2h0m-2-1h0m-2 1h0m0 1h0m-1 0h0m-38-2h0m-4 4h0m-4-3h0m0 2h0m-2-4h0m-3 5h0m-1-3h0m-1-2h0m-1 1h0m-1 3h0m-2 0h0m-3 0h0m-2 1h0m-3-3h0m-2-1h0m-2 2h0m-1-1h0m-4-2h0m-1 2h0m-1-1h0m-3 3h0m-2-3h0m-1 3h0m-2 0h0m-1-3h0m-1 1h0m-1-1h0m-1 1h0m-1 2h0m-1-3h0m-4 0h0m0 4h0m-3-2h0m-1 1h0m-4-3h0m-3 1h0m-2-2h0m-1 1h0m-3 1h0m-1 3h0m-2-4h0m-3 3h0m-2-4h0m-2 1h0m0 4h0m-1 0h0m-1-3h0m-2-1h0m-1 2h0m-1-2h0m0 3h0m-8 0h0m-3 2h0m0 3h0m2 0h0m4-3h0m7 1h0m6 2h0m1 2h0m2-1h0m1 1h0m4 0h0m1-4h0m1 2h0m2 0h0m3-3h0m0 2h0m1-1h0m0 2h0m0 2h0m9-4h0m0 2h0m3-3h0m1 4h0m1-3h0m2 2h0m5 0h0m0 2h0m5-5h0m0 3h0m2 0h0m1-3h0m3 0h0m1 5h0m1-4h0m2 3h0m2-4h0m3 0h0m2 2h0m2 0h0m1 2h0m3 1h0m2-5h0m7 2h0m2 3h0m1-4h0m1 4h0m3-2h0m1-2h0m38 0h0m5-1h0m4 1h0m0 2h0m2 1h0m4 5h0m-10-3h0m0 3h0m-2 2h0m-5 0h0m-26 0h0m-12 0h0m-3-1h0m-4-2h0m-1-2h0m-1 3h0m-2-3h0m0 4h0m-2 1h0m-2-2h0m-1-2h0m-3 1h0m-2 1h0m-1 1h0m-1-3h0m0 4h0m-2-5h0m0 4h0m-2 1h0m-2-5h0m-2 4h0m-1-3h0m-1 3h0m-2-2h0m-1 2h0m-2 1h0m-5-2h0m-2 0h0m-1-2h0m-3 3h0m-4-4h0m0 5h0m-2 0h0m-1-3h0m-4-2h0m0 3h0m-2 2h0m-1-4h0m-3 2h0m0 1h0m-2-3h0m-2-1h0m0 3h0m-3-2h0m-1 2h0m-2 0h0m-2 2h0m-4-1h0m-3-3h0m-1 3h0m-4 0h0m-4-2h0m-3-2h0m0 1h0m0 3h0m-3-3h0m-4 4h0m4 2h0m2 3h0m2 1h0m2-5h0m5 3h0m3-1h0m5 3h0m1-4h0m6 3h0m5-4h0m2 0h0m1 2h0m1-2h0m4 0h0m3 1h0m0 3h0m3 0h0m4 1h0m7 0h0m2 0h0m2-2h0m3 2h0m2-4h0m2 4h0m1-5h0m1 4h0m3-3h0m1 2h0m4 1h0m2-4h0m0 4h0m5-4h0m0 2h0m55 0h0m1-1h0m3 4h0m2 0h0m1-1h0m2 0h0m5-4h0m-3 7h0m-2 0h0m-10 4h0m-57-4h0m-5 0h0m-4 0h0m0 2h0m0 2h0m-2-3h0m-3-2h0m-3 0h0m0 2h0m-2 0h0m-3 0h0m-1-2h0m0 3h0m-3-3h0m0 2h0m-1 1h0m0 2h0m-2 0h0m-1-2h0m-2 1h0m-1-1h0m-1-3h0m-1 4h0m-1-2h0m-2-2h0m0 2h0m-1 2h0m-5-3h0m-1 1h0m-5-2h0m-2 0h0m-3 3h0m-7 1h0m-1 1h0m-1-1h0m-6-4h0m-4 5h0m-3-3h0m-1 3h0m7 1h0m3 5h0m1-3h0m1 2h0m1-1h0m2 2h0m1-2h0m1-3h0m4 1h0m0 3h0m3-3h0m5 0h0m0 3h0m2-4h0m0 5h0m5-3h0m0 3h0m2-1h0m1-2h0m2 0h0m2 1h0m3-2h0m3 3h0m2-3h0m1 4h0m1-5h0m2 5h0m1-4h0m1 2h0m3 0h0m1 1h0m1-3h0m1 4h0m5-2h0m1-3h0m3 3h0m1-3h0m58 5h0m2-1h0m2-3h0m4 0h0m5 2h0m-3 4h0m-3 4h0m-2-3h0m-2 2h0m-70-3h0m-7 2h0m-2 2h0m-6-1h0m-2-3h0m-1 1h0m-3 1h0m-1-1h0m-5 3h0m-3-5h0m-2 3h0m-3 0h0m-3-3h0m-2 3h0m0 2h0m-1-3h0m-4 1h0m-2 0h0m0 1h0m-2-3h0m0 3h0m10 5h0m2-2h0m1 1h0m0 3h0m5-3h0m2-2h0m0 3h0m1-1h0m1 2h0m1 1h0m2-3h0m2-2h0m1 0h0m1 1h0m1 1h0m2-1h0m1-1h0m2 1h0m1 2h0m4-2h0m73-1h0m5 1h0m2 4h0m1-1h0m9-2h0m-101 8h0m-9-4h0m-3 0h0m-13 0h0m-1 2h0m-17-1h0m27 7h0m82 4h0m-80 0h0m-4 10h0"/>
<path stroke="#67001f" d="M2043 370h0m-3 0h0m-1-2h0m-1 3h0m-4-1h0m-2 1h0m-1-2h0m-2 2h0m-2 0h0m-2 3h0m3 2h0m2-3h0m2 0h0m4 3h0m4-4h0m1 3h0m2 1h0m4-2h0m0 2h0m3 0h0m-1 7h0m-2-5h0m-2 5h0m-1-1h0m-4 0h0m-2 0h0m-4-3h0m0 4h0m-2 0h0m-1-3h0m-1 3h0m-1-5h0m0 2h0m-2-2h0m-3 2h0m-3 3h0m-1-3h0m-2 0h0m0 8h0m3-2h0m5 1h0m0 1h0m3 1h0m1-5h0m1 4h0m3-1h0m2-1h0m0 3h0m1-4h0m2 0h0m0 4h0m1-3h0m1-2h0m0 4h0m2-3h0m1 3h0m2-3h0m3 0h0m0 9h0m-1-3h0m-1 2h0m-3 2h0m-4-3h0m0 3h0m-2-2h0m-1-1h0m-3 3h0m-3-4h0m-8-1h0m0 3h0m-4-3h0m1 11h0m4-1h0m2-1h0m1-2h0m0 4h0m1-3h0m1 0h0m1-2h0m2 1h0m1 2h0m2 0h0m1 1h0m4 1h0m2-4h0m0 4h0m1-5h0m1 5h0m2-1h0m3-4h0m-3 9h0m-1 2h0m-1-3h0m-2 2h0m-1-4h0m-1 3h0m-3-3h0m0 4h0m-1-2h0m-1-1h0m-2-1h0m-1 3h0m-2 0h0m-1-1h0m-2-1h0m-1 1h0m-1-2h0m-1 4h0m-2-1h0m-1 7h0m2 0h0m1-3h0m2-1h0m1 3h0m0 1h0m2-1h0m2 0h0m1-3h0m4 5h0m3-1h0m2-2h0m1 0h0m0 1h0m1 6h0m-2 2h0m-1-5h0m0 4h0m-1 1h0m-1-5h0m-1 3h0m-2-2h0m0 1h0m-2 2h0m-1-2h0m-1-2h0m-2 2h0m-1-2h0m-2 4h0m-2 0h0m-3-4h0m-1 4h0m-4 5h0m1 2h0m2-3h0m1 3h0m3-5h0m0 2h0m1-1h0m1 4h0m1-3h0m1 1h0m0 2h0m1-4h0m1 2h0m1-2h0m0 4h0m1-4h0m1 3h0m1-3h0m1-1h0m0 3h0m1-1h0m2 2h0m1-3h0m4 0h0m1 3h0m-3 6h0m-1-4h0m-1 3h0m-2-2h0m-3 1h0m0 3h0m-3-4h0m-1-1h0m-1 5h0m-1-3h0m-1-1h0m-3 0h0m-1 3h0m-2 1h0m-6 2h0m1 4h0m4-1h0m2 0h0m1-3h0m0 3h0m1-4h0m2 5h0m1-2h0m1-3h0m1 1h0m0 3h0m3 0h0m3-4h0m1 4h0m1-4h0m0 2h0m1 0h0m1 1h0m3-3h0m18 9h0m-20 0h0m-2-3h0m-3 1h0m0 3h0m-4-3h0m0 1h0m-1 2h0m-1-3h0m-1 4h0m-1-3h0m-2 1h0m-1-3h0m0 5h0m-2-2h0m-3-2h0m-3 2h0m-2 1h0m-2 4h0m3-1h0m0 3h0m1-3h0m1 3h0m1 1h0m1-3h0m1 2h0m1-3h0m1 1h0m3-1h0m2-1h0m6 1h0m2 1h0m2 1h0m1-1h0m-2 9h0m-1-5h0m0 4h0m-2-4h0m0 4h0m-3-1h0m-1-3h0m0 3h0m-2-1h0m-2-2h0m-3 0h0m0 3h0m-1 1h0m-1-1h0m-1-3h0m0 5h0m-2-4h0m-2 0h0m-2 2h0m-1-1h0m-1 3h0m-4-3h0m-3 6h0m7 1h0m0 2h0m1-3h0m1-2h0m2 2h0m0 3h0m3-3h0m0 3h0m2-2h0m1-2h0m4 3h0m1-2h0m3-2h0m2 3h0m1-3h0m0 4h0m3-3h0m16 5h0m-11 3h0m-4-2h0m-2 2h0m-3-3h0m-1 1h0m0 4h0m-1-2h0m-1 2h0m-3-4h0m-1 1h0m0 3h0m-1-1h0m-2-2h0m0 1h0m0 2h0m-2-2h0m-2 0h0m-1 1h0m-2 1h0m-1-4h0m-1 3h0m-3-2h0m-2-1h0m-1-1h0m0 4h0m-2-2h0m-1-2h0m-1 3h0m-6 7h0m1-2h0m1 1h0m2 1h0m4-4h0m3 3h0m1-1h0m4-2h0m2 2h0m2-2h0m0 4h0m2-2h0m0 2h0m2-2h0m2 2h0m2-2h0m1-1h0m2 4h0m1-4h0m1 1h0m1-1h0m1 0h0m1-1h0m0 2h0m1 0h0m1 2h0m1-4h0m1 1h0m2 1h0m0 2h0m1-4h0m1 3h0m3 5h0m-3 2h0m-1-1h0m0 2h0m-1-5h0m-1 1h0m-2 3h0m-2 0h0m-1-4h0m-2 0h0m-1 5h0m-1-1h0m-1-4h0m-2 2h0m-1 1h0m-3 2h0m-1-3h0m0 3h0m-1-2h0m-1-1h0m0 2h0m-1-3h0m-2-1h0m0 5h0m-1-3h0m0 2h0m-2 0h0m-2 0h0m-1-1h0m-1-2h0m-1 0h0m-2 1h0m-3 3h0m-2-5h0m0 3h0m-2 2h0m-2-3h0m-2 9h0m1-5h0m1 1h0m0 1h0m0 3h0m3 0h0m4-4h0m0 2h0m5-3h0m0 4h0m1-3h0m2 2h0m4 2h0m2 0h0m2-2h0m0 2h0m1-4h0m1 2h0m1-3h0m1 3h0m0 2h0m1-5h0m0 1h0m4 3h0m1-2h0m1-1h0m2-1h0m2 2h0m3 1h0m1-2h0m1 2h0m0 3h0m-2 1h0m-1 2h0m-2-3h0m0 2h0m-2 3h0m-1-2h0m-2-3h0m0 3h0m-1 2h0m-1-4h0m-1 2h0m-1-3h0m0 5h0m-2-1h0m-1-4h0m-1 2h0m0 3h0m-1-3h0m0 2h0m-3 1h0m-4-5h0m0 3h0m-2 0h0m-1-2h0m-1 4h0m-1-5h0m0 3h0m-2-1h0m-3 0h0m0 2h0m-2-1h0m-1-2h0m-1 0h0m-3 0h0m-1 4h0m-1-3h0m0 2h0m1 7h0m3-2h0m1-1h0m2-1h0m0 3h0m1-2h0m1 2h0m2-3h0m1-1h0m0 3h0m1-1h0m2 1h0m4 2h0m1-5h0m1 4h0m4 0h0m3 0h0m1-1h0m1-3h0m0 1h0m1 3h0m1-4h0m0 4h0m1-2h0m1 1h0m2-1h0m2 0h0m4-1h0m0 4h0m1-5h0m2 4h0m1-4h0m2 5h0m-3 5h0m-2-2h0m-2 3h0m-1-4h0m-1 4h0m-1-4h0m-2-1h0m-2 0h0m0 2h0m-2 0h0m-3-1h0m0 4h0m-3-1h0m-1-3h0m0 1h0m-1-2h0m-4 1h0m-6 1h0m0 3h0m-2-3h0m-1-2h0m0 5h0m-4-3h0m0 3h0m-1-5h0m-1 2h0m0 1h0m-1-3h0m-2 3h0m-2-3h0m0 4h0m-1-2h0m-3 0h0m0 9h0m1-5h0m5 3h0m2-2h0m4 0h0m2 0h0m2-1h0m0 2h0m1 3h0m5-3h0m0 3h0m3-3h0m2-2h0m1 2h0m0 1h0m3 0h0m3-2h0m0 4h0m3-1h0m5 0h0m3-1h0m3 2h0m1-4h0m0 3h0m-1 2h0m0 4h0m-2-2h0m-1 3h0m-3-2h0m-2 0h0m-1 1h0m-3-4h0m0 3h0m-4-3h0m0 2h0m-1-2h0m0 4h0m-2 1h0m-1-3h0m-2-2h0m-1 4h0m-1-3h0m-2 0h0m-1 1h0m-2 0h0m-1-1h0m0 2h0m-2-2h0m0 4h0m-2-4h0m-1 1h0m-1-1h0m-1 2h0m-1 1h0m-1 1h0m-1-2h0m-2-1h0m-1-2h0m0 3h0m-1 2h0m-1-4h0m-1 2h0m0 2h0m-4 0h0m2 3h0m0 3h0m3-3h0m1 3h0m2-4h0m2-1h0m0 4h0m1-1h0m1-2h0m0 3h0m2 1h0m1-1h0m9-2h0m0 2h0m3-3h0m0 4h0m1-2h0m1 2h0m2-2h0m1-2h0m3 1h0m0 3h0m2-1h0m0 1h0m1 0h0m1-1h0m2-2h0m0 3h0m1-5h0m0 4h0m1-1h0m2-1h0m0 3h0m2-5h0m0 5h0m1-3h0m0 1h0m0 2h0m1-5h0m1 2h0m-1 7h0m-2 0h0m-3-1h0m0 2h0m-2-2h0m-1 3h0m-1-4h0m0 2h0m0 2h0m-2-2h0m-1-2h0m0 4h0m-1-3h0m0 2h0m-2-3h0m-1 3h0m-2-3h0m0 4h0m-2-2h0m-1-1h0m0 2h0m-2-3h0m0 2h0m-1-1h0m-1-2h0m-2 4h0m-3 1h0m-1-4h0m-3 0h0m0 4h0m-3-3h0m-3-2h0m0 3h0m0 2h0m-2-3h0m-3 3h0m-1-4h0m-2 0h0m-2 0h0m0 6h0m1 3h0m1-1h0m1-2h0m3 0h0m0 4h0m1-1h0m2-4h0m1 5h0m2-5h0m1 4h0m2 0h0m4-1h0m1 2h0m2-5h0m4 0h0m0 4h0m4-1h0m2-2h0m0 1h0m1 3h0m3-5h0m0 2h0m0 3h0m3-4h0m2 0h0m0 2h0m1 1h0m1-1h0m1-3h0m1 1h0m1 4h0m1-5h0m2 5h0m-3 2h0m-2 3h0m-1-3h0m0 2h0m-1 1h0m-2-1h0m-1-3h0m-4 5h0m-1-2h0m-2 1h0m-1-1h0m-3-1h0m-1 2h0m-1-2h0m-2-2h0m0 2h0m-1 2h0m-2-1h0m-4 1h0m-1-3h0m-1 1h0m-1 1h0m0 2h0m-1-5h0m-1 3h0m-1-2h0m-1 1h0m-1 3h0m-1-4h0m-1 4h0m-2-4h0m-5 1h0m0 2h0m1 7h0m4-4h0m1 2h0m1-1h0m4-2h0m1 5h0m3-3h0m2 3h0m1-1h0m2-3h0m3 0h0m0 3h0m2-4h0m0 3h0m3-2h0m0 4h0m1-5h0m2 1h0m1-1h0m0 3h0m3 0h0m2 0h0m3-1h0m3-1h0m1 1h0m1-2h0m-2 6h0m0 1h0m0 3h0m-4-2h0m-2-1h0m0 3h0m-2-2h0m0 3h0m-1-2h0m-5-2h0m-1 2h0m-2-3h0m0 5h0m-2-2h0m-2-3h0m-1 3h0m-1-2h0m0 3h0m-1-1h0m-1-3h0m0 5h0m-1-4h0m0 2h0m-3-3h0m-1 3h0m-1 2h0m-1-3h0m-1-2h0m-2 2h0m0 3h0m-2-1h0m-1-4h0m0 3h0m-3-2h0m-1 1h0m2 7h0m0 2h0m2-5h0m1 3h0m1 1h0m2-3h0m1 2h0m1-2h0m0 4h0m1-2h0m2 1h0m1-4h0m2 4h0m3-4h0m1 1h0m1 1h0m4-1h0m0 2h0m2-3h0m0 4h0m0 1h0m1-3h0m2-2h0m0 4h0m3 1h0m4-5h0m-5 7h0m-2 1h0m-1-2h0m0 4h0m-2-2h0m-2 3h0m-3-3h0m-7-1h0m0 2h0m-3-2h0m-1 1h0m-4 0h0"/>
<path stroke="#e58368" d="M2108 76h0m3-3h0m6 3h0m3-1h0m2 1h0m2 1h0m5-1h0m6 6h0m-4 0h0m-3 1h0m-1-1h0m-2-4h0m-1 0h0m0 3h0m-2-3h0m-2 1h0m0 4h0m-1-2h0m-2 2h0m-1-3h0m-1-2h0m0 5h0m-1-2h0m-2 0h0m-1-2h0m0 3h0m-2 0h0m-1-3h0m0 4h0m-2 0h0m-2-1h0m-10 4h0m3 3h0m3 0h0m1-5h0m0 3h0m1 2h0m2-3h0m1-2h0m0 3h0m1 2h0m1 0h0m2-1h0m1-4h0m0 2h0m1-1h0m2-1h0m0 3h0m0 1h0m2-3h0m1 2h0m1-2h0m1 0h0m0 2h0m0 2h0m1-5h0m2 3h0m0 2h0m1-4h0m1 2h0m1 1h0m1-3h0m2 0h0m1 0h0m1 3h0m1 1h0m1-5h0m0 2h0m1 3h0m1-4h0m0 3h0m2-3h0m2 2h0m1-3h0m3 9h0m-2-3h0m-1 0h0m0 2h0m-1-2h0m-1 5h0m-1-4h0m-1 2h0m-1-3h0m-1 2h0m-2 2h0m-1-4h0m0 2h0m-1-1h0m0 3h0m-1-1h0m-1-2h0m0 3h0m-1-2h0m-3 0h0m0 1h0m-1 2h0m-1-5h0m0 1h0m0 2h0m-1 2h0m-1-2h0m-1 0h0m-2-3h0m0 2h0m-1 1h0m-1 2h0m-1-2h0m-2-1h0m0 3h0m-1-5h0m-1 3h0m0 2h0m-3-3h0m-2-2h0m-1 4h0m-2-3h0m-1 3h0m-2-4h0m-1 2h0m0 3h0m-3-3h0m-7 3h0m1 6h0m2-4h0m0 3h0m0 1h0m4-1h0m2-3h0m1 1h0m0 2h0m1 0h0m1-3h0m1 1h0m2 0h0m0 2h0m1-1h0m1-3h0m0 1h0m2 1h0m2-1h0m2 0h0m2 2h0m2 0h0m2-3h0m0 2h0m1 1h0m0 2h0m1-5h0m0 2h0m2 1h0m2 2h0m1-4h0m0 3h0m2-1h0m1-2h0m0 4h0m1-2h0m1-2h0m0 4h0m1-3h0m2 2h0m1-4h0m2 2h0m0 3h0m2-4h0m2 0h0m0 1h0m0 3h0m1-2h0m2 2h0m1-4h0m0 2h0m3 3h0m-3 2h0m-1 1h0m0 2h0m-3-4h0m-1 2h0m-1-2h0m-4 2h0m0 1h0m-3-2h0m0 2h0m-2-4h0m0 3h0m0 1h0m-2-4h0m0 5h0m-2-3h0m-2-1h0m0 3h0m-2-2h0m-3 1h0m-2-3h0m0 1h0m0 4h0m-3-4h0m-1 1h0m-1 3h0m-1-1h0m-1-3h0m-1 2h0m-1-3h0m-1 5h0m-1-1h0m-1-4h0m0 3h0m-1-1h0m0 1h0m0 2h0m-1-1h0m-1-4h0m0 2h0m-1 3h0m-1-5h0m-1 1h0m-1 2h0m-2-1h0m-1 3h0m-2-3h0m-1 2h0m-1-3h0m0 3h0m-2 0h0m-3-2h0m0 2h0m-13 6h0m2-4h0m0 4h0m2-4h0m0 2h0m4-2h0m3 1h0m2-1h0m1 4h0m3-4h0m0 3h0m1 2h0m1-5h0m0 2h0m1 1h0m0 1h0m1-3h0m2 0h0m1 4h0m1-4h0m0 2h0m2-1h0m2-1h0m0 2h0m1 2h0m1-2h0m1-2h0m1 1h0m0 2h0m2-2h0m1 2h0m1-4h0m1 2h0m1-1h0m2 0h0m0 2h0m1-1h0m3 1h0m1-1h0m1 2h0m2-2h0m3-2h0m2 1h0m3 0h0m0 2h0m1-3h0m0 4h0m2-3h0m0 3h0m1-3h0m0 4h0m1-1h0m2-4h0m0 2h0m1-1h0m0 4h0m1-2h0m2 0h0m1-1h0m2-1h0m1 4h0m1-1h0m1 6h0m-4-4h0m0 3h0m-1 1h0m-1-4h0m-2 0h0m0 4h0m-2-3h0m-1 2h0m-2-2h0m-1-1h0m0 2h0m-1 1h0m-1-1h0m-1 3h0m-1-5h0m-1 5h0m-1-2h0m0 2h0m-4-5h0m-1 2h0m0 2h0m0 1h0m-2-5h0m0 3h0m0 1h0m-1-4h0m-1 2h0m0 2h0m-3-4h0m0 3h0m-2 1h0m-1-4h0m-1 2h0m-1 3h0m-1-1h0m-1-4h0m0 2h0m-1 3h0m-1-5h0m0 2h0m-2-1h0m0 2h0m-1 2h0m-2-5h0m0 2h0m0 2h0m-1-2h0m-1-1h0m0 2h0m-2 2h0m-1-3h0m-1-2h0m0 3h0m-2-1h0m-1 0h0m-4-1h0m-2-1h0m-3 1h0m-2 1h0m-2 1h0m-5 0h0m-7-1h0m-8 1h0m-1-2h0m-1 2h0m-3-1h0m-1 1h0m0 2h0m-2-5h0m0 2h0m0 2h0m-3-1h0m-5-1h0m-1 2h0m-12-1h0m-1-2h0m-2 2h0m-1 1h0m-4 1h0m-2-3h0m-1 2h0m-4-2h0m-5 0h0m-2-2h0m0 2h0m-2 3h0m-2-1h0m-2-1h0m-20 8h0m8-2h0m2 2h0m2-2h0m1-2h0m1-1h0m0 2h0m1 3h0m1-4h0m1 3h0m4-1h0m1-3h0m1 2h0m2 1h0m1-2h0m1 3h0m3-3h0m1 3h0m1-3h0m1 2h0m2 2h0m1-5h0m0 1h0m2 0h0m0 2h0m1 1h0m1-3h0m1 2h0m1 2h0m1-4h0m1-1h0m1 1h0m2-1h0m0 4h0m4-4h0m0 5h0m3 0h0m3-4h0m0 3h0m3-1h0m2-1h0m1-2h0m0 4h0m2 1h0m3-3h0m1 1h0m1-3h0m2 1h0m1 1h0m1 3h0m3-5h0m0 5h0m2-1h0m3 1h0m3-4h0m1 4h0m5-4h0m3 0h0m5 4h0m3-5h0m2 0h0m1 2h0m1 2h0m1-3h0m0 4h0m3-4h0m0 1h0m0 2h0m2-3h0m0 3h0m2-1h0m1 2h0m1-4h0m1-1h0m0 2h0m2-2h0m0 1h0m0 4h0m1-2h0m1-1h0m1 3h0m1-3h0m2 2h0m1-2h0m2 1h0m1 2h0m1-3h0m1 1h0m0 1h0m1-4h0m1 3h0m1-3h0m1 3h0m0 2h0m3-4h0m0 2h0m1-1h0m0 2h0m1 1h0m1-3h0m1 1h0m1-2h0m0 3h0m1-2h0m2-2h0m1 5h0m3-2h0m1-2h0m0 3h0m3-4h0m0 5h0m1-2h0m1-2h0m1 0h0m1 4h0m3-4h0m3 0h0m-4 7h0m-2-1h0m0 4h0m-3-4h0m0 2h0m-3-3h0m0 2h0m0 2h0m-1-3h0m-1 1h0m-1 2h0m-1 1h0m-2-4h0m0 2h0m0 2h0m-1-5h0m-1 1h0m0 3h0m-1-4h0m-1 2h0m-1-2h0m-1 5h0m-1-2h0m-1-2h0m-2 1h0m0 3h0m-1-1h0m-5 0h0m-1-3h0m-1 3h0m-1-3h0m-1 3h0m-1-4h0m0 2h0m0 1h0m-1 2h0m-1-5h0m0 4h0m-2-1h0m-2-2h0m-1 3h0m-2-3h0m-1 2h0m-1-3h0m-1 2h0m0 2h0m-1 1h0m-3-1h0m-1-3h0m-1 2h0m-1-1h0m-2-2h0m-3 3h0m-2 2h0m-4-2h0m0 2h0m-1-5h0m-3 1h0m-1-1h0m-3 5h0m-3-3h0m0 2h0m-2-3h0m-2-1h0m-3 4h0m-2-3h0m-2 2h0m-2-3h0m-1 5h0m-1-4h0m0 2h0m-2-1h0m-2-1h0m-1 3h0m-2-3h0m-2-1h0m-3 2h0m0 3h0m-1-2h0m-2-1h0m-2-1h0m0 4h0m-2 0h0m-1-5h0m-3 3h0m0 2h0m-3-5h0m-7 1h0m0 2h0m-2 1h0m-2-1h0m-1-3h0m-1 4h0m-4 0h0m-2-1h0m-1-1h0m-1-1h0m-3 1h0m-2-1h0m-1 3h0m-3-2h0m-1 2h0m-3-2h0m0 3h0m-1 0h0m-2-4h0m-2-1h0m-1 3h0m-1-3h0m-5 8h0m2 0h0m0 3h0m2-3h0m0 2h0m2 0h0m2-3h0m1 3h0m1-3h0m2 1h0m1-1h0m1 4h0m1-2h0m2-1h0m1-2h0m0 4h0m1-4h0m1 4h0m4-2h0m0 2h0m0 1h0m1 0h0m1-4h0m1 4h0m1-5h0m4 1h0m1-1h0m2 0h0m0 5h0m2-2h0m1-3h0m1 3h0m0 2h0m1-5h0m0 4h0m2 0h0m1-3h0m1 2h0m2-2h0m1-1h0m0 3h0m1 0h0m2-1h0m1 2h0m1-2h0m1-1h0m1-1h0m0 3h0m1 2h0m1-3h0m0 2h0m2 0h0m1-3h0m3-1h0m0 4h0m1-1h0m4-3h0m0 3h0m0 1h0m1-2h0m2 1h0m1 2h0m3-3h0m0 2h0m2 1h0m1-5h0m3 3h0m3-2h0m2 4h0m2-5h0m2 1h0m1 1h0m1 2h0m3-3h0m3 4h0m2 0h0m3 0h0m6-3h0m0 2h0m5 1h0m3-3h0m2-1h0m1 2h0m1-2h0m1 1h0m5-1h0m1 4h0m1-4h0m1 1h0m2-2h0m0 4h0m3-1h0m3-3h0m1 0h0m0 3h0m2 2h0m1-4h0m1 1h0m1-1h0m2 1h0m0 2h0m1-3h0m2-1h0m0 1h0m1 2h0m1-3h0m1 0h0m0 2h0m1-1h0m0 4h0m2-5h0m1 2h0m3 0h0m0 2h0m1-4h0m1 3h0m1-1h0m2-2h0m2 4h0m-5 6h0m-1-4h0m-1 3h0m-1-1h0m-2-2h0m-1 2h0m0 2h0m-2-1h0m-1-2h0m-1 4h0m-1-2h0m-1-3h0m0 5h0m-1-5h0m-1 1h0m0 2h0m-1-3h0m-1 2h0m0 2h0m-3-3h0m-1 3h0m-2-1h0m0 2h0m-2 0h0m-2-1h0m-4-4h0m-1 3h0m0 2h0m-2-3h0m-2-2h0m-3 0h0m0 5h0m-2-2h0m0 2h0m-1-1h0m-1-4h0m-2 2h0m-2-2h0m-6 3h0m-2 1h0m-1-4h0m0 2h0m-1 1h0m-2 1h0m-3-3h0m-4-1h0m-5 1h0m0 4h0m-1-1h0m-2-2h0m-5-2h0m-1 2h0m-2-2h0m-1 5h0m-4-4h0m0 3h0m0 1h0m-2-2h0m-4 2h0m-1 0h0m-5-5h0m-3 0h0m0 3h0m-2-3h0m-1 2h0m0 3h0m-2-3h0m0 3h0m-3-1h0m-1-4h0m-2 2h0m0 3h0m-1-1h0m-3-4h0m0 4h0m-1 1h0m-2 0h0m-2-4h0m0 3h0m-1 0h0m-1-4h0m-1 4h0m-2 0h0m-1-3h0m-1 2h0m-1 2h0m-2-3h0m-3 0h0m0 3h0m-3-3h0m-4-2h0m0 3h0m0 2h0m-1-1h0m-3-3h0m-1 1h0m0 2h0m-4-3h0m-1 1h0m-3 2h0m-2 1h0m-1-4h0m-2 0h0m-1 2h0m-1-3h0m-5 5h0m2 4h0m4-2h0m2-1h0m0 5h0m4-5h0m3 0h0m0 4h0m0 1h0m2-2h0m2-1h0m0 3h0m2-5h0m0 2h0m2-2h0m0 3h0m2 2h0m2-4h0m2-1h0m1 5h0m7-4h0m3 1h0m1-2h0m0 5h0m1-1h0m1-2h0m1-2h0m0 3h0m0 2h0m2-1h0m2-4h0m2 0h0m0 3h0m2-2h0m1 2h0m3-2h0m1 0h0m3-1h0m1 2h0m0 2h0m3-4h0m2 2h0m1 3h0m5-2h0m4-2h0m2 0h0m0 2h0m1 1h0m5-2h0m2-2h0m1 2h0m3 3h0m1-3h0m6 0h0m2 3h0m2-4h0m0 4h0m3 0h0m3 0h0m3 0h0m1-3h0m2-1h0m0 3h0m1-1h0m2 0h0m3 0h0m2 0h0m2-3h0m1 2h0m4 2h0m1-4h0m5 3h0m3 1h0m2 0h0m1-2h0m1-1h0m2 3h0m0 1h0m1-3h0m1-2h0m1 4h0m2 1h0m1-2h0m2-2h0m1 3h0m1-4h0m2 2h0m0 1h0m2 1h0m2-2h0m0 1h0m1 2h0m1-5h0m2 0h0m1 1h0m2 2h0m-4 6h0m-1-1h0m-1 1h0m-1 2h0m-1-5h0m-1 4h0m-2-3h0m-2-1h0m-2 3h0m-1 2h0m-1-4h0m-1 2h0m-1-3h0m0 3h0m-3-2h0m-1 0h0m-1 1h0m-3-1h0m-1 3h0m-1-4h0m-1 3h0m-2-1h0m-3 1h0m-2-2h0m-13 0h0m-2 4h0m-1-5h0m0 2h0m-5 1h0m-1 1h0m-2-3h0m-1 1h0m0 2h0m-4-2h0m0 2h0m-3-1h0m-2 2h0m-2-5h0m-11 5h0m-2-4h0m-3 0h0m-2-1h0m0 2h0m-2 3h0m-3-4h0m0 2h0m-1-3h0m-3 1h0m-3 3h0m-3-2h0m-2 2h0m-2-3h0m0 3h0m-1-2h0m-2 2h0m-4 1h0m-1-4h0m-1 1h0m-1-2h0m0 5h0m-2-1h0m-1-4h0m-2 4h0m-1-1h0m-1-3h0m-2 3h0m-1-3h0m0 5h0m-1-4h0m-2 0h0m0 4h0m-7 0h0m-1 0h0m-3-3h0m-1-2h0m-2 1h0m-1 2h0m-2 2h0m-3 0h0m-1-2h0m-1-3h0m-2 5h0m-1-2h0m-2-2h0m-1 2h0m0 2h0m1 1h0m0 4h0m1 1h0m1-3h0m3-2h0m0 2h0m0 3h0m1-1h0m1 1h0m1-4h0m2 3h0m2-4h0m3 1h0m1 4h0m3-1h0m1 1h0m4-4h0m1-1h0m0 5h0m1-2h0m2 0h0m0 1h0m1-4h0m1 2h0m1-2h0m3 1h0m2 3h0m2-3h0m2 4h0m1-4h0m3 2h0m0 1h0m5-2h0m3-1h0m2-1h0m1 3h0m2-1h0m2 1h0m3 2h0m2-3h0m4 2h0m1-2h0m2 1h0m2-3h0m14 4h0m2-2h0m3 0h0m0 2h0m2-2h0m2-2h0m1 3h0m1-3h0m2 1h0m0 3h0m2-2h0m1 0h0m1-2h0m4 3h0m1 1h0m4-1h0m1-2h0m3 3h0m2-1h0m4-1h0m3-1h0m4 4h0m3-4h0m7 0h0m5 4h0m2-2h0m1 1h0m2 1h0m2-2h0m1-1h0m1 0h0m-2 5h0m-2 3h0m-1-2h0m-3 3h0m-2 0h0m-2-5h0m0 2h0m-2 2h0m-2-4h0m0 4h0m-1-3h0m-2 4h0m-1-1h0m-5-1h0m-1 2h0m-1-5h0m0 1h0m-1 2h0m-2-1h0m-3-1h0m-1 3h0m-2-1h0m-4 1h0m-2-2h0m-1 0h0m-2 0h0m0 2h0m-2 1h0m-1-5h0m0 1h0m-3 0h0m0 2h0m-1-1h0m-1-1h0m-5 4h0m-1-4h0m-2 0h0m-2 2h0m-4 0h0m-16 0h0m-6-3h0m-1 2h0m-2-1h0m-12 0h0m-1-1h0m-1 5h0m-2 0h0m-2-3h0m-2-2h0m0 2h0m-3-2h0m-3 1h0m-4 3h0m-1-3h0m-1 1h0m-1 1h0m-2 0h0m0 2h0m-1-3h0m-4-1h0m0 4h0m-5 0h0m-2-5h0m-3 3h0m0 1h0m-1-4h0m-2 2h0m0 2h0m-1-4h0m-2 3h0m-1-1h0m-2 3h0m-2-3h0m-1-1h0m-2 2h0m-2 1h0m0 2h0m3 3h0m2-1h0m0 3h0m3-2h0m1-2h0m2-1h0m2 1h0m0 2h0m5 2h0m1-1h0m2 0h0m2-4h0m2 4h0m3-2h0m1 2h0m4-4h0m0 2h0m2-2h0m1 2h0m3-2h0m0 3h0m3 1h0m2-3h0m1 3h0m1-1h0m1 2h0m3-3h0m2 1h0m0 2h0m7-4h0m7 0h0m1 3h0m4-1h0m3-2h0m16 2h0m2-1h0m0 2h0m1-4h0m5 3h0m1-2h0m2 1h0m1-2h0m0 5h0m1-4h0m1 3h0m1-4h0m1 5h0m2-1h0m1-4h0m1 3h0m0 2h0m3-4h0m1 2h0m1-3h0m2 4h0m1-4h0m1 0h0m0 4h0m2-3h0m1 2h0m2-3h0m1 3h0m0 2h0m1-4h0m2 2h0m4-1h0m1 3h0m1-5h0m1 2h0m2-2h0m1 2h0m0 2h0m0 1h0m3-5h0m0 5h0m7-2h0m2-1h0m0 2h0m2-2h0m0 2h0m1-4h0m2 10h0m-5-4h0m-3 1h0m0 3h0m-2 1h0m-4 0h0m-2-4h0m0 1h0m-2-2h0m-2 1h0m0 3h0m-5 0h0m-2-3h0m-1 4h0m-1-3h0m-3 2h0m-4 0h0m-1-3h0m-3 2h0m-1 1h0m-1-2h0m-1-1h0m0 3h0m-4 0h0m-1-3h0m-2-1h0m0 3h0m-5 2h0m-2-3h0m-2-1h0m-2 3h0m-2 0h0m-2-3h0m-13-1h0m-5 0h0m-4 5h0m-6-2h0m-5-3h0m-3 1h0m0 2h0m0 2h0m-1-5h0m-3 3h0m-2 2h0m-1-2h0m-2-1h0m-1-1h0m-2 0h0m0 4h0m-4-5h0m-3 0h0m-3 1h0m-3-1h0m-1 4h0m-1-4h0m-3 0h0m-2 3h0m-3-1h0m-1-1h0m0 4h0m-4-4h0m0 2h0m-2-2h0m-1 2h0m0 2h0m-2 0h0m-2-2h0m-1 1h0m3 5h0m1-1h0m3 3h0m1-2h0m2 0h0m3 2h0m1-3h0m1 1h0m2 1h0m1-4h0m2 3h0m1-2h0m1 2h0m1-2h0m2 1h0m0 2h0m4 0h0m2-4h0m0 5h0m1-2h0m2 0h0m1-1h0m0 2h0m1-1h0m1 1h0m4-4h0m0 2h0m0 3h0m4-5h0m0 4h0m1-2h0m2-1h0m1 1h0m0 3h0m6-3h0m3 2h0m29-4h0m2 2h0m0 2h0m6-4h0m1 3h0m1 0h0m2-3h0m2 0h0m0 4h0m2-2h0m0 2h0m1-3h0m1 1h0m2 1h0m4-2h0m0 2h0m2-1h0m1 1h0m2-3h0m0 4h0m2-3h0m2 0h0m1 3h0m2 1h0m1-2h0m5 1h0m4-1h0m2-2h0m1 3h0m3-2h0m1 2h0m1-3h0m1-1h0m1 7h0m0 3h0m-5-2h0m-2 0h0m0 2h0m-4-2h0m-4-2h0m-3 3h0m-2 1h0m-2-4h0m0 1h0m-2 2h0m-1-1h0m0 3h0m-2-5h0m-3 2h0m-1-1h0m0 4h0m-1-4h0m-1 2h0m0 2h0m-2 0h0m-1-3h0m-1 2h0m-2 1h0m-1-3h0m-1-1h0m0 1h0m-2-1h0m-6 4h0m-7-1h0m-1-3h0m-21-1h0m-2 4h0m-1-3h0m-1 4h0m-1-3h0m-2 0h0m-2 2h0m-7-1h0m-1-3h0m-2 3h0m-1 2h0m-3-5h0m0 1h0m-2 0h0m0 4h0m-1-5h0m-1 2h0m0 1h0m-1 2h0m-3 0h0m-1-3h0m-1-1h0m-1 2h0m-1-1h0m0 3h0m-1-4h0m-2-1h0m-3 1h0m-1-1h0m-1 3h0m0 2h0m-1-5h0m-1 2h0m-2 2h0m-2-3h0m0 3h0m-1-3h0m-1-1h0m0 5h0m-4-1h0m-2-3h0m8 7h0m2-2h0m0 4h0m1-2h0m1-1h0m1 2h0m2-2h0m0 4h0m1-5h0m2 0h0m0 3h0m1-2h0m0 3h0m1-4h0m1 2h0m1-1h0m2 2h0m1-2h0m3 2h0m2-2h0m0 3h0m1-3h0m1 4h0m2-5h0m0 5h0m2-1h0m1-2h0m2 1h0m1-3h0m2 3h0m1-2h0m1 3h0m1-2h0m0 3h0m2-2h0m3 2h0m4-3h0m3-1h0m27 0h0m3 1h0m0 2h0m6-4h0m0 5h0m2-5h0m6 4h0m1-3h0m2 2h0m5 0h0m4 2h0m1-5h0m1 1h0m3-1h0m0 1h0m0 2h0m4-1h0m2-2h0m0 5h0m1-4h0m1 3h0m1-2h0m2-1h0m1 4h0m2-1h0m4 3h0m0 4h0m-4-1h0m-3 0h0m-1-1h0m-1-2h0m-3 1h0m-1-2h0m-1 3h0m-1-2h0m-3 3h0m-2-1h0m-8 0h0m-1-3h0m-3 2h0m-3 0h0m0 2h0m-1-2h0m-5-1h0m-5 1h0m0 2h0m-2-3h0m-1 2h0m0 2h0m-1-5h0m-1 1h0m-1-1h0m-1 3h0m-7-1h0m-14 3h0m-14-2h0m-2-1h0m-1 0h0m-1 3h0m-2-2h0m0 2h0m-1-3h0m-2-1h0m0 4h0m-1-1h0m-6-2h0m-2-1h0m0 3h0m-1 1h0m-1-2h0m-1-3h0m0 2h0m-2-1h0m0 2h0m-1 2h0m-1-5h0m-1 2h0m-1 3h0m-1-3h0m0 2h0m-1-4h0m0 3h0m-3-2h0m0 3h0m7 3h0m0 2h0m2-3h0m1 4h0m2-3h0m0 3h0m1-2h0m2-1h0m0 3h0m2-2h0m0 3h0m1-4h0m2 2h0m1-3h0m2 2h0m1 2h0m1-4h0m1 5h0m2-4h0m4 1h0m2 1h0m2-2h0m19 1h0m18-1h0m2 2h0m2-1h0m3-2h0m0 2h0m0 3h0m3-4h0m6 0h0m16 0h0m2-1h0m2 3h0m0 2h0m3-5h0m0 4h0m2 0h0m5-1h0m2-2h0m1 4h0m0 3h0m0 3h0m-1-2h0m-3-1h0m-1 1h0m-3-1h0m-2-1h0m-1 2h0m0 1h0m-2 1h0m-5-4h0m-19-1h0m-8 2h0m-32-1h0m-2 4h0m-3 0h0m-4-3h0m-12 0h0m-2 3h0m-1-5h0m0 2h0m-1 3h0m-1-3h0m-2 2h0m-4-3h0m-1 4h0m-7-5h0m14 6h0m4 0h0m64 4h0m20 0h0m1-3h0m7 1h0m0 3h0m2 0h0m1-3h0m1-1h0m1-1h0m0 4h0m0 1h0m5-3h0m0 3h0m0 2h0m-2 1h0m0 3h0m-2 0h0m-1-3h0m0 2h0m-1-4h0m-2 1h0m0 2h0m0 2h0m-2-2h0m-2-2h0m-30 7h0m2 2h0m31-4h0m3 0h0m1 5h0m3 0h0m2-1h0m1-3h0m2 3h0m2 3h0m-3 3h0m6 3h0"/>
<path stroke="#c13a3c" d="M2138 251h0m-1 3h0m4 2h0m1-2h0m2 2h0m1-2h0m6 6h0m0 3h0m-6-4h0m0 3h0m-2-3h0m-1 1h0m9 7h0m1-1h0m2 0h0m0 3h0m2-1h0m7 7h0m-5-1h0m-2-3h0m0 2h0m-3-3h0m0 4h0m3 2h0m2 0h0m0 1h0m1 0h0m2 3h0m1-4h0m2 4h0m8 7h0m-3-1h0m-2-4h0m-1 3h0m0 2h0m-1 0h0m-1-5h0m0 3h0m-2-1h0m4 5h0m3 0h0m0 3h0m1-1h0m2-1h0m1 2h0m1-1h0m0 2h0m2 0h0m3 0h0m13 6h0m-7 0h0m-2 0h0m-1-3h0m-2-1h0m-1 1h0m0 2h0m-3-3h0m0 4h0m-1-1h0m-1-3h0m-2-1h0m-2 0h0m4 6h0m7 3h0m3-1h0m3 3h0m8-5h0m0 4h0m7 0h0m1-3h0m8 3h0m6 0h0m29 5h0m-22 2h0m-3-5h0m-1 4h0m-1 1h0m-3-4h0m-3 1h0m-1 3h0m-2-2h0m-4-2h0m0 3h0m-3-1h0m0 2h0m-1-3h0m-4-2h0m0 3h0m-1-3h0m-1 3h0m-1-1h0m-1 3h0m-2-4h0m0 3h0m-3 0h0m-4-4h0m-4 3h0m-14-1h0m-5-2h0m-1 5h0m-2-2h0m-1 2h0m24 1h0m3 1h0m4 1h0m3 1h0m1-2h0m1 2h0m1 2h0m3-1h0m2-2h0m3 3h0m4-2h0m1-2h0m2 4h0m1-3h0m3-2h0m0 2h0m5 2h0m2 0h0m3 0h0m8-1h0m0 2h0m1-5h0m4 5h0m2 0h0m2-4h0m1 3h0m11 6h0m-3-4h0m0 4h0m-2-1h0m-1-2h0m-3 2h0m-4 2h0m-1-4h0m-2 2h0m-2-1h0m-2 1h0m-2 2h0m-1-3h0m-2-1h0m0 3h0m-2-2h0m0 3h0m-1-5h0m-2 5h0m-2 0h0m-1-3h0m-6-2h0m0 2h0m-2 2h0m-1-3h0m-2 2h0m0 1h0m-2-3h0m-2 3h0m-2 0h0m-3 1h0m-1-3h0m-1 1h0m-2-3h0m0 2h0m-6-1h0m-1-1h0m0 5h0m-6 3h0m2-1h0m2 2h0m3 2h0m3-3h0m4-2h0m1 5h0m3 0h0m2-3h0m0 2h0m2 0h0m1-1h0m0 2h0m2-4h0m1 0h0m0 4h0m3-4h0m1 2h0m3-3h0m1 5h0m1-1h0m2-2h0m4 2h0m1-3h0m1 4h0m1-2h0m1-2h0m0 4h0m3-2h0m2 1h0m1-3h0m2 3h0m1-4h0m0 5h0m4-5h0m2 4h0m4-2h0m0 2h0m2-2h0m3 2h0m3 0h0m3 5h0m-2 2h0m-2 0h0m-4-5h0m-1 3h0m0 2h0m-1-4h0m-1 4h0m-4-5h0m0 4h0m-3-4h0m-2 2h0m0 3h0m-1-1h0m-1-2h0m-2 0h0m-1-2h0m-1 5h0m-2-3h0m-2 0h0m-2 1h0m-2-1h0m-2-2h0m0 2h0m-5 1h0m-2-3h0m-1 5h0m-1-4h0m-2-1h0m-1 2h0m-5 0h0m-6 3h0m-3-1h0m-3-4h0m0 3h0m-2 1h0m-3-1h0m2 3h0m3 2h0m0 2h0m2 1h0m6-2h0m0 2h0m1-4h0m1 2h0m0 2h0m1-2h0m3-3h0m1 2h0m1-1h0m1 3h0m2-1h0m0 1h0m1 1h0m2 0h0m1-5h0m0 4h0m1-2h0m2 1h0m0 2h0m2-5h0m0 2h0m0 2h0m2-4h0m0 4h0m2-3h0m0 2h0m2-1h0m2-1h0m0 2h0m1 2h0m2-2h0m3-2h0m1 1h0m0 2h0m2-3h0m1 2h0m0 2h0m1-1h0m1-4h0m1 1h0m1 2h0m1-3h0m0 5h0m1-3h0m1 2h0m2 0h0m1 0h0m1-4h0m0 3h0m1-1h0m3 1h0m2-3h0m-3 9h0m-2-3h0m-1 1h0m0 2h0m-1 1h0m-2-4h0m0 5h0m-1-2h0m-4-3h0m0 3h0m0 2h0m-2-3h0m0 2h0m-2-2h0m0 2h0m-3-3h0m0 2h0m-1-1h0m-1 1h0m-1-2h0m-4 0h0m0 1h0m-2 0h0m0 2h0m-1-2h0m-1-2h0m-1 0h0m0 4h0m-1-1h0m-2-1h0m0 2h0m-3-3h0m0 3h0m-2 1h0m-2-2h0m-2 1h0m-1-4h0m-1 2h0m0 2h0m-1-2h0m-2-1h0m-1-1h0m-1 4h0m-2-3h0m-4 4h0m-2-2h0m-4-3h0m-6 9h0m1 2h0m5-5h0m1 0h0m3 2h0m2-1h0m1 3h0m3-3h0m1 3h0m2 1h0m1-1h0m1-2h0m1 3h0m1-1h0m1-3h0m1-1h0m0 3h0m1 1h0m2 1h0m1-4h0m0 2h0m2 2h0m4-5h0m0 4h0m2 1h0m1-4h0m1-1h0m1 1h0m2 0h0m1 3h0m1-1h0m1-3h0m0 5h0m1-3h0m1-1h0m0 4h0m2-5h0m0 3h0m0 2h0m1-3h0m1 3h0m2-5h0m0 5h0m1 0h0m1-3h0m0 2h0m1-4h0m1 4h0m2-1h0m0 2h0m4-1h0m2-4h0m0 6h0m-3 0h0m0 4h0m-7-3h0m0 3h0m-2 1h0m-2-4h0m0 2h0m0 2h0m-1-1h0m-2-2h0m-2 0h0m0 2h0m-2-3h0m0 2h0m-1 0h0m-2 1h0m-2-2h0m-1 1h0m-1 1h0m-2-2h0m-1-2h0m0 2h0m0 3h0m-4-4h0m-3 1h0m-1-1h0m-1 1h0m-1 3h0m-1 0h0m-1-3h0m-1-1h0m0 4h0m-3-4h0m-1 4h0m-2 0h0m-1-5h0m-4 1h0m0 1h0m0 3h0m-2-3h0m-1-1h0m-2 2h0m-1-1h0m0 3h0m-5-2h0m-2-2h0m-2 4h0m-5-1h0m-6 7h0m2-3h0m0 2h0m4 1h0m3-5h0m4 0h0m1 2h0m1 3h0m1-3h0m8 0h0m4-2h0m7 2h0m1-1h0m2 0h0m0 2h0m1 2h0m2-4h0m0 4h0m2-5h0m3 1h0m0 3h0m1 0h0m2-2h0m2 3h0m1-5h0m1 1h0m1-1h0m1 5h0m1-3h0m2-2h0m2 2h0m1-2h0m1 3h0m1-2h0m1-1h0m0 1h0m0 3h0m3 1h0m2-2h0m0 1h0m3-3h0m1-1h0m2 0h0m-3 7h0m-10 1h0m0 3h0m-4-1h0m-1-3h0m-2 2h0m0 2h0m-1-5h0m0 2h0m-2-1h0m0 4h0m-1-2h0m-2-3h0m0 2h0m-1 3h0m-1-1h0m-2-4h0m-1 2h0m0 2h0m-1-4h0m0 1h0m0 2h0m-1-2h0m0 4h0m-1-2h0m-2 0h0m-1-2h0m0 2h0m-1-1h0m-1 2h0m-4 0h0m-1-4h0m-2 3h0m-3 1h0m-3-3h0m0 2h0m-7 0h0m-3 1h0m0 1h0m-1-4h0m-5 0h0m0 2h0m-2 0h0m-4-2h0m-1 4h0m-5-2h0m-2 1h0m-79 7h0m77-5h0m0 2h0m2 1h0m1 2h0m3-4h0m0 2h0m2-2h0m0 3h0m1-4h0m0 3h0m1-1h0m2 1h0m1 2h0m1-2h0m1-3h0m0 1h0m0 2h0m0 2h0m3-3h0m0 3h0m1-5h0m2 2h0m6 0h0m3-1h0m0 4h0m2-1h0m1-1h0m6-3h0m0 5h0m3-4h0m0 2h0m1-1h0m2 1h0m2 0h0m1 2h0m2-5h0m3 0h0m2 2h0m1-1h0m0 4h0m1-2h0m4-2h0m2 1h0m-3 5h0m-3-1h0m-2 2h0m-4 2h0m-4-1h0m-3 0h0m-2-3h0m-6 1h0m0 2h0m-3-1h0m0 1h0m-8-2h0m-4-1h0m-3 1h0m0 3h0m-3-2h0m0 2h0m-2 1h0m-1-3h0m-1-2h0m-1 0h0m0 3h0m-1-1h0m-1 2h0m-2-4h0m0 4h0m-1-2h0m0 2h0m-1-3h0m0 4h0m-2-3h0m-1-2h0m0 4h0m-2-4h0m0 3h0m0 2h0m-1-3h0m-1 2h0m-3-4h0m-2 0h0m-4 4h0m-2-2h0m-1-1h0m0 2h0m-2 2h0m-2-4h0m0 3h0m-2-2h0m0 2h0m-4 1h0m-2 0h0m-2-1h0m-2 1h0m-7 0h0m-50-3h0m33 9h0m2-1h0m2-1h0m5 2h0m1-5h0m1 4h0m1-1h0m1-3h0m0 5h0m2-5h0m1 3h0m2-1h0m0 2h0m2 0h0m1-1h0m1 2h0m3-2h0m1-2h0m2 0h0m0 2h0m0 1h0m2-2h0m1-1h0m2 2h0m0 2h0m3-3h0m1 2h0m2-4h0m0 3h0m0 1h0m3-3h0m2 2h0m2-2h0m0 2h0m2-1h0m1-1h0m2 1h0m2-1h0m0 3h0m2-2h0m1-1h0m0 3h0m1-4h0m2 3h0m2-2h0m1 3h0m1-4h0m0 3h0m1 1h0m2-3h0m2 0h0m0 3h0m2-4h0m3 1h0m3-1h0m3 2h0m1-2h0m1 2h0m2-2h0m2 4h0m1-4h0m1 1h0m0 4h0m3-1h0m6-4h0m4 3h0m2-2h0m2 0h0m3-1h0m-41 7h0m-10 0h0m-6-1h0m-4 0h0m-13 1h0m-2-1h0m0 3h0m-3-2h0m-3 0h0m-5-1h0m-1 1h0m-2-1h0m-1 2h0m-3 0h0m-2 1h0m-1-2h0m-5-1h0m0 1h0m-2-1h0m-3 4h0m-2 1h0m-1-3h0m-2-1h0m0 4h0m-2-4h0m-1 3h0m-1-1h0m0 2h0m-3-5h0m-1 4h0m-1-4h0m0 3h0m-1 1h0m-2-2h0m0 2h0m-7 0h0m-1 0h0m-4 5h0m0 2h0m3-3h0m2 0h0m1 0h0m1 2h0m2 0h0m1-3h0m1 2h0m6-3h0m2 1h0m3-1h0m1 1h0m3-1h0m4 1h0m53-1h0m7 6h0m-7 1h0m-8 3h0m-3-4h0m-1 2h0m-3 3h0m-10-4h0m-8 3h0m-14-1h0m-32 1h0m-2-3h0m-5-1h0m-2 1h0m0 2h0m-2-2h0m-1 2h0m-3 1h0m-1-1h0m1 4h0m3 0h0m2-1h0m2 1h0m33 1h0m2 2h0m23-1h0m13 2h0m6-4h0m17 0h0m1 6h0m-12 1h0m-54 2h0m-9 0h0m-29 6h0m6-2h0m15-1h0m41 0h0m3 3h0m2 1h0m4-1h0m3-1h0m18-1h0m3 5h0m-2 2h0m-2 1h0m-1-2h0m-2-2h0m0 3h0m-2-3h0m-1 4h0m-2-2h0m-6-2h0m0 3h0m0 2h0m-4-4h0m0 3h0m-3-2h0m-1 2h0m-1-4h0m-1 2h0m0 3h0m-1-3h0m-2 1h0m-1-3h0m-3 0h0m-9 0h0m-4 0h0m-6 5h0m-2-5h0m-5 0h0m-34 3h0m-3-1h0m-1 4h0m3 5h0m29-4h0m5 3h0m24 0h0m2-1h0m3-3h0m0 2h0m3 0h0m1 2h0m2-2h0m2 3h0m1-5h0m0 3h0m2-1h0m5-1h0m0 4h0m1-2h0m1-1h0m1-1h0m0 3h0m1-1h0m1-3h0m0 5h0m2-4h0m1 4h0m2-4h0m0 2h0m0 2h0m2-5h0m0 2h0m2 3h0m2-5h0m-9 10h0m-1-4h0m0 3h0m-3-2h0m-3 2h0m-4 1h0m-1-3h0m-2 2h0m-3 2h0m-1-5h0m-2 0h0m-4 1h0m0 2h0m-2-1h0m-1 3h0m-1-4h0m-1-1h0m-2 3h0m-1-2h0m-2 0h0m-24 1h0m-17 2h0m-14-4h0m-1 4h0m-5-3h0m11 6h0m3 1h0m9-2h0m37 5h0m2 0h0m3-3h0m1 2h0m2-1h0m1 2h0m3-4h0m0 4h0m1-1h0m0 1h0m2-2h0m6-3h0m0 4h0m2-2h0m3-1h0m0 3h0m3-4h0m-5 6h0m-6 0h0m0 3h0m-3-3h0m-3 0h0m-6 2h0"/>
<path stroke="#e27b62" d="M2254 831h0m25 6h0m-3-1h0m-1-1h0m-1 3h0m-1-1h0m0 2h0m-2-1h0m-4 0h0m-1-2h0m-1-2h0m0 3h0m-2 1h0m0 1h0m-3 0h0m-4-3h0m0 2h0m-2-3h0m-1 4h0m-1-2h0m-2 2h0m-3-1h0m-2 0h0m-99 4h0m4 3h0m1-4h0m5 0h0m4 1h0m1 2h0m3-2h0m2-2h0m2 5h0m2-4h0m8 1h0m59 3h0m2-1h0m1-3h0m1 1h0m0 1h0m1-1h0m1 2h0m2-2h0m2-1h0m1 2h0m3-2h0m0 2h0m2 2h0m1-2h0m2-2h0m1 2h0m1-3h0m0 4h0m1-2h0m2-2h0m0 2h0m1 0h0m0 2h0m2-2h0m0 3h0m2-5h0m0 2h0m0 2h0m2-3h0m0 2h0m1-3h0m0 5h0m2-3h0m1 1h0m1-1h0m0 3h0m1-3h0m1-2h0m1 2h0m0 2h0m1-4h0m0 1h0m2-1h0m0 3h0m2-3h0m2 0h0m1 2h0m2 0h0m0 2h0m10 6h0m-3-2h0m-2 2h0m-2-4h0m0 4h0m-2-2h0m-1 2h0m-1-4h0m0 5h0m-3-4h0m0 2h0m-1 1h0m-1-4h0m-1 5h0m-1-4h0m0 3h0m-1-4h0m-1 3h0m0 2h0m-2-4h0m-2 4h0m-1-4h0m-1 1h0m0 3h0m-2-4h0m-1 2h0m0 1h0m-1-4h0m-4 0h0m0 5h0m-2-5h0m0 3h0m-2-2h0m0 4h0m-1-5h0m0 3h0m-1 1h0m-1-4h0m-2 3h0m-1-2h0m-1 2h0m-2-2h0m0 2h0m-2-2h0m-1-1h0m0 1h0m-2-1h0m0 3h0m0 2h0m-1-4h0m-2-1h0m0 2h0m0 3h0m-2 0h0m-1 0h0m-1-4h0m0 2h0m-2 2h0m-1-2h0m0 2h0m-3-3h0m-9 1h0m-1-3h0m-23 4h0m-5-1h0m-8 0h0m-1-2h0m0 2h0m-2-2h0m-4 0h0m0 3h0m-1-2h0m-1 2h0m-1-4h0m-1 2h0m-1 2h0m-1-4h0m-1 2h0m-1-2h0m0 5h0m-1-4h0m-2 4h0m-3-1h0m-1-4h0m0 3h0m0 2h0m-2-5h0m-2 3h0m0 2h0m-1-4h0m-1 4h0m-2-5h0m-1 1h0m0 2h0m-2 1h0m-2-3h0m0 3h0m-3-4h0m0 3h0m-2 1h0m-1-2h0m-1-2h0m-4 0h0m-1 3h0m0 2h0m-2 0h0m-3-3h0m0 3h0m-2-3h0m-2 3h0m-7-1h0m-2-3h0m-10 4h0m-9 5h0m5-3h0m6 3h0m1-2h0m3 0h0m2 0h0m1 1h0m1-3h0m5 0h0m1 4h0m1-3h0m1-1h0m0 4h0m3-4h0m0 4h0m1-3h0m1 2h0m3-2h0m1 2h0m0 1h0m2-4h0m0 2h0m3 1h0m1-2h0m1 4h0m1-2h0m1 2h0m1-5h0m0 2h0m1 0h0m2 0h0m2-2h0m1 1h0m1 4h0m1-4h0m1 2h0m0 2h0m1-5h0m0 1h0m1 4h0m2-4h0m1 2h0m0 2h0m1-5h0m2 1h0m1 1h0m0 2h0m3-4h0m1 2h0m0 2h0m2 0h0m1-2h0m1 2h0m3-2h0m0 1h0m1 0h0m1-2h0m0 3h0m2-3h0m0 1h0m1 2h0m2-2h0m0 1h0m2-3h0m0 4h0m1-4h0m0 3h0m2-2h0m0 4h0m2-5h0m0 2h0m2-2h0m3 2h0m2 0h0m4 0h0m2 2h0m4-2h0m0 2h0m8 0h0m4-2h0m1-2h0m3 1h0m2 2h0m1-3h0m1 5h0m2-4h0m1 1h0m1-2h0m1 3h0m2-3h0m0 4h0m1-2h0m0 3h0m1-1h0m1-3h0m2 3h0m1-1h0m2 0h0m1 2h0m1-2h0m1-2h0m1 3h0m1-4h0m0 2h0m2 0h0m0 2h0m1 1h0m1-4h0m1-1h0m1 3h0m1-3h0m0 5h0m1-3h0m1-2h0m2 1h0m0 2h0m2-2h0m0 2h0m0 2h0m2-1h0m1-2h0m1-2h0m0 4h0m1-1h0m0 2h0m1-5h0m1 1h0m0 2h0m2-2h0m0 4h0m1-1h0m2-4h0m1 4h0m2-3h0m0 4h0m2-2h0m1-2h0m1 4h0m1-3h0m1 3h0m2-5h0m0 2h0m1 3h0m1-4h0m0 2h0m1-3h0m1 1h0m1 3h0m1-4h0m1 2h0m3-2h0m0 2h0m1 2h0m2-3h0m1 4h0m1-4h0m4 3h0m3 3h0m-2 3h0m-1-2h0m-2-2h0m0 2h0m0 2h0m-3-2h0m0 2h0m-2-3h0m-2 3h0m-2-3h0m-2 1h0m-1-1h0m-1 1h0m-1-2h0m-1 3h0m0 2h0m-1-4h0m-2-1h0m0 3h0m-1-1h0m-1 1h0m0 1h0m-2-3h0m0 2h0m0 2h0m-2-5h0m0 4h0m-1-1h0m0 2h0m-1-1h0m-1-2h0m0 3h0m-2-4h0m0 3h0m-2-3h0m0 3h0m-3-4h0m0 5h0m-1-3h0m-1-2h0m-1 1h0m-3 1h0m0 2h0m-1-4h0m0 5h0m-1-4h0m-1-1h0m-1 2h0m-1-1h0m0 2h0m-1 2h0m-1-4h0m0 2h0m-1-3h0m-1 3h0m-2-2h0m0 1h0m0 2h0m-1-1h0m-2 0h0m-2 1h0m-1-3h0m-1 3h0m-1-4h0m-4 2h0m-1 1h0m-1 1h0m-1-4h0m-4 2h0m-3 2h0m-1 1h0m-2-1h0m-1-2h0m-2 0h0m-1 2h0m-3-3h0m-3 0h0m-4-1h0m0 4h0m0 1h0m-4-3h0m-1 3h0m-1-1h0m-1-1h0m0 2h0m-3-5h0m0 2h0m-3 0h0m-1 2h0m-3 1h0m-2-3h0m-2-1h0m0 4h0m-2-2h0m-2 0h0m-1 2h0m-2-2h0m0 1h0m-1-4h0m0 4h0m-3-3h0m0 2h0m0 2h0m-2-5h0m0 2h0m-1-1h0m0 4h0m-2-1h0m-1-2h0m-4 1h0m-1-3h0m-2 2h0m-1 1h0m-1-2h0m-2 0h0m0 4h0m-1-3h0m-1-2h0m0 4h0m-2-1h0m-2-1h0m-1 0h0m-4 0h0m-2-2h0m-1 3h0m0 1h0m-3 0h0m-1-2h0m0 3h0m-1-1h0m-2-4h0m0 4h0m-1 1h0m-1-5h0m0 3h0m-2-3h0m-3 2h0m-6 0h0m-5 2h0m-2-3h0m0 4h0m-7-5h0m-1 5h0m-2-2h0m-1 2h0m-2-1h0m-2-3h0m0 3h0m-1-2h0m-1-2h0m-1 1h0m-2 4h0m-2-2h0m-3 0h0m-1-1h0m-1-2h0m-3 5h0m-1-3h0m0 3h0m-17 6h0m2-5h0m0 5h0m9 0h0m2-1h0m2 1h0m1-1h0m1-2h0m0 1h0m3-3h0m2 2h0m2-1h0m0 4h0m1-2h0m1-3h0m2 0h0m1 4h0m1-2h0m3 1h0m1-3h0m4 1h0m0 4h0m2-3h0m0 2h0m2 1h0m2-2h0m1 1h0m1-2h0m2-1h0m1 3h0m4 0h0m1-4h0m1 5h0m1-3h0m1 0h0m1-2h0m0 2h0m0 3h0m1-1h0m2-4h0m1 4h0m3-4h0m2 4h0m2-3h0m1 3h0m2 1h0m2-3h0m1-1h0m2 0h0m0 2h0m1-2h0m0 2h0m0 2h0m2-3h0m1-2h0m1 2h0m0 2h0m3-2h0m0 2h0m2-2h0m2-1h0m0 2h0m4-2h0m1 2h0m1-3h0m0 3h0m0 2h0m3-5h0m0 5h0m1-3h0m2-1h0m0 3h0m1-4h0m1 3h0m1-2h0m1 1h0m0 2h0m2-2h0m2-1h0m3 1h0m0 2h0m2-3h0m1 4h0m1-3h0m2-1h0m0 4h0m3 0h0m1-2h0m1 2h0m2-4h0m2 0h0m0 3h0m7-2h0m1 2h0m1-2h0m2 0h0m5 0h0m1-1h0m3-1h0m0 4h0m5-2h0m3-1h0m2 1h0m0 3h0m1-5h0m2 0h0m2 4h0m1-3h0m1 4h0m2-5h0m1 3h0m1-3h0m0 1h0m1 3h0m2-2h0m3-1h0m0 1h0m0 2h0m2 0h0m1 1h0m1-4h0m0 1h0m2 2h0m3-3h0m1 3h0m1-4h0m0 1h0m1 2h0m1 1h0m1-2h0m1 0h0m1-1h0m0 4h0m2-4h0m1 2h0m3 2h0m1-2h0m1-3h0m0 3h0m2-2h0m1 2h0m0 2h0m1-4h0m2 3h0m1-2h0m1 1h0m1-2h0m0 4h0m1 0h0m1-4h0m0 2h0m1 2h0m2-4h0m0 2h0m1-3h0m0 5h0m1-2h0m2-2h0m0 2h0m2-1h0m0 3h0m2-1h0m1-4h0m0 2h0m1 2h0m1-4h0m1 3h0m1-2h0m1 3h0m1-4h0m1 5h0m1-3h0m1 3h0m3-4h0m0 4h0m1-2h0m3 7h0m-1-4h0m0 2h0m-2 2h0m-3-4h0m0 3h0m-1 2h0m-5-4h0m-1 2h0m-1-3h0m-1 3h0m-2 0h0m-1-2h0m0 3h0m-2-2h0m-1-1h0m0 3h0m-2-2h0m-1 2h0m-1-2h0m-1 3h0m-1-1h0m-1 1h0m-1-2h0m-3-3h0m0 4h0m-1-2h0m-1 0h0m-2 1h0m-2-1h0m0 1h0m-1 2h0m-1-4h0m-1 4h0m-1-3h0m-1 2h0m-1-4h0m0 4h0m-2-2h0m0 3h0m-2-2h0m-1-2h0m0 2h0m-3-1h0m0 2h0m-3-4h0m0 2h0m-2-2h0m0 5h0m-1-1h0m-1-2h0m0 3h0m-1-1h0m-1-2h0m-1-2h0m-1 1h0m-1 0h0m0 4h0m-1-1h0m-1-3h0m-1-1h0m0 3h0m-2-3h0m-1 3h0m-3-1h0m-6 0h0m-4 1h0m-1-3h0m-3 1h0m-2-1h0m-1 1h0m0 4h0m-3 0h0m-2-1h0m-2-3h0m-3 3h0m-3-2h0m0 2h0m-2-4h0m-1 3h0m-3-3h0m-1 5h0m-1-4h0m0 3h0m-3 0h0m-1 1h0m-3-3h0m0 3h0m-2-1h0m0 1h0m-2 0h0m-1-3h0m0 1h0m-2-1h0m-1 1h0m-3-2h0m0 3h0m-1-4h0m0 5h0m-1-5h0m0 2h0m-3-1h0m-2 3h0m-1-4h0m0 2h0m-1 1h0m-1-1h0m-3 0h0m-1 1h0m-1-3h0m0 2h0m0 3h0m-3-2h0m-1 2h0m-1-3h0m-3 1h0m-1 2h0m-3 0h0m-2-3h0m0 2h0m-2-3h0m-1-1h0m-2 4h0m-1-1h0m-1 2h0m-2-5h0m-3 0h0m0 5h0m-1-3h0m-2-2h0m0 2h0m-1 2h0m-2-4h0m0 4h0m0 1h0m-1-5h0m-1 3h0m-2 0h0m0 2h0m-2-3h0m0 3h0m-2-5h0m0 2h0m0 3h0m-1-2h0m-1-1h0m-3 2h0m-1-4h0m-4 3h0m-2 1h0m-2-3h0m-2 0h0m-4 3h0m0 1h0m-1 0h0m-1-4h0m-1 1h0m-1-1h0m-2-1h0m0 3h0m-2-2h0m-1 3h0m-1-1h0m-5 0h0m-1 1h0m-3-3h0m0 2h0m-1-2h0m-1 3h0m-3-1h0m-4-3h0m-1 4h0m-1-2h0m-2 0h0m0 2h0m-3-4h0m-3 4h0m-6 5h0m10 1h0m4-4h0m2 5h0m1-5h0m2 1h0m1-1h0m2 1h0m2 3h0m3-3h0m6 3h0m1-2h0m1-1h0m0 4h0m2-1h0m1-4h0m0 2h0m1 1h0m2-2h0m0 2h0m0 1h0m2-3h0m0 3h0m0 1h0m1-1h0m1-3h0m0 4h0m2-3h0m0 2h0m3-3h0m1-1h0m0 5h0m2-2h0m3 1h0m4 0h0m1-4h0m2 5h0m2-4h0m0 2h0m2-1h0m1 3h0m1-4h0m1 2h0m2 1h0m1-3h0m3 0h0m0 3h0m1-2h0m2 1h0m1-3h0m0 3h0m3-1h0m0 2h0m5 0h0m1 1h0m1-3h0m2 1h0m2 1h0m1-4h0m1 4h0m1 1h0m2-3h0m1 3h0m1-3h0m1 2h0m1-4h0m1 1h0m0 3h0m1-2h0m0 3h0m1-5h0m2 0h0m0 5h0m3-1h0m2-4h0m0 4h0m3-2h0m2 1h0m2-3h0m1 5h0m1-5h0m0 3h0m2-1h0m2 3h0m3-4h0m2 4h0m1-1h0m2-1h0m2 0h0m3-3h0m1 5h0m5-4h0m7 0h0m3 1h0m1-2h0m0 5h0m11-5h0m8 4h0m1-4h0m1 5h0m1-4h0m1 3h0m1-1h0m1-2h0m1 3h0m1-4h0m1 5h0m2-3h0m1-2h0m0 5h0m3-2h0m4-3h0m0 2h0m1 1h0m3-1h0m1-2h0m1 5h0m1-5h0m0 3h0m1-1h0m2 1h0m0 1h0m1-4h0m1 2h0m2-2h0m0 2h0m2-1h0m0 3h0m1-2h0m1 1h0m1-3h0m0 2h0m1 1h0m0 2h0m3-4h0m0 2h0m1-3h0m0 2h0m1 2h0m1-4h0m0 2h0m1 2h0m1-4h0m1 4h0m1-3h0m3 1h0m1 1h0m1 0h0m2-2h0m0 3h0m0 1h0m1-3h0m2-2h0m0 3h0m0 1h0m2-4h0m0 4h0m1-1h0m0 1h0m2-4h0m2 5h0m1-2h0m1-3h0m3 3h0m1 0h0m2-2h0m0 4h0m-1 2h0m0 4h0m-1-1h0m-1-4h0m0 2h0m-2 1h0m-1-1h0m-2 3h0m-2-3h0m-1-2h0m-1 0h0m0 3h0m0 2h0m-1-3h0m-1 2h0m-1-3h0m-2 2h0m-1-2h0m0 3h0m-3-2h0m-1 3h0m-1-5h0m0 4h0m-2-4h0m0 4h0m-2-3h0m-2 4h0m-1-3h0m-1 3h0m-1-5h0m-1 4h0m-1-4h0m0 1h0m0 2h0m-1 1h0m-2-2h0m-1 2h0m0 1h0m-2-5h0m0 3h0m-1-2h0m0 4h0m-1-2h0m-3-1h0m0 1h0m-1 0h0m-1-3h0m0 2h0m-1-2h0m0 4h0m-2-3h0m0 2h0m-1 2h0m-1-5h0m-1 1h0m0 2h0m0 2h0m-2-2h0m-2 1h0m-1-4h0m0 2h0m-2 3h0m-1-3h0m-1 3h0m-2-3h0m-2-2h0m0 4h0m-2-4h0m0 2h0m0 2h0m-1 1h0m-3-3h0m-2 0h0m-5 0h0m0 3h0m-3-4h0m-6 3h0m-4-1h0m-5-1h0m-1 2h0m-1-1h0m-5-1h0m-9-1h0m-1 0h0m-1 3h0m-3 0h0m-2-1h0m0 2h0m-1-5h0m-1 1h0m0 4h0m-3-2h0m-1-2h0m-1 4h0m-1-4h0m-1 4h0m-1-5h0m-3 4h0m-2 1h0m-3-2h0m0 2h0m-1-4h0m0 3h0m-2-1h0m0 2h0m-1-1h0m-1-3h0m-2 2h0m0 2h0m-1-2h0m-1-1h0m-1 3h0m-3-3h0m0 3h0m-1-2h0m-1 1h0m-2 1h0m-2-1h0m-1-3h0m-1 2h0m-2 0h0m0 2h0m-1-3h0m-1-1h0m0 3h0m-2-3h0m0 2h0m-2-1h0m-1-2h0m0 5h0m-1-1h0m-4-4h0m-1 2h0m-1 2h0m-2-2h0m0 1h0m0 2h0m-1-5h0m-2 3h0m-1 1h0m-2-3h0m0 4h0m-2-3h0m-2-2h0m-1 3h0m-1-2h0m0 4h0m-1-3h0m-2-1h0m-1 0h0m-2-1h0m-1 1h0m-6-1h0m0 3h0m-1 1h0m-1-2h0m-3-1h0m-2 2h0m-2 1h0m-1-3h0m0 2h0m-3-1h0m-2 2h0m-1-2h0m-4-1h0m0 2h0m-1 1h0m-2-1h0m-1-2h0m0 4h0m-1-2h0m-2-2h0m-3 0h0m-3-1h0m-1 5h0m-4-3h0m-3 0h0m-2 1h0m-11-2h0m3 5h0m0 4h0m4-4h0m2 5h0m4-2h0m1-2h0m4 2h0m6-2h0m1-1h0m1 1h0m1 2h0m1-1h0m1 3h0m1-2h0m0 2h0m2-4h0m0 3h0m2-1h0m0 2h0m1-4h0m1 1h0m0 1h0m2 1h0m1 0h0m2 0h0m2-3h0m0 2h0m1 2h0m2-5h0m0 4h0m2-4h0m1 2h0m2-2h0m0 3h0m1 2h0m1-1h0m1-3h0m1 0h0m1 2h0m1-2h0m1 2h0m5-3h0m0 3h0m0 2h0m3-2h0m3-2h0m2-1h0m0 3h0m1-1h0m1 0h0m0 3h0m1-2h0m2 0h0m0 2h0m1-4h0m3 2h0m1-2h0m1 0h0m2 3h0m2-4h0m0 2h0m2 3h0m3-3h0m0 2h0m2-3h0m1 4h0m2-4h0m0 2h0m2 1h0m3 1h0m1-3h0m1-2h0m0 4h0m2 0h0m3-3h0m2 3h0m2-2h0m2-1h0m2 3h0m1-2h0m4 3h0m4-4h0m1 3h0m3-3h0m0 3h0m2-1h0m1-3h0m1 3h0m1-2h0m1 2h0m1 2h0m1-3h0m0 3h0m3-4h0m4 4h0m7 0h0m5-4h0m2 2h0m13 2h0m4-2h0m2-1h0m4 3h0m6-4h0m2 1h0m1-2h0m2 2h0m0 1h0m1-3h0m0 4h0m2-2h0m0 3h0m1-1h0m1-4h0m0 2h0m1 1h0m1-3h0m1 4h0m1-4h0m1 1h0m0 3h0m0 1h0m1-3h0m0 2h0m1 1h0m1-3h0m1-2h0m1 3h0m1-3h0m0 4h0m1-1h0m1-3h0m0 2h0m1 1h0m0 2h0m1-2h0m1-3h0m0 5h0m2-4h0m0 2h0m2 0h0m1-2h0m2 1h0m2-2h0m0 2h0m0 2h0m0 1h0m4-4h0m0 2h0m1 2h0m1-4h0m0 4h0m1-1h0m1-3h0m1 2h0m2-2h0m2 2h0m1-3h0m0 2h0m2-1h0m1 3h0m0 1h0m2-5h0m1 4h0m3-3h0m0 3h0m2-3h0m0 2h0m0 1h0m2-2h0m2-2h0m0 2h0m1-1h0m1 0h0m2 0h0m0 4h0m1-1h0m2-1h0m1-1h0m-2 5h0m-1 3h0m-1-3h0m0 3h0m-3 1h0m-1-5h0m-5 0h0m-1 2h0m0 3h0m-1-5h0m-1 4h0m-1-4h0m0 2h0m-1 3h0m-1-5h0m0 5h0m-1-1h0m-1 1h0m-1-5h0m0 4h0m-2 0h0m-2-4h0m-2 0h0m0 5h0m-1-3h0m-1 3h0m-1-4h0m0 2h0m-2-2h0m-1 0h0m-1 3h0m-1-2h0m-1 2h0m-1-2h0m-1 2h0m0 1h0m-2-5h0m0 5h0m-2-5h0m0 1h0m0 3h0m-2-3h0m0 4h0m-4-4h0m0 2h0m-1 2h0m-3-2h0m-1-1h0m-1 1h0m-2-1h0m0 2h0m-2-3h0m0 4h0m-1-2h0m-1-3h0m0 5h0m-1-3h0m-1 1h0m0 2h0m-1-5h0m-1 3h0m-3-3h0m0 5h0m-1-5h0m-2 2h0m-1 3h0m-1-1h0m-3-4h0m-2 1h0m-3 2h0m-5 0h0m-2 0h0m-3-1h0m-5 0h0m-9 1h0m-3-2h0m-3 2h0m-1 2h0m-1 0h0m-2 0h0m-12 0h0m-1-4h0m-1 4h0m-3-1h0m-2-1h0m-1-3h0m0 4h0m-1-2h0m-5-2h0m0 4h0m-4 1h0m-1-5h0m-1 4h0m-6-4h0m0 5h0m-1 0h0m-1-4h0m0 1h0m-5 2h0m-2 1h0m-1-1h0m-2-4h0m0 2h0m0 3h0m-2-5h0m-2 2h0m-6-1h0m-1 3h0m-1-3h0m0 1h0m-2 1h0m-2-3h0m-2 2h0m0 2h0m-1-2h0m-1 1h0m0 2h0m-2 0h0m-1-3h0m-1-2h0m0 4h0m-2-4h0m-2 2h0m-1-2h0m0 2h0m-2 2h0m-2-4h0m-1 3h0m-1-2h0m-1 2h0m-1-2h0m-2-1h0m-1 3h0m0 2h0m-1-3h0m0 1h0m-2-1h0m-2 2h0m-2-3h0m-1 1h0m-1-2h0m0 3h0m-3 2h0m-1-1h0m-6 1h0m-1-4h0m0 2h0m-3 0h0m-1 1h0m-2-1h0m-1 2h0m-1-2h0m-1-3h0m0 3h0m-2-1h0m0 3h0m-7-2h0m-4-3h0m-8 1h0m-2 3h0m-1-3h0m-1 3h0m-13 2h0m13 3h0m7-2h0m9 2h0m5-1h0m2 0h0m0 3h0m1-1h0m3-4h0m1 2h0m2 3h0m1-5h0m0 4h0m0 1h0m3-3h0m1 3h0m2-2h0m0 2h0m1-3h0m2-2h0m0 5h0m1-2h0m2-1h0m1-2h0m0 4h0m0 1h0m2-1h0m2 1h0m2-5h0m1 0h0m2 4h0m1-2h0m4-1h0m1 2h0m1-3h0m1 3h0m3-2h0m2-1h0m0 3h0m1-1h0m1 3h0m1-5h0m0 2h0m3 2h0m2-3h0m0 4h0m7-4h0m0 4h0m2-5h0m0 3h0m5 0h0m2-3h0m0 4h0m6 0h0m3 0h0m3-2h0m1 1h0m0 2h0m1-4h0m4-1h0m6 1h0m4 2h0m0 2h0m1-5h0m8 3h0m2 2h0m1-4h0m7-1h0m1 3h0m3-1h0m3 2h0m0 1h0m2 0h0m2-4h0m0 1h0m5-2h0m0 2h0m0 2h0m5-3h0m0 2h0m2-2h0m2 3h0m6-1h0m2-1h0m5 0h0m0 3h0m2-4h0m1 4h0m2-2h0m2-1h0m0 3h0m2-5h0m8 1h0m0 3h0m2-4h0m2 1h0m1 2h0m0 2h0m1-4h0m1 2h0m2-1h0m1 2h0m2-1h0m2 1h0m1-3h0m0 1h0m2-1h0m2 1h0m1-2h0m0 3h0m1-2h0m0 4h0m3-5h0m1 2h0m0 1h0m2-2h0m1 4h0m1-2h0m1-2h0m0 4h0m4-3h0m0 2h0m1-2h0m1 2h0m3-1h0m1-1h0m1 0h0m0 3h0m1-1h0m2-3h0m0 4h0m2-1h0m1-3h0m0 1h0m0 3h0m3-1h0m2-2h0m0 2h0m1 1h0m1-4h0m1-1h0m0 5h0m2-2h0m1-3h0m1 4h0m1-3h0m1 4h0m1-5h0m0 3h0m0 1h0m2-2h0m0 3h0m1-2h0m-1 6h0m-2-2h0m-2 0h0m0 2h0m0 1h0m-2-4h0m0 2h0m-1 3h0m-2-4h0m0 3h0m-2 0h0m-1-2h0m-1 2h0m-1 0h0m-1-3h0m-3 2h0m-3 2h0m-2-3h0m-1 3h0m-1-2h0m-2-3h0m-1 1h0m0 2h0m0 1h0m-3-1h0m-1-3h0m-1 5h0m-1-4h0m-1 3h0m-2-3h0m0 3h0m-2 0h0m-1-3h0m-1 2h0m0 1h0m-2-1h0m-1-1h0m-1 1h0m0 2h0m-1-4h0m-1 1h0m0 2h0m-1 1h0m-1 0h0m-1-3h0m-2-2h0m-1 2h0m-1-1h0m-2 1h0m0 2h0m-2-2h0m-1-2h0m-1 1h0m-3 4h0m-1-1h0m-11-2h0m-3-1h0m-3 4h0m-1-3h0m-5 0h0m-4-1h0m-7-1h0m-3 2h0m-4 0h0m0 3h0m-3-5h0m-1 1h0m-1 3h0m-1-3h0m-2 0h0m-3 2h0m-1 1h0m-1-2h0m-3-2h0m-1 4h0m-1-2h0m-1 3h0m-5-3h0m-6-2h0m0 3h0m0 2h0m-4 0h0m-4-5h0m-1 4h0m-8-1h0m-2 1h0m-4-4h0m-1 0h0m-1 4h0m-2-4h0m-1 1h0m-3 1h0m-2 3h0m-1-2h0m-2-3h0m-1 2h0m0 2h0m-4 1h0m-2 0h0m-1-4h0m-1 3h0m-2 1h0m-2-2h0m0 2h0m-1-4h0m-3 1h0m0 1h0m-2-2h0m0 1h0m-1 2h0m-2-1h0m-1-1h0m0 3h0m-4-5h0m0 3h0m-2-1h0m0 3h0m-2-2h0m-1 1h0m-1-3h0m-1 1h0m-1-2h0m0 5h0m-2-5h0m-3 3h0m-1 2h0m-2-5h0m-1 4h0m-1-3h0m0 4h0m-3-4h0m0 2h0m-2-2h0m0 4h0m-1-3h0m-2 0h0m0 3h0m-1-1h0m-4-4h0m0 3h0m-2 0h0m0 1h0m-2-3h0m-1 3h0m-3 0h0m-1-4h0m-4 4h0m-3-2h0m-3-2h0m-2 0h0m-3 1h0m-9 0h0m-3 0h0m-3 2h0m4 8h0m11 0h0m1-2h0m0 1h0m1-4h0m2 5h0m1-3h0m3 1h0m2-2h0m2 4h0m1-5h0m1 4h0m2-4h0m4 5h0m5-5h0m0 2h0m1 3h0m1-5h0m0 4h0m1-3h0m2 2h0m1-2h0m1 3h0m3-4h0m0 3h0m4-2h0m0 4h0m3-1h0m2-3h0m0 2h0m3-3h0m0 3h0m0 2h0m1 0h0m3-5h0m1 1h0m0 2h0m5 1h0m1-4h0m2 4h0m1-4h0m2 2h0m3-1h0m1 2h0m2 2h0m3-4h0m2 2h0m5-1h0m2-1h0m1 2h0m1 2h0m5-5h0m4 5h0m1-1h0m1-4h0m1 3h0m8 2h0m3-2h0m6-2h0m2 2h0m2-1h0m1 3h0m1-1h0m1 1h0m9-4h0m1 3h0m3 0h0m16-3h0m1 4h0m4-2h0m3-1h0m0 3h0m1-5h0m5 1h0m5 0h0m3 4h0m1-2h0m1-3h0m6 2h0m6-2h0m2 4h0m1-4h0m2 1h0m3 0h0m1 2h0m1-1h0m2-2h0m1 5h0m1-5h0m0 3h0m1 1h0m2-2h0m0 2h0m2-4h0m4 2h0m1-2h0m1 2h0m0 3h0m1-1h0m3-4h0m1 4h0m2-4h0m0 1h0m1 1h0m0 2h0m1-4h0m1 4h0m2 0h0m3-4h0m1 4h0m1-3h0m2 0h0m2 1h0m0 3h0m4-4h0m0 3h0m4-3h0m0 3h0m1 0h0m2-4h0m0 2h0m0 3h0m2-5h0m0 2h0m1 3h0m1-5h0m2 4h0m1-4h0m1 1h0m0 3h0m1-4h0m0 9h0m-1 1h0m-1-4h0m0 2h0m-1 0h0m0 1h0m-1-2h0m0 4h0m-3-4h0m0 3h0m-1-4h0m-1 1h0m-1 2h0m-1-1h0m-2 2h0m-3-1h0m-2-3h0m0 1h0m0 2h0m-1 2h0m-1-3h0m-3-2h0m0 3h0m0 2h0m-4-4h0m0 4h0m-3-1h0m-2-4h0m0 5h0m-2-3h0m-1 3h0m-1-5h0m-4 0h0m0 4h0m-2-3h0m-4-1h0m0 1h0m-1-1h0m-1 3h0m-1-2h0m-1 4h0m-1-4h0m-2 1h0m-4-1h0m0 1h0m-1-2h0m-12 1h0m0 2h0m-7-2h0m-8 0h0m-2-1h0m-9 2h0m-7 1h0m-2 2h0m-1-4h0m-1 1h0m-9-2h0m0 5h0m-4-2h0m-1 0h0m-2 0h0m-5-1h0m-2-1h0m0 3h0m-1-1h0m-2-1h0m-3 3h0m-3-4h0m-7 2h0m-1 1h0m-3-3h0m0 4h0m-1-5h0m0 3h0m-1 1h0m-2-3h0m-1 3h0m-1-2h0m-2 1h0m0 2h0m-4-1h0m-6 0h0m-8 0h0m-3-2h0m-4 0h0m-1 2h0m-1-4h0m-1 4h0m-3 1h0m-2-4h0m-4 1h0m-1 3h0m-1-1h0m-1-4h0m-1 2h0m-1 3h0m-1-3h0m0 2h0m-2 0h0m-1-3h0m-1 3h0m0 1h0m-1-3h0m0 3h0m-3-5h0m0 2h0m-2-1h0m-1 3h0m-1-4h0m-1 2h0m-1-1h0m-1 0h0m-1 3h0m-2-3h0m-2-1h0m-2 5h0m-2 0h0m-1-4h0m-1 0h0m-2 2h0m-2-1h0m0 2h0m-6-1h0m-2-2h0m0 4h0m-1-5h0m-4 5h0m-1-3h0m-3 3h0m-2-3h0m-1 1h0m-2-3h0m0 2h0m-11 1h0m-4 4h0m13 2h0m4-2h0m2 2h0m1 2h0m1-5h0m0 2h0m1-1h0m0 2h0m0 2h0m1-3h0m1 1h0m2 2h0m3-3h0m2 1h0m0 2h0m3 0h0m1-1h0m0 1h0m1-3h0m1 3h0m5-2h0m1 0h0m2-3h0m2 5h0m2-5h0m0 4h0m1-2h0m2 1h0m1-2h0m2-1h0m1 5h0m1-5h0m1 3h0m0 2h0m2-5h0m1 2h0m1-2h0m0 5h0m1 0h0m2-2h0m4-1h0m2-2h0m0 3h0m0 2h0m1-2h0m2-3h0m1 2h0m0 2h0m2-3h0m1 3h0m1 1h0m3-5h0m4 2h0m5-1h0m2 4h0m1-5h0m2 3h0m4 1h0m4-2h0m1 3h0m1-5h0m2 2h0m1 2h0m6-1h0m1-2h0m1 3h0m2-2h0m5-2h0m0 5h0m6-5h0m5 1h0m3 1h0m0 1h0m1-3h0m1 5h0m1-4h0m2 0h0m2 4h0m4-2h0m1 0h0m12-3h0m3 2h0m5 2h0m2-2h0m2 3h0m1-4h0m6 2h0m2-3h0m1 0h0m0 3h0m5 1h0m9-4h0m9 0h0m2 5h0m2-4h0m1 1h0m0 3h0m1-1h0m3-3h0m2 3h0m0 1h0m1 0h0m1-3h0m1-2h0m1 2h0m1-1h0m0 4h0m1-2h0m2-2h0m2 1h0m0 3h0m1-2h0m2-1h0m3 1h0m0 2h0m2-4h0m0 3h0m2-1h0m1-2h0m2 4h0m1-2h0m1-2h0m1 1h0m3 1h0m0 2h0m1-4h0m3 2h0m0 2h0m2-5h0m1 4h0m1 1h0m1-3h0m0 2h0m1-4h0m0 4h0m2-3h0m1-1h0m0 2h0m0 2h0m2-3h0m1-1h0m0 3h0m0 1h0m-2 5h0m-1-2h0m0 1h0m-1-2h0m-1 2h0m0 2h0m-1-4h0m-1 3h0m-1 1h0m-1-3h0m-2 2h0m-2 0h0m-1-3h0m0 2h0m-1 3h0m-2-2h0m0 2h0m-1-5h0m-1 4h0m-1-3h0m-1-1h0m-1 5h0m-1-4h0m0 2h0m-1-3h0m-1 1h0m0 4h0m-1 0h0m-1-5h0m-1 2h0m0 3h0m-2-4h0m-1 2h0m-1-3h0m0 2h0m-1 3h0m-1-2h0m-1-1h0m0 2h0m-1-3h0m-1 1h0m-1 0h0m-1 2h0m-2-2h0m-1 3h0m-1-5h0m0 3h0m-2 1h0m-2 0h0m-2-4h0m-4 1h0m-1 2h0m-2-2h0m-7 4h0m-4 0h0m-2-3h0m-8 2h0m-2-4h0m0 2h0m-2 0h0m0 3h0m-3-5h0m0 3h0m-3-2h0m-2 4h0m-2-3h0m0 3h0m-1-5h0m-1 4h0m-6-1h0m-9 1h0m-1-3h0m-3 1h0m-1-2h0m-1 5h0m-3 0h0m-2-4h0m-3-1h0m-2 2h0m-4-2h0m-3 3h0m0 2h0m-4-3h0m-2 2h0m-3-3h0m0 2h0m-5-2h0m0 2h0m-8 1h0m-4-1h0m-3-3h0m-1 2h0m-2-1h0m-2 1h0m-1-2h0m-1 0h0m0 4h0m-5-1h0m-1-3h0m-1 5h0m-2-4h0m0 2h0m-4 2h0m-1-1h0m-2-2h0m-2-2h0m-2 4h0m-1-2h0m-1-2h0m0 5h0m-2-3h0m-5-1h0m0 2h0m-1 2h0m-1-1h0m-1-3h0m-1 2h0m-2 1h0m-1-4h0m0 5h0m-1 0h0m-6-1h0m-1-3h0m0 2h0m-2-1h0m-1-2h0m-1 1h0m-1 4h0m-3-4h0m0 1h0m-1-2h0m-2 0h0m0 3h0m-4-2h0m0 4h0m-1-3h0m-1 1h0m-2 1h0m-2-1h0m-4-3h0m-4 1h0m0 2h0m-1 0h0m-4 1h0m-2 0h0m-1-2h0m-6 1h0m-5 2h0m-1-3h0m-6 4h0m13 4h0m4-3h0m2 2h0m1-2h0m0 4h0m1-2h0m0 2h0m1-4h0m1 2h0m4-2h0m0 2h0m2-3h0m0 4h0m2-3h0m0 3h0m1-4h0m0 5h0m1-3h0m0 1h0m2-3h0m0 5h0m2-5h0m0 3h0m1 1h0m2-4h0m0 2h0m3-1h0m1-1h0m2 3h0m3 0h0m0 2h0m2 0h0m2-1h0m1-4h0m0 2h0m1 1h0m1-2h0m1 1h0m1 2h0m2-1h0m1-3h0m0 2h0m4 0h0m1-2h0m0 5h0m1-2h0m4 2h0m1-4h0m1 2h0m1 2h0m1-5h0m0 5h0m1-2h0m1 2h0m2-3h0m2 2h0m1-1h0m2 1h0m1-4h0m1 1h0m0 4h0m3 0h0m2-1h0m6 1h0m3 0h0m2-4h0m3 0h0m3 0h0m2 2h0m1 1h0m1-4h0m4 2h0m2-2h0m2 2h0m3 2h0m2-1h0m2 0h0m1-3h0m0 3h0m3 1h0m3-1h0m4-1h0m2 1h0m2 1h0m2-2h0m5 0h0m4-2h0m0 2h0m3 0h0m1 2h0m3-2h0m1 1h0m2 2h0m4-4h0m6 2h0m0 2h0m2-4h0m3 4h0m5-2h0m1-2h0m2 4h0m3-4h0m3 0h0m1 4h0m1 0h0m1-3h0m3 0h0m2-1h0m0 2h0m3 2h0m2 0h0m2-5h0m2 2h0m4-1h0m3 0h0m1 1h0m0 3h0m2-5h0m2 1h0m0 2h0m1-2h0m0 4h0m1-2h0m1-2h0m1 1h0m0 3h0m3-2h0m1 2h0m1-5h0m0 3h0m2-1h0m0 3h0m1-3h0m1-2h0m1 1h0m0 3h0m2-3h0m2 2h0m1 1h0m1 0h0m1-3h0m0 2h0m3-3h0m0 3h0m1 2h0m1-2h0m1-1h0m1 1h0m1-2h0m2 2h0m0 2h0m1-4h0m1 2h0m1-2h0m0 3h0m1-2h0m2-2h0m0 4h0m2-4h0m0 2h0m1 2h0m1-4h0m-4 8h0m-2 3h0m-1-5h0m-1 4h0m-1-4h0m-1 2h0m-2 2h0m-1-2h0m-1-2h0m0 3h0m-2 0h0m0 2h0m-2-5h0m0 3h0m-1 0h0m-1-3h0m0 5h0m-1-4h0m0 1h0m-2-1h0m0 4h0m-1-3h0m0 3h0m-1-2h0m-2-1h0m0 2h0m-1-3h0m-1 3h0m-2 1h0m-1-4h0m0 3h0m-1 1h0m-2-4h0m0 2h0m-1-3h0m-1 3h0m-2-3h0m0 1h0m0 4h0m-2-1h0m-2 0h0m-3-3h0m-1-1h0m-2 3h0m-2-2h0m-2-1h0m-4 3h0m0 2h0m-3-1h0m-2-3h0m-2-1h0m-2 0h0m-4 2h0m-1-2h0m-5 3h0m-5-1h0m-2 2h0m-3-4h0m0 3h0m-3-2h0m-6-1h0m-1 1h0m-1 3h0m-6-1h0m-1-3h0m-2 3h0m-2-1h0m-3 1h0m-3 2h0m-3 0h0m-1-4h0m-5 4h0m-1-5h0m0 2h0m-6 1h0m-2-1h0m-4-1h0m-4 4h0m-2-4h0m-2 2h0m-2 2h0m-2-4h0m-2 4h0m-3-2h0m-1-3h0m-1 4h0m-2-2h0m-3 2h0m-4-1h0m-1 2h0m-1-2h0m-2-3h0m-3 3h0m-1 0h0m-1-2h0m0 3h0m-2-4h0m-1 5h0m-3-1h0m-2-1h0m0 1h0m-1-3h0m-2 3h0m0 1h0m-2-2h0m-2-1h0m-2-2h0m0 3h0m-3 2h0m-8-3h0m-2 1h0m-1-1h0m0 2h0m-1-4h0m-1 4h0m-1-4h0m-2 1h0m0 4h0m-1-4h0m0 3h0m-1-1h0m-3-1h0m0 2h0m-1-4h0m0 5h0m-2-2h0m-1 2h0m-2-5h0m0 4h0m-1-1h0m-2 1h0m-1-3h0m-1-1h0m0 4h0m-1-2h0m-1 3h0m-1-1h0m-1-1h0m-1-2h0m-2 4h0m-1-5h0m0 2h0m-2 1h0m-1-3h0m-1 4h0m-2-3h0m0 3h0m-5-3h0m-1 4h0m-1-3h0m-27 1h0m31 6h0m1-3h0m0 4h0m2-3h0m0 2h0m1 2h0m2-2h0m1-3h0m0 4h0m1-2h0m2 3h0m1-3h0m1-2h0m0 2h0m1 2h0m1-3h0m1 2h0m0 2h0m2-5h0m0 1h0m3 0h0m1 2h0m3-2h0m0 2h0m2-3h0m1 4h0m1 1h0m1-2h0m1-2h0m1 1h0m1 3h0m3-2h0m2-3h0m0 2h0m2 2h0m1-4h0m3 2h0m0 2h0m0 1h0m1-5h0m1 1h0m0 2h0m2-3h0m0 2h0m1-2h0m2 0h0m0 2h0m2 3h0m1-4h0m1 1h0m1-1h0m0 4h0m2-4h0m1 3h0m3-2h0m0 3h0m2-1h0m2 0h0m1-3h0m2 1h0m2 0h0m5-2h0m1 3h0m1 1h0m6 0h0m1-3h0m1 4h0m1-3h0m0 2h0m1-4h0m2 4h0m2-2h0m1 2h0m5-2h0m1 0h0m2 1h0m4 2h0m1-1h0m2 0h0m1-2h0m4 1h0m2 2h0m2-3h0m2-2h0m0 5h0m3-3h0m1 2h0m3-1h0m1-1h0m2 0h0m0 3h0m3-4h0m2 4h0m1-4h0m6 0h0m1 4h0m2-1h0m4 0h0m1-1h0m4-1h0m4-1h0m5 1h0m4-2h0m2 3h0m3-3h0m1 2h0m6-1h0m1 4h0m1-4h0m2 0h0m0 1h0m0 3h0m4 0h0m2-3h0m0 2h0m2-3h0m4 1h0m1-2h0m2 2h0m1-1h0m0 4h0m2-2h0m2-1h0m2-2h0m0 3h0m0 1h0m2-4h0m0 2h0m1 2h0m1-2h0m1-1h0m0 4h0m1-2h0m2-2h0m1 0h0m0 2h0m2-2h0m0 3h0m2-4h0m0 3h0m1-3h0m0 4h0m2-3h0m0 1h0m0 2h0m2-1h0m0 1h0m3-1h0m0 2h0m1 0h0m1-3h0m0 3h0m1-2h0m2-3h0m0 5h0m1-4h0m0 3h0m-4 5h0m-3 2h0m-4-2h0m-2 1h0m-1-2h0m0 1h0m-1-3h0m-1 3h0m-1-2h0m-1 4h0m-1-5h0m0 4h0m-2-3h0m-1 2h0m-1-1h0m0 3h0m-2-5h0m0 3h0m-2 1h0m-1-2h0m-2-2h0m0 4h0m-2 1h0m-1-2h0m-1 0h0m-3 2h0m-1-5h0m-2 2h0m-2 1h0m-2 0h0m-4-2h0m0 3h0m-4 0h0m-2 0h0m-2-1h0m-7 1h0m-3-1h0m-2-3h0m-8 5h0m-2-5h0m-8 0h0m-1 3h0m0 2h0m-1-4h0m-1 0h0m-2 2h0m-1 1h0m-4-2h0m-6-1h0m-2-1h0m-2 0h0m-2 0h0m0 3h0m-2 2h0m-2-4h0m0 2h0m-4 2h0m-4-1h0m-3 1h0m-1-4h0m-2 1h0m-1-1h0m-2 1h0m0 2h0m-1 1h0m-3-5h0m-1 2h0m-1-2h0m-2 2h0m0 3h0m-1 0h0m-1-4h0m-1-1h0m-1 2h0m-1-2h0m-1 1h0m0 2h0m-2 1h0m-1-3h0m-1-1h0m0 3h0m-1 1h0m-1-4h0m0 3h0m-2 1h0m-1 1h0m-1-2h0m-2-3h0m0 2h0m-1 1h0m-2 0h0m0 2h0m-2 0h0m-1-3h0m-1 2h0m-1-3h0m-2 0h0m-2 4h0m-1-4h0m-3 1h0m-2-2h0m0 4h0m-4-2h0m-2 2h0m-1-4h0m0 2h0m-2-2h0m0 4h0m-1-1h0m-1-2h0m-1 1h0m0 3h0m-1-4h0m-1 2h0m-2-3h0m0 5h0m-1-1h0m-3 0h0m0 1h0m-3-3h0m-2 2h0m-2 1h0m-2-4h0m0 2h0m-2-2h0m-1 2h0m-3-3h0m0 2h0m-2 3h0m-1-5h0m0 3h0m-2-3h0m0 4h0m-2-2h0m-2 0h0m-1-2h0m-3 1h0m0 3h0m-2-4h0m-1 4h0m-2-2h0m-1-1h0m0 4h0m-1-5h0m-1 4h0m-1-2h0m-2-2h0m-11 4h0m-9-3h0m7 6h0m9 4h0m1-5h0m1 0h0m0 3h0m2 1h0m1-4h0m0 1h0m1-1h0m0 3h0m4-2h0m1-1h0m0 5h0m3-4h0m0 3h0m3-4h0m1 1h0m1 2h0m0 2h0m1-5h0m3 2h0m0 1h0m0 2h0m1-5h0m2 2h0m0 2h0m1-3h0m1 2h0m1-2h0m1 2h0m1 1h0m1-4h0m1 2h0m7-1h0m0 4h0m2-3h0m2 2h0m2-4h0m2 1h0m0 2h0m2-2h0m1 1h0m0 2h0m2-4h0m0 5h0m1-4h0m2 4h0m3-5h0m0 1h0m0 3h0m0 1h0m4-1h0m1-4h0m0 2h0m1 2h0m1 1h0m1-1h0m2 0h0m1-2h0m1-1h0m0 2h0m1 2h0m2-2h0m1 2h0m1-3h0m0 3h0m1-4h0m0 3h0m2-3h0m1 4h0m1-5h0m1 0h0m0 3h0m4 2h0m1-5h0m1 0h0m0 2h0m1 0h0m1 3h0m1-5h0m0 2h0m1-2h0m1 2h0m1 2h0m1-4h0m0 3h0m2-2h0m0 2h0m0 2h0m2-3h0m2 1h0m0 2h0m1-4h0m0 3h0m1-4h0m1 2h0m0 2h0m2-3h0m0 3h0m1-2h0m0 2h0m2-3h0m3 4h0m3-5h0m2 5h0m1 0h0m1-3h0m2 1h0m0 2h0m2-3h0m1 3h0m1-2h0m3-3h0m1 4h0m2-3h0m1-1h0m1 3h0m1 2h0m2-5h0m2 5h0m1-3h0m1 3h0m2 0h0m3 0h0m2 0h0m5-2h0m0 2h0m3-3h0m10 3h0m1-3h0m1 3h0m6-3h0m1 3h0m2-1h0m1-3h0m2-1h0m1 2h0m4-2h0m2 4h0m1-4h0m1 2h0m2 2h0m1-4h0m3 1h0m1 4h0m3-3h0m0 3h0m1-4h0m2 2h0m0 1h0m2-3h0m0 3h0m2-4h0m0 2h0m0 3h0m6-4h0m2 1h0m1 2h0m1-4h0m2 3h0m0 2h0m2-1h0m1-1h0m1-3h0m1 3h0m0 2h0m4-5h0m-4 8h0m-2-2h0m-2 4h0m0 1h0m-2-4h0m0 2h0m-1 0h0m-3-2h0m0 4h0m-2-2h0m-2-3h0m0 2h0m-2 3h0m-1-4h0m0 3h0m-1-2h0m-1-2h0m-1 4h0m-2-4h0m0 5h0m-3-4h0m0 2h0m-2 0h0m-2-3h0m0 1h0m0 4h0m-1-3h0m-1-2h0m0 2h0m-3-2h0m0 2h0m0 3h0m-1-5h0m-2 2h0m0 1h0m-3-1h0m-1 0h0m0 3h0m-2-1h0m-2-2h0m-4-2h0m0 5h0m-1-2h0m-8 1h0m-2-2h0m0 2h0m-1-1h0m-5 0h0m-2-2h0m-1 1h0m-2-1h0m-1 4h0m-1-1h0m-1-4h0m-1 1h0m-5 1h0m-1-1h0m0 3h0m-1-1h0m-1-2h0m0 3h0m-2 0h0m-4 0h0m-1-4h0m-1 5h0m-2-1h0m-3-2h0m-1 2h0m-1-1h0m-2-3h0m0 4h0m-2-2h0m-2-2h0m-1 2h0m0 2h0m-2-4h0m0 5h0m-4-1h0m-2-3h0m-2 1h0m0 2h0m-2 0h0m-1 0h0m-1-2h0m-2 3h0m-1-5h0m0 3h0m-4 0h0m0 1h0m-1-2h0m-2 3h0m-2-1h0m-1-2h0m-4 0h0m-5-2h0m-1 2h0m-1 2h0m-1-4h0m-1 4h0m-1-2h0m-3 2h0m-1-2h0m-2 0h0m0 3h0m-1-5h0m0 3h0m0 2h0m-1-2h0m-1-2h0m-1 3h0m-1-3h0m-3-1h0m0 1h0m0 2h0m-2-3h0m-1 1h0m-2 0h0m0 3h0m-1-1h0m-2 0h0m-2-3h0m-2 1h0m-2 2h0m-1 0h0m0 2h0m-2-5h0m-1 2h0m-1-1h0m0 3h0m-1 1h0m-1-4h0m-2 2h0m-1-3h0m-1 5h0m-2-5h0m0 3h0m0 2h0m-2-3h0m0 2h0m-1-4h0m-2 0h0m-1 4h0m-1-4h0m-2 4h0m-1-3h0m0 2h0m-1 2h0m-1-5h0m-1 5h0m-1-3h0m-1-2h0m-1 4h0m-1-2h0m-1 1h0m-2 0h0m-5-3h0m-1 3h0m-2-1h0m-3-1h0m-6-1h0m-14 0h0m-7 4h0m13 7h0m10-3h0m0 2h0m3-3h0m0 3h0m1-4h0m1 3h0m1-1h0m0 3h0m3-3h0m0 3h0m2-1h0m2-1h0m1-3h0m3 2h0m1 2h0m1-4h0m1 2h0m1 2h0m2-2h0m0 2h0m2-2h0m2 0h0m0 2h0m3-2h0m2 3h0m1-3h0m1 2h0m2 0h0m1-1h0m8-1h0m1-1h0m0 4h0m1-1h0m2-4h0m1 3h0m1-1h0m0 3h0m1-2h0m3-2h0m1 4h0m1-4h0m0 1h0m2 0h0m0 2h0m1-4h0m0 2h0m1 3h0m3-2h0m2-3h0m0 4h0m1-4h0m0 1h0m2 0h0m1 2h0m1-2h0m2 4h0m2-5h0m0 3h0m0 2h0m1-4h0m2-1h0m0 3h0m0 2h0m2-4h0m1 1h0m1-2h0m2 2h0m1 0h0m1-2h0m1 2h0m1-2h0m1 4h0m0 1h0m1-4h0m0 1h0m0 2h0m2-3h0m0 4h0m2-2h0m2 0h0m1 0h0m0 2h0m1-5h0m0 5h0m3-1h0m1-2h0m1-2h0m1 2h0m0 2h0m2-3h0m0 4h0m1-3h0m1 1h0m0 2h0m2-5h0m1 2h0m0 2h0m2-3h0m0 2h0m2-2h0m0 2h0m2-3h0m2 0h0m0 2h0m2 2h0m1-4h0m1 3h0m1 1h0m2-3h0m1 2h0m0 2h0m1 0h0m2 0h0m1-5h0m0 2h0m1 2h0m1-4h0m0 5h0m2-3h0m1-2h0m1 1h0m1 3h0m3-1h0m2-3h0m0 5h0m1-4h0m1 4h0m3-3h0m1 2h0m4-1h0m1 1h0m2-1h0m2-3h0m0 5h0m3-3h0m0 3h0m2-3h0m3-2h0m0 2h0m2 1h0m1 2h0m1-4h0m1 0h0m3 0h0m0 3h0m3-4h0m1 2h0m0 3h0m2-1h0m4-2h0m0 2h0m1-4h0m2 1h0m0 2h0m0 1h0m3-4h0m0 5h0m2-5h0m0 3h0m0 2h0m1-4h0m1 4h0m1-3h0m1-2h0m2 0h0m1 2h0m0 1h0m1 2h0m1-3h0m1 1h0m2-2h0m0 2h0m4 2h0m1-2h0m1-3h0m0 2h0m1 2h0m1-2h0m3 0h0m3 0h0m-3 4h0m-2 2h0m-1-2h0m-1 4h0m-1-2h0m-1 1h0m-1 1h0m-2-2h0m0 3h0m-1-5h0m0 4h0m-1-2h0m-1-2h0m-2 1h0m0 2h0m-4-3h0m0 2h0m-1 0h0m-1 0h0m0 2h0m-1 0h0m-2-2h0m-3-2h0m0 4h0m-2 1h0m-1-5h0m-3 3h0m-1-2h0m-3 2h0m0 2h0m-2-2h0m-1-3h0m-2 0h0m0 2h0m0 3h0m-2 0h0m-1-4h0m-1 4h0m-2-3h0m0 2h0m-5-3h0m-1 2h0m-3-2h0m0 2h0m-5-2h0m-4 1h0m-1 2h0m-4-1h0m-4 1h0m-2-2h0m-3 2h0m-1-4h0m-1 1h0m0 3h0m-3-3h0m-1 3h0m-3-3h0m0 4h0m-1-2h0m-1-1h0m0 3h0m-2-2h0m-3 1h0m-2-2h0m0 3h0m-2-5h0m-1 4h0m-2 0h0m-1-4h0m-1 2h0m-1 2h0m-1-4h0m0 1h0m0 3h0m-1-1h0m-1-3h0m-1 4h0m-1-3h0m-1 3h0m-2-4h0m-2 5h0m-1-3h0m-2 1h0m-3-3h0m0 5h0m-2-4h0m0 2h0m-1 2h0m-1-2h0m-2 0h0m-1-1h0m-1-2h0m0 1h0m-1 4h0m-1-2h0m-2-3h0m0 2h0m-2-1h0m-1 2h0m-1 2h0m-2-4h0m0 2h0m-1 0h0m-1-2h0m-3 2h0m0 2h0m-2-5h0m-1 4h0m-1-4h0m-1 5h0m-1-2h0m-1-2h0m-2-1h0m0 5h0m-1-3h0m-1 3h0m-1-4h0m-1 2h0m-2-2h0m0 4h0m-1-5h0m-1 4h0m-1-4h0m-4 5h0m-3-2h0m-2 1h0m-4-4h0m0 5h0m-2-4h0m-3 1h0m-1-2h0m-2 0h0m0 2h0m-2-1h0m-1 2h0m-2-3h0m0 3h0m-4 0h0m-1-3h0m-2 0h0m-1 4h0m-2-4h0m-7 3h0m-3-1h0m-1 0h0m-1 3h0m-2-1h0m-1 1h0m-1-2h0m-4 0h0m-2-2h0m-14 9h0m15-3h0m2 1h0m2-1h0m0 3h0m1-2h0m3 0h0m2 0h0m3 0h0m1-2h0m0 5h0m1 0h0m3-2h0m4 1h0m10-2h0m1-1h0m4 0h0m4 0h0m2 0h0m2 2h0m2-1h0m2-2h0m8 1h0m0 3h0m1-1h0m1-2h0m0 4h0m4-4h0m0 4h0m1-2h0m2-2h0m2-1h0m3 0h0m0 3h0m2-1h0m1-2h0m2 3h0m2-1h0m1-2h0m1 3h0m0 2h0m1-4h0m0 4h0m2-5h0m1 4h0m1 1h0m2-3h0m0 3h0m5-5h0m0 3h0m2-2h0m0 2h0m0 2h0m2-4h0m1 1h0m1 1h0m2-2h0m0 2h0m4 0h0m3-1h0m0 2h0m2-4h0m1 5h0m1-3h0m0 1h0m2 0h0m1 1h0m2-4h0m2 0h0m1 3h0m1-1h0m4-2h0m0 5h0m3-5h0m0 4h0m1-1h0m2-2h0m0 3h0m1-1h0m1 2h0m1-2h0m3 1h0m2-3h0m1 3h0m1-3h0m2-1h0m2 1h0m0 2h0m4 1h0m2-1h0m3 0h0m0 2h0m4-5h0m0 3h0m0 2h0m2-2h0m0 1h0m2-3h0m2 3h0m1-2h0m0 3h0m3-3h0m0 2h0m2-1h0m2-3h0m2 2h0m1 3h0m3-4h0m0 2h0m2 0h0m1 0h0m4 1h0m2-4h0m0 3h0m0 2h0m2 0h0m2-2h0m0 1h0m1-1h0m1 1h0m1-1h0m2-1h0m0 2h0m1-4h0m1 3h0m3-1h0m1-2h0m1 1h0m0 2h0m1-3h0m1 2h0m0 2h0m2-2h0m1-2h0m2 1h0m0 2h0m1-1h0m2-1h0m1 1h0m1 0h0m1 3h0m2 0h0m1-5h0m-3 7h0m0 3h0m-2-3h0m-1 2h0m-1-2h0m-1 2h0m-2-1h0m0 3h0m-2-3h0m-2 3h0m-1-3h0m-1-1h0m0 2h0m-3-2h0m0 4h0m-2-4h0m0 3h0m-1-4h0m-1 3h0m-1-3h0m0 5h0m-2 0h0m-2-4h0m-2 2h0m-2-1h0m-1 2h0m-1-2h0m-1-2h0m0 4h0m-1-3h0m-1-1h0m0 2h0m-1 2h0m-2-3h0m0 3h0m-1-2h0m-2 0h0m-1 3h0m-2-5h0m-2 0h0m0 2h0m0 1h0m-2 0h0m-2 0h0m-1 2h0m-7-4h0m0 3h0m-3 1h0m-2-4h0m0 3h0m-1-4h0m-1 1h0m-1 1h0m-2 0h0m0 2h0m-3-2h0m0 3h0m-1-5h0m-2 3h0m-2 1h0m-2-4h0m0 5h0m-1-1h0m-1 0h0m-3 1h0m-4-5h0m-1 1h0m0 4h0m-2 0h0m-1-3h0m-1 3h0m-1-5h0m-2 3h0m-2-3h0m-1 0h0m-1 5h0m-1-4h0m-4 1h0m0 1h0m0 2h0m-2-4h0m-2 2h0m-1 2h0m-1-5h0m-1 3h0m-2 0h0m0 2h0m-2-4h0m0 3h0m-1-3h0m0 3h0m-2-2h0m0 2h0m-1-2h0m-1-2h0m0 3h0m-1 2h0m-2-4h0m-2 4h0m-1-5h0m0 2h0m-1-1h0m0 3h0m0 1h0m-2-3h0m-3 0h0m0 3h0m-1-2h0m-3 2h0m-1-5h0m-1 3h0m-3 2h0m-1-5h0m-1 4h0m-2-4h0m0 2h0m-2-2h0m-1 2h0m0 2h0m-1-4h0m-1 3h0m-1-2h0m-2 1h0m-2-1h0m0 1h0m0 2h0m-2 1h0m-2-4h0m-1-1h0m-6 3h0m-2 2h0m-1-5h0m-2 4h0m-1 0h0m-10-1h0m-1-2h0m0 2h0m-5 2h0m-7-3h0m-4 1h0m-6 1h0m-1-4h0m-2 1h0m-1 1h0m0 2h0m-6-1h0m0 2h0m21 5h0m1-3h0m2 1h0m2 3h0m8-5h0m1 3h0m6 2h0m2-2h0m1-2h0m0 3h0m2 1h0m1-3h0m2-2h0m1 4h0m2-3h0m1 4h0m3-2h0m4-2h0m1 3h0m2-4h0m0 3h0m2-1h0m1 2h0m2-1h0m3-3h0m2 3h0m1-3h0m1 1h0m0 4h0m2-5h0m2 5h0m1-2h0m1-1h0m1 3h0m1-2h0m1 2h0m1-5h0m0 2h0m0 1h0m2-1h0m0 2h0m0 1h0m2-3h0m1 2h0m2-3h0m0 1h0m1 2h0m1-2h0m1 0h0m1 2h0m1 1h0m1-4h0m1-1h0m5 0h0m0 3h0m3 0h0m0 2h0m2-5h0m0 4h0m1-3h0m2 4h0m1-2h0m3-1h0m3 1h0m2-1h0m0 3h0m3-1h0m3-3h0m0 4h0m2-3h0m3 2h0m1-4h0m0 2h0m1 2h0m0 1h0m1-4h0m3 2h0m1 1h0m4-1h0m1 1h0m4 1h0m2-4h0m0 3h0m5-4h0m6 2h0m2 0h0m1 0h0m0 2h0m2-1h0m1-2h0m2 3h0m1 0h0m1-2h0m2 1h0m1-3h0m0 2h0m0 3h0m1-3h0m0 2h0m1-4h0m1 2h0m1 3h0m1-5h0m0 5h0m1-2h0m1-3h0m1 0h0m2 4h0m1-2h0m0 3h0m1-4h0m0 4h0m1-5h0m0 2h0m2 1h0m1-3h0m1 4h0m1-4h0m0 2h0m2 3h0m1-5h0m0 1h0m3 4h0m2-5h0m0 4h0m1-2h0m4-2h0m0 3h0m0 2h0m2-3h0m1 1h0m1 2h0m1-3h0m1-1h0m0 3h0m2-1h0m1-3h0m0 1h0m2 3h0m1-3h0m3 7h0m-2 2h0m-1-4h0m-1 1h0m0 4h0m-1-3h0m-1-1h0m0 3h0m-1 0h0m0 1h0m-2-5h0m-5 3h0m-2 2h0m-2 0h0m-1-3h0m-2 2h0m-1-1h0m-1-2h0m-1-1h0m-1 3h0m0 2h0m-2-4h0m0 1h0m-2 1h0m-1-3h0m-1 1h0m-1-1h0m0 5h0m-3-2h0m-1-2h0m-2-1h0m0 2h0m-1 2h0m-1-4h0m-1 3h0m-1 2h0m-1-3h0m-1-1h0m-1-1h0m0 4h0m-2-2h0m-2 2h0m-1-4h0m-1 3h0m-1-2h0m0 3h0m-2-4h0m-1 3h0m-2 2h0m-1 0h0m-1-3h0m-5 0h0m-2-2h0m-1 5h0m-2-5h0m0 4h0m-5 0h0m-5-3h0m-1 1h0m-2-2h0m0 5h0m-1 0h0m-1-4h0m-2 2h0m-1 2h0m-1-5h0m-3 1h0m0 2h0m-4 0h0m-1-3h0m-1 0h0m0 4h0m-2 1h0m-1-2h0m-2 0h0m-2-1h0m0 2h0m-1-4h0m0 3h0m-2-3h0m0 2h0m-1 2h0m-3-4h0m-2 2h0m-2 1h0m-3-2h0m-1 0h0m-2 1h0m-1 2h0m-1-1h0m-4-2h0m-1-1h0m-1 4h0m-3-3h0m0 1h0m-2-1h0m-2 0h0m-1 2h0m-1-2h0m0 3h0m-3-4h0m-1 2h0m-1 0h0m-1-1h0m-2 3h0m-1-2h0m-1 1h0m-6-1h0m-2 1h0m-1-3h0m-3 5h0m-4-5h0m-3 4h0m-1-2h0m-2 1h0m-2-1h0m-1 3h0m-1-2h0m-1-1h0m-3 0h0m-4-1h0m-3-1h0m-3 0h0m-7 1h0m-1 0h0m-17 1h0m36 4h0m6 0h0m2 2h0m2 0h0m3-1h0m2 2h0m7-2h0m0 4h0m2-5h0m6 1h0m4 1h0m1 0h0m0 2h0m3-4h0m3 2h0m0 3h0m2-1h0m2 1h0m1-4h0m1-1h0m1 3h0m1-1h0m1 3h0m2-3h0m0 2h0m2-2h0m1-1h0m1 0h0m2 3h0m2-4h0m0 2h0m0 3h0m2-5h0m2 0h0m0 3h0m3-1h0m0 2h0m2-4h0m2 2h0m1 0h0m1-1h0m1 2h0m1-1h0m4 2h0m3-2h0m1 3h0m2-3h0m3 0h0m3-2h0m0 2h0m0 2h0m4-1h0m1-3h0m6 3h0m0 2h0m2-1h0m2-1h0m2 2h0m3-2h0m1-3h0m6 1h0m5-1h0m0 1h0m1 2h0m1-1h0m2-1h0m0 2h0m1-3h0m3 0h0m0 4h0m1 1h0m1-3h0m0 3h0m3-5h0m1 0h0m1 5h0m1-5h0m2 4h0m1-4h0m1 3h0m1-2h0m0 3h0m2-1h0m2-3h0m0 5h0m1-2h0m1-2h0m1 3h0m1-3h0m1 3h0m1-3h0m1-1h0m1 3h0m2 1h0m1-4h0m1 1h0m1 1h0m0 3h0m4 0h0m1-3h0m1 2h0m1-3h0m1 3h0m1-3h0m0 2h0m2-2h0m1-1h0m0 5h0m2 3h0m-1-1h0m0 2h0m-1-1h0m0 3h0m-2-1h0m-1-1h0m-1-3h0m-1 4h0m-2 0h0m-2-4h0m-1 1h0m0 3h0m0 1h0m-1-1h0m-3-4h0m0 5h0m-1-3h0m-1 3h0m-1-3h0m0 2h0m-1 1h0m-3-5h0m-1 4h0m-2-4h0m0 2h0m0 3h0m-2-4h0m-1 2h0m0 2h0m-1-5h0m0 1h0m-3-1h0m0 2h0m0 2h0m-2-1h0m-1-2h0m-1 3h0m-1-4h0m0 3h0m-1 1h0m-1-3h0m-1 2h0m0 1h0m-2-1h0m-1-2h0m-1 3h0m-1-4h0m-1 3h0m0 2h0m-2-1h0m-2-4h0m0 3h0m0 1h0m-3-3h0m0 4h0m-2-4h0m-9 1h0m0 2h0m-6 0h0m-2-2h0m-2-1h0m-4 1h0m-1 3h0m-1-1h0m-1-1h0m-4 0h0m-3-3h0m-1 0h0m0 2h0m-2 3h0m-1-2h0m-3 0h0m0 2h0m-2-5h0m-1 4h0m-4-2h0m-1 3h0m-1-5h0m-2 3h0m-1-2h0m-1 3h0m-2-4h0m-1 2h0m0 1h0m0 2h0m-2-4h0m-1 4h0m-1-4h0m-2-1h0m-1 1h0m0 3h0m-1-1h0m-7-2h0m-1-1h0m0 5h0m-1-2h0m-6-2h0m-2-1h0m-2 1h0m-2-1h0m-2 2h0m-3-2h0m-2 0h0m0 4h0m-3-2h0m-2 1h0m-5 0h0m1 4h0m3 0h0m1 4h0m3-1h0m1-3h0m2-1h0m0 2h0m4 3h0m4-1h0m3-4h0m1 5h0m3-5h0m4 5h0m2-3h0m1-2h0m1 0h0m2 1h0m0 3h0m5 1h0m3-4h0m1 1h0m1 2h0m3-3h0m0 2h0m2-3h0m3 2h0m0 3h0m2 0h0m9-4h0m1 3h0m2-4h0m3 1h0m0 1h0m1 3h0m5-1h0m1 0h0m4 1h0m1-4h0m7 4h0m5-1h0m2-3h0m1-1h0m2 2h0m0 3h0m2-5h0m4 1h0m2 3h0m1-4h0m1 5h0m6-5h0m0 5h0m1-2h0m2-1h0m0 2h0m1-4h0m2 3h0m3-3h0m0 4h0m2-4h0m0 2h0m1 2h0m1-1h0m2-3h0m0 2h0m3-1h0m1 4h0m1-4h0m2 2h0m2 2h0m1-2h0m1-1h0m0 1h0m1-2h0m3 1h0m1 3h0m1-5h0m0 2h0m0 2h0m2-1h0m1-3h0m3 4h0m1-2h0m2 1h0m0 1h0m3-1h0m-2 3h0m-1 4h0m-1-4h0m-3 0h0m-2 0h0m-1 1h0m0 3h0m-2-2h0m-4 0h0m-2 3h0m-4-5h0m0 3h0m0 2h0m-2-3h0m0 3h0m-1-1h0m-2-1h0m-1-2h0m-2 0h0m-1 0h0m-1 3h0m-1-1h0m-1-3h0m0 4h0m-2-4h0m-2 2h0m-1-2h0m0 5h0m-3-4h0m0 3h0m-1-2h0m-2 3h0m-1-2h0m-1 2h0m-1-4h0m0 4h0m-2-2h0m-1-2h0m-2 1h0m-6 2h0m-2 0h0m-2-3h0m-3 0h0m-2 2h0m-1-3h0m-2 2h0m-6 1h0m-4 1h0m-1 0h0m-1-4h0m-1 3h0m-3 1h0m-2 0h0m-1-1h0m-4-2h0m0 2h0m-1 1h0m-5 0h0m-1-4h0m-2 3h0m0 2h0m-2 0h0m-1-2h0m0 1h0m-2-4h0m-1 5h0m-1-4h0m-2 3h0m-5 1h0m-4 0h0m-1-3h0m-1 3h0m-9 0h0m-1-5h0m-1 2h0m-3 0h0m-5-2h0m20 8h0m4 2h0m4 0h0m1 1h0m1-5h0m0 4h0m5-3h0m3-1h0m4 4h0m1-3h0m2 3h0m4 0h0m1-4h0m1 0h0m2 0h0m0 3h0m4-1h0m3-2h0m4 3h0m4-3h0m2 2h0m7-1h0m2 2h0m5-3h0m1 1h0m3 3h0m3 1h0m6-3h0m5 2h0m1-1h0m3-3h0m4 1h0m1-1h0m0 3h0m2-2h0m0 2h0m0 2h0m1-4h0m2 4h0m4-2h0m1-3h0m7 5h0m5-2h0m2 2h0m3-1h0m0 1h0m1-3h0m2-1h0m0 3h0m4 1h0m4 4h0m-3-3h0m-1 3h0m-1 2h0m-1-2h0m-7 2h0m-1-2h0m-1 2h0m-8 0h0m-3-2h0m-1-1h0m0 3h0m-3-4h0m-2 0h0m-2 0h0m-1 3h0m-4 1h0m-2-5h0m-2 2h0m-1 1h0m-2-1h0m-2 1h0m-3-2h0m-4 2h0m-1 2h0m-3-5h0m-2 3h0m-3-2h0m-1 4h0m-1-2h0m-3 2h0m-4 0h0m-1 0h0m-1-4h0m-2 4h0m-1-4h0m-3 1h0m-3 1h0m-4-3h0m-1 4h0m-2-2h0m-7-1h0m-2 2h0m-1-1h0m-4 2h0m-2-3h0m-3 0h0m-1 3h0m-4-1h0m-2-3h0m-4 1h0m-2 1h0m-1-1h0m17 10h0m1-2h0m3 0h0m6-3h0m2 2h0m2 0h0m2 1h0m2-1h0m3 3h0m1-4h0m1 3h0m3 1h0m1-5h0m5 3h0m4 0h0m5-3h0m1 0h0m1 3h0m1-2h0m2-1h0m3 0h0m1 4h0m1-1h0m1-3h0m1 4h0m0 1h0m4-1h0m2-4h0m0 3h0m3-2h0m3 4h0m1-3h0m1-2h0m1 4h0m1-1h0m1-3h0m1 0h0m3 0h0m0 5h0m1-4h0m4-1h0m1 4h0m2 0h0m2-1h0m1 1h0m1-3h0m0 2h0m4-3h0m4 2h0m1 3h0m1-2h0m2-2h0m0 4h0m1-3h0m1 2h0m3 0h0m2-4h0m0 3h0m3-2h0m4 2h0m4-2h0m1 4h0m1-2h0m4 2h0m-3 1h0m0 5h0m-1-1h0m-3-4h0m-2 1h0m0 1h0m0 3h0m-2-3h0m-2-2h0m0 4h0m-2-1h0m-3-3h0m-2 3h0m-2 1h0m-1 1h0m-1-4h0m0 2h0m-1 1h0m-1-1h0m-1-2h0m0 2h0m-1 2h0m-1-5h0m-1 5h0m-1-2h0m-1-3h0m-2 3h0m0 2h0m-1-5h0m-1 4h0m-2-1h0m0 2h0m-2-5h0m0 2h0m0 1h0m-1-2h0m-1-1h0m-1 2h0m-1 3h0m-3 0h0m-1-1h0m-5-2h0m-2-1h0m0 4h0m-1-2h0m-1 1h0m-2-1h0m0 1h0m-2-3h0m0 2h0m-2-1h0m-1 0h0m-3-1h0m-2 4h0m-2-5h0m-1 2h0m-2 0h0m-2-1h0m-1-1h0m-2 0h0m-13 2h0m-3 2h0m-2 0h0m-3 0h0m-4-1h0m-3-2h0m-1 0h0m-1 1h0m-2 3h0m-1-4h0m-1 1h0m-4-1h0m-3 0h0m2 8h0m7 2h0m1-4h0m1 2h0m2-1h0m2-1h0m1-1h0m5 5h0m5-3h0m3-1h0m0 3h0m4-1h0m6 2h0m11 0h0m1-4h0m1 1h0m4-2h0m0 4h0m3-4h0m2 0h0m0 2h0m2 0h0m1-2h0m1 3h0m0 2h0m1-3h0m1 1h0m2-1h0m2 1h0m1 1h0m1-2h0m1 2h0m1 1h0m3-3h0m1-2h0m1 2h0m1 2h0m2 0h0m1-2h0m3 3h0m1-1h0m1 1h0m1-2h0m1-2h0m0 4h0m3-3h0m0 2h0m2-1h0m1 2h0m2-3h0m1-2h0m0 4h0m2-3h0m0 2h0m1-1h0m3 0h0m4 2h0m5-1h0m4-3h0m1 8h0m-2 0h0m-1 3h0m-4-2h0m0 2h0m-1-5h0m0 3h0m-1-1h0m-3 2h0m-2-4h0m0 4h0m-1-1h0m-2 1h0m-2-4h0m0 4h0m-2 0h0m-3 0h0m-2-3h0m0 2h0m-3 0h0m0 1h0m-1-4h0m-2 1h0m0 3h0m-1 0h0m-1-2h0m-1 1h0m0 2h0m-1-1h0m-3-4h0m0 2h0m0 3h0m-1-2h0m-2-2h0m-1 2h0m-2-1h0m0 1h0m0 2h0m-1-4h0m-1-1h0m-1 2h0m0 3h0m-1-5h0m-1 4h0m-1-4h0m0 2h0m-2-2h0m0 5h0m-1-2h0m-2-2h0m-1 4h0m-1-1h0m-1-2h0m-1-1h0m-5 2h0m-2 1h0m-2-2h0m-2-2h0m-2 3h0m-7 0h0m-15 0h0m-5-3h0m-1 5h0m-3-4h0m0 2h0m-1 1h0m-2-4h0m0 4h0m-4-2h0m-6 0h0m1 5h0m1 2h0m4 0h0m4-2h0m1 1h0m3 1h0m1 2h0m1-1h0m2 0h0m4-2h0m0 3h0m22-1h0m4 1h0m2-2h0m1 0h0m1-3h0m2 5h0m1-4h0m0 2h0m2 1h0m0 1h0m1-5h0m0 4h0m4-4h0m0 4h0m2-4h0m1 5h0m2-2h0m1-1h0m1 0h0m0 2h0m1-3h0m2 0h0m0 2h0m3 1h0m1-4h0m1 3h0m1-2h0m1 2h0m4-2h0m1 3h0m1-3h0m1 3h0m1-2h0m2-1h0m0 2h0m0 2h0m1-4h0m1 3h0m1 1h0m2-3h0m2-2h0m0 1h0m0 3h0m1-2h0m3 0h0m2-2h0m1 2h0m0 2h0m3-4h0m1 4h0m2-4h0m1 4h0m1-1h0m4 1h0m1-4h0m2 2h0m5 5h0m-2 0h0m-3 2h0m-5 1h0m-1-4h0m0 5h0m-6-2h0m0 2h0m-4-3h0m-2 1h0m-1-3h0m0 1h0m-3 0h0m0 3h0m-2-4h0m0 3h0m-4-1h0m0 1h0m-3 1h0m-5-3h0m-2 4h0m-2-4h0m0 3h0m-2-2h0m-2-2h0m-1 3h0m-2-1h0m0 2h0m-3-4h0m-2 1h0m-1 0h0m-2 4h0m-1-5h0m0 2h0m-1 3h0m-4-2h0m-1-1h0m-2 1h0m-1 0h0m-5-1h0m-1 1h0m-1-2h0m-2 1h0m-1 2h0m-3 1h0m-2 0h0m-2-3h0m-2 0h0m-3 2h0m-10 1h0m-1-5h0m-3 0h0m-3 2h0m0 3h0m-3-4h0m-1 4h0m-2 0h0m-1-5h0m-1 2h0m0 2h0m-2-2h0m-3 2h0m-1 2h0m5 0h0m4 1h0m1 2h0m1-2h0m6 3h0m2-4h0m1 1h0m0 3h0m2 1h0m4-1h0m3 1h0m3-5h0m0 5h0m1-2h0m3-2h0m0 1h0m0 3h0m3-1h0m2-4h0m0 2h0m4 2h0m4-1h0m2-2h0m2 2h0m1 2h0m1-1h0m1-3h0m1 2h0m2 1h0m0 1h0m1-4h0m0 2h0m2-1h0m0 2h0m2-3h0m0 2h0m0 2h0m1-5h0m1 3h0m1 1h0m1 0h0m1-2h0m3 0h0m1-1h0m3-1h0m0 3h0m0 2h0m2-3h0m0 3h0m2-2h0m1-1h0m0 1h0m0 2h0m2-5h0m0 3h0m0 1h0m1-3h0m1 0h0m0 4h0m1-3h0m1 0h0m0 3h0m1-5h0m1 0h0m0 5h0m2-4h0m0 3h0m1-1h0m1-1h0m0 2h0m1-4h0m1 2h0m0 2h0m1 1h0m1-3h0m2-2h0m1 1h0m0 4h0m1-4h0m1-1h0m2 0h0m2 4h0m2-3h0m2 3h0m5 1h0m1-5h0m3 3h0m-3 7h0m-1 0h0m-5 1h0m-2-5h0m-1 2h0m-1-2h0m-1 5h0m-1-5h0m0 3h0m-2-3h0m-2 4h0m-1-2h0m-1-2h0m0 5h0m-2-4h0m0 2h0m-2 2h0m-3-4h0m0 3h0m-1-2h0m-2 1h0m-2-1h0m-1-1h0m0 3h0m-2-4h0m-1 2h0m0 2h0m-1-2h0m-1-1h0m-2 0h0m-1 4h0m-1 0h0m-1-3h0m-1 2h0m-1-4h0m-1 5h0m-2-3h0m0 1h0m-1-2h0m0 4h0m-3-1h0m-4-4h0m0 3h0m-3-2h0m-2 3h0m-1-3h0m0 2h0m-1-3h0m-1 1h0m0 2h0m-4-2h0m-1 1h0m-2 1h0m-2 1h0m-4-4h0m0 1h0m-4-1h0m-3 1h0m-2 2h0m-1-3h0m-3 2h0m-3 1h0m-1-3h0m-1 5h0m-2-3h0m0 3h0m-3-3h0m-1 1h0m-1 2h0m-1-3h0m-2-1h0m-2 3h0m-1-4h0m0 3h0m-3-1h0m0 1h0m7 4h0m1 2h0m1 2h0m3-5h0m4 5h0m2-2h0m1-3h0m0 5h0m1-1h0m2-1h0m1 1h0m2-1h0m1-3h0m1 0h0m0 2h0m1 2h0m6-1h0m1 2h0m2-1h0m2 1h0m1-4h0m0 2h0m5-2h0m0 2h0m0 2h0m2-3h0m3-2h0m1 4h0m1-3h0m1-1h0m0 2h0m1-2h0m3 1h0m1 3h0m3-3h0m2-1h0m3 2h0m1-2h0m0 4h0m2-3h0m0 4h0m2 0h0m3 0h0m1-2h0m1 0h0m4-3h0m1 0h0m0 2h0m7-1h0m2 2h0m0 2h0m1-4h0m2 4h0m1-5h0m3 1h0m1 4h0m3-1h0m1-1h0m3-1h0m2 0h0m-8 5h0m-2 0h0m-5 0h0m-1 4h0m-3-2h0m-2-2h0m-2 4h0m-1-5h0m-3 0h0m-2 2h0m-1-2h0m0 4h0m-1-2h0m-2 1h0m-1-2h0m-2 0h0m0 1h0m-2-1h0m-4 0h0m-2-1h0m0 3h0m-3 0h0m-1-3h0m-10 0h0m0 2h0m-2-2h0m-1 0h0m-3 1h0m-2 2h0m-2 0h0m-1-2h0m-1 2h0m0 2h0m-2-2h0m-2 2h0m-2-2h0m0 2h0m-1-3h0m-3-2h0m-1 1h0m-1-1h0m-3 4h0m-2-2h0m-2-1h0m-2 1h0m-2-2h0m-8 0h0m10 6h0m6 0h0m7 0h0m8 2h0"/>
<path stroke="#fbe3d4" d="M1830 819h0m3 1h0m10 0h0m6 1h0m6 0h0m3 1h0m-3 4h0m-2-2h0m-4-1h0m-1 1h0m-1 0h0m-3 2h0m-7-3h0m-4 1h0m-3 1h0m-1-3h0m-1 5h0m-4-1h0m-2 1h0m-2-4h0m-2 1h0m0 3h0m-9 6h0m2-2h0m4-2h0m5 4h0m4-5h0m0 2h0m8 1h0m3-2h0m1 3h0m1 0h0m2-4h0m2 2h0m5 1h0m4-3h0m0 1h0m4-1h0m0 4h0m4-2h0m3-1h0m0 3h0m1-4h0m1 4h0m4 6h0m-6-3h0m-1 3h0m-2 0h0m-1-2h0m-1 3h0m-3-2h0m0 2h0m-2-3h0m-2 2h0m-2-3h0m0 2h0m-2 2h0m-1-3h0m-2-1h0m-1 0h0m-1 3h0m-2 1h0m-4-2h0m-2-2h0m0 3h0m-2-4h0m-1 3h0m-1 0h0m-2 0h0m-1 1h0m-1 1h0m-3-5h0m-1 1h0m-1-1h0m-1 5h0m-2-4h0m-3 2h0m-1-2h0m-1-1h0m-1 4h0m-3-3h0m-2 1h0m0 1h0m-3-1h0m-1 9h0m1-1h0m1-4h0m1 3h0m1-3h0m0 3h0m5-2h0m0 4h0m1 0h0m5-1h0m2 0h0m2-3h0m1 1h0m1 1h0m1-2h0m5 3h0m1-1h0m5 0h0m1-2h0m1-1h0m2 4h0m1 1h0m2-4h0m0 4h0m4-4h0m1 2h0m0 2h0m1-3h0m3-2h0m1 4h0m3-4h0m3 4h0m2 1h0m2-5h0m2 4h0m2-3h0m1 2h0m5 5h0m-3 0h0m-2 2h0m-2-2h0m-1 0h0m0 3h0m-2-1h0m-2-2h0m-1-2h0m-2 5h0m-2-4h0m-2 4h0m-2-4h0m-1 4h0m-3-4h0m-1 1h0m-2-2h0m0 3h0m-3 0h0m-2-2h0m0 4h0m-4-3h0m-7 2h0m-3-3h0m-2 2h0m-1-2h0m0 4h0m-4 0h0m-3-3h0m-5 3h0m-1-2h0m-1-1h0m-3-2h0m-3 2h0m-3-1h0m0 5h0m0 1h0m3 1h0m2 2h0m2-1h0m6-1h0m2-2h0m0 2h0m1 3h0m1-3h0m3 3h0m1-5h0m0 3h0m1-1h0m1 1h0m5 0h0m1-2h0m3 0h0m2-1h0m0 2h0m2-1h0m2 3h0m4 1h0m4-1h0m3-4h0m5 5h0m1-4h0m1 0h0m0 3h0m8-1h0m0 2h0m2-4h0m3-1h0m0 4h0m1-2h0m2 3h0m1 1h0m-1 5h0m-1-4h0m-1 2h0m0 2h0m-3-4h0m-4-1h0m-2 0h0m0 3h0m-1 1h0m-2-2h0m-2 2h0m-1-3h0m-4 0h0m-2 1h0m-2-2h0m-2 1h0m-1-1h0m-1 2h0m-2 2h0m-1-2h0m-2 1h0m-2 0h0m-1-1h0m0 3h0m-3-2h0m-1-3h0m-3 5h0m-2-1h0m-2-1h0m-3 0h0m-2 2h0m-1-4h0m-1 1h0m-7-1h0m0 2h0m-3-1h0m0 2h0m-5-4h0m-3 3h0m-4 1h0m-5 7h0m3-4h0m4 0h0m0 1h0m0 2h0m2-1h0m4 0h0m3-3h0m1 5h0m3-5h0m2 5h0m1-3h0m3-2h0m0 3h0m2-1h0m6 0h0m1 2h0m1-4h0m1 5h0m8-2h0m3-1h0m3 0h0m2 1h0m4-3h0m0 4h0m1-4h0m0 1h0m3 1h0m1 1h0m1 2h0m1-3h0m3-1h0m0 2h0m1 1h0m2-4h0m1 3h0m3 1h0m7-3h0m3 0h0m-2 5h0m-3 2h0m-2 0h0m0 3h0m-1-5h0m-1 3h0m-5-3h0m0 4h0m-3-2h0m-1-1h0m0 2h0m-3 2h0m-2-2h0m0 2h0m-4 0h0m-4-3h0m-2-2h0m-3 0h0m-1 1h0m-2 3h0m-4 1h0m-2-5h0m-1 5h0m-3-4h0m0 2h0m-1 2h0m-1-4h0m-2 4h0m-3-3h0m-2-1h0m0 3h0m-2-1h0m-1 2h0m-4-1h0m-3-2h0m-1-1h0m0 3h0m-4-1h0m-1-2h0m-2 0h0m-2 1h0m-2-1h0m0 3h0m-1-4h0m0 5h0m-1-3h0m-4 8h0m2 1h0m1-5h0m0 3h0m3-2h0m1 1h0m1-2h0m5 3h0m2-1h0m9 0h0m0 2h0m1-2h0m1 2h0m3-2h0m5 3h0m1-3h0m2 2h0m0 1h0m3-4h0m2 2h0m6-1h0m0 3h0m2-4h0m8-1h0m0 4h0m1-2h0m1 0h0m0 2h0m1-4h0m4 2h0m1-1h0m0 4h0m1-5h0m2 4h0m1-2h0m3 1h0m3 1h0m2-2h0m0 1h0m0 2h0m2-2h0m-7 4h0m-4 2h0m-1-3h0m0 5h0m-1-3h0m-1 2h0m-4 0h0m-3-1h0m-2-3h0m0 2h0m-7-1h0m-2 2h0m-3-3h0m-2 0h0m-13 0h0m-1 4h0m-1-2h0m-2 3h0m-1-2h0m-4-1h0m-1-2h0m0 4h0m-2-4h0m-1 3h0m-3-3h0m0 3h0m-2 2h0m-1-1h0m-1-4h0m-2 0h0m-2 2h0m-1 3h0m-1-3h0m-1 1h0m-5 1h0m-2-3h0m0 6h0m1 4h0m5-2h0m2 0h0m2 1h0m1-3h0m5 2h0m3-1h0m1-2h0m2 1h0m0 2h0m1-3h0m2 1h0m1 3h0m2-4h0m0 3h0m4 1h0m1-2h0m4 2h0m8-1h0m2 2h0m6-5h0m0 3h0m2 0h0m1-1h0m6-1h0m3 0h0m4 0h0m1 5h0m-1 2h0m-5-2h0m-3 0h0m0 5h0m-3-2h0m-1-2h0m-1 4h0m-1-5h0m0 1h0m-2 2h0m-2 2h0m-1-5h0m-2 2h0m-2-2h0m0 3h0m-3-2h0m-10 1h0m-6 0h0m-1-2h0m-1 4h0m-1-4h0m-2 1h0m-2 3h0m-1 1h0m-4-5h0m-1 2h0m-1 3h0m-1-4h0m-1 2h0m-1-3h0m0 4h0m-4-2h0m-1-1h0m-1 2h0m0 2h0m-1-5h0m-1 2h0m-1 3h0m-2-1h0m-2-2h0m-1 2h0m-1-4h0m-1 6h0m3 3h0m3-1h0m1 3h0m1-1h0m2-2h0m0 1h0m1 2h0m2-1h0m1-2h0m2 1h0m0 2h0m2-3h0m5 3h0m1-2h0m3-1h0m1-2h0m5 2h0m21-2h0m3 1h0m2-1h0m1 2h0m3-2h0m0 2h0m5-2h0m0 3h0m4-3h0m-47 6h0m-3 3h0m-1 2h0m-1-1h0m-2 1h0m-1-2h0m-4-3h0m-1 2h0m-1 3h0m-8-5h0m-1 3h0m-3-1h0m-1-2h0m-3 3h0m-2 6h0m1-3h0m0 5h0m2-1h0m1-4h0m1 5h0m2-4h0m2 1h0m2-1h0m2 0h0m1 3h0m2 1h0m1-5h0m0 5h0m3-4h0m1-1h0m0 5h0m2-1h0m3 1h0m2-3h0m-2 8h0m-3-2h0m-2 1h0m-2-2h0m0 3h0m-2-4h0m0 2h0m-1 0h0m0 2h0m-2-4h0m-1 5h0m-1-2h0m-1-2h0m0 3h0m-5 0h0m-5 1h0m-1-5h0m0 3h0m2 5h0m1 2h0m1-3h0m1 4h0m1-5h0m1 3h0m2 1h0m2-2h0m0 2h0m1-2h0m5 3h0m1-2h0m2-3h0m0 4h0m2 1h0m1-1h0m12 5h0m-14-2h0m-1 2h0m-1-3h0m-1 2h0m-2 1h0m-1-2h0m-1 4h0m-1-2h0m-4-1h0m-1-1h0m-2 1h0m-8-1h0m8 7h0m1-2h0m1 1h0m1 3h0m0 1h0m1-5h0m2 5h0m4-3h0m3-2h0m5 6h0m-4 1h0m-4 4h0m-1-4h0m-2 3h0m-1-3h0m-2 0h0m-2 4h0m-3-1h0m7 3h0m5-1h0m0 5h0m3-2h0m15 0h0m6-1h0m-10 5h0m-20-1h0m0 2h0m0 1h0m-1-2h0"/>
<path stroke="#f09c7b" d="M1868 857h0m2 0h0m3-2h0m6-1h0m0 3h0m-3 1h0m0 3h0m-3-2h0m-3 0h0m0 6h0m2 4h0m1-5h0m1 5h0m2-4h0m0 3h0m3-4h0m1 2h0m1-1h0m4 0h0m1 4h0m99 6h0m-6-1h0m-3 1h0m-15 0h0m-4-2h0m-3 0h0m-2-1h0m0 3h0m-2-3h0m-1 1h0m-1 1h0m-5-4h0m-1 3h0m-3 0h0m-6 2h0m-11-1h0m-5-1h0m-8 2h0m-8-1h0m-12-1h0m-1-2h0m-1 2h0m-2-3h0m-1 4h0m-1-2h0m-1 3h0m-3-5h0m0 2h0m-2-1h0m-1 2h0m0 2h0m-2 0h0m-1-1h0m-1-3h0m-2 2h0m0 4h0m0 4h0m1-2h0m3-1h0m0 2h0m2-3h0m0 2h0m2-1h0m0 3h0m1-5h0m2 1h0m2 4h0m6-4h0m1 3h0m1-3h0m1 4h0m1-3h0m2 2h0m1 0h0m2 0h0m1-2h0m1 3h0m1-2h0m1-3h0m2 0h0m1 4h0m1 0h0m1-2h0m5-1h0m6 0h0m2-1h0m1 4h0m2-2h0m2 0h0m4 1h0m4 1h0m2-1h0m1 2h0m2-1h0m3 0h0m1 1h0m1 0h0m4-4h0m2 2h0m4-2h0m0 2h0m0 2h0m1-1h0m1-4h0m2 5h0m2 0h0m5-1h0m2-2h0m5 3h0m1-5h0m2 0h0m2 1h0m0 2h0m1-3h0m1 2h0m0 1h0m0 2h0m2-5h0m0 4h0m7 1h0m3-3h0m55 7h0m-2 2h0m-5 0h0m-3 0h0m-5 0h0m-1-5h0m-35 5h0m-1-3h0m-1-2h0m-2 2h0m-1 1h0m0 2h0m-4-3h0m-6 1h0m-2 1h0m-4-4h0m0 4h0m-2 0h0m-1-2h0m-2 0h0m-2 0h0m-5-2h0m-1 4h0m-2-4h0m-1 2h0m-2 1h0m-4-2h0m-1 3h0m-2-4h0m0 4h0m-3-1h0m-1 1h0m-3 0h0m-1-3h0m-1 2h0m-2 1h0m-3 1h0m-1-2h0m-2 0h0m0 2h0m-2-4h0m-2 1h0m-3 0h0m-4 1h0m-1-2h0m-1-1h0m-4 3h0m-1 0h0m-2-1h0m-2-1h0m-1 4h0m-2-1h0m-3-3h0m-1 3h0m-2-2h0m-4-2h0m0 1h0m0 1h0m-2 2h0m-1-4h0m-1 4h0m-1-3h0m-1 3h0m-1 1h0m-3-2h0m-2 2h0m-1-4h0m-1 1h0m-2-2h0m-1 1h0m-4 2h0m-2 0h0m-1-3h0m0 5h0m2 5h0m2 0h0m2-2h0m1 1h0m1 1h0m1-2h0m1-2h0m0 4h0m2-3h0m1 1h0m1-1h0m1 3h0m1-2h0m1 3h0m1-1h0m1-3h0m2 2h0m4-3h0m1 5h0m4-3h0m4-2h0m2 2h0m1-2h0m1 2h0m1 1h0m1 1h0m1-4h0m3 4h0m1-2h0m3-1h0m2 0h0m0 2h0m2-2h0m1-1h0m6 5h0m1-3h0m8-2h0m3 3h0m2 1h0m2 1h0m1-1h0m4-4h0m0 2h0m2 1h0m2 2h0m2-2h0m3-1h0m1-2h0m1 2h0m2-1h0m3-1h0m1 4h0m3-3h0m2 2h0m1 1h0m9-4h0m7 0h0m1 4h0m0 1h0m1-5h0m1 2h0m1 3h0m2-1h0m2 0h0m3 1h0m3-2h0m3 0h0m2 2h0m10-5h0m2 0h0m1 3h0m1 2h0m1-4h0m2-1h0m0 5h0m3-4h0m0 2h0m2-1h0m3 2h0m0 1h0m2-5h0m1 3h0m5 0h0m1 2h0m1-2h0m1-3h0m1 3h0m4 1h0m2 4h0m-4 0h0m-3 2h0m-8-2h0m-2 1h0m-5-2h0m-1 3h0m-1-3h0m-1 2h0m-1-1h0m0 3h0m-1-5h0m-1 2h0m-1 2h0m-2-2h0m0 3h0m-1-5h0m-1 5h0m-1-4h0m-1 4h0m-1-3h0m-2 0h0m0 2h0m-3-4h0m-1 3h0m-2-2h0m-2 3h0m-6-3h0m-1 4h0m-1-2h0m-1-3h0m0 5h0m-2 0h0m-2 0h0m-5-4h0m-6 2h0m-3-3h0m0 5h0m-5-4h0m0 2h0m-2-3h0m-4 4h0m0 1h0m-4-1h0m-1 1h0m-7 0h0m-2-4h0m0 2h0m-3-2h0m0 3h0m-2-2h0m-5 0h0m-1-1h0m-2 0h0m-6 3h0m-6-1h0m-3-3h0m-1 2h0m0 1h0m-2-2h0m-2 3h0m-2-4h0m0 5h0m-2-2h0m-1-1h0m-1 1h0m0 2h0m-2-5h0m-1 3h0m-4 1h0m-1-3h0m-1 3h0m-5-3h0m-1 3h0m-2-4h0m0 2h0m-2-1h0m-1 0h0m0 2h0m-2-1h0m-6 1h0m0 2h0m-2-3h0m-1-2h0m-1 0h0m0 3h0m-2-2h0m-3 4h0m-3-4h0m-2 4h0m-1-4h0m-3 6h0m1 2h0m2-2h0m0 3h0m1-4h0m2 1h0m0 2h0m2-1h0m0 3h0m1-1h0m1-4h0m1 5h0m1 0h0m1-5h0m2 3h0m5-2h0m0 4h0m2-3h0m3 1h0m0 2h0m1-5h0m1 2h0m5-1h0m2 4h0m4-3h0m1 2h0m1-1h0m1-1h0m2 2h0m1-4h0m2 5h0m4-4h0m1 3h0m5-2h0m1-1h0m3 1h0m1 1h0m2 1h0m1 1h0m2-4h0m1 2h0m1-3h0m1 1h0m1-1h0m2 1h0m1 4h0m1-3h0m0 2h0m2-4h0m0 4h0m6-4h0m4 4h0m4-4h0m1 4h0m5-4h0m3 5h0m2-1h0m1-3h0m2 3h0m4-2h0m4-2h0m2 1h0m1 3h0m1-4h0m0 3h0m3-1h0m1-2h0m2 4h0m2-3h0m1 1h0m3 0h0m1-1h0m2 0h0m2-1h0m0 4h0m4-2h0m2-1h0m0 4h0m2-5h0m0 4h0m2-2h0m0 3h0m1-5h0m2 5h0m1-5h0m2 5h0m1-4h0m3 2h0m8-3h0m1 3h0m3 2h0m1-4h0m1 3h0m1-2h0m4 1h0m1-3h0m2 2h0m-8 6h0m-1 1h0m-1-1h0m-6 0h0m-1 1h0m0 1h0m-2 0h0m-2-3h0m-1 4h0m-2-2h0m-3 1h0m-4-2h0m-3-1h0m0 3h0m-4-1h0m0 2h0m-1-2h0m-2-2h0m-3 3h0m-2-3h0m-4 1h0m0 3h0m-2-4h0m-1 1h0m-2-2h0m0 5h0m-4-3h0m-1 1h0m-3-3h0m0 3h0m-2-2h0m-3-1h0m-2 3h0m-1-3h0m-1 4h0m-1-4h0m-1 1h0m-1 3h0m-1-1h0m-2 0h0m-1-3h0m0 4h0m-1-2h0m-2 0h0m0 3h0m-3-2h0m-3 1h0m-7 1h0m-1-4h0m-2-1h0m-2 2h0m-2 2h0m-4-2h0m-1-2h0m-2 4h0m-5-3h0m-1 3h0m-3-4h0m-3 2h0m-2 2h0m-2-4h0m-2 5h0m-2-1h0m-2-4h0m0 3h0m-1-2h0m0 4h0m-2-1h0m-1-2h0m-3 0h0m-4 0h0m-3-2h0m-2 5h0m-1-5h0m-4 5h0m-1-3h0m-1 0h0m-4-2h0m0 5h0m-3 0h0m-1 0h0m-4-2h0m-2 2h0m-2-5h0m0 4h0m-3 4h0m5 0h0m2-2h0m2 1h0m1 3h0m1-1h0m1 1h0m2-2h0m0 1h0m1 1h0m1-1h0m4 1h0m3 0h0m8-3h0m3 0h0m0 2h0m1 1h0m2-3h0m1 3h0m2-4h0m0 3h0m2 0h0m1-3h0m0 2h0m0 3h0m2-3h0m2-1h0m0 1h0m4 3h0m3-3h0m3 2h0m2-1h0m1 1h0m1 1h0m2-5h0m0 3h0m1-1h0m1-1h0m2-1h0m1 5h0m1-2h0m3-2h0m1 3h0m1-4h0m3 3h0m1 1h0m4 1h0m2-1h0m3-1h0m1-3h0m1 2h0m2 2h0m2 0h0m3 1h0m1-5h0m0 2h0m1 1h0m1-2h0m2 1h0m0 3h0m1 0h0m1-5h0m2 0h0m0 3h0m3-1h0m1 3h0m1-3h0m1-2h0m4 4h0m1-4h0m0 4h0m2 0h0m1-2h0m1 3h0m1-2h0m1 2h0m3-4h0m0 2h0m2 1h0m1-2h0m1 1h0m5 2h0m1-4h0m1 1h0m1 3h0m3-4h0m2 1h0m0 2h0m2-3h0m2 3h0m1-2h0m1 0h0m3 0h0m5-2h0m1 3h0m1 1h0m5-2h0m2-2h0m3 6h0m0 2h0m-7-2h0m-4 0h0m0 5h0m-2-5h0m-2 1h0m-3-1h0m-1 1h0m-1-1h0m-2 2h0m-4 3h0m-2-2h0m-2-2h0m-2 1h0m-3 2h0m-1-3h0m-1 3h0m-1-2h0m-4-2h0m0 2h0m-5 0h0m0 3h0m-1-1h0m-1-2h0m-1-2h0m-1 1h0m-1 3h0m-1-1h0m-2-2h0m-1 3h0m-2-4h0m0 3h0m-1-2h0m-1 2h0m-1-3h0m0 5h0m-1-1h0m-2-4h0m0 2h0m0 2h0m-1-1h0m-2-1h0m-1-2h0m0 5h0m-2-3h0m-1-2h0m-2 1h0m0 2h0m-1 1h0m-1-3h0m0 2h0m-2-2h0m0 3h0m-2-3h0m-1 1h0m-1 3h0m-1 0h0m-1-5h0m-2 1h0m-1 4h0m-1-3h0m-2-2h0m-2 5h0m-1-2h0m-1 1h0m-1 1h0m-1-1h0m-2-3h0m0 1h0m-1 3h0m-2 0h0m-2 0h0m-1-2h0m-1-2h0m0 3h0m-2 1h0m-1-4h0m0 3h0m-3-2h0m-2 2h0m-4 1h0m-2-4h0m0 3h0m-1-4h0m-1 3h0m-3-1h0m-2 0h0m-3 1h0m-3-1h0m-1 3h0m-1-1h0m-3-4h0m-1 1h0m-1 3h0m-1-1h0m-2-2h0m-2 2h0m-1-3h0m0 2h0m-1 3h0m-1-3h0m-1 3h0m-2-2h0m-1-2h0m-2 0h0m-1 2h0m-3-2h0m0 1h0m0 2h0m-2-1h0m-5-3h0m4 7h0m0 1h0m3 0h0m0 1h0m2-3h0m2 0h0m0 2h0m3 0h0m1 2h0m1 1h0m3-2h0m1 2h0m3-2h0m0 2h0m2-3h0m0 1h0m2 1h0m1-4h0m1 0h0m0 2h0m4 3h0m2-5h0m1 1h0m2-1h0m0 2h0m2 0h0m0 2h0m1-3h0m2 1h0m0 3h0m1-4h0m2 4h0m3-4h0m3-1h0m0 2h0m3-2h0m3 3h0m0 2h0m5 0h0m3-3h0m5 1h0m1-1h0m1-2h0m1 3h0m0 2h0m1-4h0m1 0h0m1 2h0m1-1h0m1 3h0m1-4h0m1 3h0m0 1h0m1-3h0m2-1h0m0 3h0m2 1h0m1-3h0m1-1h0m2 1h0m1-1h0m0 2h0m1 2h0m1-5h0m0 3h0m1-1h0m0 3h0m1-3h0m1-1h0m0 4h0m1-5h0m1 4h0m1 1h0m2-5h0m2 0h0m1 2h0m0 3h0m2-3h0m1-2h0m1 5h0m1-5h0m1 3h0m2-3h0m0 4h0m1 1h0m1-1h0m2 1h0m1-4h0m0 1h0m1 1h0m2 2h0m2 0h0m1-3h0m1 2h0m1-3h0m1 1h0m2 1h0m3 1h0m2-1h0m2-3h0m6 4h0m13 0h0m6 0h0m4 7h0m-10-2h0m-10-3h0m-4 2h0m-5 2h0m-7-4h0m-5 3h0m-1-2h0m-2 1h0m0 2h0m-1-4h0m0 5h0m-1-2h0m-1-3h0m0 2h0m-2-2h0m-1 4h0m0 1h0m-1-3h0m0 1h0m-3-3h0m-1 3h0m-1 1h0m-1-3h0m0 1h0m-2 2h0m-1 1h0m-2-2h0m0 2h0m-1-5h0m-1 2h0m-2 2h0m-2-1h0m-1-3h0m-1 3h0m0 2h0m-4-5h0m0 5h0m-2-3h0m-1 3h0m-2-4h0m0 3h0m-1-2h0m-1-2h0m0 4h0m-1-1h0m0 2h0m-1 0h0m-1-2h0m-1-2h0m-1 3h0m-1 0h0m0 1h0m-2-2h0m-1-2h0m0 2h0m0 2h0m-2-3h0m-3-1h0m-2 3h0m-2 0h0m-1-1h0m0 2h0m-3-4h0m-1 4h0m-1-1h0m-3 0h0m-4 0h0m-3-3h0m-3 2h0m-3-1h0m0 3h0m-1-1h0m-1-3h0m-1-1h0m0 5h0m-1-3h0m-4 3h0m-6 0h0m-5-4h0m0 2h0m-3-3h0m-2 1h0m0 1h0m-2-2h0m0 5h0m-2-1h0m-1 0h0m-2 0h0m0 1h0m-5-1h0m3 7h0m1-4h0m3 1h0m1-1h0m1 4h0m3-4h0m3 2h0m3-2h0m0 4h0m2 0h0m3 0h0m2-4h0m2 0h0m2 3h0m2-4h0m3 4h0m7-3h0m4 3h0m7-2h0m7-2h0m0 2h0m1 3h0m1-2h0m1-1h0m1 3h0m1-4h0m1 2h0m2 1h0m1-3h0m2 3h0m2-1h0m1-2h0m3 4h0m1-2h0m1-2h0m1 3h0m2-4h0m0 2h0m0 2h0m1 1h0m1-4h0m1 3h0m2-3h0m0 2h0m4 0h0m1 2h0m1-3h0m1-1h0m0 3h0m1 1h0m3 0h0m1-2h0m2-2h0m0 4h0m1-1h0m1-2h0m2-2h0m0 4h0m2-2h0m1 1h0m2-1h0m0 3h0m1-5h0m1 3h0m0 1h0m1-2h0m2-2h0m1 3h0m2-1h0m1 0h0m41-1h0m5 1h0m-2 5h0m-4 0h0m-2 4h0m-13-3h0m-24 3h0m-1-5h0m0 4h0m-3 1h0m-2-4h0m0 4h0m-1-1h0m-3-4h0m-2 4h0m-1-4h0m-2 3h0m-2 0h0m-1 1h0m-1 1h0m-1-4h0m0 2h0m-2 1h0m-2-3h0m-1 3h0m-1 0h0m-2-3h0m-1 2h0m-2-3h0m0 3h0m-3-2h0m-1-1h0m-2 1h0m-3 3h0m-2 1h0m-1-2h0m-1-1h0m0 3h0m-2-4h0m0 3h0m-1-4h0m-1 4h0m-1-3h0m-1 0h0m-2-1h0m-2 1h0m0 1h0m-1 2h0m-1 0h0m-2-3h0m0 3h0m-3-1h0m-1-3h0m-1 5h0m-4-3h0m0 2h0m-5-2h0m-2 0h0m-2-2h0m-2 3h0m0 2h0m-2-5h0m-1 2h0m0 2h0m-1-1h0m0 2h0m-3-2h0m-4 1h0m-2-4h0m0 3h0m-1-2h0m-2 2h0m0 2h0m-1-5h0m-2 2h0m0 2h0m-1-4h0m-1 5h0m-1-3h0m0 1h0m-2 0h0m-3-1h0m-1-2h0m0 1h0m-2 2h0m-2-1h0m-2 0h0m-2 1h0m2 4h0m2-1h0m3 0h0m0 3h0m2 0h0m0 2h0m1-2h0m2-3h0m0 4h0m1-3h0m3 2h0m4 0h0m1-2h0m1 4h0m1-5h0m2 1h0m0 1h0m0 3h0m3 0h0m2-3h0m2 1h0m0 2h0m2-2h0m2 0h0m2-2h0m2 3h0m2-3h0m1 3h0m5-2h0m2-2h0m0 4h0m3-1h0m1 2h0m1-4h0m0 2h0m2-1h0m0 3h0m2 0h0m3-2h0m2-3h0m1 4h0m1-2h0m1 3h0m1-5h0m0 2h0m1-1h0m2 0h0m1 0h0m0 4h0m1-1h0m2-4h0m2 1h0m0 3h0m3-2h0m2 3h0m1-3h0m3 0h0m0 3h0m1-5h0m1 4h0m1-4h0m0 2h0m2 3h0m1-2h0m2-2h0m3 0h0m3 1h0m1 1h0m1-3h0m4 3h0m4-2h0m18-1h0m18 1h0m3-1h0m7 3h0m5 0h0m255-3h0m-261 11h0m-1-3h0m-7-2h0m-3 3h0m-3-3h0m-20 5h0m-15-2h0m-7 0h0m0 2h0m-2-5h0m-1 5h0m-1-2h0m-2-2h0m0 1h0m0 2h0m-5-3h0m-2 0h0m-1-1h0m0 4h0m-3-4h0m-1 0h0m-1 2h0m-1 1h0m-1-3h0m0 4h0m-2-3h0m-4 1h0m-2 1h0m-1-3h0m-1 4h0m-2-1h0m-1-2h0m0 2h0m-3-2h0m0 3h0m-3-4h0m0 2h0m-1 2h0m-3 0h0m-3 0h0m-2-3h0m-2 3h0m-2 0h0m-3-1h0m-4-3h0m-1 3h0m-1 2h0m-1-2h0m-2 2h0m-4 0h0m-2-4h0m-4 3h0m-2 0h0m-2-3h0m0 4h0m-2 0h0m-1-5h0m0 3h0m-2-2h0m0 3h0m-2-2h0m-1-1h0m-1 4h0m-1-1h0m-2-1h0m-2 1h0m5 3h0m3 0h0m0 3h0m1-2h0m1 1h0m0 2h0m1-4h0m4-1h0m2 3h0m3-1h0m1-2h0m0 3h0m2 0h0m0 2h0m2-5h0m1 5h0m1-3h0m2 1h0m0 2h0m1-3h0m2 1h0m0 2h0m2 0h0m1-3h0m0 1h0m5 0h0m5-3h0m1 1h0m0 3h0m3-4h0m0 5h0m5-4h0m2 2h0m2-2h0m0 1h0m0 3h0m2-2h0m2-2h0m0 1h0m0 2h0m2-3h0m1 2h0m3 2h0m4-4h0m0 2h0m0 2h0m1-3h0m6-2h0m7 1h0m3-1h0m0 3h0m0 2h0m1-4h0m1 1h0m0 3h0m1-2h0m3-1h0m2 1h0m3-2h0m2 1h0m11 2h0m2 1h0m5-2h0m15 1h0m10-1h0m9 1h0m236-3h0m6 2h0m7-2h0m13 0h0m14 2h0m-3 5h0m-9 2h0m-25-4h0m-248 2h0m-9 2h0m-15 1h0m-6-5h0m-3 5h0m-3-3h0m-12-2h0m-1 1h0m0 3h0m-2-4h0m-1 1h0m-2 2h0m-1-2h0m-1 0h0m-22 0h0m-1 2h0m-2-3h0m-5 0h0m0 2h0m-1 3h0m-1-4h0m-1 3h0m-1-3h0m-3 1h0m-2-1h0m0 4h0m-2-3h0m0 3h0m-4-2h0m-1-2h0m-1 4h0m-1-2h0m-1-2h0m0 4h0m-2-1h0m-3-4h0m-2 1h0m0 3h0m-2-1h0m-2 0h0m0 1h0m-1 1h0m-1-4h0m-1 2h0m-2-1h0m-1-1h0m0 2h0m-1 2h0m-2-2h0m-1-2h0m-1 3h0m-1-2h0m-3-1h0m-1 4h0m2 2h0m3-1h0m1 3h0m4 2h0m1-4h0m0 3h0m1-4h0m1 2h0m0 3h0m1-4h0m1 2h0m1-1h0m1-2h0m1 3h0m0 2h0m1-4h0m1 3h0m2-4h0m0 3h0m1-1h0m0 3h0m1-5h0m4 3h0m2 1h0m1 1h0m1-3h0m1-2h0m5 2h0m1 2h0m1-1h0m1-3h0m2 2h0m1-2h0m2 3h0m2-3h0m29 0h0m1 2h0m1-2h0m0 5h0m1-3h0m0 3h0m2-5h0m0 5h0m2-1h0m1-3h0m1-1h0m0 3h0m28-2h0m13 1h0m244 2h0m8-4h0m1 2h0m10-1h0m1 4h0m7 0h0m2-5h0m25 10h0m-10 0h0m-7-2h0m0 3h0m-4 0h0m-1-3h0m-2 2h0m-2-3h0m-1 3h0m-1 1h0m-5-2h0m-21-3h0m-239 4h0m-28-2h0m-5 0h0m-8-1h0m-1 1h0m-1-1h0m-1-1h0m0 4h0m-3-3h0m0 2h0m0 1h0m-3-2h0m-1-1h0m0 2h0m-2-2h0m0 3h0m0 1h0m-1-3h0m-1-2h0m-38 0h0m-6 0h0m0 5h0m-2-4h0m-2 0h0m-1-1h0m-1 2h0m0 2h0m-2-3h0m0 2h0m-1-2h0m-2 0h0m0 4h0m-1-5h0m0 2h0m-5-2h0m0 2h0m0 2h0m-2-4h0m-3 0h0m20 6h0m46 4h0m1-3h0m1 4h0m1-2h0m1-2h0m2 2h0m3-1h0m1-1h0m1 3h0m1-1h0m1-2h0m0 3h0m21-1h0m5 0h0m10 0h0m8-2h0m1 3h0m237-3h0m14 3h0m4-3h0m4 3h0m3-1h0m2 2h0m1-3h0m3 0h0m6 0h0m0 3h0m1-2h0m1-3h0m0 1h0m1 3h0m1-3h0m1 1h0m0 2h0m1 1h0m3-1h0m4-3h0m2 0h0m7 7h0m-6-1h0m-3-1h0m-1 2h0m0 2h0m-2-1h0m-2 2h0m-1-2h0m-1-1h0m-2-1h0m-2 2h0m-1-1h0m-2 2h0m-1-4h0m0 2h0m0 3h0m-2-4h0m0 3h0m-1-4h0m-4 4h0m-1-1h0m0 2h0m-2 0h0m-2-4h0m-1 3h0m-1-3h0m-2-1h0m0 4h0m-3-1h0m-1 2h0m-3-1h0m-9-3h0m-245 4h0m-1-5h0m0 3h0m-3-2h0m-3 2h0m-1 2h0m-1-3h0m-1-1h0m0 4h0m-2-1h0m-1 0h0m-1 1h0m-2-2h0m0 2h0m-1-3h0m-2 0h0m-1 1h0m0 2h0m-2-3h0m-7 0h0m-13 2h0m-1-2h0m-1 3h0m-2-2h0m-1 2h0m-1-2h0m-1 2h0m-1-4h0m0 2h0m-2-2h0m-1 2h0m0 1h0m-2 1h0m2 1h0m0 2h0m1 1h0m4 2h0m1-4h0m1 1h0m0 1h0m0 2h0m1-5h0m2 5h0m1-5h0m1 2h0m0 3h0m1 0h0m1-3h0m3 3h0m1-4h0m2 2h0m3 0h0m0 2h0m2 0h0m4-3h0m6 2h0m1 1h0m2 0h0m2-5h0m2 5h0m5-2h0m2 0h0m1-2h0m1 1h0m1 2h0m242 1h0m1-2h0m7-3h0m9 1h0m0 2h0m1 2h0m2-5h0m3 4h0m6-2h0m1 2h0m1 1h0m1-5h0m2 5h0m1-3h0m0 3h0m1-4h0m1-1h0m1 3h0m1 1h0m2-1h0m1 2h0m1-4h0m2 4h0m3-4h0m0 4h0m3-5h0m1 2h0m2 3h0m1-3h0m2-1h0m3 4h0m4-5h0m4 10h0m-5-3h0m-2 1h0m-2 2h0m-1-4h0m0 2h0m-1 2h0m-2-2h0m0 1h0m0 2h0m-3-1h0m-2-4h0m0 5h0m-1-3h0m0 1h0m-2-3h0m0 3h0m-1 2h0m-3-1h0m-2-3h0m0 1h0m-2 0h0m0 2h0m-2-4h0m-3 3h0m-1 2h0m-1-3h0m-1-1h0m0 4h0m-1-1h0m-2-1h0m0 2h0m-2-2h0m0 2h0m-1-5h0m-2 5h0m-1-2h0m-1-1h0m-1-1h0m0 2h0m-4 0h0m0 2h0m-2-1h0m-4-2h0m-10 0h0m-234-1h0m-2 0h0m-4 1h0m0 2h0m-6-2h0m-3-2h0m0 2h0m0 3h0m-2-1h0m-4 0h0m-3-3h0m0 2h0m-2-1h0m0 2h0m-2-2h0m-1-2h0m-2 3h0m-1-3h0m-4 1h0m-1 3h0m-2-4h0m0 4h0m-2-2h0m0 2h0m-1-4h0m-3 4h0m-2 0h0m-2-3h0m-1 0h0m0 3h0m-3-2h0m0 3h0m-1-1h0m-2-3h0m-2 2h0m0 2h0m-2-1h0m-3-4h0m0 3h0m0 8h0m1-5h0m1 5h0m2-3h0m3 1h0m0 2h0m2-4h0m1 0h0m0 3h0m2-2h0m2 3h0m1-2h0m0 2h0m2-5h0m2 4h0m1-4h0m0 4h0m1-3h0m0 3h0m3-4h0m4 5h0m1-5h0m2 1h0m0 3h0m1-4h0m4 3h0m1-1h0m2-1h0m0 1h0m2 1h0m0 2h0m4-3h0m3 3h0m2-5h0m0 2h0m0 2h0m2-3h0m3 3h0m4-3h0m239 1h0m0 3h0m10-2h0m0 2h0m2-5h0m0 3h0m2-3h0m0 5h0m2-3h0m2 2h0m2-4h0m0 3h0m1-2h0m0 2h0m1 1h0m1-3h0m2 1h0m0 2h0m3-3h0m0 2h0m3 1h0m1-2h0m1 2h0m2-4h0m1 5h0m1-5h0m1 3h0m0 2h0m3 0h0m1-5h0m1 3h0m1-1h0m2 2h0m1-2h0m2-1h0m0 2h0m1 1h0m4-2h0m0 2h0m1-3h0m3 0h0m1 3h0m2-2h0m2 1h0m1-3h0m0 5h0m1-3h0m1 5h0m-3 1h0m-1 1h0m-1-2h0m0 3h0m-2-1h0m-3-1h0m-2 0h0m0 3h0m-3-2h0m-2 0h0m-1-1h0m-1 2h0m-2 1h0m-1-2h0m-2-1h0m-1-1h0m-2-1h0m-2 2h0m0 3h0m-3-4h0m-1 4h0m-1-3h0m-2-2h0m0 1h0m0 3h0m-3-4h0m-2 5h0m-2-3h0m-1 0h0m-1 3h0m-1-4h0m-2-1h0m0 4h0m-1 1h0m-3-3h0m-2 0h0m0 2h0m-2 1h0m-248 0h0m-2-5h0m-3 0h0m0 5h0m-1-2h0m-2 1h0m-1-4h0m-4 3h0m-4 1h0m-2-4h0m-1 4h0m-3-2h0m-1 1h0m0 1h0m-3 0h0m-1-4h0m-1 4h0m-4-2h0m-2-1h0m0 4h0m-1-3h0m-4-2h0m0 4h0m-1-2h0m-1 3h0m-6-1h0m-1-1h0m-2 1h0m-1 1h0m-2-4h0m-1-1h0m-1 3h0m-2 0h0m-1 1h0m-2-2h0m-4 7h0m4 1h0m1-1h0m2 0h0m3-2h0m4 0h0m1 3h0m1-4h0m1 3h0m0 1h0m1-4h0m2 0h0m0 2h0m2 0h0m0 1h0m2 2h0m1-5h0m2 0h0m0 4h0m4-3h0m4 3h0m1-3h0m1 2h0m1-3h0m0 4h0m4 1h0m3-3h0m4-1h0m0 4h0m1-3h0m2-2h0m1 1h0m2 1h0m1-2h0m1 3h0m0 2h0m2-4h0m2 0h0m1 4h0m1-2h0m1-2h0m249 0h0m2-1h0m1 2h0m1 2h0m3 0h0m2-2h0m3-1h0m1 1h0m0 2h0m1-2h0m1 1h0m2-3h0m0 3h0m1-3h0m0 2h0m2-1h0m0 2h0m3-2h0m1 0h0m0 3h0m3 0h0m1-3h0m1 1h0m7-2h0m0 2h0m3 2h0m1-4h0m0 3h0m1-1h0m0 3h0m1-5h0m2 1h0m0 2h0m2 2h0m1-3h0m1 2h0m2-4h0m2 0h0m0 2h0m2 3h0m2-2h0m-2 4h0m-2 0h0m-1 1h0m-1-2h0m-1 0h0m0 5h0m-2-4h0m0 2h0m0 2h0m-2-5h0m0 5h0m-1-2h0m0 2h0m-1-5h0m-3 2h0m0 3h0m-1-5h0m-2 1h0m0 4h0m-2-5h0m0 4h0m-1-1h0m-2-3h0m-1 4h0m-1-2h0m-2-1h0m-1 3h0m-1-2h0m-2 3h0m-1-3h0m-2 2h0m-2-4h0m0 2h0m-2 2h0m-1-3h0m-1 3h0m-1-3h0m-1 2h0m-2 2h0m-1-4h0m-3 4h0m-1-3h0m-3-2h0m-7 3h0m-247 1h0m-1-3h0m0 4h0m-3-2h0m-1-1h0m0 2h0m-1 1h0m-2 0h0m-1-5h0m0 2h0m0 3h0m-1-5h0m-1 4h0m-2-3h0m-1 3h0m-2-1h0m0 1h0m-2-4h0m-1 5h0m-1-1h0m-2-1h0m-3 2h0m-1-3h0m-2 1h0m-1-2h0m0 4h0m-1-5h0m0 2h0m0 3h0m-4 0h0m-1-3h0m0 3h0m-2-1h0m-3-4h0m-1 3h0m-3 2h0m-1-4h0m0 1h0m-1 2h0m-1-4h0m0 2h0m-2 3h0m-1-1h0m-1-2h0m-1 2h0m-2-3h0m0 3h0m-2 0h0m-1 1h0m-1-2h0m-3 0h0m-1 5h0m1-1h0m3 0h0m1 2h0m1-2h0m1 2h0m2-2h0m0 3h0m2-2h0m3 3h0m1-3h0m2-1h0m0 3h0m2-3h0m2 1h0m2-2h0m0 4h0m1-2h0m2-2h0m0 1h0m0 2h0m4-1h0m4-1h0m0 3h0m1-1h0m2 1h0m1-2h0m2-2h0m1 4h0m2 0h0m2-1h0m2 1h0m3-1h0m1 0h0m0 2h0m1-4h0m2 3h0m1-3h0m1 2h0m2-3h0m2 3h0m1-2h0m2-1h0m239 0h0m17 4h0m3-4h0m0 1h0m1-1h0m1 5h0m3-2h0m2-1h0m2 1h0m0 2h0m1-4h0m1 2h0m2-2h0m0 2h0m1 1h0m4-3h0m1 2h0m0 2h0m1-4h0m1 2h0m2-2h0m0 2h0m1 2h0m1-3h0m1 1h0m1 2h0m1-5h0m1 4h0m1-2h0m3 0h0m1-1h0m0 4h0m1-5h0m4 3h0m1-2h0m-2 6h0m-1-1h0m-3 1h0m-1 2h0m-2 0h0m-1-3h0m-1 2h0m-1-1h0m-2 1h0m0 2h0m-1-4h0m0 5h0m-2-4h0m0 3h0m-1-4h0m0 3h0m-1-2h0m-2 2h0m-1-1h0m-1-1h0m-1 2h0m-1-1h0m-1 1h0m-2-1h0m-1-2h0m-3 1h0m0 1h0m-3 0h0m-4 1h0m-13-1h0m-2 0h0m-245 2h0m-2-3h0m-2-1h0m0 4h0m-4-2h0m-1-2h0m-1 4h0m-1-2h0m-3 2h0m-1 1h0m-1-3h0m-1-2h0m-1 3h0m-3-3h0m-3 1h0m0 1h0m-1 1h0m0 2h0m-2-5h0m0 1h0m-1 4h0m-1-4h0m0 2h0m-2-2h0m0 4h0m-3-1h0m-1-1h0m-1 1h0m-2 0h0m-2-1h0m-2-2h0m0 3h0m-6 0h0m-1-3h0m-1 2h0m0 2h0m-1 0h0m-1-1h0m-2-4h0m-1 0h0m0 3h0m-2 1h0m-2-3h0m-1 3h0m-3 0h0m2 5h0m1-2h0m2 4h0m3-4h0m1 3h0m3-2h0m1 2h0m0 1h0m2-1h0m2-2h0m0 2h0m1-4h0m1 1h0m0 4h0m3-5h0m3 2h0m2 0h0m0 3h0m3-1h0m3-1h0m3-1h0m1-2h0m0 5h0m2-3h0m1 3h0m4-5h0m3 1h0m1 0h0m3 2h0m1-2h0m0 4h0m2-5h0m0 2h0m2 0h0m0 2h0m1-1h0m2 2h0m1-2h0m276-2h0m2 0h0m4-1h0m3 0h0m1 1h0m4-1h0m3 3h0m1-1h0m5 9h0m-11-5h0m-6 4h0m-4-1h0m-2-1h0m-23-2h0m-258 1h0m-3-1h0m-2 0h0m-2 0h0m-3 0h0m-15 4h0m-4-2h0m-5 1h0m-3-2h0m-1-1h0m0 5h0m-1-4h0m-3 3h0m-1-2h0m-4-1h0m8 5h0m0 2h0m4-1h0m0 2h0m5-2h0m316 0h0"/>
</g>
<rect x="627.4" y="11.3" width="571.5" height="568.3" fill="none" stroke="#000" stroke-width="2.65"/>
<text class="pl" x="633.3" y="54.5">b</text>
<text class="lab" x="841.8" y="161.2">HSC</text>
<text class="lab" x="761.8" y="293.1">CMP</text>
<text class="lab" x="677.0" y="475.8">GMP</text>
<text class="lab" x="1081.2" y="65.6">B</text>
<text class="lab" x="1018.3" y="174.8">Pre-B</text>
<text class="lab" x="1026.0" y="268.7">CLP</text>
<text class="lab" x="901.8" y="402.2">NK</text>
<text class="lab" x="1071.2" y="411.4">CD4</text>
<text class="lab" x="933.0" y="515.3">CD8</text>
<!-- axes arrows -->
<path d="M27.0 494.3V594.45H131.2" fill="none" stroke="#000" stroke-width="4.8"/>
<path d="M27.0 480.3l7.5 15h-15z" fill="#000"/>
<path d="M145.2 594.45l-15 -7.5v15z" fill="#000"/>
<text class="um" x="30.2" y="620.3">UMAP 1</text>
<text class="um" transform="translate(19.4 591.3) rotate(-90)">UMAP 2</text>
<!-- colour bar -->
<linearGradient id="rdbu" x1="0" x2="1" y1="0" y2="0"><stop offset="0" stop-color="#053061"/><stop offset="0.1" stop-color="#2166ac"/><stop offset="0.2" stop-color="#4393c3"/><stop offset="0.3" stop-color="#92c5de"/><stop offset="0.4" stop-color="#d1e5f0"/><stop offset="0.5" stop-color="#f7f7f7"/><stop offset="0.6" stop-color="#fddbc7"/><stop offset="0.7" stop-color="#f4a582"/><stop offset="0.8" stop-color="#d6604d"/><stop offset="0.9" stop-color="#b2182b"/><stop offset="1" stop-color="#67001f"/></linearGradient>
<rect x="913.5" y="591.0" width="213.1" height="24.2" fill="url(#rdbu)" stroke="#111" stroke-width="1.1"/>
<text class="mm" x="852.5" y="614.1">Min</text>
<text class="mm" x="1136.6" y="614.1">Max</text>
<!-- panel c -->
<rect class="plotbg" x="1301.1" y="17.3" width="293.9" height="555.7" fill="#fdfdfd"/>
<g fill="#333"><circle cx="1381.1" cy="66.0" r="3.9"/><circle cx="1381.1" cy="70.6" r="3.9"/><circle cx="1381.1" cy="98.6" r="3.9"/><circle cx="1381.1" cy="502.6" r="3.9"/><circle cx="1381.1" cy="497" r="3.9"/><circle cx="1381.1" cy="490" r="3.9"/></g>
<g fill="#333"><circle cx="1381.1" cy="118" r="3.9"/><circle cx="1381.1" cy="122.1" r="3.9"/><circle cx="1381.1" cy="125.4" r="3.9"/><circle cx="1381.1" cy="129.4" r="3.9"/><circle cx="1381.1" cy="131.6" r="3.9"/><circle cx="1381.1" cy="134.7" r="3.9"/><circle cx="1381.1" cy="136.8" r="3.9"/><circle cx="1381.1" cy="138.9" r="3.9"/><circle cx="1381.1" cy="142.5" r="3.9"/><circle cx="1381.1" cy="143.6" r="3.9"/><circle cx="1381.1" cy="146.5" r="3.9"/><circle cx="1381.1" cy="148.4" r="3.9"/><circle cx="1381.1" cy="151.9" r="3.9"/><circle cx="1381.1" cy="154.1" r="3.9"/><circle cx="1381.1" cy="156.9" r="3.9"/><circle cx="1381.1" cy="159.8" r="3.9"/><circle cx="1381.1" cy="162.6" r="3.9"/><circle cx="1381.1" cy="165.2" r="3.9"/><circle cx="1381.1" cy="166.8" r="3.9"/><circle cx="1381.1" cy="168.4" r="3.9"/><circle cx="1381.1" cy="171.0" r="3.9"/><circle cx="1381.1" cy="173.4" r="3.9"/><circle cx="1381.1" cy="175.3" r="3.9"/><circle cx="1381.1" cy="176.2" r="3.9"/><circle cx="1381.1" cy="178.7" r="3.9"/><circle cx="1381.1" cy="179.8" r="3.9"/><circle cx="1381.1" cy="180.8" r="3.9"/><circle cx="1381.1" cy="182.7" r="3.9"/><circle cx="1381.1" cy="184.9" r="3.9"/><circle cx="1381.1" cy="187.0" r="3.9"/><circle cx="1381.1" cy="188.7" r="3.9"/></g>
<g fill="#333"><circle cx="1381.1" cy="450" r="3.9"/><circle cx="1381.1" cy="451.9" r="3.9"/><circle cx="1381.1" cy="454.0" r="3.9"/><circle cx="1381.1" cy="454.9" r="3.9"/><circle cx="1381.1" cy="455.9" r="3.9"/><circle cx="1381.1" cy="458.5" r="3.9"/><circle cx="1381.1" cy="460.1" r="3.9"/><circle cx="1381.1" cy="462.4" r="3.9"/><circle cx="1381.1" cy="464.4" r="3.9"/><circle cx="1381.1" cy="467.6" r="3.9"/><circle cx="1381.1" cy="469.5" r="3.9"/><circle cx="1381.1" cy="473.2" r="3.9"/><circle cx="1381.1" cy="475.2" r="3.9"/><circle cx="1381.1" cy="476.7" r="3.9"/><circle cx="1381.1" cy="480" r="3.9"/></g>
<path d="M1381.1 193V286.8M1381.1 351.4V445" stroke="#333" stroke-width="1.85" fill="none"/>
<rect x="1330.8" y="286.8" width="101.1" height="64.6" fill="#F8766D" stroke="#333" stroke-width="1.85"/>
<path d="M1330.8 320.5H1431.9" stroke="#333" stroke-width="3.4" fill="none"/>
<g fill="#333"><circle cx="1514.9" cy="183.5" r="3.9"/><circle cx="1514.9" cy="547.7" r="3.9"/></g>
<g fill="#333"><circle cx="1514.9" cy="207" r="3.9"/><circle cx="1514.9" cy="210.0" r="3.9"/><circle cx="1514.9" cy="213.2" r="3.9"/><circle cx="1514.9" cy="217.7" r="3.9"/><circle cx="1514.9" cy="222.0" r="3.9"/><circle cx="1514.9" cy="224.8" r="3.9"/><circle cx="1514.9" cy="226.6" r="3.9"/><circle cx="1514.9" cy="227.7" r="3.9"/><circle cx="1514.9" cy="229.9" r="3.9"/><circle cx="1514.9" cy="232.0" r="3.9"/><circle cx="1514.9" cy="235.9" r="3.9"/><circle cx="1514.9" cy="237.4" r="3.9"/><circle cx="1514.9" cy="238.3" r="3.9"/><circle cx="1514.9" cy="240.1" r="3.9"/><circle cx="1514.9" cy="241.1" r="3.9"/><circle cx="1514.9" cy="243.5" r="3.9"/><circle cx="1514.9" cy="244.4" r="3.9"/><circle cx="1514.9" cy="245.8" r="3.9"/><circle cx="1514.9" cy="248.7" r="3.9"/><circle cx="1514.9" cy="249.5" r="3.9"/><circle cx="1514.9" cy="251.5" r="3.9"/><circle cx="1514.9" cy="253.5" r="3.9"/><circle cx="1514.9" cy="255.8" r="3.9"/><circle cx="1514.9" cy="256.7" r="3.9"/><circle cx="1514.9" cy="258.5" r="3.9"/><circle cx="1514.9" cy="260.4" r="3.9"/><circle cx="1514.9" cy="261.6" r="3.9"/><circle cx="1514.9" cy="263.0" r="3.9"/><circle cx="1514.9" cy="265.6" r="3.9"/><circle cx="1514.9" cy="267.6" r="3.9"/><circle cx="1514.9" cy="268.6" r="3.9"/><circle cx="1514.9" cy="269.5" r="3.9"/><circle cx="1514.9" cy="271.2" r="3.9"/><circle cx="1514.9" cy="272.9" r="3.9"/><circle cx="1514.9" cy="274.1" r="3.9"/><circle cx="1514.9" cy="276.2" r="3.9"/><circle cx="1514.9" cy="277.2" r="3.9"/><circle cx="1514.9" cy="279.2" r="3.9"/><circle cx="1514.9" cy="280.1" r="3.9"/><circle cx="1514.9" cy="281.6" r="3.9"/></g>
<g fill="#333"><circle cx="1514.9" cy="495" r="3.9"/><circle cx="1514.9" cy="496.0" r="3.9"/><circle cx="1514.9" cy="497.4" r="3.9"/><circle cx="1514.9" cy="498.3" r="3.9"/><circle cx="1514.9" cy="499.1" r="3.9"/><circle cx="1514.9" cy="500.1" r="3.9"/><circle cx="1514.9" cy="502.2" r="3.9"/><circle cx="1514.9" cy="503.8" r="3.9"/><circle cx="1514.9" cy="505.2" r="3.9"/><circle cx="1514.9" cy="507.4" r="3.9"/><circle cx="1514.9" cy="509.4" r="3.9"/><circle cx="1514.9" cy="512.1" r="3.9"/><circle cx="1514.9" cy="513.4" r="3.9"/><circle cx="1514.9" cy="516.3" r="3.9"/><circle cx="1514.9" cy="517.6" r="3.9"/><circle cx="1514.9" cy="520.6" r="3.9"/><circle cx="1514.9" cy="522.1" r="3.9"/><circle cx="1514.9" cy="523.5" r="3.9"/><circle cx="1514.9" cy="525.2" r="3.9"/><circle cx="1514.9" cy="528.4" r="3.9"/><circle cx="1514.9" cy="529.2" r="3.9"/><circle cx="1514.9" cy="532.8" r="3.9"/><circle cx="1514.9" cy="534.1" r="3.9"/><circle cx="1514.9" cy="537.3" r="3.9"/><circle cx="1514.9" cy="541" r="3.9"/></g>
<path d="M1514.9 285V362M1514.9 415V492" stroke="#333" stroke-width="1.85" fill="none"/>
<rect x="1465" y="362" width="100.4" height="53" fill="#00BFC4" stroke="#333" stroke-width="1.85"/>
<path d="M1465 388.8H1565.4" stroke="#333" stroke-width="3.4" fill="none"/>
<path d="M1301.1 18.3V573.0H1594.0" fill="none" stroke="#000" stroke-width="2.2" stroke-linecap="square"/>
<path d="M1300.0 34.0h-3.9" stroke="#333" stroke-width="1.5"/><text class="tk" text-anchor="end" x="1291.5" y="42.6">10</text>
<path d="M1300.0 197.35h-3.9" stroke="#333" stroke-width="1.5"/><text class="tk" text-anchor="end" x="1291.5" y="205.95">5</text>
<path d="M1300.0 360.7h-3.9" stroke="#333" stroke-width="1.5"/><text class="tk" text-anchor="end" x="1291.5" y="369.3">0</text>
<path d="M1300.0 524.05h-3.9" stroke="#333" stroke-width="1.5"/><text class="tk" text-anchor="end" x="1291.5" y="532.65">-5</text>
<path d="M1381.1 574.1v3.9" stroke="#333" stroke-width="1.5"/><text class="tk" text-anchor="middle"><tspan x="1381.1" y="599.7">HSC/</tspan><tspan x="1381.1" y="626.1">CMP/GMP</tspan></text>
<path d="M1514.9 574.1v3.9" stroke="#333" stroke-width="1.5"/><text class="tk" text-anchor="middle"><tspan x="1514.9" y="599.7">Lymphoid</tspan></text>
<text class="yt" text-anchor="middle" transform="translate(1253.9 294) rotate(-90)">Relative chromatin accessibility</text>
<path d="M1381.1 56.8V42.0H1514.9V56.8" fill="none" stroke="#333" stroke-width="1.7"/>
<text class="st" text-anchor="middle" x="1449.1" y="33.4">****</text>
<text class="pl" x="1222.3" y="55.5">c</text>
<!-- panel d -->
<rect class="plotbg" x="1687.1" y="17.3" width="300.0" height="555.7" fill="#fdfdfd"/>
<g fill="#333"><circle cx="1769" cy="196" r="3.9"/><circle cx="1769" cy="201" r="3.9"/><circle cx="1769" cy="522.2" r="3.9"/><circle cx="1769" cy="526" r="3.9"/><circle cx="1769" cy="534.6" r="3.9"/><circle cx="1769" cy="541" r="3.9"/><circle cx="1769" cy="547.4" r="3.9"/></g>
<g fill="#333"><circle cx="1769" cy="212" r="3.9"/><circle cx="1769" cy="213.3" r="3.9"/><circle cx="1769" cy="216.8" r="3.9"/><circle cx="1769" cy="218.7" r="3.9"/><circle cx="1769" cy="221.1" r="3.9"/><circle cx="1769" cy="223.8" r="3.9"/><circle cx="1769" cy="226.0" r="3.9"/><circle cx="1769" cy="227.6" r="3.9"/><circle cx="1769" cy="231.1" r="3.9"/><circle cx="1769" cy="233.8" r="3.9"/><circle cx="1769" cy="236.5" r="3.9"/><circle cx="1769" cy="239.5" r="3.9"/><circle cx="1769" cy="241.0" r="3.9"/><circle cx="1769" cy="243.1" r="3.9"/><circle cx="1769" cy="244.0" r="3.9"/><circle cx="1769" cy="246.5" r="3.9"/><circle cx="1769" cy="249.0" r="3.9"/><circle cx="1769" cy="252.1" r="3.9"/><circle cx="1769" cy="254.4" r="3.9"/><circle cx="1769" cy="257.0" r="3.9"/><circle cx="1769" cy="258.3" r="3.9"/><circle cx="1769" cy="259.3" r="3.9"/><circle cx="1769" cy="261.2" r="3.9"/><circle cx="1769" cy="263.5" r="3.9"/><circle cx="1769" cy="264.5" r="3.9"/><circle cx="1769" cy="265.3" r="3.9"/><circle cx="1769" cy="266.9" r="3.9"/><circle cx="1769" cy="269.0" r="3.9"/><circle cx="1769" cy="270.6" r="3.9"/></g>
<path d="M1769 275V363.6M1769 426.3V520" stroke="#333" stroke-width="1.85" fill="none"/>
<rect x="1718.2" y="363.6" width="102.4" height="62.7" fill="#F8766D" stroke="#333" stroke-width="1.85"/>
<path d="M1718.2 395.4H1820.6" stroke="#333" stroke-width="3.4" fill="none"/>
<g fill="#333"><circle cx="1905.7" cy="66.1" r="3.9"/><circle cx="1905.7" cy="75.8" r="3.9"/><circle cx="1905.7" cy="491.4" r="3.9"/><circle cx="1905.7" cy="497" r="3.9"/><circle cx="1905.7" cy="504.1" r="3.9"/></g>
<g fill="#333"><circle cx="1905.7" cy="111" r="3.9"/><circle cx="1905.7" cy="113.2" r="3.9"/><circle cx="1905.7" cy="114.3" r="3.9"/><circle cx="1905.7" cy="115.6" r="3.9"/><circle cx="1905.7" cy="120.1" r="3.9"/><circle cx="1905.7" cy="123.9" r="3.9"/><circle cx="1905.7" cy="128.3" r="3.9"/><circle cx="1905.7" cy="131.0" r="3.9"/><circle cx="1905.7" cy="134.9" r="3.9"/><circle cx="1905.7" cy="135.8" r="3.9"/><circle cx="1905.7" cy="139.8" r="3.9"/><circle cx="1905.7" cy="142.7" r="3.9"/><circle cx="1905.7" cy="145.4" r="3.9"/><circle cx="1905.7" cy="148.6" r="3.9"/><circle cx="1905.7" cy="150.3" r="3.9"/><circle cx="1905.7" cy="152.2" r="3.9"/><circle cx="1905.7" cy="155.7" r="3.9"/><circle cx="1905.7" cy="158.0" r="3.9"/><circle cx="1905.7" cy="161.3" r="3.9"/><circle cx="1905.7" cy="164.5" r="3.9"/><circle cx="1905.7" cy="166.5" r="3.9"/><circle cx="1905.7" cy="169.4" r="3.9"/><circle cx="1905.7" cy="171.7" r="3.9"/><circle cx="1905.7" cy="174.1" r="3.9"/><circle cx="1905.7" cy="176.0" r="3.9"/><circle cx="1905.7" cy="178.5" r="3.9"/><circle cx="1905.7" cy="180.2" r="3.9"/><circle cx="1905.7" cy="182.4" r="3.9"/><circle cx="1905.7" cy="183.7" r="3.9"/><circle cx="1905.7" cy="186.0" r="3.9"/><circle cx="1905.7" cy="186.9" r="3.9"/><circle cx="1905.7" cy="188.1" r="3.9"/><circle cx="1905.7" cy="190.0" r="3.9"/><circle cx="1905.7" cy="191.1" r="3.9"/><circle cx="1905.7" cy="192.7" r="3.9"/><circle cx="1905.7" cy="194.4" r="3.9"/><circle cx="1905.7" cy="195.5" r="3.9"/><circle cx="1905.7" cy="196.8" r="3.9"/><circle cx="1905.7" cy="198.8" r="3.9"/></g>
<path d="M1905.7 203V308.6M1905.7 381.2V489" stroke="#333" stroke-width="1.85" fill="none"/>
<rect x="1854.4" y="308.6" width="103.0" height="72.6" fill="#00BFC4" stroke="#333" stroke-width="1.85"/>
<path d="M1854.4 346.2H1957.4" stroke="#333" stroke-width="3.4" fill="none"/>
<path d="M1687.1 18.3V573.0H1986.1" fill="none" stroke="#000" stroke-width="2.2" stroke-linecap="square"/>
<path d="M1686.0 79.5h-3.9" stroke="#333" stroke-width="1.5"/><text class="tk" text-anchor="end" x="1677.5" y="88.1">6</text>
<path d="M1686.0 174.3h-3.9" stroke="#333" stroke-width="1.5"/><text class="tk" text-anchor="end" x="1677.5" y="182.9">4</text>
<path d="M1686.0 269.1h-3.9" stroke="#333" stroke-width="1.5"/><text class="tk" text-anchor="end" x="1677.5" y="277.7">2</text>
<path d="M1686.0 363.9h-3.9" stroke="#333" stroke-width="1.5"/><text class="tk" text-anchor="end" x="1677.5" y="372.5">0</text>
<path d="M1686.0 458.7h-3.9" stroke="#333" stroke-width="1.5"/><text class="tk" text-anchor="end" x="1677.5" y="467.3">-2</text>
<path d="M1686.0 553.5h-3.9" stroke="#333" stroke-width="1.5"/><text class="tk" text-anchor="end" x="1677.5" y="562.1">-4</text>
<path d="M1769 574.1v3.9" stroke="#333" stroke-width="1.5"/><text class="tk" text-anchor="middle"><tspan x="1769" y="599.7">HSC/</tspan><tspan x="1769" y="626.1">CMP/GMP</tspan></text>
<path d="M1905.7 574.1v3.9" stroke="#333" stroke-width="1.5"/><text class="tk" text-anchor="middle"><tspan x="1905.7" y="599.7">Lymphoid</tspan></text>
<text class="yt" text-anchor="middle" transform="translate(1647.3 294) rotate(-90)">Relative chromatin accessibility</text>
<path d="M1769 56.8V42.0H1905.7V56.8" fill="none" stroke="#333" stroke-width="1.7"/>
<text class="st" text-anchor="middle" x="1838.45" y="33.4">****</text>
<text class="pl" x="1613.3" y="55.5">d</text>
</svg>
</figure>
</body></html>
